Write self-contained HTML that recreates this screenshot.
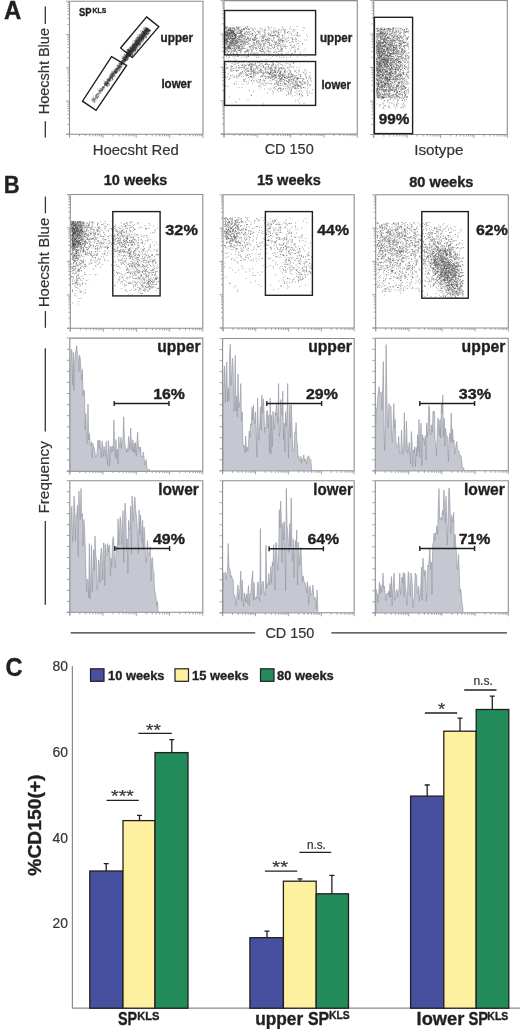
<!DOCTYPE html>
<html><head><meta charset="utf-8"><title>Figure</title>
<style>html,body{margin:0;padding:0;background:#fff;font-family:"Liberation Sans",sans-serif;width:520px;height:1029px;overflow:hidden}svg{display:block;will-change:transform}</style>
</head><body>
<svg width="520" height="1029" viewBox="0 0 520 1029" font-family="'Liberation Sans', sans-serif">
<rect width="520" height="1029" fill="#fff"/>
<defs><filter id="bl" x="-5%" y="-5%" width="110%" height="110%"><feGaussianBlur stdDeviation="0.35"/></filter></defs>
<text x="4" y="19.1" font-size="25" font-weight="bold" textLength="17.3" lengthAdjust="spacingAndGlyphs" fill="#231f20" stroke="#231f20" stroke-width="0.35">A</text>
<line x1="45.3" y1="6.5" x2="45.3" y2="24.1" stroke="#333" stroke-width="1.3"/>
<line x1="45.3" y1="121.3" x2="45.3" y2="137.6" stroke="#333" stroke-width="1.3"/>
<text x="48.7" y="114.3" font-size="15" textLength="86.3" lengthAdjust="spacingAndGlyphs" transform="rotate(-90 48.7 114.3)" fill="#333" stroke="#333" stroke-width="0.2">Hoecsht Blue</text>
<path d="M69.5 1.2H203V134.3" stroke="#8c8c8c" stroke-width="1.1" fill="none"/>
<path d="M69.5 1.2V137.3M66.5 134.3H203" stroke="#8c8c8c" stroke-width="1.1" fill="none"/>
<path d="M69.5 134.3v3.5M79.5 134.3v2M85.4 134.3v2M89.6 134.3v2M92.8 134.3v2M95.5 134.3v2M97.7 134.3v2M99.6 134.3v2M101.3 134.3v2M102.9 134.3v3.5M112.9 134.3v2M118.8 134.3v2M123.0 134.3v2M126.2 134.3v2M128.8 134.3v2M131.1 134.3v2M133.0 134.3v2M134.7 134.3v2M136.2 134.3v3.5M146.3 134.3v2M152.2 134.3v2M156.3 134.3v2M159.6 134.3v2M162.2 134.3v2M164.5 134.3v2M166.4 134.3v2M168.1 134.3v2M169.6 134.3v3.5M179.7 134.3v2M185.5 134.3v2M189.7 134.3v2M193.0 134.3v2M195.6 134.3v2M197.8 134.3v2M199.8 134.3v2M201.5 134.3v2M203.0 134.3v3.5" stroke="#9a9a9a" stroke-width="0.9" fill="none"/>
<path d="M69.5 134.3h-3.5M69.5 124.3h-2M69.5 118.4h-2M69.5 114.3h-2M69.5 111.0h-2M69.5 108.4h-2M69.5 106.2h-2M69.5 104.2h-2M69.5 102.5h-2M69.5 101.0h-3.5M69.5 91.0h-2M69.5 85.1h-2M69.5 81.0h-2M69.5 77.8h-2M69.5 75.1h-2M69.5 72.9h-2M69.5 71.0h-2M69.5 69.3h-2M69.5 67.8h-3.5M69.5 57.7h-2M69.5 51.9h-2M69.5 47.7h-2M69.5 44.5h-2M69.5 41.9h-2M69.5 39.6h-2M69.5 37.7h-2M69.5 36.0h-2M69.5 34.5h-3.5M69.5 24.5h-2M69.5 18.6h-2M69.5 14.4h-2M69.5 11.2h-2M69.5 8.6h-2M69.5 6.4h-2M69.5 4.4h-2M69.5 2.7h-2M69.5 1.2h-3.5" stroke="#9a9a9a" stroke-width="0.9" fill="none"/>
<g filter="url(#bl)">
<path d="M143 37.5h1m3 -3.5h1m-9 5h1m-3 4.5h1m-10 9.5h1m10 -11.5h1m-10.5 13.5h1m1.5 -5h1m3 -2.5h1m2 -12h1m0.5 -2.5h1m1 3h1m-6.5 8.5h1m-12 9h1m17.5 -19h1m-3.5 3.5h1m-6.5 7h1m1.5 -4h1m6 -4.5h1m-0.5 -2.5h1m-15.5 14h1m3.5 -8h1m-11 13.5h1m3 1h1m-1.5 -3h1m13 -17h1m-7 5.5h1m8 -7.5h1m-17.5 17h1m6 -8.5h1m-5 5h1m7 -15h1m-1 -0.5h1m-9 13.5h1m2.5 0.5h1m-1 -4h1m-5.5 10h1m-3 -2.5h1m4.5 -2.5h1m7 -10.5h1m-11 9.5h1m-2 0.5h1m-6.5 9h1m13.5 -14h1m0.5 -5.5h1m-10.5 10h1m-7 10h1m3.5 -7.5h1m12 -15h1m-2.5 0h1m-2.5 2h1m-2 0.5h1m-7.5 9h1m4.5 -5h1m-6.5 5h1m-6.5 10.5h1m7.5 -15h1m5 -5h1m-8 7h1m1.5 -0.5h1m7.5 -9.5h1m-20.5 20h1m9 -14.5h1m-9 14h1m-1.5 0.5h1m9 -12h1m-6 3h1m-7.5 11.5h1m1.5 -2h1m-4.5 1.5h1m11.5 -16h1m5.5 -5h1m-16 17.5h1m-1 0.5h1m-1 2h1m9 -10.5h1m-7 3.5h1m4.5 -4.5h1m-6 3h1m8.5 -10h1m-9 7h1m-7 12.5h1m10 -16.5h1m-5 1.5h1m-5 5.5h1m11 -15.5h1m-7 10.5h1m3.5 -4h1m-5.5 5h1m-11 10.5h1m15 -18.5h1m-17.5 19.5h1m-2 1.5h1m-2 -1.5h1m13 -16.5h1m-14.5 18h1m-1.5 -1h1m6.5 -4h1m3.5 -11h1m-12 14.5h1m12 -17h1m-7 10h1m1 -6.5h1m-5.5 6.5h1m10.5 -9.5h1m-10.5 10h1m5.5 -11h1m3.5 -5.5h1m-10.5 17h1m-3 -1.5h1m-3.5 5h1m15 -18h1m-19 21.5h1m9 -15h1m-7 4h1m-2.5 9h1m12 -19.5h1m-9.5 10h1m-10.5 13h1m13.5 -19h1m-12 14.5h1m-1 1.5h1m14 -21h1m-15 20h1m-5.5 0h1m18 -19h1m-13 13.5h1m2.5 -5h1m-1.5 4h1m4 -8h1m0.5 2.5h1m-10.5 10h1m8 -14.5h1m-8 8h1m-8.5 11h1m-1.5 1.5h1m15.5 -24h1m-18.5 25h1m11.5 -19.5h1m3 0.5h1m-16 19.5h1m1.5 -6h1m-5.5 2.5h1m21.5 -21h1m-15.5 16h1m-1 0h1m7.5 -12h1m-1.5 -2h1m-5 7.5h1m1 -5.5h1m1.5 1.5h1m-5.5 4h1m-7 10h1m10 -17h1m-6.5 5h1m-6 7h1m7.5 -6.5h1m-10.5 10h1m8 -11.5h1m3.5 -2.5h1m-9.5 7h1m-7.5 7.5h1m12 -16.5h1m-12 18h1m-5 3.5h1m3.5 -7h1m-6 6h1m15 -19.5h1m-10 14.5h1m-10.5 6h1m5.5 -8h1m7 -9.5h1m2.5 -2.5h1m2.5 -3h1m-11 12.5h1m-4.5 0h1m-7.5 6h1m4.5 -1h1m12 -15h1m-9 7h1m-3.5 3.5h1m0.5 -0.5h1m-6 2.5h1m13.5 -17.5h1m-9.5 14h1m-12 9.5h1m-0.5 2.5h1m5.5 -13h1m-9 12h1m4 -8h1m12.5 -13.5h1m-11 16h1m-5.5 2.5h1m3 -3.5h1m-4.5 0.5h1m-2.5 7.5h1m6 -11h1m9 -14.5h1m-6 8h1m-11.5 15h1m2.5 -7.5h1m-5 2.5h1m6.5 -7.5h1m-7 7h1m13.5 -18.5h1m-13.5 19h1m2.5 -4.5h1m8.5 -14.5h1m-2 1.5h1m-18.5 23h1m8 -10.5h1m-9.5 11.5h1m5 -12h1m2.5 1.5h1m-6 3h1m6.5 -7h1m0.5 -1.5h1m-8 9.5h1m1 -6h1m-1.5 -1h1m6 -4.5h1m-8.5 13h1m6.5 -13.5h1m-12.5 15.5h1m3 -8h1m8 -14h1m-14 21h1m-5.5 1h1m0 5h1m3 -11h1m-4 10.5h1m7.5 -13.5h1m6.5 -13h1m-16 23h1m13.5 -15h1m-3.5 -0.5h1m4 -5h1m-16.5 21h1m-3.5 -6h1m0.5 3h1m-1.5 -2h1m-1.5 5h1m12 -20h1m-13.5 18.5h1m-1 -4h1m-3.5 7.5h1m17.5 -26h1m-10.5 14.5h1m1.5 0.5h1m-11 9.5h1m11.5 -13.5h1m4 -4.5h1m-7.5 1.5h1m-5.5 8.5h1m-5.5 4.5h1m10.5 -16.5h1m-11.5 11.5h1m2 0h1m3.5 -5.5h1m-15.5 15h1m22 -23.5h1m-1.5 0.5h1m-11.5 11.5h1m-0.5 -2.5h1m7 -11h1m-2.5 1.5h1m-17.5 22h1m7 -12.5h1m-7.5 13.5h1m12 -19.5h1m-2.5 1.5h1m-7 8.5h1m6 -7h1m-8 6h1m1.5 -3.5h1m7 -7.5h1m-9 9h1m4 -4h1m-4 3.5h1m-6.5 9h1m-9.5 2h1m6 -6.5h1m-0.5 6h1m2 -13.5h1m0 1.5h1m-8 13h1m1 -5.5h1m-2 0.5h1m0.5 0.5h1m-5 4h1m-1.5 1h1m14 -17.5h1m-8.5 12.5h1m-4 -0.5h1m13 -18.5h1m-12 13h1m-6.5 6.5h1m5.5 -7.5h1m10 -10.5h1m-7 2h1m-6.5 11h1m11 -12.5h1m-6 6h1m-12.5 18.5h1m6 -20.5h1m-8 16h1m0 0h1m-5 0.5h1m8.5 -12.5h1m2 0h1m-12 12.5h1m0 1h1m-3 2h1m5.5 -10h1m3 -6.5h1m-11.5 14h1m0.5 0.5h1m6.5 -4.5h1m-13 6h1m2 -0.5h1m12 -17.5h1m-2 -1h1m-4 5.5h1m-2.5 3.5h1m8.5 -10h1m-1.5 -4h1m-7 11.5h1m-7 9h1m12.5 -18h1m-12.5 6h1m-6 13.5h1m15 -21h1m-20 21h1m9.5 -14.5h1m7.5 -7h1m-12 14h1m1 0.5h1m2 -7h1m-6 2.5h1m6.5 -10.5h1m0.5 2.5h1m1 -1h1m-10.5 8.5h1m-2.5 4.5h1m1 -3.5h1m-1.5 0.5h1m5.5 -6h1m-9 10.5h1m-6.5 9h1m-1.5 -2h1m5 -12h1m4 -4.5h1m-4.5 6h1m0 -2.5h1m1 4.5h1m-3.5 -0.5h1m6 -7h1m-8 2.5h1m3.5 -7.5h1m1 0h1m-10.5 10h1m1 8.5h1m-8.5 -2.5h1m3.5 -2h1m8 -12.5h1m-12 15.5h1m7 -9h1m6.5 -9h1m-14.5 18.5h1m6 -12h1m0.5 1h1m-2 -1.5h1m-9 10h1m-4 4h1m6 -8.5h1m2.5 -3h1m3.5 -4.5h1m-20.5 17h1m14 -18.5h1m-5.5 10h1m-3 2.5h1m-6.5 5h1m7.5 -8h1m8 -11.5h1m-9 8h1m6.5 -9h1m-12 20h1m-1.5 -2.5h1m-2 2.5h1m8 -18.5h1m-4.5 13.5h1m-5.5 3.5h1m3.5 -7h1m3 -3.5h1m0 -3h1m-0.5 -4h1m-13 19.5h1m-0.5 -9.5h1m5.5 -4.5h1m2 3h1m-16 11.5h1m8.5 -5h1m2.5 -9h1m-12.5 13.5h1m1 -2.5h1m7 -7.5h1m0.5 -1.5h1m1.5 -2h1m-6.5 0.5h1m-5.5 9.5h1m6.5 -9h1m-1.5 6.5h1m0.5 -5.5h1m-4.5 2.5h1m3.5 -7.5h1m4 -1.5h1m-13 12h1m-0.5 -1h1m5 -8h1m-5.5 7h1m4 -5.5h1m-6 5.5h1m-10 8h1m8 -8h1m7 -8.5h1m-1.5 -1.5h1m-7.5 12h1m2.5 -7.5h1m-5.5 3.5h1m2.5 -3.5h1m1 -5.5h1m-10 13h1m-12 15h1m6 -5.5h1m-4 4.5h1m1 -7h1m-4.5 6.5h1m0.5 1.5h1m1.5 -3.5h1m-1 -2h1m-3 -1h1m0 0h1m-4 6h1m1.5 -2.5h1m-2.5 -3.5h1m1.5 -0.5h1m-4 8h1m-3.5 -5.5h1m2.5 -4h1m-1.5 6.5h1m-2.5 -2h1m-0.5 4h1m-1 -3h1m1 -3.5h1m-3.5 6h1m0 -3h1m-1 -0.5h1m2 0h1m-4 1h1m1 -2.5h1m-4 5h1m-3 -0.5h1m0.5 1h1m-1.5 0.5h1m0.5 0h1m3 -7h1m-0.5 0h1m-4.5 3.5h1m0 -3.5h1m-3.5 5h1m1 -3.5h1m-2 3h1m3 -3.5h1m-3 -0.5h1m2 1.5h1m-6.5 0h1m-2 3h1m0 0.5h1m-1 -3h1m2.5 -1h1m-5 3h1m2.5 -3.5h1m-5.5 5h1m4.5 -7h1m-5 5h1m-1.5 -0.5h1m1.5 0.5h1m2 -2.5h1m-5 3h1m3 -4h1m-2 2h1m-2.5 -2h1m-4 2.5h1m1 -1h1m-3 2h1m-1.5 2h1m1 -4.5h1m0.5 1.5h1m-1.5 0h1m1 -1.5h1m-3.5 5.5h1m-3 -3h1m3 -2h1m-0.5 -2.5h1m-4.5 5h1m-1.5 2h1m1.5 -6h1m-0.5 2h1m-2.5 1.5h1m-1 -0.5h1m-1.5 -1h1m-1 1h1m-2 -0.5h1m-1 2h1m-1 2.5h1m-3 -4h1m2.5 1h1m-0.5 -2h1m-3.5 5h1m4.5 -6h1m-6.5 2h1m-3.5 2.5h1m4 -4.5h1m-1.5 -3h1m-4.5 9h1m-17.5 23h1m2 -4.5h1m-3 1h1m-5.5 3.5h1m7 -6h1m12.5 -17.5h1m-14.5 14h1m-1.5 1h1m1.5 0h1m-8 7.5h1m7.5 -11h1m-11 12h1m2.5 0.5h1m7 -14.5h1m-2.5 2h1m5.5 -10.5h1m-2 3h1m-7.5 7.5h1m7.5 -8h1m-7.5 5h1m-11 15h1m10 -14h1m-9 10h1m-4 5h1m13.5 -19h1m-8.5 9.5h1m-1.5 1.5h1m-5 4h1m-3 2h1m-1.5 1h1m4.5 -7h1m-5.5 5.5h1m7 -14h1m-11 16h1m15.5 -19h1m-6 3.5h1m-5.5 8.5h1m3 -5h1m-2.5 -0.5h1m-11 12.5h1m2 -1h1m15.5 -21.5h1m-0.5 -2.5h1m-14 21.5h1m11 -20h1m-18 22h1m2.5 -8h1m-4.5 9h1m17 -25h1m-15 19h1m8.5 -13.5h1m-3.5 1h1m0.5 -2h1m1.5 2.5h1m-17.5 18.5h1m5.5 -13h1m-4.5 9h1m-3.5 1.5h1m0.5 3.5h1m14 -23.5h1m-7 7.5h1m6.5 -11.5h1m-17.5 25.5h1m6.5 -9h1m9 -15h1m-20.5 25.5h1m17 -24h1m-6 8h1m-11.5 14.5h1m0.5 -5h1m9 -12.5h1m0 -2.5h1m-14 19.5h1m13 -19.5h1m-11.5 15.5h1m8 -14.5h1m-5.5 9.5h1m0.5 -6h1m-0.5 0h1m-8.5 12.5h1m-3 1h1m3 -5.5h1m-5.5 11h1m-0.5 -4.5h1m12 -17h1m2.5 -5h1m-4 3.5h1m-3.5 3h1m-9 9.5h1m3 -3.5h1m-1.5 1.5h1m-6 4.5h1m-4 5.5h1m15 -25.5h1m1 3.5h1m-19.5 20h1m13 -17.5h1m1.5 -5h1m-15 20h1m6.5 -6.5h1m7.5 -11.5h1m-6.5 6h1m1.5 -2.5h1m3 -4.5h1m-18 20.5h1m2.5 -6.5h1m-3 5h1m4 -4h1m8.5 -13.5h1m-15.5 18h1m-1 -2h1m11.5 -17h1m-11.5 15.5h1m9 -16h1m-5 5.5h1m-6.5 12.5h1m5.5 -15.5h1m-0.5 5h1m-5.5 3h1m7 -7h1m-8.5 9.5h1m2.5 -5.5h1m-4.5 3.5h1m6.5 -5.5h1m-0.5 -6h1m-4.5 2.5h1m-10.5 16h1m3.5 -7.5h1m8.5 -9h1m-12.5 11h1m7 -8h1m-0.5 -4h1m-14.5 21.5h1m0.5 -3h1m1.5 -2h1m-6.5 6h1m12.5 -13.5h1m-3 -2.5h1m-20 26.5h1m3.5 -6.5h1m-6.5 5.5h1m-3.5 5.5h1m9 -14h1m-4.5 5.5h1m0.5 -1h1m-9.5 12.5h1m8 -14.5h1m-6.5 3.5h1m-5 8.5h1m2 -5h1m8.5 -10h1m-12.5 15h1m3 -8.5h1m-2 6.5h1m4.5 -9h1m-10 11.5h1m5.5 -9.5h1m-7 8.5h1m4 -9h1m-2.5 2h1m-7 8h1m6 -9h1m-0.5 1.5h1m5.5 -5.5h1m-11.5 8.5h1m1.5 -3.5h1m5 -6h1m-11 12h1m6.5 -10.5h1m3.5 -3.5h1m-11 14.5h1" stroke="#111" stroke-opacity="0.33" stroke-width="1.1" fill="none"/>
<path d="M133.5 46.5h1m-1 -0.5h1m-1.5 1.5h1m9 -13.5h1m-6 8.5h1m7.5 -13h1m-9 14h1m-8.5 7h1m7.5 -13h1m-6 12h1m10.5 -15.5h1m-11 10.5h1m-7 9h1m13 -22.5h1m-0.5 4h1m-7.5 4.5h1m4.5 -3.5h1m2 -3h1m-12.5 10.5h1m9 -15h1m-11.5 17h1m-3 6.5h1m9.5 -15.5h1m-5 2h1m7 -10h1m-16 13.5h1m4 1h1m-5 7h1m7 -12.5h1m2.5 -4.5h1m-12.5 12.5h1m-1 6h1m9 -16h1m-17 18.5h1m7 -15h1m13.5 -8.5h1m-19 14.5h1m-2.5 6h1m6.5 -8.5h1m-1 -3h1m-10.5 12.5h1m17.5 -22h1m-18.5 24h1m8 -13h1m-6 5.5h1m9.5 -13h1m3 -4.5h1m-6 8.5h1m-0.5 -4.5h1m0.5 4h1m-12.5 9.5h1m-0.5 0.5h1m4.5 -4.5h1m-6 0.5h1m-3.5 7.5h1m12 -18h1m-15.5 22.5h1m15 -25h1m-8 9h1m-0.5 3.5h1m7.5 -13h1m-13 15h1m0.5 -2.5h1m-9 13.5h1m-2 -4h1m13 -19h1m-12.5 18h1m10 -19h1m3 0h1m-1.5 1h1m-3 3.5h1m-3 1.5h1m-10.5 12h1m15 -18.5h1m-0.5 3h1m-4 -1.5h1m-17.5 22.5h1m3.5 -8.5h1m3.5 -4.5h1m6.5 -7.5h1m-7 4.5h1m-8.5 17h1m3 -12h1m-6.5 4.5h1m5 0.5h1m-5.5 0.5h1m0 -5.5h1m-2.5 3.5h1m-1 5h1m-3.5 0.5h1m12.5 -17h1m-9 11.5h1m-1.5 -1h1m-5 9.5h1m14.5 -21.5h1m-11.5 9.5h1m-5.5 10h1m14.5 -25.5h1m0.5 2h1m-16 17.5h1m6 -10h1m-11 11h1m3.5 1.5h1m0.5 -9.5h1m10.5 -10.5h1m-15.5 14.5h1m-4 10h1m-2.5 -0.5h1m11.5 -16.5h1m3.5 -8h1m-2 3.5h1m-5.5 7.5h1m-7.5 4h1m12.5 -16h1m-9 9.5h1m-2 -0.5h1m-8 14.5h1m4.5 -14.5h1m-5 10.5h1m5.5 -10h1m-7 8h1m13 -15.5h1m-3.5 1.5h1m-9 8.5h1m-0.5 3h1m-2.5 -0.5h1m0.5 -3h1m3.5 -8h1m-1 5.5h1m-5 6.5h1m-9.5 10h1m-2 -1h1m20 -24h1m-14.5 12.5h1m5 -2.5h1m-1 -4h1m-5.5 6.5h1m11 -11.5h1m-1 1h1m-16 16.5h1m3 -6h1m4.5 -10.5h1m-10.5 16.5h1m9 -15.5h1m-1 0h1m-15.5 23.5h1m13 -22.5h1m3.5 -2.5h1m-12.5 12.5h1m-5 7.5h1m6.5 -8h1m-4.5 3.5h1m-8.5 4.5h1m-1.5 0h1m18 -19.5h1m-14.5 16.5h1m-5 5h1m-0.5 -5h1m6 -12h1m-11 16h1m16.5 -19h1m-10.5 15.5h1m-5.5 1.5h1m3 -6.5h1m-9 6h1m11 -9.5h1m3.5 -4.5h1m-14.5 18.5h1m-0.5 0.5h1m9.5 -16.5h1m1 -1.5h1m4 -5.5h1m-3.5 0.5h1m0 -2.5h1m-3 5h1m-5 7h1m-11 10.5h1m13 -17.5h1m-5 6.5h1m3 -4.5h1m-2.5 -0.5h1m-16.5 17h1m2 1.5h1m12.5 -16h1m0 -6.5h1m2 -2.5h1m-20.5 23.5h1m12 -13.5h1m-5.5 8h1m-7 1.5h1m3 0h1m8.5 -10.5h1m-16.5 17h1m12.5 -20h1m-0.5 -0.5h1m-3 1.5h1m5 -6.5h1m-4 5h1m-13 12h1m1.5 -2.5h1m9.5 -9.5h1m-10 9h1m0 -1h1m4.5 -5.5h1m-13 15h1m7.5 -10h1m-1.5 -5.5h1m-9 18h1m16.5 -25.5h1m-9 12h1m-5.5 5.5h1m7.5 -14.5h1m-10 18h1m2.5 -12h1m1 -7h1m-6 13.5h1m-8.5 7h1m6.5 -1.5h1m0 -7h1m5 -5h1m-4.5 4.5h1m1.5 -7h1m2.5 -1.5h1m-14 19h1m3 -8h1m-6 4h1m8 -7.5h1m-3 -2h1m8.5 -10h1m-1.5 2.5h1m-2 -1.5h1m-6.5 8.5h1m-2.5 4h1m8.5 -13h1m-1.5 0.5h1m-17.5 21.5h1m15 -22h1m-5 6h1m0.5 -2h1m-3 0.5h1m-6.5 8h1m4 -5.5h1m-12.5 13.5h1m9 -12.5h1m-10 11.5h1m14 -18h1m-3.5 1h1m0 -3.5h1m-3.5 7.5h1m-15 15h1m14.5 -19.5h1m-5 9.5h1m-1.5 0h1m5 -6.5h1m-11 9h1m-1.5 2h1m2.5 -5h1m-3 4.5h1m-7 7h1m4.5 -5.5h1m-5.5 5.5h1m-4 0.5h1m7 -9h1m6 -8h1m-8.5 10h1m-2 -0.5h1m-4 10.5h1m-2.5 -7.5h1m5.5 -4h1m-4 0.5h1m-3.5 1h1m1 4h1m3 -6.5h1m6 -11.5h1m-16.5 18h1m3 -3.5h1m4.5 -3h1m-3.5 2h1m2 -4h1m2 -10h1m-4.5 10h1m7.5 -11.5h1m-9.5 12.5h1m-2 1.5h1m-7 5.5h1m13 -17h1m-13.5 16.5h1m9 -10.5h1m1 -10.5h1m-11 15h1m-4 4h1m-2 3h1m-3 -0.5h1m-3 5h1m15 -21.5h1m-3 3.5h1m-10.5 11h1m12.5 -16h1m-14.5 18.5h1m0 -1.5h1m9.5 -14h1m-9.5 8h1m7 -4h1m-11.5 9.5h1m4.5 -4.5h1m6 -14.5h1m-6 8h1m1 1.5h1m-10.5 8.5h1m3 -1h1m2.5 -5h1m-1.5 -5h1m-9 16h1m10.5 -16h1m-10 10.5h1m-6.5 3.5h1m9.5 -7.5h1m-8.5 9h1m10 -14.5h1m-9.5 8h1m-5 6.5h1m9 -14.5h1m-6.5 13h1m-2 -3h1m2.5 -7h1m-8 10.5h1m-4 0.5h1m15.5 -18.5h1m-17 20.5h1m15 -19.5h1m0 -0.5h1m-15 21h1m3 -6h1m-1 -1h1m-1.5 3h1m2 -1.5h1m-0.5 -2.5h1m0 -6.5h1m-8.5 14h1m11.5 -18h1m-1 -2.5h1m-0.5 2.5h1m-9.5 9h1m13 -13.5h1m-6.5 1.5h1m-8 14h1m3.5 -12h1m1.5 -1h1m-15 18.5h1m16 -21.5h1m-7 8.5h1m0.5 -2.5h1m3 -6.5h1m-10.5 10h1m-3.5 2.5h1m9.5 -12.5h1m-2.5 8h1m-0.5 -6h1m-9 15h1m6 -11.5h1m1 2.5h1m-6 1.5h1m4 -8.5h1m-4 4h1m-0.5 3.5h1m-5 1.5h1m-3 2h1m-7.5 8h1m12.5 -17h1m-12.5 18.5h1m6.5 -13.5h1m-12.5 11.5h1m4.5 2h1m13.5 -21.5h1m-8 11.5h1m0.5 -2.5h1m-2 0.5h1m4.5 -9h1m-18 25h1m15 -22.5h1m-11.5 13.5h1m-12.5 12.5h1m0.5 -1h1m5.5 -3.5h1m-8 6h1m0 -1.5h1m0 -4h1m-4 4h1m4 -7h1m-2.5 4h1m-3 1.5h1m2.5 -3.5h1m-3.5 1.5h1m2 -2h1m-1.5 1.5h1m-4 0h1m-2 5.5h1m1.5 -5h1m0 1h1m0 -2.5h1m-0.5 0.5h1m-0.5 -1h1m-5 3.5h1m2 -5h1m-2 2h1m-4.5 6h1m2 -3h1m-0.5 -1.5h1m-2.5 -0.5h1m0.5 0.5h1m-3 1h1m0.5 -2.5h1m-2 3h1m-2 2.5h1m-2 -2.5h1m2.5 -3.5h1m-1.5 0.5h1m0 0h1m-1 0h1m-5 3.5h1m-2 -0.5h1m0.5 -1h1m-2.5 3.5h1m2 -3.5h1m-2 4h1m-2 -4.5h1m3.5 -3.5h1m-6 7.5h1m-1 -0.5h1m3.5 -7.5h1m-4 5h1m3.5 -4h1m0 1h1m-3.5 0.5h1m-3.5 0.5h1m-2.5 4h1m-2 0.5h1m5.5 -5h1m-2.5 -1h1m-3.5 4h1m2 -5.5h1m-5.5 8.5h1m1.5 -4h1m2 -1.5h1m-1.5 -1h1m-7 6h1m1.5 -3h1m1 -0.5h1m-2 1.5h1m0 -2.5h1m-0.5 -1h1m-3 3.5h1m0.5 -3h1m2 -1.5h1m-6 6.5h1m1.5 -4.5h1m-0.5 1h1m-6 1h1m-2 3h1m7.5 -5h1m-7.5 3h1m0 -2.5h1m4 -0.5h1m-2.5 -1.5h1m0 0.5h1m-5.5 5.5h1m-5.5 -1.5h1m5 -3.5h1m-2 6h1m3 -6.5h1m-7 7h1m2 -6.5h1m-4.5 0h1m4.5 0h1m-6.5 3h1m2.5 -3.5h1m-2 2h1m0 -2h1m-4.5 6h1m2.5 -2.5h1m-4.5 1h1m0 2h1m-4.5 3.5h1m-15 18.5h1m15 -21.5h1m-13 14.5h1m2.5 -4.5h1m-4.5 7h1m-6 2h1m1.5 -2.5h1m5 -4.5h1m2.5 -6.5h1m-3 5h1m-12 13.5h1m4.5 -7h1m9.5 -13.5h1m-3.5 0.5h1m-10.5 15h1m13.5 -19.5h1m-13 16h1m11 -16.5h1m-16 16.5h1m12.5 -13h1m-4.5 2.5h1m-3.5 3.5h1m-7 6.5h1m11.5 -13.5h1m-12 12h1m-6 7h1m5 -7h1m-3.5 -1.5h1m-2.5 4.5h1m11.5 -14.5h1m-9 9h1m7.5 -8.5h1m-13 11.5h1m-1 2.5h1m-3 5.5h1m1 -3h1m13.5 -21h1m-14 15h1m6 -6.5h1m0.5 -2.5h1m-9.5 9h1m-6.5 12h1m4 -9.5h1m8 -14.5h1m-9 12.5h1m4 -6.5h1m-9 11.5h1m5.5 -9.5h1m2.5 0h1m0 -3h1m-14 16.5h1m-3.5 -0.5h1m13 -14.5h1m-0.5 -2h1m2 -2.5h1m-15.5 15h1m9.5 -12.5h1m0.5 -0.5h1m-13.5 16.5h1m3.5 -9h1m8 -9h1m-15 17h1m4.5 -5h1m2 -5h1m-4.5 5h1m-0.5 -2h1m10 -14.5h1m1 -1.5h1m-6 9.5h1m-7 4h1m1.5 -3.5h1m1 2.5h1m0.5 -6h1m4 -6h1m-1 1.5h1m-20.5 24.5h1m9.5 -12h1m8 -15h1m-14.5 18.5h1m7 -11h1m4 -5h1m-12.5 13.5h1m1 -1h1m5.5 -8.5h1m-12 10h1m-5 7h1m14.5 -21h1m0 0h1m0 1h1m-16.5 19h1m13 -19.5h1m-7.5 8h1m-0.5 1h1m-1 -1.5h1m-6.5 6.5h1m4.5 -5h1m-3 3h1m-1.5 -2h1m2 -1.5h1m0.5 -0.5h1m-2.5 1.5h1m-2.5 -1h1m-3 6h1m2.5 -4.5h1m-11.5 14h1m12 -19h1m-12.5 12.5h1m11 -13.5h1m-8.5 8h1m-4.5 3h1m4 -4h1m4.5 -8.5h1m-1 2h1m-3 3h1m-13 15.5h1m-1.5 -0.5h1m-10.5 12.5h1m9.5 -11.5h1m-2.5 0.5h1m-12 15.5h1m-1.5 -2.5h1m3 0h1m7 -15h1m-12.5 18.5h1m-1 0.5h1m-1 -3h1m-1.5 -3h1m2 1h1m2 -3h1m-3.5 2h1m-3.5 4.5h1m4.5 -8h1m-5.5 4h1m5 -7.5h1m-5 0h1m7 -4h1m-6 6h1m-5.5 4h1m1.5 1.5h1m-3 0.5h1m5 -7.5h1m-7 4.5h1m6 -7h1m-12.5 11h1m7 -7h1m1.5 -0.5h1m-2.5 0h1m5 -4.5h1" stroke="#111" stroke-opacity="0.33" stroke-width="1.1" fill="none"/>
<path d="M145 34.5h1m-13 14.5h1m1 -9h1m-1.5 7.5h1m10 -15h1m-7 6.5h1m-8 9.5h1m-1 -3h1m12.5 -14.5h1m-4 -1.5h1m-10 16h1m11 -16.5h1m-2.5 3.5h1m-14.5 16h1m-4 2.5h1m0.5 0.5h1m16 -22h1m-10.5 10.5h1m-8.5 15h1m2 -7.5h1m-2.5 3h1m-4 4.5h1m12.5 -17h1m3 -8.5h1m-4.5 7.5h1m-11 13.5h1m9.5 -14h1m-8.5 4.5h1m9 -7h1m-7 10.5h1m-1 -8.5h1m-5 8h1m-7.5 9h1m-1 -1h1m1.5 -2h1m-0.5 3h1m-3 2.5h1m11.5 -17.5h1m0.5 -2.5h1m-3 1.5h1m5 -6.5h1m-9.5 10.5h1m6 -10h1m-3.5 3.5h1m-9.5 15h1m9.5 -20.5h1m-12.5 15h1m0.5 5h1m5 -16h1m-5.5 12h1m3 -9h1m-11.5 13h1m14 -16h1m-4 0h1m-12 19.5h1m7 -10h1m4 -8.5h1m-7.5 11h1m-5 -4h1m0.5 5.5h1m8 -11.5h1m-17.5 18h1m0 -2.5h1m10 -11.5h1m-10 15.5h1m17 -24h1m-1 0.5h1m-21 23h1m16 -22.5h1m-11.5 14h1m-1 1.5h1m-10 7h1m15.5 -22.5h1m2 2.5h1m-14.5 15.5h1m11 -16.5h1m-10.5 9.5h1m10.5 -9h1m-1.5 -4.5h1m-14 17h1m-1.5 7h1m0.5 -5.5h1m-2.5 3.5h1m-4.5 4.5h1m6.5 -8.5h1m3.5 -8h1m-3.5 4h1m7 -13h1m-17 23.5h1m2.5 -8.5h1m1 0.5h1m9.5 -16h1m-12.5 17h1m2 -6h1m6 -11h1m-8.5 12h1m6 -10h1m0.5 -0.5h1m-17 20h1m-2 1h1m2.5 -7.5h1m15 -14h1m-3.5 4.5h1m-1 1.5h1m-19 16h1m3.5 -2.5h1m6 -10h1m-9 7h1m11 -12.5h1m-16 19.5h1m6 -9.5h1m6.5 -11h1m-2 -0.5h1m-2 4.5h1m-4.5 4.5h1m7.5 -8.5h1m-0.5 -4h1m-10.5 9.5h1m-6 7h1m16 -16.5h1m-20.5 22.5h1m0 3h1m10.5 -21h1m-3.5 9h1m-3.5 1h1m-7.5 5h1m4.5 -6.5h1m8.5 -11h1m-14 14.5h1m4 -3.5h1m-8 8.5h1m3 -5h1m12 -17h1m-17 22h1m10.5 -19h1m-16 19.5h1m16.5 -21h1m-6.5 6.5h1m-4 0.5h1m9 -7h1m-16 17h1m6.5 -9h1m-8 8h1m-6 6h1m16 -18.5h1m-1.5 -0.5h1m-9.5 13.5h1m1.5 -2h1m5 -9h1m-0.5 -9h1m-9 18.5h1m4.5 -7h1m0 -0.5h1m-2 -3h1m-6.5 6.5h1m7 -11h1m-5 5h1m6 -4h1m-12.5 16h1m5 -14h1m-7 9.5h1m2.5 -2.5h1m-3 0h1m-2 0h1m7 -9.5h1m-6 7h1m-10.5 10.5h1m5 -7h1m7 -6.5h1m0.5 -3h1m1.5 -1h1m-5.5 9h1m-12 10h1m12 -17h1m-8.5 12.5h1m-10 2.5h1m17.5 -18.5h1m-5.5 2.5h1m0.5 0.5h1m-1.5 2.5h1m-3.5 3.5h1m4.5 -8h1m-9 10h1m-7 9.5h1m3.5 -8.5h1m4.5 -7h1m-2.5 6h1m-6.5 3.5h1m-9 6h1m11 -12.5h1m6.5 -5.5h1m-1 -1h1m-5.5 3.5h1m1 -4h1m-15 18h1m14 -14h1m-17 19h1m5.5 -9.5h1m-6 7.5h1m15 -21h1m-20.5 23h1m1.5 1.5h1m7 -20.5h1m2 3h1m-12 17.5h1m1 -6h1m8.5 -13h1m-14 16h1m7 -10h1m-1.5 2.5h1m8.5 -15h1m0 0.5h1m-1 -1h1m-20.5 25.5h1m15 -18h1m-3 0.5h1m-4.5 3h1m-0.5 2.5h1m-10.5 6h1m4 4.5h1m4 -15h1m3 -6.5h1m-11.5 18.5h1m4.5 -11.5h1m4.5 -5.5h1m-8 12.5h1m3.5 -8.5h1m-10 10h1m4 -0.5h1m-9.5 9h1m3 -1.5h1m11.5 -22h1m-2 0.5h1m-12.5 19h1m13.5 -21.5h1m-17.5 18.5h1m10.5 -7.5h1m-12.5 9h1m10 -11.5h1m-7 9h1m-4.5 -4h1m-3 7h1m16.5 -21.5h1m-3.5 5h1m-3 -2.5h1m-17 18h1m6.5 0h1m9.5 -20.5h1m-17 22.5h1m5 -4h1m4.5 -8h1m-12 14h1m14.5 -21h1m0 2h1m-17.5 15h1m6 -10h1m4.5 -3.5h1m2 -3h1m0 -4.5h1m-4 0h1m-8 18.5h1m-1 -3h1m1 -0.5h1m-9 8h1m1.5 -4h1m9 -8.5h1m-12 11.5h1m4.5 -7.5h1m1 2h1m1.5 -5h1m-13 13.5h1m-1 0h1m6.5 -7.5h1m-7 6.5h1m1.5 -4.5h1m11 -13.5h1m3.5 -4h1m-18.5 18.5h1m-1.5 1h1m5 -5.5h1m3 -13h1m-4 7.5h1m-7 8.5h1m13 -16.5h1m-10.5 10h1m5.5 -7.5h1m-9.5 13h1m11 -17h1m-18 23h1m13 -20h1m-13.5 17.5h1m-5.5 2.5h1m10.5 -12h1m1 -7h1m-9.5 15.5h1m11 -16.5h1m-12.5 18.5h1m-3 0h1m14.5 -19.5h1m-15 18.5h1m14.5 -17h1m-4 3.5h1m-12 14.5h1m8.5 -14.5h1m1 -4h1m-18.5 19.5h1m14 -19.5h1m-17 18.5h1m11 -11h1m1 -3h1m-6.5 6.5h1m-1 2h1m-6.5 6h1m-1 -0.5h1m2 -1h1m-1.5 -3h1m10.5 -11.5h1m1 -6h1m-18 21.5h1m8 -11h1m-6.5 8.5h1m-5.5 2.5h1m16 -15h1m-13 12.5h1m9.5 -13.5h1m-0.5 1.5h1m3 -7h1m-14.5 21h1m-3.5 -3.5h1m7.5 -13.5h1m-7 15h1m11 -17h1m-17.5 17.5h1m3 0h1m-3.5 1h1m10.5 -15.5h1m2 -4.5h1m-12 11h1m4.5 -1h1m-5 4.5h1m1.5 -7h1m-3.5 3.5h1m-2 6h1m11.5 -16.5h1m-1.5 -1.5h1m-11.5 17h1m9 -17.5h1m-5 4h1m-3 5h1m1 0h1m-3.5 2h1m-9 11h1m12.5 -20h1m-16 20.5h1m5.5 -8.5h1m5 -6.5h1m-13 13.5h1m-0.5 -2h1m-1.5 0h1m-2.5 7h1m16.5 -25h1m-19 24.5h1m7 -8h1m3.5 -8h1m-5 3h1m-7.5 8h1m6.5 -8.5h1m-12 12h1m0 0.5h1m-2 -1h1m4.5 -4h1m-4 3.5h1m3 -5.5h1m-3 0.5h1m10 -13h1m-14.5 19h1m13 -18.5h1m3.5 -4.5h1m-17 18.5h1m-5 5.5h1m13 -19h1m-15.5 17h1m2 -4.5h1m-3.5 5h1m2 -0.5h1m6 -13.5h1m-2 3h1m-12 15h1m-2.5 4.5h1m-2.5 -2.5h1m0.5 3h1m2.5 -4.5h1m-3 1h1m-2 1h1m1 -5.5h1m0 2.5h1m-0.5 -3.5h1m-3.5 4.5h1m0 -2.5h1m-2 1.5h1m-0.5 -2h1m-3.5 6.5h1m-1.5 -0.5h1m2 -4.5h1m-1 0h1m-3.5 0h1m-0.5 4.5h1m3 -4.5h1m-2 1h1m0 -1h1m-5 3h1m1 -7h1m-2 5.5h1m-1.5 1h1m-3.5 1h1m0 -4.5h1m1 2h1m2 -4h1m-2.5 3.5h1m-2 2h1m1 -3h1m-6.5 3.5h1m0.5 -0.5h1m1 -3h1m0 1.5h1m-5 2.5h1m0 1h1m-2.5 -0.5h1m-2 -1h1m1.5 2.5h1m0 -3h1m2 -4h1m-1 4h1m-5 3.5h1m3 -6h1m-0.5 -2h1m-2 -1h1m-1 3h1m-4.5 4.5h1m-1 -1.5h1m2.5 -1.5h1m-3.5 3h1m1.5 -6.5h1m1 -1h1m-5 2.5h1m2.5 1h1m-2 2h1m0 -5.5h1m-2.5 1.5h1m-2 5h1m-1 -3.5h1m-4 4h1m2.5 -4h1m-2.5 0h1m1 -2h1m-4 5h1m4.5 -5h1m-8 7h1m0 -0.5h1m-1 0h1m1.5 -2.5h1m-4 3.5h1m1 -1.5h1m-3 -0.5h1m2 -5h1m-1 2.5h1m-3.5 3.5h1m-2.5 0h1m1 -2.5h1m3 -4h1m-0.5 -1h1m-0.5 2h1m-2 -0.5h1m-4.5 3h1m-1.5 -1h1m0 -0.5h1m0.5 1h1m-3.5 4h1m2.5 -4h1m1 -2.5h1m-3.5 0.5h1m0.5 1.5h1m-1.5 1h1m-3 0h1m-2 0.5h1m-5 1.5h1m4.5 -5h1m-3 5.5h1m3 -5.5h1m-2 1.5h1m-6 4h1m4 -3.5h1m-4 2.5h1m0 -1.5h1m3.5 -3h1m-7 6.5h1m3.5 -5.5h1m-9 2h1m2.5 2.5h1m1.5 -3h1m-22.5 27.5h1m1.5 0.5h1m11.5 -21.5h1m-11.5 13h1m-6 9.5h1m1.5 -2.5h1m-3 2h1m18.5 -25h1m-15.5 12.5h1m2 -1h1m-2.5 3h1m-4 7h1m5.5 -11.5h1m-7 9h1m-2.5 1.5h1m5.5 -8h1m4 -9h1m-15.5 20h1m-1 1.5h1m3.5 -6.5h1m-4 4h1m-3 2.5h1m12 -16h1m5 -10h1m-3.5 3.5h1m1.5 -1.5h1m-17.5 20h1m11 -15h1m-6.5 5.5h1m-9.5 13h1m0 -1.5h1m8.5 -17h1m3.5 2.5h1m2.5 -10.5h1m-13 21h1m2 -6h1m-10 13h1m9 -14.5h1m-6.5 8.5h1m5 -8h1m-6 6h1m10 -15.5h1m-5 4.5h1m0 -3h1m3 -4h1m-13.5 17.5h1m-3 4h1m0 -3.5h1m13 -17.5h1m-8 5h1m4 -2.5h1m-11 13.5h1m-5.5 3.5h1m5 -6.5h1m-3.5 5h1m3 -9h1m8.5 -10h1m-14.5 18h1m-1 1h1m9 -11.5h1m-5.5 4.5h1m-9.5 11.5h1m3.5 -10.5h1m-8.5 11.5h1m6 -8.5h1m-5 5.5h1m-3.5 3h1m7.5 -8.5h1m0.5 -3.5h1m8 -9h1m-11 9.5h1m-1 -1.5h1m-8 12.5h1m-2 -2.5h1m14.5 -20h1m-5 7.5h1m-2.5 2.5h1m4.5 -7.5h1m-14 16h1m-2 1h1m3 -0.5h1m3 -6.5h1m6 -12h1m-9 9h1m-3 2.5h1m5 -5h1m-3.5 5h1m-5 1h1m7 -10.5h1m-8.5 9.5h1m-1 2.5h1m7.5 -10.5h1m-2.5 0.5h1m-8.5 7h1m-1 1.5h1m0 3h1m0.5 -5.5h1m9.5 -11.5h1m-7 10h1m6 -10.5h1m-6.5 5h1m-2.5 3h1m1 -2.5h1m-13 13.5h1m6 -12h1m-12 16h1m0.5 1.5h1m6.5 -10h1m6.5 -11.5h1m-6 6.5h1m-14 15.5h1m17 -21.5h1m1.5 -0.5h1m-9.5 11.5h1m-4.5 1h1m5 -13h1m-8.5 16.5h1m9.5 -16h1m-11 11h1m-5 7.5h1m13 -17.5h1m-15 17h1m5 -7.5h1m-0.5 1h1m-4 0h1m10 -11h1m-16.5 21.5h1m13.5 -19.5h1m1.5 -3h1m2.5 -2h1m-4 2h1m-15 15h1m6.5 -7.5h1m1.5 -5h1m-6.5 9h1m8 -13.5h1m-15.5 18.5h1m10 -11.5h1m0.5 -6h1m-10 14h1m-18 21h1m5 -8h1m-10.5 13.5h1m6 -9h1m2 -4.5h1m0.5 -0.5h1m-0.5 -1.5h1m-6.5 8h1m-6.5 5.5h1m-1 0.5h1m9.5 -10.5h1m-1 -2.5h1m-9 11h1m6 -10.5h1m-7.5 7.5h1m-4.5 6.5h1m5.5 -10.5h1m6 -7.5h1m-13.5 17.5h1m6 -12h1m-5 11.5h1m4 -12.5h1m-3 4h1m0 -0.5h1m-1 -2h1m0 -1h1m-8.5 14.5h1" stroke="#111" stroke-opacity="0.33" stroke-width="1.1" fill="none"/>
<path d="M141.5 42h1m-2.5 -3h1m-12.5 9.5h1m17.5 -18.5h1m-21 24h1m4 -8h1m7.5 -8h1m0 -4h1m-5 8.5h1m1 -4h1m-1.5 4.5h1m-4 0h1m-8 9.5h1m6.5 -11.5h1m-1 3.5h1m1 -1.5h1m5 -11h1m-13.5 15.5h1m11.5 -13.5h1m-3 6h1m-0.5 -1.5h1m-2.5 -5h1m-13 20.5h1m12 -19.5h1m-11 12.5h1m4.5 -1h1m-4.5 5.5h1m11 -20h1m-8 7.5h1m4 -10.5h1m-6.5 9.5h1m5 -6h1m-2.5 1h1m0 0h1m-6 10h1m-10.5 7h1m17 -20.5h1m-3.5 3.5h1m-9 10.5h1m0.5 0h1m-5.5 2.5h1m-3 3h1m3 -10h1m-9 13h1m13.5 -15h1m-4.5 -2h1m-13 19.5h1m3.5 -5.5h1m6.5 -6.5h1m4 -10h1m-15 19h1m9 -15.5h1m-11.5 13.5h1m9 -12.5h1m5 -5h1m-9 12h1m-6.5 4h1m12.5 -10h1m-0.5 -6.5h1m-8.5 6h1m-2 0.5h1m5 -4h1m-12 14.5h1m2.5 -1h1m-2.5 -4h1m-5.5 7h1m1.5 -3h1m-4 4h1m0 0h1m4.5 -8.5h1m5 -8.5h1m-11.5 16h1m11 -14.5h1m-1 -0.5h1m-9 8h1m10.5 -14.5h1m-17 22.5h1m10 -13.5h1m-3.5 0.5h1m-5.5 7h1m5.5 -7.5h1m-12.5 13h1m12.5 -19h1m-14.5 17.5h1m4 -4.5h1m4.5 -4.5h1m5.5 -11h1m-18.5 19h1m8 -8h1m2.5 -3h1m-3.5 -2.5h1m4 -3h1m-12 11.5h1m2 -1h1m-3 0.5h1m9.5 -11.5h1m-12 12.5h1m9.5 -10.5h1m-17 22h1m17 -26h1m-19.5 22.5h1m6 -12h1m7.5 -8h1m-15.5 19.5h1m9.5 -8h1m-2 -5h1m-10.5 15h1m16 -25.5h1m-3 7h1m-3.5 3.5h1m-8.5 7h1m7 -10.5h1m1 -2.5h1m0.5 5.5h1m-14 9h1m13.5 -16h1m-16 17h1m1 -1h1m8.5 -13h1m-7.5 7.5h1m8 -12h1m-18.5 23h1m9 -12h1m-13.5 11h1m20 -20h1m-12 14h1m3 -3h1m6.5 -13h1m-9.5 9.5h1m-4 3h1m-5.5 4h1m14.5 -13h1m-3.5 0h1m-3 1.5h1m3 -4.5h1m-20.5 24h1m14.5 -17.5h1m0.5 -4h1m1 -0.5h1m-5.5 4.5h1m-8.5 9.5h1m-2 -2h1m14.5 -13.5h1m-6.5 5h1m-9.5 13.5h1m7 -15h1m0.5 -1h1m-12 14.5h1m-3.5 3h1m-2.5 1.5h1m-1 -1h1m1.5 -3h1m5 -9.5h1m9 -6.5h1m-2.5 0h1m-15 12.5h1m11 -10h1m0.5 -5h1m-2.5 5.5h1m-3 -2h1m-1 -0.5h1m-7 6h1m-3 8h1m-5.5 4h1m5 -3.5h1m-5.5 3h1m13.5 -18h1m-13 15.5h1m5.5 -8h1m-12.5 15.5h1m12 -20.5h1m-14.5 21h1m8.5 -16.5h1m5 -9h1m-2.5 6.5h1m3 -7.5h1m-12 14.5h1m9.5 -13.5h1m-11.5 14h1m10 -14h1m-3.5 1h1m-6 8h1m-5.5 7.5h1m-8 8h1m18 -24h1m-3.5 5h1m-7.5 6h1m6 -8.5h1m-9.5 11.5h1m10 -12.5h1m-10.5 10.5h1m0 -1h1m5.5 -9h1m-8 10h1m-8.5 7.5h1m-4 3.5h1m3.5 -5.5h1m14.5 -19.5h1m-8.5 8h1m4.5 -2h1m-12 9h1m0 0h1m-4.5 2h1m0.5 -2h1m10.5 -9h1m-5.5 3h1m-5.5 3.5h1m-9 14h1m12 -16.5h1m-10.5 16h1m9 -21.5h1m0.5 2.5h1m1.5 -7.5h1m-10 17h1m0 -1h1m-7.5 7h1m2.5 -1.5h1m-1 -1h1m8.5 -13h1m-12 14.5h1m2.5 -9.5h1m-4 4.5h1m-3 5.5h1m9 -16h1m-11 13.5h1m10 -14.5h1m-8 8h1m5.5 -10.5h1m-3 7.5h1m-8 10h1m13.5 -19.5h1m-20.5 24h1m1.5 -4h1m0 -0.5h1m4.5 -11.5h1m-8 15.5h1m-1 -1h1m-2.5 0.5h1m2.5 -5h1m9.5 -14h1m6 -3h1m-6.5 0h1m-11.5 16.5h1m0.5 -4.5h1m6 -7h1m-10 12h1m14 -17.5h1m-10 8h1m-8 18h1m10 -16.5h1m-8.5 3h1m6.5 -9.5h1m-2 0.5h1m6.5 -1h1m-10 5h1m-1 0h1m0.5 -1h1m4 -6.5h1m-18.5 21h1m10 -9h1m-2 -6h1m1 -2h1m-2 1.5h1m-0.5 3.5h1m2.5 -8.5h1m0.5 2.5h1m-1 4.5h1m-20.5 17h1m3 -1h1m15.5 -19h1m-13.5 10h1m-0.5 -1.5h1m2.5 -7.5h1m-2 6h1m8.5 -12.5h1m-10.5 15h1m6 -14h1m-1.5 4.5h1m-19.5 17h1m17 -15h1m-0.5 -2.5h1m-9.5 11.5h1m-5 5.5h1m9 -17.5h1m-4 9h1m-1 -4h1m-5 9.5h1m3 -6h1m-12 10h1m1 -1.5h1m3 0.5h1m14.5 -20.5h1m-15 21h1m5 -11.5h1m-9 9.5h1m-4 5.5h1m5.5 -7h1m-0.5 -3.5h1m-6 7.5h1m3 -8.5h1m-4 1.5h1m-6 10.5h1m16.5 -23.5h1m-4 2.5h1m2.5 0h1m-2.5 2h1m-11 8.5h1m0 5.5h1m-4.5 0h1m-2.5 4h1m-1.5 2h1m-4 -1.5h1m8 -11h1m-7.5 8h1m-1 2.5h1m2 -4.5h1m0.5 -3.5h1m7.5 -11.5h1m1 -1h1m-7.5 7.5h1m1 0.5h1m1.5 -1h1m-3.5 -1h1m-9 7.5h1m12 -17.5h1m-11 15h1m9 -11h1m-3 -1.5h1m-1 1h1m-10 13h1m10 -11h1m-7.5 3h1m-2.5 4h1m-5 7h1m-6.5 2.5h1m17 -24h1m-9 15h1m-7 7.5h1m-2 3.5h1m12.5 -15h1m-17.5 11h1m16 -15.5h1m-2 -1h1m-11 13.5h1m0 -0.5h1m-6 4.5h1m2.5 -1.5h1m2.5 -7h1m-3.5 9h1m-7.5 2.5h1m0.5 -3h1m10 -16h1m-4.5 11h1m-1 -4h1m-9.5 9.5h1m3 0h1m-1.5 -1.5h1m14 -18h1m-9 7.5h1m-8.5 10.5h1m5 -9h1m5 -4.5h1m3 -7h1m-6.5 7.5h1m3 -5h1m-1.5 0h1m-15 17.5h1m14.5 -19h1m-2.5 0.5h1m-12 15h1m3 -4h1m-4.5 5.5h1m1.5 -6h1m-8 12h1m2.5 -7h1m-3.5 8h1m0 -8.5h1m-2.5 5h1m10 -13.5h1m-13.5 15.5h1m14 -22h1m-12.5 15h1m1.5 3.5h1m6.5 -17h1m1 -2.5h1m-2 3.5h1m-9 19h1m4 -11h1m4.5 -8.5h1m-10 10.5h1m-14.5 15.5h1m-1.5 -2h1m2.5 -1h1m-1.5 3h1m2 -5h1m-3.5 4h1m-0.5 -2h1m0 -3h1m0 1.5h1m-3 0h1m-3 5.5h1m1.5 -3.5h1m0.5 -3h1m-5 6h1m-1 -0.5h1m-3 1h1m2 -3.5h1m-2.5 4.5h1m4 -6.5h1m-2 1h1m-2 2h1m-0.5 -6.5h1m-2.5 6.5h1m-1 -0.5h1m-0.5 -2h1m-2.5 3.5h1m-1 -0.5h1m-1 -5h1m-3 6h1m3.5 -3h1m0.5 -2h1m-3.5 4h1m-4 2.5h1m4.5 -4.5h1m-3 -2h1m-0.5 1h1m0 1h1m-0.5 -3h1m-5 8h1m-1.5 -2h1m2 -6.5h1m0 2.5h1m-1.5 0h1m-2.5 2.5h1m-2.5 -1h1m1.5 -2.5h1m-3.5 6h1m-1 -2h1m-3.5 0.5h1m5 -4.5h1m-5.5 5.5h1m0.5 -6h1m-0.5 2h1m2 -3h1m-7 6.5h1m0.5 1h1m0.5 -1.5h1m-2.5 1h1m3.5 -5.5h1m-5.5 5h1m3.5 -4.5h1m-2.5 -1h1m1 -1h1m-7 6h1m1 1.5h1m2 -5h1m-3 1.5h1m-4.5 1.5h1m5 -5.5h1m-4.5 5h1m0 0h1m1 -6h1m-3.5 5h1m2.5 0h1m-3 3h1m-3 -2h1m-3 2.5h1m2.5 -1h1m-2 -1h1m-3 -1.5h1m4.5 -3h1m-3 5h1m-4.5 2h1m0 -2h1m-0.5 -0.5h1m-1.5 0h1m-4 0.5h1m5.5 -6.5h1m-4.5 6h1m1 -4.5h1m-1.5 0.5h1m-1.5 1h1m-2 3h1m1 -1h1m-1 -1h1m0 -4h1m-2 3.5h1m-3.5 1.5h1m-1.5 4h1m-2 -4h1m2 0.5h1m-3.5 3h1m-0.5 0h1m2.5 -8.5h1m-4.5 6h1m-0.5 2.5h1m2.5 -7.5h1m-5.5 7h1m1 -1h1m-1 -2h1m-1.5 1h1m-2 1.5h1m-1 -1.5h1m-21.5 25h1m20.5 -22h1m-2 -2.5h1m-17 20.5h1m15 -20h1m-8 11h1m-5.5 6.5h1m7 -12.5h1m-16.5 20.5h1m3 -4h1m-2 -0.5h1m10 -11h1m3.5 -5.5h1m-1 -3.5h1m-0.5 2h1m-17.5 19.5h1m0.5 0h1m11 -17h1m1.5 -3h1m-8 8h1m0.5 1h1m-3 -1.5h1m7 -10.5h1m-9.5 14h1m-5 1h1m2 -0.5h1m4.5 -9h1m-4.5 3h1m5 -5h1m-2.5 0.5h1m-11 15h1m6.5 -10h1m-5.5 4.5h1m-11 10h1m15 -14h1m-5 1h1m-12.5 15h1m16 -21.5h1m-10.5 17.5h1m-7 4.5h1m10.5 -18h1m-14 18h1m0.5 0h1m16.5 -25h1m-13.5 18h1m10 -13.5h1m-11 9h1m8 -9h1m-12.5 13h1m10 -13.5h1m-8 7h1m4 -5h1m3 -7h1m-3 8.5h1m0.5 -4.5h1m-13.5 12.5h1m-5.5 9h1m18.5 -22.5h1m-8.5 9h1m-2.5 2.5h1m-1 -1h1m-1.5 -3h1m-6.5 10.5h1m13.5 -19.5h1m-8 12.5h1m-3.5 -0.5h1m2.5 -5h1m1 -3h1m-13.5 17.5h1m-0.5 4.5h1m8.5 -16.5h1m-3 3.5h1m-2 -2h1m3 -5h1m-15 17h1m1 0.5h1m10.5 -12h1m-7.5 7h1m1.5 -5.5h1m-1.5 0.5h1m-6 11h1m-5 1h1m11 -16h1m-6 6.5h1m-1 1h1m6 -8h1m3.5 -4.5h1m-5 4.5h1m0 -5h1m-11 13h1m12 -19.5h1m-18.5 27h1m8 -10.5h1m0 -2h1m1 -3.5h1m6 -10h1m-9 10h1m0 0.5h1m3.5 -7.5h1m-3.5 5.5h1m-12 9h1m12.5 -13h1m-2.5 1h1m-4.5 6h1m4.5 -10.5h1m-10.5 15.5h1m10.5 -13h1m-11.5 10h1m8.5 -12.5h1m-14 18h1m13 -18h1m-14.5 15.5h1m0.5 -0.5h1m-5.5 6h1m15 -20.5h1m-17.5 20.5h1m7.5 -10.5h1m-11 16h1m1 -6h1m3 -7.5h1m5 -4.5h1m6 -7.5h1m-14.5 15.5h1m7.5 -12h1m-5.5 7.5h1m4 -9.5h1m-12.5 19h1m7.5 -12h1m-6 6h1m0 -4.5h1m3.5 -6.5h1m-4.5 9.5h1m-6 4.5h1m3.5 -7.5h1m-8 9.5h1m-7 11h1m1.5 -5h1m-8.5 12h1m7.5 -14h1m-5.5 7h1m-3.5 4.5h1m-4 3.5h1m1 -4.5h1m6 -10h1m-6.5 9h1m-2 2.5h1m3.5 -7.5h1m-9 11h1m10.5 -16.5h1m-6 9.5h1m2 -4.5h1m-13.5 12h1m10 -9h1m-4 -0.5h1m-8.5 10h1m12.5 -17h1m-8.5 11.5h1m-3.5 1.5h1m-3 6h1m11.5 -18h1m-11 12.5h1m8.5 -13.5h1m-4 6h1m-6.5 9.5h1" stroke="#111" stroke-opacity="0.33" stroke-width="1.1" fill="none"/>
<path d="M138.5 42h1m-11.5 11.5h1m-0.5 -1h1m12 -15.5h1m-1.5 2h1m6.5 -8.5h1m-10 8.5h1m-4 2h1m11.5 -10.5h1m-17.5 19.5h1m5 -9h1m-6 8.5h1m6 -13.5h1m-11 18h1m8.5 -8.5h1m3.5 -12.5h1m-16 14h1m2 -2.5h1m-3 10h1m4 -8h1m-9 5.5h1m10 -9h1m-3.5 1h1m2 -4.5h1m-4 5.5h1m1.5 -2h1m5.5 -8h1m4 -4h1m-8.5 2.5h1m-8 11h1m-1.5 1h1m9.5 -16.5h1m-1 1.5h1m-3.5 2.5h1m-7.5 11.5h1m11 -15h1m-6.5 8.5h1m4 -8h1m-3 -1.5h1m-11.5 13h1m-0.5 4h1m9.5 -12h1m-19 19.5h1m14 -22h1m-11.5 13h1m0.5 5h1m5 -14.5h1m0 0h1m-7.5 8.5h1m0.5 0h1m-4.5 5h1m0.5 -7.5h1m0.5 7.5h1m4.5 -9.5h1m4 -10.5h1m-0.5 5h1m-8.5 3h1m-2.5 8.5h1m6 -11.5h1m-14.5 15.5h1m7 -4.5h1m2 -6h1m-7.5 7h1m7 -15.5h1m-4 11h1m-9.5 13.5h1m2.5 -7h1m6 -13h1m-8 10.5h1m-7.5 3h1m-2.5 5.5h1m6.5 -7.5h1m3 -7.5h1m2 -4.5h1m-4.5 12.5h1m5.5 -11.5h1m2.5 -3h1m-2.5 1.5h1m-15 17.5h1m-4 4h1m14.5 -24.5h1m-14.5 22.5h1m3.5 -14h1m5 -1.5h1m1.5 -5.5h1m-2.5 2h1m-13.5 16.5h1m12.5 -19.5h1m-12 20h1m11 -21.5h1m-9 11h1m-8.5 12h1m11.5 -17h1m-12 15h1m14.5 -16h1m-17 14.5h1m-4 2h1m13 -8h1m-11.5 7h1m11.5 -14.5h1m-6 6h1m1.5 -2h1m-13 14h1m-0.5 -4.5h1m5.5 -5.5h1m-8 9.5h1m8 -13.5h1m4 -5h1m-0.5 -3h1m-12.5 13.5h1m0 4.5h1m-0.5 -3.5h1m6.5 -11.5h1m-10 11h1m5.5 -3.5h1m-1 -2h1m1.5 -0.5h1m0.5 -5.5h1m-3 4h1m-13.5 12h1m16 -21h1m-14.5 23h1m11.5 -17h1m-15 17.5h1m-3.5 -0.5h1m2.5 -2h1m12.5 -19h1m-17 21h1m4.5 -5.5h1m8 -10h1m-2.5 -1.5h1m-6.5 9h1m-9.5 11.5h1m8 -13h1m-8 14.5h1m16 -23.5h1m-14.5 13h1m11 -15.5h1m-17 19h1m12 -15.5h1m4 -3h1m-13.5 16h1m7 -10.5h1m-3.5 2h1m0 -3.5h1m4.5 -4.5h1m-2 0h1m-13 15h1m4 -7h1m-2.5 0.5h1m-5 7h1m14 -14h1m-4 -0.5h1m-7.5 8.5h1m-10 9.5h1m1 -1h1m-5.5 6.5h1m1 -3.5h1m0.5 -5h1m2.5 -5.5h1m-4.5 11h1m2.5 -7h1m3.5 -1.5h1m4 -13h1m-7 6.5h1m-7.5 10h1m-3.5 7.5h1m1 -5h1m15.5 -20h1m-19.5 23h1m6.5 -12h1m9.5 -12h1m-11 13.5h1m-2 0.5h1m-6 7h1m4.5 -7h1m5.5 -5h1m-4 0h1m-10.5 13h1m4 -5h1m0 -4h1m-3 5h1m11 -17h1m-12.5 17.5h1m-4.5 2h1m0.5 1.5h1m-1 -1.5h1m12 -15h1m-11.5 11h1m-9 6h1m4.5 -3h1m6.5 -10.5h1m-8.5 8h1m-2.5 -1h1m15.5 -11h1m-16 17h1m-2.5 -0.5h1m8.5 -14.5h1m-7.5 11.5h1m-1.5 0h1m5 -11.5h1m6 -4.5h1m-2.5 -1h1m-2.5 3h1m-11.5 11h1m2.5 1.5h1m-5 -0.5h1m-2.5 9h1m8 -16h1m-1.5 0h1m1.5 -0.5h1m-17.5 16h1m7.5 -5h1m-0.5 -7h1m9.5 -12h1m-11.5 20h1m6 -16h1m-16.5 16h1m20.5 -18.5h1m-13 9h1m-5.5 9.5h1m-4.5 2.5h1m15 -20h1m-1 1.5h1m-11 12.5h1m0 2h1m5.5 -11h1m-10 12h1m13.5 -18h1m-16 19.5h1m7 -15.5h1m-13.5 18h1m13 -16.5h1m-9 10.5h1m-1.5 -0.5h1m-7 7h1m16.5 -21h1m-1 1h1m-10 10h1m-9 6h1m4 -3.5h1m-1.5 3h1m6 -4.5h1m-5.5 -1h1m-2 2.5h1m-5.5 4h1m-1.5 4.5h1m12.5 -19h1m-5 4.5h1m-10.5 12.5h1m11.5 -16.5h1m1.5 -5.5h1m2 1h1m-3.5 0.5h1m-8 8h1m1 -1h1m-7 8h1m2.5 -5.5h1m5 -2h1m-11 5.5h1m1.5 -0.5h1m7.5 -13.5h1m-15 19h1m14.5 -22.5h1m-2.5 7h1m-0.5 -3h1m0 2h1m-8.5 11h1m-2 1h1m-4 2.5h1m0.5 -4.5h1m-8.5 8.5h1m4.5 -2.5h1m-1.5 -2h1m-0.5 0.5h1m12 -14h1m-9.5 5h1m-10.5 13.5h1m5.5 -2.5h1m2 -9h1m5.5 -7h1m-14 12h1m-3 3.5h1m11 -10h1m1 -5h1m-11.5 14h1m3 -5h1m1 -4.5h1m0.5 -1.5h1m6 -8h1m-1 4.5h1m-16 10h1m1 2.5h1m5 -12h1m-11 19h1m6 -4h1m-12 4.5h1m4 -3.5h1m8.5 -11.5h1m-11 13.5h1m11 -12.5h1m-2 -4.5h1m0 -1.5h1m-9.5 14h1m13 -18h1m-13 15.5h1m4.5 -11.5h1m1 0.5h1m-7 7h1m0.5 -3.5h1m-11 17.5h1m15 -24h1m-16 19h1m6 -7h1m9 -11h1m-4.5 3.5h1m-10.5 5.5h1m9.5 -11.5h1m-15.5 23.5h1m-1.5 -2h1m1 3h1m11 -21h1m-8.5 6h1m-2.5 5.5h1m-5.5 8.5h1m-2.5 2.5h1m10.5 -15.5h1m-7.5 3.5h1m-7.5 11h1m7.5 -13h1m1.5 -1h1m-8.5 7h1m4.5 -6.5h1m6 -10h1m-13.5 18h1m2.5 -7h1m10.5 -11h1m0 -3h1m-8.5 11.5h1m-11 9.5h1m0.5 -2h1m14.5 -18h1m0.5 -0.5h1m-20.5 24h1m13.5 -21h1m-6 13h1m3 -11.5h1m-6 5.5h1m-8 12h1m0.5 -0.5h1m12.5 -19h1m-7 12h1m1.5 -5.5h1m-15 15.5h1m11 -15h1m-7 9.5h1m4 -4h1m-7 8.5h1m1.5 -6h1m7.5 -9.5h1m-2 -4h1m2 -2.5h1m-18.5 21h1m2.5 -1h1m-4 -1.5h1m7.5 -8h1m1.5 -1h1m-13.5 12h1m5.5 -5h1m-4 5h1m15.5 -23.5h1m0.5 2.5h1m-22.5 21h1m10.5 -7.5h1m5.5 -10h1m-2 -5.5h1m-17.5 24h1m13 -12.5h1m5 -11.5h1m-6 7h1m0.5 -3h1m-10 14h1m7 -14h1m-2 6h1m-2 -1.5h1m0 -2h1m-4 4h1m-5 7.5h1m-1.5 -1.5h1m-8 5.5h1m12.5 -10h1m-8.5 5.5h1m1 -5.5h1m-5.5 11h1m13 -19.5h1m-4 1.5h1m-4 3.5h1m-8 10.5h1m3 -3h1m-8.5 10.5h1m15.5 -23h1m-15.5 15h1m5.5 -7h1m5.5 -13h1m-15.5 27.5h1m14.5 -23h1m-3 4.5h1m-12 14.5h1m14 -16.5h1m-1.5 0h1m-22 24.5h1m2 -3.5h1m-4 2.5h1m1 -4h1m-2.5 3h1m4 -4h1m-6.5 5h1m0.5 1h1m1.5 -7.5h1m-1 4.5h1m-3.5 1h1m-1.5 2h1m-1 -1.5h1m1 -1.5h1m-1.5 0.5h1m-2.5 2h1m-2 1h1m-1 -3.5h1m2 -3h1m-4 7.5h1m-1.5 -3.5h1m3.5 -4.5h1m-5.5 7.5h1m3 -7h1m-1.5 2.5h1m0.5 -2.5h1m-2.5 2.5h1m0.5 0h1m-4 -1h1m2 -2.5h1m-2 2.5h1m-4 4h1m1 -4h1m-1.5 -1h1m-0.5 2h1m-6 2.5h1m4 -3h1m1 -2h1m-2 -0.5h1m-0.5 0.5h1m-4 3.5h1m3.5 -3h1m-6 3.5h1m0.5 2h1m1 -6h1m-3.5 3h1m0 -0.5h1m-4 3h1m-1 1h1m0 -3.5h1m0.5 -1.5h1m-2 3.5h1m1.5 -6h1m-1.5 1.5h1m1.5 -0.5h1m-3.5 3h1m-0.5 -1.5h1m-3.5 2h1m-2.5 4h1m-1 0h1m-0.5 -3h1m0 1h1m2.5 -3h1m-6 0.5h1m2 -2h1m-0.5 -0.5h1m-1.5 -1h1m-3.5 4.5h1m1.5 -1h1m1 -2.5h1m-1.5 0h1m0 1.5h1m-4.5 2h1m-0.5 -1.5h1m1 -2.5h1m-2 2h1m-3 0h1m-1.5 4h1m3.5 -6h1m-5 5.5h1m2 -5h1m-2.5 5.5h1m1.5 -7h1m-15 17h1m1.5 -1.5h1m-12 10.5h1m11.5 -13.5h1m-9 12h1m-3.5 3.5h1m-2.5 -0.5h1m12 -18h1m-10 14.5h1m-7 8.5h1m4.5 -10.5h1m0 4h1m-6.5 2h1m10 -12.5h1m-5.5 5h1m-6.5 10.5h1m-5.5 -2h1m5 -3h1m11 -15h1m1 -3.5h1m-7.5 8h1m-0.5 2h1m-5.5 2.5h1m10.5 -12h1m-11 16.5h1m3 -12h1m4.5 -4h1m-5.5 6.5h1m-16 17h1m11.5 -18h1m-12.5 18h1m9 -12h1m-5 6h1m-7 5.5h1m15.5 -22h1m-8 9h1m-1.5 1.5h1m-2 2.5h1m-9 10h1m0 -5.5h1m-2 2.5h1m2 -0.5h1m4 -6.5h1m-3 0h1m8.5 -10.5h1m-9.5 9.5h1m0 3h1m-4 1.5h1m2 -8.5h1m-9 12.5h1m6 -7h1m9.5 -12h1m-7 9h1m6 -11.5h1m-12 14h1m-1.5 -3.5h1m1 -1.5h1m1 2h1m-6.5 5h1m6 -9h1m-8 9h1m-4 7.5h1m3.5 -10.5h1m-4 3.5h1m14.5 -19h1m-14.5 16.5h1m-7 9h1m0.5 -1h1m15.5 -18.5h1m-17.5 17h1m1.5 -1h1m-1.5 0h1m5 -9.5h1m-3.5 4h1m7.5 -10h1m-1.5 -3.5h1m3 -2h1m-2.5 2h1m-18.5 22h1m15 -18.5h1m-1.5 0.5h1m-8.5 9h1m5 -10h1m0.5 1h1m0 -2.5h1m-14 15h1m-1.5 3.5h1m9.5 -15.5h1m-2 0h1m-14.5 19h1m2 -3.5h1m7.5 -11.5h1m-1 1h1m-3.5 1.5h1m9.5 -12h1m-8.5 11h1m7.5 -11h1m-12.5 14h1m7 -10.5h1m-14 21.5h1m-2.5 -3.5h1m14 -20.5h1m-6.5 10.5h1m4.5 -9h1m-7.5 10.5h1m0.5 -1h1m4.5 -9.5h1m-4 3.5h1m0.5 -3h1m-12.5 18.5h1m11.5 -19h1m-15.5 19h1m3.5 -7h1m8 -7.5h1m-15 18.5h1m1 -8.5h1m5.5 -6.5h1m-19 26.5h1m2.5 -6h1m-9.5 7.5h1m8.5 -9h1m-11 11h1m9 -12h1m-1.5 2.5h1m-5.5 6h1m4 -8.5h1m-6 8h1m-2 1h1m3.5 -4h1m2.5 -6.5h1m-5.5 1.5h1m4.5 -4.5h1m-0.5 -1h1m-9.5 12h1m7.5 -10h1m-14 14.5h1m-1.5 1h1m9.5 -13h1m-9 13h1m11 -17h1m-1 1.5h1m-4.5 3h1m-5 4h1m-6 7h1m8 -12.5h1m-3 3h1" stroke="#111" stroke-opacity="0.33" stroke-width="1.1" fill="none"/>
</g>
<polygon points="146.6,16.9 158.8,26.7 132.3,57.6 120.6,48" fill="none" stroke="#231f20" stroke-width="1.4"/>
<polygon points="111.5,56.6 126.6,65.4 96,110.3 82.5,101.2" fill="none" stroke="#231f20" stroke-width="1.4"/>
<text x="79" y="16.2" font-size="10.8" font-weight="bold" textLength="12.5" lengthAdjust="spacingAndGlyphs" fill="#231f20" stroke="#231f20" stroke-width="0.35">SP</text>
<text x="92.6" y="12.5" font-size="7.7" font-weight="bold" textLength="13.6" lengthAdjust="spacingAndGlyphs" fill="#231f20" stroke="#231f20" stroke-width="0.35">KLS</text>
<text x="160.6" y="41.7" font-size="12.2" font-weight="bold" textLength="32.5" lengthAdjust="spacingAndGlyphs" fill="#231f20" stroke="#231f20" stroke-width="0.35">upper</text>
<text x="161.4" y="88.3" font-size="12.2" font-weight="bold" textLength="30.1" lengthAdjust="spacingAndGlyphs" fill="#231f20" stroke="#231f20" stroke-width="0.35">lower</text>
<path d="M224 0.6H357.3V134.1" stroke="#8c8c8c" stroke-width="1.1" fill="none"/>
<path d="M224 0.6V137.1M221 134.1H357.3" stroke="#8c8c8c" stroke-width="1.1" fill="none"/>
<path d="M224.0 134.1v3.5M234.0 134.1v2M239.9 134.1v2M244.1 134.1v2M247.3 134.1v2M249.9 134.1v2M252.2 134.1v2M254.1 134.1v2M255.8 134.1v2M257.3 134.1v3.5M267.4 134.1v2M273.2 134.1v2M277.4 134.1v2M280.6 134.1v2M283.3 134.1v2M285.5 134.1v2M287.4 134.1v2M289.1 134.1v2M290.6 134.1v3.5M300.7 134.1v2M306.6 134.1v2M310.7 134.1v2M313.9 134.1v2M316.6 134.1v2M318.8 134.1v2M320.7 134.1v2M322.5 134.1v2M324.0 134.1v3.5M334.0 134.1v2M339.9 134.1v2M344.0 134.1v2M347.3 134.1v2M349.9 134.1v2M352.1 134.1v2M354.1 134.1v2M355.8 134.1v2M357.3 134.1v3.5" stroke="#9a9a9a" stroke-width="0.9" fill="none"/>
<path d="M224 134.1h-3.5M224 124.1h-2M224 118.2h-2M224 114.0h-2M224 110.8h-2M224 108.1h-2M224 105.9h-2M224 104.0h-2M224 102.3h-2M224 100.7h-3.5M224 90.7h-2M224 84.8h-2M224 80.6h-2M224 77.4h-2M224 74.8h-2M224 72.5h-2M224 70.6h-2M224 68.9h-2M224 67.3h-3.5M224 57.3h-2M224 51.4h-2M224 47.3h-2M224 44.0h-2M224 41.4h-2M224 39.1h-2M224 37.2h-2M224 35.5h-2M224 34.0h-3.5M224 23.9h-2M224 18.1h-2M224 13.9h-2M224 10.6h-2M224 8.0h-2M224 5.8h-2M224 3.8h-2M224 2.1h-2M224 0.6h-3.5" stroke="#9a9a9a" stroke-width="0.9" fill="none"/>
<g filter="url(#bl)">
<path d="M231.5 32h1m-4 23.5h1m-3.5 -21h1m7.5 4.5h1m1.5 -6.5h1m-11 0.5h1m6.5 12h1m-4.5 -6.5h1m1.5 -4h1m-5 11h1m3 -10.5h1m-1 4.5h1m-9 1.5h1m11 9.5h1m3.5 -9.5h1m-15 5.5h1m1.5 1h1m12.5 -5.5h1m-7.5 -8.5h1m-6.5 1.5h1m10 -6.5h1m-6 17h1m-13 -14.5h1m7.5 20.5h1m-6.5 -22.5h1m-3.5 12h1m1.5 -8h1m0 7.5h1m4 -6.5h1m2 6h1m-10 -10h1m1 1h1m-0.5 12.5h1m-4.5 -13h1m-4 9.5h1m3 -1.5h1m-5 -11.5h1m10 3h1m7.5 21.5h1m-18 -9.5h1m14.5 -6.5h1m-4.5 0h1m-12 4h1m-2.5 14.5h1m7 -13.5h1m-1 -4h1m-6.5 11h1m-2 -2.5h1m-1 2.5h1m12.5 -11.5h1m-15.5 -1.5h1m7.5 18.5h1m-2.5 -25.5h1m-10 7h1m-0.5 6.5h1m-0.5 -9h1m-1.5 3h1m14.5 7h1m-6 -5.5h1m7 -1h1m-20.5 -2.5h1m13 5h1m-5 11h1m4 -17.5h1m-15.5 0.5h1m7.5 7h1m-2.5 -6h1m11 -5h1m-13.5 20.5h1m2 -14h1m-2.5 4h1m0.5 -4.5h1m3.5 16.5h1m-2 0h1m-9.5 -10h1m1 2h1m-2.5 -9.5h1m-5.5 12h1m14 -4.5h1m-4.5 -13.5h1m-6 7.5h1m-4 6.5h1m0.5 -9h1m0.5 6h1m-3.5 -2.5h1m7.5 2h1m11.5 -3h1m-26 -0.5h1m0 -6h1m3.5 8.5h1m-7 5.5h1m9.5 9.5h1m5.5 -22h1m-13 5h1m14.5 0h1m1.5 -5h1m-19 11.5h1m-5.5 -7h1m3.5 8.5h1m3.5 -5h1m-5.5 15h1m-5.5 -10h1m6.5 -7h1m-6 -2h1m0 5.5h1m-2 -2.5h1m18 7.5h1m-12 5h1m-2.5 -7.5h1m-3 -8.5h1m-3.5 17h1m-0.5 -11.5h1m-4.5 9.5h1m13.5 -7h1m-5 7.5h1m-5.5 -20h1m-4.5 17h1m-1 -2.5h1m7.5 5h1m-12 -4.5h1m12.5 2.5h1m0 -11h1m-10 18h1m1 -16.5h1m-11 -2.5h1m0.5 11h1m-2 -10.5h1m0 5h1m5.5 -6h1m-3 16h1m2 -16h1m-6.5 -4.5h1m4 14h1m0 -7.5h1m43 0.5h1m-14 15h1m27.5 -6h1m-61.5 9.5h1m9 -6h1m24 -4h1m15 -13.5h1m-41 5.5h1m45.5 11.5h1m-40 -12.5h1m40.5 11.5h1m-2.5 -8h1m-30 -3.5h1m36 6h1m-40 8h1m6 -15h1m9 -2h1m14.5 14h1m-13 3.5h1m-13 5.5h1m-35 -24.5h1m33 14.5h1m-25 -4h1m3.5 5h1m5.5 0.5h1m19.5 -11.5h1m-14 -2.5h1m-6 10.5h1m13.5 4h1m-47.5 -6h1m17 1h1m10 7.5h1m-6 0h1m-6 -21.5h1m17 2h1m25.5 -1h1m-47.5 12.5h1m28 -5.5h1m29.5 14.5h1m-47.5 -10h1m9.5 -4h1m-13.5 8.5h1m-1.5 7.5h1m25 -13.5h1m-40.5 -7.5h1m-12 16.5h1m63.5 -9h1m-44 8h1m0 -2h1m13 5.5h1m-5 3.5h1m-16 -13h1m-19 4h1m17 5.5h1m2.5 -5.5h1m15 -5.5h1m-12.5 8.5h1m3.5 -2h1m14 -2.5h1m-12 -13h1m-13.5 2.5h1m15 -3.5h1m-20 13.5h1m31 -12.5h1m-4.5 24.5h1m-35.5 0.5h1m11.5 -23.5h1m-7.5 14h1m-9.5 -13.5h1m28 5.5h1m8 13h1m-28.5 -17h1m-25 -3.5h1m6 17.5h1m44 -10h1m-39 14.5h1m42.5 -21h1m7.5 15.5h1m11.5 1.5h1m-48 -6.5h1m0.5 8.5h1m-14.5 -10h1m32.5 -8.5h1m-37 14.5h1m11 -11h1m-10 6.5h1m0 -4.5h1m26 -2.5h1m-24 15.5h1m-26.5 -16h1m35.5 2.5h1m38.5 6.5h1m-67.5 10.5h1m46 -26.5h1m-50.5 9.5h1m36.5 20.5h1m-3.5 -15.5h1m1 9.5h1m-31.5 -22h1m14 17.5h1m-2.5 -17.5h1m-29 11h1m34.5 -12h1m-5.5 5.5h1m5 13.5h1m5.5 4h1m-29 -0.5h1m-5 -11h1m6.5 -11h1m8.5 23.5h1m-10.5 -20h1m6 8.5h1m4 1.5h1m41 0.5h1m-38 -4.5h1m35.5 10.5h1m-29 -11h1m-29 -3.5h1m22 13h1m4.5 -2.5h1m-18 -5h1m-3.5 9h1m-10.5 -2.5h1m13 -9.5h1m3.5 7.5h1m-22.5 -14h1m-11.5 13.5h1m58.5 -12h1m-24 3h1m-28 7.5h1m15.5 -3.5h1m-25 -4h1m48.5 6h1m-13 9.5h1m-20.5 -6h1m5 1h1m17 -9.5h1m-41 7h1m15 12h1m39.5 -15h1m-48.5 -3h1m16.5 9.5h1m-32.5 -7.5h1m19.5 3h1m21.5 3h1m-16.5 -5.5h1m-3.5 13h1m31.5 -11.5h1m4 -13h1m-19.5 10.5h1m-13.5 -7.5h1m18.5 -0.5h1m11.5 24h1m-17.5 -3h1m9 4h1m-55 -8h1m-1.5 -18.5h1m-5 18.5h1m1 -16h1m7.5 9h1m34 -5h1m15 4h1m-46 -5.5h1m-14 23h1m67.5 -9h1m-46.5 -1h1m-17 12.5h1m42.5 -3h1m-46.5 -5.5h1m12 -25h1m45.5 3.5h1m-26.5 -3.5h1m-34.5 8.5h1m56.5 3h1m-65.5 15h1m52 -7h1m-1 -7h1m8.5 10h1m5.5 34h1m2 11h1m-23 -11h1m13.5 -6h1m-16.5 1h1m12.5 11h1m-43.5 -14.5h1m42.5 2h1m-2 -9h1m-19 9.5h1m-2.5 -8.5h1m28 13h1m-7.5 -5.5h1m16 8.5h1m-38 -12h1m23 13.5h1m-17.5 -2.5h1m3 -6.5h1m-20.5 8.5h1m33 0.5h1m8 -2.5h1m-29 -5.5h1m12 4.5h1m-21 -6.5h1m26.5 7h1m-17 -11.5h1m16 23h1m-3.5 -3h1m-3 -6.5h1m-12.5 -10h1m13 7.5h1m7 2.5h1m-36.5 -10.5h1m2.5 -9.5h1m-15.5 7.5h1m-8.5 -3.5h1m39.5 6.5h1m2.5 12.5h1m-44.5 -7.5h1m13.5 -15.5h1m-2.5 8h1m16 3h1m6 -2.5h1m-23.5 -7.5h1m18.5 12h1m-9 10h1m7.5 3h1m-33 -10.5h1m23.5 -8.5h1m-10.5 5h1m31 10.5h1m-59.5 -22h1m26 -1h1m25.5 21h1m-28 -15h1m18.5 7h1m-5.5 3.5h1m9 -8.5h1m1 6h1m-19.5 -2h1m-33.5 -2h1m56.5 -0.5h1m-46.5 -8.5h1m20.5 23.5h1m-14.5 -17.5h1m28.5 22h1m-11.5 2h1m-21.5 -19h1m11.5 9h1m9.5 -10.5h1m9.5 -5h1m-29 5.5h1m8.5 -4h1m-8.5 16.5h1m-18.5 -22.5h1m6 8.5h1m22.5 21h1m-21.5 -17h1m25.5 -2h1m-14.5 0.5h1m23.5 -4h1m-10.5 11.5h1m-14 -3h1m9.5 9h1m-1 -10h1m-21.5 -10.5h1m-23 -4h1m44.5 20h1m-39 -18.5h1m42.5 0h1m-16 6h1m-21 2.5h1m19.5 13h1m-35 -11.5h1m36 16h1m-9 -18h1m-0.5 16h1m-7.5 -3.5h1m9 -4.5h1m-3 -7.5h1m-13.5 5h1m16.5 1h1m-13.5 -9.5h1m-2.5 20h1m-6.5 -23.5h1m29 9h1m-25 -10h1m5.5 23h1m-53.5 -23.5h1m9 3.5h1m3.5 -6h1m14 18h1m-7 -15h1m-1 2h1m-25 -1.5h1m29 -6h1m-9.5 15.5h1m-15 -1.5h1m-1 -5.5h1m-5 0.5h1m11.5 -3h1m-3.5 -3h1m-7 -0.5h1m3 10.5h1m1.5 -5.5h1m4.5 6h1m-2.5 -3h1m-12 4.5h1m16 -10.5h1m15 -2.5h1m-11 3.5h1m-19.5 0.5h1m4 13h1m7.5 -2h1m-2.5 -7h1m-23.5 2h1m38.5 -6h1m-17 3h1m10.5 -4.5h1m5.5 6.5h1m-0.5 -5h1m-21 -1h1m31 -1h1m-23.5 3.5h1m-26.5 -8.5h1m19.5 11.5h1m-16.5 -4.5h1m-7 0.5h1m40.5 7h1m-42 8h1m25.5 -12.5h1m17.5 -1h1m-32.5 -8.5h1m29 14.5h1m-49 2.5h1m0.5 -8.5h1m18.5 -0.5h1m-19 5.5h1m15.5 5h1m19 3.5h1m-24.5 -4.5h1m2 4h1m-14.5 -15h1m22.5 3h1m17 10h1m-9 -8h1m-23 8.5h1m-2 -11.5h1m51.5 30.5h1m-63.5 1h1m59 -0.5h1m-25 -39h1m32.5 27h1m-47 -21h1" stroke="#111" stroke-opacity="0.33" stroke-width="1.1" fill="none"/>
<path d="M231.5 29h1m-1 9.5h1m-3.5 6.5h1m-3.5 -9h1m-2.5 11h1m2 -9.5h1m-3.5 11.5h1m7.5 -1h1m9.5 -16h1m-5.5 0.5h1m-13.5 0.5h1m4 -2h1m-5 2.5h1m15.5 -1h1m-14.5 4h1m-5 -1h1m10 1.5h1m8.5 13.5h1m-23 -6h1m7.5 -10h1m-7.5 -4h1m17.5 -1.5h1m-16.5 14h1m2.5 -8h1m3 12.5h1m-4 -4.5h1m2 -0.5h1m-6.5 -10.5h1m0 18h1m-1.5 -4.5h1m-9 -5h1m19.5 10.5h1m-11.5 -18.5h1m3 8.5h1m-4.5 -2h1m-4 -8.5h1m-7.5 19.5h1m2 -16h1m1 5h1m6.5 -11h1m-0.5 18.5h1m-6 -9h1m-7.5 8.5h1m0.5 -13h1m5 2.5h1m-11 5h1m3.5 13.5h1m-1.5 -12h1m7.5 -14h1m5 16h1m-4 4.5h1m-8 -20h1m-9.5 2.5h1m1.5 17h1m-1.5 -14h1m3.5 -4h1m-5 0h1m10 9.5h1m7 -10h1m-7.5 7.5h1m-10 5.5h1m-4 -4.5h1m6 3.5h1m-0.5 0.5h1m-9.5 -6.5h1m5.5 9.5h1m9 -15h1m-5.5 6.5h1m-11 7.5h1m0.5 0.5h1m7 -5.5h1m-0.5 0h1m-3.5 1.5h1m-3.5 -4h1m5.5 5h1m-15.5 -4h1m2.5 -2.5h1m0.5 6.5h1m4 -13h1m-1.5 16.5h1m-3.5 -6h1m-1 -6h1m-8 14.5h1m12 2.5h1m-2.5 -5.5h1m-12.5 -10h1m14.5 3.5h1m-10 -5h1m-2 2.5h1m11.5 -1.5h1m-19.5 5.5h1m8 8h1m-10 -15h1m14.5 10.5h1m-16.5 -14.5h1m29 12.5h1m-27 2.5h1m-5 -7.5h1m6 7h1m-1 -2.5h1m-7 6.5h1m4 -7.5h1m-3 8.5h1m-4.5 -10.5h1m18 -9.5h1m-12.5 22.5h1m-4.5 -18h1m-4.5 3.5h1m7.5 1.5h1m1.5 7.5h1m-9 -14h1m1.5 0.5h1m7 8h1m-11.5 -10h1m5.5 19h1m-7.5 -12.5h1m-5.5 -0.5h1m1 13h1m3.5 -17h1m-7.5 11h1m14 -1h1m-16.5 -3h1m3.5 4h1m5.5 -8h1m4 -5.5h1m3.5 5h1m-7.5 3h1m-14 -1h1m14 -4h1m-16.5 21h1m5 -20.5h1m11.5 -3.5h1m-12 9.5h1m-6.5 -0.5h1m43.5 -2.5h1m-19.5 8.5h1m-2 -5.5h1m-19 18.5h1m35.5 -11h1m3 -3h1m-40 5.5h1m10.5 -9.5h1m-2.5 0.5h1m-16.5 14.5h1m-0.5 -13h1m37 4h1m-40 -7h1m24.5 0.5h1m11 10.5h1m13.5 -14h1m-55.5 13h1m33.5 1.5h1m14.5 -5.5h1m-35.5 0.5h1m7.5 1.5h1m39.5 -7.5h1m4 5h1m-45 3.5h1m-24.5 4h1m7.5 -6h1m9.5 -5h1m56.5 -5.5h1m-44.5 6h1m-18 12h1m11.5 1.5h1m35 -18.5h1m-22 -3h1m-34 12h1m40.5 4.5h1m-40 -1h1m-13 -4h1m62.5 6h1m-8 -17.5h1m-11 11.5h1m9.5 10.5h1m-24 -26.5h1m-2.5 15.5h1m-27 -1h1m-9 -3h1m7 -1h1m2 -7.5h1m19 14.5h1m-10 -9h1m37 6h1m-35 11.5h1m25 -24h1m-49.5 26.5h1m48.5 -16h1m-36 -3.5h1m14.5 1.5h1m12.5 -2h1m-9.5 -3h1m5 18.5h1m-15.5 -21h1m22 11h1m1.5 5h1m-6 -5h1m8 -8h1m-26.5 16.5h1m-9 -13.5h1m-29.5 5h1m37.5 -11.5h1m-15 21.5h1m26.5 -6h1m5 -12.5h1m-42 5h1m33 -2.5h1m-10 12h1m-35.5 -5.5h1m-4 -5.5h1m5 16h1m18 -11h1m-1 6h1m17 -16h1m-29.5 10h1m13.5 8.5h1m-34.5 -0.5h1m20 -8.5h1m15.5 11.5h1m-25 -9h1m13.5 3.5h1m16 -7h1m-24.5 13h1m7 -10.5h1m10.5 -4h1m-10.5 -6h1m12 15.5h1m-35.5 -5h1m4.5 -1.5h1m-16 -4h1m51 5.5h1m-15 -9.5h1m-31 16h1m-7.5 7h1m18 -19h1m20.5 5.5h1m-40 4.5h1m56 6.5h1m-10 -9h1m-2 -8.5h1m3.5 9h1m-12 -10.5h1m-7 8h1m30.5 -2h1m-48.5 -3h1m36.5 -0.5h1m-13 -6.5h1m-5.5 3.5h1m-2 -7.5h1m-36 16.5h1m20.5 5h1m-8 7.5h1m15 -12.5h1m-26.5 -1.5h1m-13 -5h1m49.5 -1h1m-45.5 2h1m26.5 6.5h1m-9 -5h1m23.5 4h1m7 2h1m12.5 3h1m-60.5 -15.5h1m15 7h1m20 12.5h1m-13 -5h1m-31 -9h1m31.5 1.5h1m-20.5 -8.5h1m16 10h1m6 10h1m-21 -23.5h1m43.5 23.5h1m-52 0h1m-2.5 -11.5h1m13.5 -6h1m-5.5 19.5h1m24.5 -21h1m-52 1.5h1m68.5 9.5h1m-20 -4h1m21 13.5h1m-18.5 2h1m-56.5 -29h1m43.5 19h1m-8.5 -15h1m35 5h1m-8 10.5h1m-2.5 -12h1m-28.5 14h1m4 -7h1m13 -3h1m1 -8.5h1m-52.5 2.5h1m20 -4h1m29 7h1m10 6h1m-16.5 3h1m-42.5 2.5h1m-7.5 4.5h1m64.5 6h1m-30.5 -18h1m-22 19h1m17 -28.5h1m16.5 6.5h1m-36 -9h1m23.5 54h1m33.5 -3h1m-23 2h1m14.5 2h1m-30 -9.5h1m-1.5 -5h1m3 3h1m11.5 14.5h1m7 0h1m-13 -10h1m-40 4.5h1m36 10.5h1m11 -8h1m3 -4.5h1m-43.5 -12h1m35.5 9h1m-1.5 -3.5h1m-12 17h1m21.5 -3.5h1m-26 -4h1m25.5 -2h1m-29 -6.5h1m-15 -2.5h1m29.5 19h1m-6 -12h1m0 1h1m-19 -4h1m7 8.5h1m15.5 6.5h1m-1 -2.5h1m-30 -22h1m10 11h1m22.5 11.5h1m-26.5 -3h1m-30 -14h1m42.5 0h1m-20 6.5h1m40 2.5h1m-29 -9.5h1m-8.5 7h1m31.5 11h1m-8 -8.5h1m-12 5h1m-45 -18.5h1m6.5 5.5h1m11 8h1m6.5 1h1m-9 -15h1m18.5 13h1m-2 -2.5h1m-1 13.5h1m-8.5 -21h1m18.5 21h1m-52.5 -27.5h1m25 16h1m27.5 11.5h1m-8.5 -1h1m-8 -3.5h1m-35 -7h1m20.5 1h1m34 -1h1m-41.5 -7h1m-17 -1h1m49.5 14h1m-29 -5.5h1m3 5.5h1m-21.5 -9h1m33.5 11h1m6 -5.5h1m-28.5 -10.5h1m-8.5 1.5h1m18 4.5h1m8.5 17h1m1.5 -12h1m-20.5 -1h1m-6.5 -5h1m12.5 4h1m9.5 5.5h1m-2.5 3.5h1m3 -9h1m-17.5 7h1m32 -4h1m-49 -1h1m14.5 -4.5h1m10 -11h1m2 10h1m6.5 13.5h1m-6.5 4.5h1m-16 -21.5h1m-1 2h1m20.5 10h1m-14.5 5h1m-29.5 -7h1m41 7h1m-32.5 -13.5h1m-14 -7.5h1m24.5 2h1m15 1.5h1m10.5 5.5h1m-40.5 -4h1m-22 -6.5h1m50.5 22h1m-11 7h1m-5 -17.5h1m10.5 1.5h1m-19.5 -4.5h1m16.5 4.5h1m-34 10.5h1m5 -11h1m-17.5 -4.5h1m33.5 13h1m-12.5 -7.5h1m27.5 -4h1m-25 -7h1m14 21h1m12 -3h1m-10 -10h1m-26 1.5h1m33.5 -0.5h1m-22.5 -3.5h1m-36.5 2.5h1m23.5 9h1m-5 -9h1m24 10h1m-36 -19.5h1m-15.5 7h1m-13.5 -2h1m16.5 1h1m-16 -10h1m32.5 3h1m-11.5 0.5h1m-12 11h1m14 -14.5h1m-28 0h1m-2.5 15.5h1m-11.5 -10h1m16.5 -3.5h1m-5.5 -3h1m8.5 2.5h1m-2 4h1m-10 -6.5h1m1.5 4h1m-17.5 7h1m17.5 -10h1m22.5 14h1m-25.5 -11h1m9.5 4.5h1m-13 3h1m30 4.5h1m-47.5 0h1m27 -0.5h1m6 -8h1m11.5 -6h1m-23 5.5h1m-9 8h1m-16 10h1m28 -14h1m-25 -2h1m26.5 13.5h1m-19.5 -16.5h1m0.5 3h1m16.5 -1.5h1m-30 2h1m-2.5 -3.5h1m22 9h1m8 -9.5h1m-14 -2.5h1m17.5 13.5h1m-26.5 -5.5h1m9 -8.5h1m29.5 15.5h1m-21.5 -4.5h1m-31 -6h1m30.5 4h1m-31.5 -10h1m25 22.5h1m-35.5 0h1m21.5 15h1m48 -9.5h1m-44.5 0.5h1m-3.5 3.5h1m20.5 -4h1m7.5 -22.5h1m-39 16h1m60 19h1m-75.5 -6.5h1m69 6h1" stroke="#111" stroke-opacity="0.33" stroke-width="1.1" fill="none"/>
<path d="M235.5 40h1m-2.5 6h1m7 -15h1m-11.5 12h1m10.5 -0.5h1m-11.5 -15h1m1.5 9.5h1m-5 -2.5h1m3 9h1m-10 -2.5h1m3.5 -10h1m-2 -0.5h1m6.5 24.5h1m1 -15h1m-15 -8h1m-0.5 3.5h1m4 -5.5h1m2.5 18.5h1m-9 -13h1m8 8h1m3 -7h1m-5.5 4h1m9 -0.5h1m-17.5 -3.5h1m-2 5h1m3.5 -8h1m-2.5 4.5h1m3.5 8h1m-2 7.5h1m3 -15.5h1m1.5 6.5h1m-6.5 -8h1m-0.5 0.5h1m5.5 -3h1m-17.5 1.5h1m7.5 6h1m-4 7h1m11.5 -5.5h1m-12 -5h1m-7 4h1m5 -11.5h1m2 6h1m0 6h1m-11 -15h1m1.5 3h1m-1.5 0h1m3 18h1m-5.5 -12.5h1m4 0h1m-8 0h1m0.5 10.5h1m3 -14h1m2 1.5h1m-7 17.5h1m7.5 -6h1m-6 -17.5h1m-1.5 3h1m-2.5 -3.5h1m23.5 16.5h1m-19 4h1m11.5 -16.5h1m-16 2.5h1m14.5 2h1m-21 7.5h1m5 0.5h1m4.5 -3.5h1m-14.5 9.5h1m0.5 -20.5h1m0.5 2h1m9.5 18h1m-10 -16.5h1m-6 5.5h1m1 -8h1m12.5 16.5h1m-10 -19h1m-0.5 5.5h1m-2.5 1.5h1m1 2h1m-4.5 15h1m6.5 -2h1m-7 -9h1m-6.5 0h1m3 -8.5h1m-2 13.5h1m-4.5 -6h1m1 -2.5h1m4.5 -5.5h1m-5.5 11.5h1m0 10.5h1m-3.5 -15h1m6.5 10.5h1m7.5 -10h1m-19.5 9.5h1m4 -5.5h1m12.5 -2h1m-15 -14.5h1m-4 24.5h1m7 -17.5h1m-8.5 5h1m4.5 6.5h1m9.5 -16h1m-7.5 -2.5h1m-12 10h1m13.5 -5h1m-6.5 5.5h1m14.5 3h1m-23.5 1.5h1m-1 -11.5h1m0.5 17h1m9.5 -5.5h1m-13.5 -10h1m3 -2.5h1m-5.5 4.5h1m4 11.5h1m-4.5 -12.5h1m5 11h1m5.5 -11h1m-8.5 6.5h1m-4.5 3h1m4.5 -6h1m7.5 7h1m0.5 0.5h1m-0.5 -15.5h1m-12 17h1m64 6.5h1m-37.5 -6.5h1m-36 0h1m-1 6.5h1m61.5 -14h1m-18.5 -0.5h1m-11 -0.5h1m-34 -3h1m22 14.5h1m10.5 0.5h1m-34.5 -13.5h1m15 16h1m-15 -8.5h1m58.5 -3.5h1m-56 7.5h1m6 -4h1m23.5 -2.5h1m0.5 -9.5h1m-38.5 23.5h1m24.5 -10.5h1m-4.5 -8h1m-6.5 8h1m-9.5 -13h1m-10 9.5h1m35.5 0h1m4 -5h1m-42 15.5h1m-3 -12h1m39 -4h1m26 0.5h1m-51 21h1m33 -21h1m-53.5 11h1m24.5 -3.5h1m7 10h1m40 -25h1m-65.5 17.5h1m17.5 -4.5h1m-11.5 -7h1m11 7h1m35 7h1m-55 9.5h1m31.5 -24.5h1m-25 7.5h1m-14.5 -4.5h1m28.5 4h1m-13.5 14.5h1m12.5 -7h1m-35.5 -4h1m28 3h1m-36.5 2h1m12.5 -3h1m10 -1.5h1m7 -12h1m-11 21h1m9.5 -12h1m2.5 7h1m-15 -13.5h1m-6.5 14h1m13.5 -18.5h1m30 22h1m-5 -20.5h1m-47 -4h1m46 19h1m-28 11h1m17.5 -12.5h1m7 -5h1m-60.5 12h1m51 -3.5h1m0 -6h1m-25 -2h1m22 -5h1m-11 3.5h1m-14 4h1m-1 -3h1m20 -9.5h1m-19.5 22h1m7 -16.5h1m-13.5 -2h1m6.5 17h1m20 -11h1m-27.5 3h1m-16 4h1m67 -10.5h1m-63.5 21h1m34.5 -11h1m-27 -15h1m-11.5 4.5h1m-1 9.5h1m18 1h1m32 -12.5h1m-66.5 8.5h1m21.5 -9.5h1m27.5 11.5h1m-47.5 0.5h1m11 4.5h1m6 -8.5h1m4 -9h1m-17.5 14.5h1m-15.5 -5h1m32 10h1m-5 2h1m-20.5 -24h1m45 11h1m-21.5 0h1m21 4h1m-11.5 3h1m1 -5.5h1m-3 5h1m-2 8.5h1m-42 -17.5h1m28.5 11h1m2.5 -10h1m16.5 6h1m-9 -3h1m-22.5 -2.5h1m17.5 -7.5h1m-15 10h1m7 1.5h1m7.5 -10.5h1m-23.5 13h1m6.5 -5h1m11 -8h1m-21.5 5h1m38.5 -11.5h1m-63 11.5h1m30 0h1m-16 0.5h1m-14 -8h1m36 -2h1m-15 26h1m6 -1h1m0 -17h1m-26.5 17.5h1m14.5 -8.5h1m20.5 -17.5h1m-40.5 12.5h1m23.5 16.5h1m-18.5 -8.5h1m-9 -2h1m50.5 -2h1m-6 -4h1m-6 -6h1m-38.5 12h1m17.5 9.5h1m19.5 0.5h1m-18 -12.5h1m3.5 -3h1m-17 -2h1m33 14.5h1m-44.5 -5.5h1m40 -10.5h1m-12.5 5h1m7 -7.5h1m-8.5 -2.5h1m26 18h1m-20.5 -19.5h1m-47.5 19h1m-1.5 -3h1m60.5 -4h1m-43.5 -5.5h1m33 11h1m-48.5 -13h1m-4 7h1m35.5 -2.5h1m-0.5 11h1m-7 -16h1m5.5 4.5h1m-42.5 -0.5h1m28 18.5h1m-7 -4h1m22 -14.5h1m-40.5 -9h1m56 3h1m-1.5 18h1m-65 -16.5h1m69.5 -8h1m-61.5 9.5h1m-8.5 -3h1m23 -3.5h1m43 5.5h1m-67 -2h1m20.5 -4h1m-28 5h1m42.5 -6h1m24 1.5h1m-25 5h1m12 -5h1m13.5 3.5h1m-38 14.5h1m24 6.5h1m-40.5 -26.5h1m45.5 47.5h1m-13 -2h1m-1 -9h1m12 22.5h1m-23.5 -14.5h1m5 -9.5h1m-14.5 11h1m11.5 -4h1m-2.5 -2.5h1m1.5 -0.5h1m6.5 8.5h1m-3 1.5h1m6 3.5h1m-9.5 -5.5h1m-14 -8h1m-16 -1.5h1m7 -1.5h1m-4.5 5.5h1m33 10.5h1m5.5 7h1m-47.5 -20.5h1m25.5 5.5h1m-1.5 19h1m6 -19h1m-10 0h1m14 0.5h1m-2.5 2.5h1m-36.5 7h1m20.5 -6.5h1m2 -10.5h1m22.5 23.5h1m2.5 -4.5h1m0 -0.5h1m-28 -11h1m-4.5 12h1m3 -6.5h1m2.5 -1h1m26.5 3.5h1m-25.5 7h1m1.5 -10h1m6.5 -7h1m-15 5h1m-4.5 8h1m-39 -15.5h1m-4 -6h1m46 21.5h1m18.5 -11h1m2.5 16.5h1m-38 -15.5h1m5 -4.5h1m-2 4h1m29.5 5.5h1m-48.5 1.5h1m18.5 -9h1m-2.5 12h1m3 -10.5h1m13.5 9h1m-31 -11.5h1m11 20.5h1m-7.5 -11.5h1m2 -14.5h1m-1.5 0h1m29.5 23.5h1m-19.5 -21.5h1m13.5 25h1m-11 -13.5h1m-10.5 1.5h1m-20 -12.5h1m24 -3h1m-2 20.5h1m-27.5 2h1m44.5 -6.5h1m-16.5 0h1m-14 9h1m13.5 -8h1m11.5 15h1m-32 -11.5h1m-10.5 -20h1m2 16.5h1m20.5 3h1m8 -1h1m-46 -18.5h1m24.5 6.5h1m-2 0.5h1m21.5 7.5h1m4 2.5h1m4 14h1m-37 -21.5h1m16 9.5h1m-17 -12h1m26.5 14.5h1m-19.5 -4.5h1m-26.5 -8h1m31 4.5h1m6 10h1m-15 -6.5h1m-8 -1h1m37.5 9.5h1m-47.5 -12.5h1m18 -6h1m18 10.5h1m-17 0h1m-19.5 8.5h1m24.5 -6h1m-27 -7h1m-17 1h1m16.5 -5.5h1m6 12h1m24.5 -5h1m-60 -13h1m35 17.5h1m-19 -11h1m23 10.5h1m-17.5 -19h1m26 17.5h1m7 0.5h1m-35 -8h1m11 15h1m-10.5 -16.5h1m25 -1.5h1m-21.5 -0.5h1m-3 11.5h1m-11.5 -11.5h1m34 19.5h1m-12.5 -1.5h1m-39 -21h1m23 7h1m9 2.5h1m-6.5 -4h1m-2.5 1h1m-29 0h1m18 -0.5h1m23 6h1m-18 -3h1m13 1.5h1m19 6.5h1m-67.5 -5h1m21 -16.5h1m-8.5 10h1m-6.5 -8h1m20.5 5.5h1m-2 -6h1m13.5 3h1m-62.5 0.5h1m2.5 9.5h1m23 -9.5h1m3 -6.5h1m-10 9.5h1m0.5 -0.5h1m4 -8h1m-9.5 12.5h1m4.5 8h1m26 -2.5h1m-46 -19.5h1m3.5 6h1m28 5.5h1m-3.5 -1h1m-12.5 3h1m5 8h1m11.5 -20h1m-27.5 10h1m14.5 -2.5h1m-0.5 10.5h1m-32.5 -5.5h1m12 4.5h1m6 -3.5h1m14.5 -9.5h1m-18.5 -1.5h1m25 10h1m-12 -10h1m25.5 -0.5h1m-32 7.5h1m-11.5 5h1m-7 -6h1m-4.5 -6h1m19.5 5h1m15.5 -9h1m-32.5 6.5h1m-5 4.5h1m-13 -11.5h1m12 15.5h1m-8.5 -12h1m11.5 7h1m40.5 -8h1m-21.5 1h1m-18 5h1m-5.5 -4h1m29 8.5h1m-20 -5.5h1m17 0h1m-10 -5h1m1 25.5h1m-17.5 -8h1m-13 18h1m50.5 -6h1m-24.5 0h1" stroke="#111" stroke-opacity="0.33" stroke-width="1.1" fill="none"/>
<path d="M232 36h1m-8 -2h1m3 -4h1m1 15.5h1m-0.5 -0.5h1m-1 -6.5h1m0 -8h1m6.5 15.5h1m6 -13.5h1m-16.5 9.5h1m14 6h1m-8 -21.5h1m-9 10.5h1m5.5 -8.5h1m-13.5 11h1m2.5 -7.5h1m8 -2h1m-8.5 6.5h1m-2.5 2.5h1m-1 9.5h1m1.5 -7.5h1m3 -6.5h1m-11 14.5h1m1 -17h1m13 10h1m-2.5 -9h1m-12.5 0h1m3 -1.5h1m8.5 -0.5h1m-15.5 9h1m11.5 -4.5h1m-14 -0.5h1m-3 5.5h1m-0.5 3h1m-1.5 -3.5h1m6 -0.5h1m-3 1h1m8 -7h1m-4 7h1m7.5 -1.5h1m-18.5 -3h1m16 -2h1m-19.5 16.5h1m-1.5 -6h1m2.5 -8h1m2 3.5h1m5.5 7h1m-1 -11h1m8.5 -4h1m-15 13h1m10 -7.5h1m-18 10.5h1m6 -6h1m-10 -3h1m16 -4h1m-11 4h1m2 4.5h1m-2 -5.5h1m-5.5 -7h1m2.5 0.5h1m-2 8.5h1m-2 -6h1m-7 3h1m-1.5 1.5h1m5.5 5.5h1m10.5 -0.5h1m-11.5 -3h1m5 1h1m-8 -9h1m2 6h1m-8.5 2h1m2 -4h1m-1 -6h1m-3.5 1h1m10.5 12h1m-9.5 1.5h1m-2.5 -10.5h1m7 7.5h1m-2.5 -6.5h1m-11 1h1m2 -8.5h1m15 13h1m-19.5 2.5h1m8 7h1m-6 -12.5h1m3.5 -2.5h1m1.5 -3.5h1m-8 -3.5h1m2.5 21.5h1m2 -2.5h1m5.5 -10.5h1m-12 4.5h1m-6 -8h1m2.5 10.5h1m-1 2.5h1m-4 2.5h1m9 -8h1m-8.5 4h1m2 -2h1m-3 -9h1m-5.5 5h1m3.5 5.5h1m-5.5 -17.5h1m5 13.5h1m-2.5 11.5h1m4 -11.5h1m2.5 -7h1m13.5 4.5h1m-22.5 -6h1m11 16.5h1m-10.5 -18.5h1m-3 3h1m-6 18.5h1m0 -16h1m0 -2h1m10 2h1m-16.5 4.5h1m9.5 -6h1m-8.5 17.5h1m-2 -16.5h1m6.5 7h1m0 -0.5h1m4.5 -6h1m-17.5 -3.5h1m1.5 15.5h1m2 -6h1m2 -7.5h1m-7.5 -3h1m0 6.5h1m12 -4h1m-6.5 6.5h1m-8 7h1m-0.5 -11.5h1m1 8.5h1m-3 0.5h1m-5 -16.5h1m8.5 2.5h1m-2 8h1m7 -3.5h1m13.5 6.5h1m-15.5 -7h1m21.5 2.5h1m-4 14.5h1m7.5 -18h1m-25 3.5h1m26.5 11.5h1m-9 -6.5h1m-4 -1.5h1m40.5 -13h1m-31 25h1m1.5 -10.5h1m-12.5 -9.5h1m12.5 17h1m9 -12h1m-16 -6h1m3.5 12h1m-17.5 1h1m13 -1.5h1m-48 -7h1m38.5 6h1m11.5 0h1m-36.5 -5h1m-13 -0.5h1m13.5 13.5h1m14 0h1m8.5 -5h1m-10.5 -3.5h1m-21.5 6.5h1m9.5 -14.5h1m-20.5 10.5h1m40.5 1.5h1m-45.5 -10h1m49.5 13.5h1m-22 -0.5h1m-3 -10h1m-9 1.5h1m24 -2h1m-30.5 -4.5h1m22 22.5h1m-4.5 -10h1m39 -6h1m-13 1h1m-0.5 -9.5h1m-55.5 2h1m57 6h1m-9.5 -1h1m-48.5 -2h1m33.5 10.5h1m-13.5 3h1m-27 -3h1m45 2h1m-21.5 -5h1m2 -9.5h1m-24 0.5h1m44 18h1m-5.5 -11.5h1m-11 0h1m-4.5 10h1m-29 -17h1m48.5 23h1m-26 -18h1m15.5 1.5h1m-23 1.5h1m-25.5 -4h1m3.5 11h1m20 -12.5h1m-33.5 18.5h1m27.5 -17h1m-9.5 -9h1m4 13h1m36 3h1m-39 2.5h1m8.5 -6h1m-21.5 2.5h1m-4.5 10.5h1m18.5 0.5h1m-14.5 -14.5h1m-6.5 -1.5h1m16 0h1m20.5 -7h1m-20 13h1m-6 -10h1m-20.5 6h1m6 0.5h1m11 -2.5h1m-9 -6h1m27.5 2h1m-12.5 9h1m6 9.5h1m6.5 -11.5h1m-40.5 -2.5h1m2 -9.5h1m51.5 16.5h1m-41 5h1m-19.5 -8.5h1m15 3.5h1m33.5 -10h1m-31.5 7h1m40.5 -13.5h1m-62.5 13.5h1m68.5 -13.5h1m-47 14h1m8.5 -5h1m-27.5 -12.5h1m11.5 11.5h1m-12 -9h1m63 27h1m-10.5 -18h1m-21.5 12.5h1m-38.5 -12.5h1m56.5 -0.5h1m-12.5 8h1m-44.5 6h1m20.5 -11.5h1m-23 8h1m-14.5 8h1m45 -9h1m-19.5 -8.5h1m3 5h1m9.5 3.5h1m-3.5 -11h1m-40.5 12h1m12.5 4h1m40.5 -3.5h1m0 -11h1m-8 -9.5h1m-41.5 14h1m53 -11h1m-45.5 17h1m-9.5 2.5h1m42 -16.5h1m5 -4.5h1m-41 24h1m40 -5.5h1m-45 -12h1m11 18.5h1m-14 -15.5h1m27 -2h1m4.5 3.5h1m-12.5 10.5h1m18 -11h1m14.5 -7.5h1m-58.5 0h1m51 2.5h1m-30.5 2h1m35.5 9h1m-51 3h1m20 -14h1m8 8.5h1m-47 -4.5h1m48.5 12h1m-39.5 -5.5h1m30 -10.5h1m-44 -3.5h1m46.5 19.5h1m-2 3.5h1m-0.5 -0.5h1m-11 -3.5h1m-23.5 0h1m50.5 -10h1m-15 -11h1m-26 24h1m0 -26h1m17.5 2h1m15 23h1m-57.5 3.5h1m60 -10.5h1m-32 8.5h1m24.5 -12h1m-16.5 -1.5h1m-13 18.5h1m21 -27.5h1m-52 -4h1m43.5 29.5h1m-4 -11.5h1m-19.5 -2h1m11 2h1m-8 -0.5h1m9.5 -1h1m-39 -11h1m61 61.5h1m-15.5 -17h1m9 3.5h1m-30.5 -17h1m25 26.5h1m16 -12.5h1m-28 -11h1m7.5 12h1m-35.5 -4.5h1m26.5 -10h1m-4 11h1m-43.5 -14h1m47.5 16h1m-18 0h1m4.5 6.5h1m14.5 -3h1m-12.5 10h1m17.5 -7h1m2 -3h1m5.5 -9.5h1m-21.5 18h1m-12.5 -0.5h1m13.5 -7.5h1m-35.5 -9.5h1m34.5 5h1m-18 -1.5h1m8.5 8h1m9.5 -5h1m-9.5 -10.5h1m4 16.5h1m17.5 10.5h1m-13 -14h1m-17.5 -12.5h1m-11.5 -1.5h1m9 -4h1m3.5 4.5h1m-33 6h1m27.5 14.5h1m20 -13.5h1m-18.5 14h1m9.5 -22h1m-16.5 14.5h1m23 14.5h1m1 -26h1m-20.5 0h1m-34 0h1m15 -0.5h1m40 23.5h1m-47 -18h1m6.5 -2.5h1m3 -3h1m13.5 7h1m3 -9.5h1m-23.5 3.5h1m18.5 9h1m-1.5 -9h1m-13 2h1m8.5 6h1m-9.5 0h1m-1 -3h1m21 10.5h1m-13 -9.5h1m8.5 18h1m-22 -10.5h1m28 -14h1m-45 -6h1m-11 13h1m10.5 -9.5h1m41.5 6h1m-11.5 12h1m0.5 -18h1m-26 8.5h1m35.5 6h1m-11.5 -1h1m-27.5 -13.5h1m6 21h1m13 -1.5h1m-5 7h1m0 -14.5h1m-0.5 -13.5h1m-18.5 4h1m-21.5 -3h1m52 16h1m-34 -16h1m10 9.5h1m-36.5 -8h1m30.5 0.5h1m-5 8h1m-8 5h1m23 1h1m2.5 -6h1m-13 -4h1m1.5 7h1m-6.5 8h1m9.5 -4h1m-19 9.5h1m9.5 -11.5h1m-24 -1h1m36 2.5h1m-8.5 -12.5h1m-0.5 20h1m-3 -11h1m3 16h1m-18.5 -23.5h1m22.5 0.5h1m-17.5 4.5h1m-17 6h1m35 -5h1m-35 -5.5h1m31.5 3.5h1m-14 10h1m14 -6h1m-22.5 -2h1m-20.5 -3h1m30.5 1h1m-19 10h1m-14 -14h1m17 9.5h1m0 -2.5h1m20 5h1m-18.5 -6.5h1m-29.5 -4.5h1m8 9h1m16 3h1m20 -1.5h1m-24 -11h1m15.5 5h1m-11.5 7h1m2 2.5h1m4 -9.5h1m-30.5 3h1m13 -4.5h1m-6 -2.5h1m9 -1h1m11 14h1m-25.5 1.5h1m20 -13h1m-1.5 -9h1m-10 8.5h1m10 12.5h1m-9.5 -15h1m24 0h1m-10.5 2.5h1m-3.5 9.5h1m-19.5 -9.5h1m13 -11.5h1m-39.5 7h1m-0.5 -7h1m-4.5 0h1m0.5 10h1m-23.5 2.5h1m20.5 -9.5h1m-17.5 0.5h1m9.5 0.5h1m-13 -5.5h1m23.5 21h1m-21 -15.5h1m-8.5 -1.5h1m39 2.5h1m-21 -4h1m8 15h1m-7.5 -8h1m7 5h1m-15 -15h1m-22.5 3h1m20.5 7h1m-10.5 4.5h1m2 -2h1m23 -1h1m-8.5 -1h1m7 -3h1m-6.5 2h1m-10.5 -7.5h1m11 12.5h1m-22 -13h1m22 13.5h1m-10.5 -12.5h1m-8 6.5h1m11 -2.5h1m-20.5 5.5h1m47.5 0h1m-9 -9h1m-57 11.5h1m20.5 -6.5h1m20.5 -2.5h1m-16.5 -2.5h1m15.5 9h1m-32 -3h1m20.5 0.5h1m-4 10.5h1m-16.5 -14h1m15 6h1m-22 -5.5h1m21 -2h1m-32 10.5h1m11.5 -0.5h1m18.5 -13.5h1m-26 21.5h1m1 -6.5h1m24 -16.5h1m23.5 17.5h1m-50 -2h1m-7 -8h1m33.5 10h1m-27.5 -3h1m34.5 -5.5h1m-38.5 0h1m40.5 -8h1m-42.5 4h1m8 9h1m16.5 -2h1m-17 -9h1m5.5 12h1m8.5 -4h1m-14 -4h1m58 9h1m-22.5 -9.5h1m-56.5 -1h1m34.5 5.5h1m31.5 2.5h1m-10.5 -11.5h1m-11.5 20.5h1m18 15h1m-61.5 -11h1m11.5 8h1m-3 -31h1m33.5 21.5h1m5.5 -10h1m-59.5 -12.5h1m61 -1h1m-32 20.5h1m4.5 -6.5h1m-33 26h1m26 1.5h1m36.5 -42.5h1" stroke="#111" stroke-opacity="0.33" stroke-width="1.1" fill="none"/>
<path d="M231 32h1m2.5 7h1m-1 -3.5h1m-10.5 16.5h1m14 -21.5h1m-8.5 15h1m-6.5 -10.5h1m19.5 8h1m-23 4.5h1m16 -8.5h1m-12 0.5h1m-5.5 2h1m17.5 -2.5h1m-18.5 -8.5h1m-0.5 24h1m12 -24.5h1m-15 16h1m0.5 -13.5h1m8 22h1m-9.5 -16.5h1m8.5 -2h1m-11 6.5h1m-5 -14.5h1m11.5 18.5h1m0.5 -10.5h1m-3.5 -7.5h1m-1 10h1m2 12h1m-12.5 -13.5h1m20.5 11h1m-24 -4.5h1m-1.5 -11h1m12 14h1m-3 -7.5h1m-5 -0.5h1m-2 -5h1m-5 13h1m-1.5 -17h1m24 13.5h1m-17 -11h1m-9 16.5h1m-1 -6.5h1m6 -7h1m5 9.5h1m-16 -5h1m0 -5h1m8 8.5h1m-11.5 -4h1m2.5 7.5h1m-3.5 4h1m9 -14h1m-9 -3.5h1m1 -1.5h1m3 7h1m-5.5 -7.5h1m9.5 0.5h1m-11 0.5h1m-3.5 1h1m7 19h1m0.5 -14.5h1m-5 -4h1m-8 4.5h1m-2 1.5h1m21.5 -7h1m-8.5 11.5h1m-4 -2h1m-5 -13.5h1m-6.5 14h1m-1 5h1m11.5 -10.5h1m-5.5 7h1m10.5 -15.5h1m-7.5 9h1m-10.5 -5h1m-4.5 3h1m9 13.5h1m3.5 -20h1m-5.5 2.5h1m-7.5 5h1m3 -9.5h1m-11 8.5h1m5.5 -3.5h1m-7.5 15h1m1.5 -18h1m20.5 2.5h1m-17.5 0.5h1m2 6.5h1m-7.5 -10h1m3.5 6h1m-3.5 -6h1m-3.5 20h1m7.5 -19.5h1m-8.5 20h1m14.5 -17.5h1m-10.5 13h1m-7 -17h1m7 12h1m-12 2h1m1.5 -11h1m-4.5 2.5h1m5 8h1m-1 6.5h1m0 -7h1m-8 3.5h1m-2.5 -1h1m57 4h1m-6 -7h1m-2 8h1m6.5 -9h1m-50 3h1m45 -1.5h1m-33 -6.5h1m-18 19.5h1m-1 -2.5h1m3.5 -9h1m0.5 -4.5h1m28 1.5h1m-30 9.5h1m1.5 -10.5h1m42.5 -5.5h1m0.5 25.5h1m-12 -2.5h1m-42 -7.5h1m0 8h1m-3 -6h1m1 -13h1m56 4.5h1m-44.5 -1h1m28.5 13h1m-37.5 -3h1m13 -11h1m42 -3h1m-49.5 10h1m4 -12h1m-10 22h1m39.5 -15h1m-33 -4h1m21 -6.5h1m-43.5 15.5h1m41.5 0.5h1m-47 -8.5h1m44 -7h1m-8 11.5h1m-11 3.5h1m-15 5.5h1m-7 -16h1m24 8h1m16 3.5h1m-1 2.5h1m24.5 -10h1m-43 12h1m-19.5 -7.5h1m-7 -11h1m37.5 3.5h1m-28.5 12h1m10.5 -18h1m-27.5 15h1m13 1h1m26 -1.5h1m-48.5 -11h1m-1 3.5h1m30 -3h1m0 6h1m-7.5 4h1m-5.5 -6.5h1m-2 -5.5h1m-4 11.5h1m17.5 8.5h1m-7.5 -12h1m-13 -1.5h1m12.5 9.5h1m12 -13.5h1m-4 18.5h1m-22 -2.5h1m23.5 -11.5h1m0.5 9.5h1m-2.5 -19h1m-7 16h1m8.5 6h1m-9.5 -18h1m17 7.5h1m-55 3.5h1m50 12h1m-34 -18h1m-24.5 4h1m64.5 10h1m-46 -3h1m1.5 -16.5h1m28.5 6h1m-14 13.5h1m-25.5 -3.5h1m-10 -4h1m47.5 9.5h1m-26.5 -17.5h1m6 13.5h1m-3.5 -19.5h1m-32 4h1m22.5 -5.5h1m-15 17h1m19 -15h1m31 12.5h1m-49.5 0.5h1m16 -11.5h1m-23.5 11.5h1m25.5 -0.5h1m4 -10h1m12.5 4h1m-26 9.5h1m34 -7h1m-55 15h1m14 -7h1m7.5 -13h1m11.5 8h1m-19.5 -15.5h1m17.5 13.5h1m3 -9h1m-45.5 -2.5h1m35 11.5h1m9.5 -2.5h1m-14 1.5h1m-4.5 -2.5h1m4 10h1m-15 -12h1m42 -4.5h1m-19 -3h1m-20 19h1m18 -14h1m-10 -5h1m-15.5 6h1m-22.5 -6h1m13.5 0h1m13.5 7.5h1m25 17.5h1m-25.5 -14.5h1m6 1h1m-0.5 15.5h1m-38 -12.5h1m-10 -14.5h1m53.5 24.5h1m-25 -22.5h1m44.5 12.5h1m-16.5 2.5h1m-35 3.5h1m-4 -16.5h1m18.5 9.5h1m22 -1.5h1m-62.5 -8h1m68.5 21h1m-58 -25.5h1m26 20h1m-37.5 9.5h1m48 -16h1m-50.5 -11.5h1m37 13h1m-25 -5.5h1m32.5 13h1m15 -16h1m-67 2h1m-3 -9.5h1m-3 4h1m4.5 0h1m61.5 19.5h1m-17 -12h1m-8.5 -12h1m-10.5 1.5h1m-31.5 26.5h1m50 -28.5h1m-38 24.5h1m45 2h1m-53.5 -21h1m-1 23h1m36.5 -3.5h1m4 -1h1m0.5 -10h1m-4 9.5h1m-30 -22.5h1m20.5 45.5h1m25.5 1h1m-27 2.5h1m-2.5 -6h1m22 0h1m-20 6.5h1m2 12h1m5.5 -19.5h1m-23.5 14h1m15.5 -15h1m-7 1h1m7 -2.5h1m3 4.5h1m11.5 10h1m-24 -7.5h1m11 6h1m0.5 4.5h1m-4.5 -7.5h1m-5.5 -9.5h1m0 11h1m15 -0.5h1m-17.5 7h1m-21.5 1h1m46.5 -2h1m-13 4h1m13 3.5h1m-19.5 -15.5h1m-0.5 5h1m-17 -6.5h1m20 5h1m-19 -12.5h1m-16 17.5h1m29.5 1h1m-41 -24h1m50 25.5h1m-18 -6h1m-14 -9.5h1m6 5.5h1m-7.5 -10.5h1m15.5 7.5h1m-10 5.5h1m-13 3.5h1m3.5 -2.5h1m5.5 -1.5h1m-33 -5.5h1m20 -8h1m14 10.5h1m-21 -9.5h1m13.5 9.5h1m21 5.5h1m-52 -1.5h1m53.5 -4.5h1m-11.5 -4.5h1m-11.5 12.5h1m2.5 -1.5h1m7.5 2.5h1m-12.5 -0.5h1m25.5 9h1m-18 2h1m-44 -24h1m42 5.5h1m1 2.5h1m-8 13.5h1m-16.5 -14.5h1m14.5 -6h1m-11 6h1m-1.5 -5h1m23.5 10.5h1m-43.5 -12.5h1m-8.5 -0.5h1m27 11h1m-30 -10h1m25 -3.5h1m-4.5 -0.5h1m2 -2.5h1m8 6.5h1m-16 3.5h1m-19.5 -13.5h1m34 32h1m2.5 -15h1m-27.5 -14.5h1m24.5 9h1m3 7.5h1m-30 3h1m-6.5 -12h1m30.5 14.5h1m-31.5 -10h1m10.5 -4.5h1m14.5 8.5h1m8.5 5h1m-17 -11h1m-23 2.5h1m22 -1.5h1m7 14h1m-27 -21h1m33.5 10h1m-4 -3h1m-44 -5.5h1m20 7h1m6 1h1m-2 10.5h1m12.5 -10.5h1m-15.5 7.5h1m2 -17.5h1m-19 0h1m3.5 1h1m13.5 5h1m-0.5 7h1m10.5 -5.5h1m-19.5 -3.5h1m-6.5 -6h1m7 13.5h1m26.5 1h1m-31.5 -7.5h1m23 13h1m-1.5 -9.5h1m-21.5 4h1m21.5 12h1m-16.5 -1h1m-17.5 -20h1m35.5 20.5h1m-12 -8h1m-4 0h1m-22 -15.5h1m28 27.5h1m-8 -16.5h1m-23.5 -14h1m7.5 5h1m6 4.5h1m9.5 11h1m-25.5 -8.5h1m22 10.5h1m10 5.5h1m-36 -23.5h1m20 10.5h1m13 10h1m-21 -1.5h1m-32 -10h1m-10.5 -5h1m-18.5 5.5h1m51.5 -10.5h1m11 -6h1m-50 8.5h1m6.5 -1h1m-6 13.5h1m-2 -15h1m-3.5 5h1m4.5 -11.5h1m6 9h1m-20.5 12.5h1m-4 -7h1m5.5 -3.5h1m34.5 -1.5h1m-29 -1h1m-16.5 -4.5h1m3 -3h1m-0.5 12h1m14.5 -10.5h1m2 -0.5h1m-18 -1h1m21.5 13h1m-17 5h1m-9 -11h1m18 -1.5h1m-17.5 4.5h1m32.5 6h1m-22 -3.5h1m7.5 -11.5h1m-30 6.5h1m43 5h1m-37.5 -10.5h1m8.5 9.5h1m24.5 -2.5h1m-31.5 -6.5h1m13 0h1m-13.5 5.5h1m8 1h1m-8.5 3.5h1m-5 11.5h1m44 -19.5h1m-28 11.5h1m-16 -12.5h1m5 6.5h1m-1.5 3h1m-20.5 -10h1m20.5 5h1m11.5 -3h1m-6.5 -3h1m-18.5 6.5h1m10.5 2.5h1m6.5 13.5h1m19 -16h1m-6 -6h1m-29.5 4.5h1m0.5 20h1m-5.5 -22.5h1m40.5 3h1m-47 3.5h1m15 -6.5h1m-8.5 7.5h1m17 -3h1m-36.5 -3h1m18.5 -3h1m-3 -1.5h1m-1 6h1m2 1h1m-16.5 9.5h1m45 -3h1m24 3h1m-40 -3.5h1m-5 2h1m23.5 -5h1m-63.5 11h1m19 -11.5h1m22 -1.5h1m6.5 13.5h1m22.5 7h1m-27.5 -29h1" stroke="#111" stroke-opacity="0.33" stroke-width="1.1" fill="none"/>
</g>
<rect x="224.6" y="10.5" width="91" height="44.4" fill="none" stroke="#231f20" stroke-width="1.4"/>
<rect x="224.6" y="61.5" width="91" height="43.9" fill="none" stroke="#231f20" stroke-width="1.4"/>
<text x="320" y="41.8" font-size="12.2" font-weight="bold" textLength="32.2" lengthAdjust="spacingAndGlyphs" fill="#231f20" stroke="#231f20" stroke-width="0.35">upper</text>
<text x="321.4" y="88.9" font-size="12.2" font-weight="bold" textLength="29.5" lengthAdjust="spacingAndGlyphs" fill="#231f20" stroke="#231f20" stroke-width="0.35">lower</text>
<path d="M373.7 0.5H507.3V134.5" stroke="#8c8c8c" stroke-width="1.1" fill="none"/>
<path d="M373.7 0.5V137.5M370.7 134.5H507.3" stroke="#8c8c8c" stroke-width="1.1" fill="none"/>
<path d="M373.7 134.5v3.5M383.8 134.5v2M389.6 134.5v2M393.8 134.5v2M397.0 134.5v2M399.7 134.5v2M401.9 134.5v2M403.9 134.5v2M405.6 134.5v2M407.1 134.5v3.5M417.2 134.5v2M423.0 134.5v2M427.2 134.5v2M430.4 134.5v2M433.1 134.5v2M435.3 134.5v2M437.3 134.5v2M439.0 134.5v2M440.5 134.5v3.5M450.6 134.5v2M456.4 134.5v2M460.6 134.5v2M463.8 134.5v2M466.5 134.5v2M468.7 134.5v2M470.7 134.5v2M472.4 134.5v2M473.9 134.5v3.5M484.0 134.5v2M489.8 134.5v2M494.0 134.5v2M497.2 134.5v2M499.9 134.5v2M502.1 134.5v2M504.1 134.5v2M505.8 134.5v2M507.3 134.5v3.5" stroke="#9a9a9a" stroke-width="0.9" fill="none"/>
<path d="M373.7 134.5h-3.5M373.7 124.4h-2M373.7 118.5h-2M373.7 114.3h-2M373.7 111.1h-2M373.7 108.4h-2M373.7 106.2h-2M373.7 104.2h-2M373.7 102.5h-2M373.7 101.0h-3.5M373.7 90.9h-2M373.7 85.0h-2M373.7 80.8h-2M373.7 77.6h-2M373.7 74.9h-2M373.7 72.7h-2M373.7 70.7h-2M373.7 69.0h-2M373.7 67.5h-3.5M373.7 57.4h-2M373.7 51.5h-2M373.7 47.3h-2M373.7 44.1h-2M373.7 41.4h-2M373.7 39.2h-2M373.7 37.2h-2M373.7 35.5h-2M373.7 34.0h-3.5M373.7 23.9h-2M373.7 18.0h-2M373.7 13.8h-2M373.7 10.6h-2M373.7 7.9h-2M373.7 5.7h-2M373.7 3.7h-2M373.7 2.0h-2M373.7 0.5h-3.5" stroke="#9a9a9a" stroke-width="0.9" fill="none"/>
<g filter="url(#bl)">
<path d="M376.5 52.5h1m4.5 23h1m17 0h1m-15 -3.5h1m-9.5 -20.5h1m6 25.5h1m0 -39h1m-5 36.5h1m4.5 -37.5h1m2 51.5h1m-3 -8.5h1m-7.5 -47h1m3 22.5h1m6 6h1m-6.5 24.5h1m-3.5 -44.5h1m0.5 46.5h1m-7.5 -17h1m7 8.5h1m-3 -40h1m1.5 8h1m-10.5 23.5h1m-2.5 -25.5h1m6 18h1m14.5 27.5h1m-17 -22h1m-8 7h1m0.5 -5h1m10.5 7.5h1m-13.5 -10h1m19 11h1m-17.5 -8.5h1m3 -15.5h1m7.5 -5.5h1m-1 3h1m-14 -4h1m-4 15h1m6 19h1m-4 -22.5h1m5 -7.5h1m10.5 -7.5h1m-10 8.5h1m-4 24.5h1m15 -35.5h1m-27.5 33h1m1.5 -22.5h1m8.5 -8.5h1m-13 -1h1m6.5 2h1m-1.5 -6h1m-0.5 6.5h1m5.5 41h1m-15 -22.5h1m6 -6.5h1m-8 3.5h1m15 -1h1m3 4h1m-17.5 -32h1m4.5 39.5h1m-0.5 -29.5h1m-6.5 -1h1m13 8.5h1m-6 19.5h1m-3 -4h1m-8.5 29.5h1m-1.5 -47.5h1m1.5 24.5h1m23.5 -13.5h1m-22.5 30.5h1m10 -37.5h1m-9.5 -18.5h1m1.5 5h1m1.5 2h1m-11.5 19h1m1.5 -20.5h1m13 17.5h1m0 11h1m-23 0.5h1m3 -20.5h1m9 -4.5h1m-15.5 37.5h1m3.5 -9h1m1 -12h1m18.5 29.5h1m-24.5 -55.5h1m-4 28.5h1m13.5 4h1m-14.5 -13h1m19.5 -24.5h1m-11.5 36h1m5.5 -19h1m-1.5 -8.5h1m-15 21.5h1m-2 26h1m12.5 -20.5h1m-10 -9.5h1m5 -10h1m-7.5 31.5h1m0 0h1m2.5 -19h1m-2.5 -24.5h1m-9.5 61h1m12 -21h1m-3.5 -10h1m-6.5 -24.5h1m9 31h1m-0.5 -28.5h1m-10 51h1m4 -7h1m-10 -25.5h1m-3 25h1m11 -30h1m0 6h1m2.5 -24h1m-10 8.5h1m-4.5 12.5h1m-5 6h1m3.5 -7h1m18 20h1m-24 0.5h1m28 17h1m-28.5 -43h1m2.5 -1h1m1.5 17h1m-7 -22.5h1m28 5h1m-26.5 36.5h1m10 -37.5h1m-4.5 -3.5h1m5 32h1m-3 -29h1m-3.5 6h1m-1.5 12.5h1m-7 -30h1m9 23.5h1m-16.5 -12h1m0 39.5h1m0.5 10h1m6 -66h1m-12.5 24.5h1m0 0.5h1m-1.5 19.5h1m3.5 -13.5h1m7.5 3.5h1m-7.5 -25h1m-7 27h1m19 8.5h1m-20.5 -3h1m13.5 -26h1m-7 53h1m-3 -28h1m5 -6h1m4.5 -27.5h1m-13 24.5h1m-0.5 20h1m-1 -3.5h1m-8 -27h1m2.5 41h1m1 -39h1m2 26h1m-11 3.5h1m3 -47.5h1m8 53.5h1m-1 -20.5h1m-1 -8h1m-6.5 -1h1m3 -31.5h1m-1.5 37h1m4 10h1m-3 -6h1m-8 -24.5h1m-5.5 11.5h1m-0.5 -27h1m15 29.5h1m-2.5 -23.5h1m-14.5 44.5h1m18 -1.5h1m-12.5 -2h1m-2.5 -18h1m-1.5 23h1m2 -35.5h1m-12 26.5h1m-3 -34.5h1m-1 2.5h1m18 32h1m-20 -29.5h1m16.5 39h1m-8 -17.5h1m-6 -28.5h1m11.5 2.5h1m-10.5 4.5h1m-7 43.5h1m1 -4h1m-4 0h1m3.5 -24h1m0 26h1m-6.5 -3h1m9 9h1m-12 -23.5h1m13 -4.5h1m-3 -7.5h1m2 -2.5h1m-3.5 -10.5h1m-6.5 4.5h1m11 39h1m-19 -2h1m-2.5 1h1m9.5 -19.5h1m-0.5 18.5h1m-2.5 -45h1m-3.5 22h1m7 -1h1m-0.5 13.5h1m-2 -2h1m-4.5 -11h1m4.5 -4h1m3 20h1m-17.5 -8h1m13.5 -27h1m-4 34.5h1m-9.5 6h1m-2 -12.5h1m20.5 -2.5h1m-15 20h1m-15 -46h1m2.5 53.5h1m0 -20h1m3 11.5h1m-8 -33h1m29 5.5h1m-21.5 -28h1m-0.5 13.5h1m-4.5 28.5h1m-9 -3h1m2.5 -11.5h1m9 31.5h1m14.5 -1.5h1m-28.5 -14h1m0.5 -6.5h1m17 17h1m-8.5 -11h1m-8 15h1m-7 -5.5h1m8.5 -25.5h1m3.5 28.5h1m7 -18.5h1m-4 -18h1m-6.5 -3.5h1m-0.5 -1.5h1m5.5 -6.5h1m-18.5 9h1m4 -10h1m10 31.5h1m-16.5 17.5h1m4.5 -21h1m-4.5 -29h1m-2 54h1m15.5 -29.5h1m-12.5 0h1m9.5 -10h1m-20 -13.5h1m18 21.5h1m-18 16.5h1m6 19h1m-11 -55h1m10.5 53h1m-5 -13.5h1m-3.5 7.5h1m-1 -19.5h1m13.5 18.5h1m3.5 -48h1m-22.5 20h1m4.5 36.5h1m-6.5 -29.5h1m1.5 -32.5h1m1.5 31.5h1m4 -7h1m6 -3.5h1m-6.5 1h1m-11 28h1m11 -49.5h1m-15 29.5h1m16.5 11h1m-6.5 -11.5h1m-11 -12h1m5.5 51h1m-1.5 -20h1m6.5 -20h1m-8.5 10.5h1m3.5 -29.5h1m0.5 0.5h1m11.5 18.5h1m-20.5 -10h1m-1.5 35h1m-9.5 -27h1m3.5 23h1m14 9.5h1m-13 -21h1m2 -4h1m20 6.5h1m-17.5 -0.5h1m7 -5.5h1m3.5 24h1m-22.5 -56.5h1m-3 33.5h1m-2.5 -22h1m17.5 20h1m-12 -3h1m2.5 3h1m1.5 -29.5h1m12.5 64h1m-27 -56.5h1m-3 4.5h1m-1 45.5h1m5.5 -15.5h1m-0.5 -5.5h1m-2 -37h1m6.5 36h1m-8 -1.5h1m4.5 -26.5h1m-9.5 17.5h1m21.5 5.5h1m-5.5 -21h1m-9 44.5h1m-6.5 -43.5h1m16.5 0.5h1m-23 -18.5h1m-2 11.5h1m18.5 50h1m-20 -31.5h1m3.5 31.5h1m12.5 -51h1m-16 48.5h1m-6.5 -46.5h1m3 27.5h1m14 18h1m-8.5 -13h1m11 -7h1m-20 25h1m-1.5 -22.5h1m12.5 13h1m-1.5 -12h1m8.5 9.5h1m-6 0.5h1m0.5 -28.5h1m1.5 46h1m-11.5 -27.5h1m10 -27h1m-7.5 -12h1m-22 58h1m8 4.5h1m16.5 -13h1m-22.5 16.5h1m-4.5 -17.5h1m15.5 -5.5h1m1 11.5h1m1 -31h1m-8 -1.5h1m2.5 -18h1m-19.5 -6h1m8.5 46.5h1m1.5 5.5h1m-1.5 -51h1m-13 4h1m12.5 25h1m-7.5 -24.5h1m12 2h1m-5 30h1m4.5 19.5h1m-2.5 -7.5h1m5.5 -27h1m-23 21.5h1m3.5 4h1m19.5 21h1m-26 -55h1m10.5 -7.5h1m-15 58.5h1m13.5 -28.5h1m-6 -17.5h1m-1.5 14.5h1m-9 1h1m-4 23.5h1m24 -37.5h1m-12.5 -15h1m4 56.5h1m1 -4.5h1m-14 -47h1m10 1.5h1m6 54h1m-13 -20.5h1m-9 -25h1m17 20.5h1m7 18.5h1m-6.5 -44.5h1m-22.5 7.5h1m24 -13h1m-20 -5.5h1m-9 43h1m28.5 -17.5h1m-24.5 -12h1m4 35.5h1m-9.5 -3.5h1m0 11h1m-6.5 -0.5h1m21 -55h1m-1 7h1m-20 -3.5h1m17 48h1m-1 -23.5h1m-7.5 21.5h1m-7.5 -40h1m20 -13.5h1m-7 3.5h1m-22.5 51.5h1m24.5 -54.5h1m-3 30.5h1m-25.5 -11.5h1m22 44.5h1m-15.5 -15.5h1m1 18.5h1m-5.5 -5.5h1m16.5 -6h1m-4.5 -32.5h1m-15 -17.5h1m7.5 47.5h1m-14 -38.5h1m28 47h1m-20 -13.5h1m-6 -48h1m-1 30h1m2.5 -30.5h1m5 37.5h1m2 31.5h1m5.5 -25h1m-16.5 -3.5h1m-10 -7.5h1m-3 -1h1m26.5 -29h1m-17.5 12.5h1m20 27.5h1m-18 14.5h1m15.5 -49.5h1m-0.5 38h1m-3 -46.5h1m-23.5 44.5h1m3 -6.5h1m6 -24.5h1m-2 21h1m-0.5 -24.5h1m-16.5 24.5h1m2.5 13.5h1m17 -41h1m-1 5h1m-8.5 11h1m3 -3h1m-13.5 28h1m13.5 7h1m-3.5 7h1m-6 -22h1m11.5 18.5h1m-29 5h1m21 -54.5h1m-2 8.5h1m0 4.5h1m-13.5 -20.5h1m3.5 15.5h1m-11.5 41.5h1m13 -43h1m-11.5 7h1m-6.5 38h1m0.5 -59.5h1m-0.5 63.5h1m27 -40h1m-30.5 38h1m12.5 -61.5h1m3 65.5h1m-7.5 -61h1m-1.5 51h1m18.5 -17h1m-16.5 -7.5h1m-9 -13.5h1m-5 24h1m18 6.5h1m-23.5 -23h1m5.5 -12h1m20 20h1m-27 27h1m10 4h1m16 -48.5h1m-10 14h1m8 2h1m-15.5 35h1m11.5 -64h1m-17.5 24h1m-11.5 11.5h1m27.5 -7h1m-29 26h1m24 -7.5h1m2.5 0h1m-10.5 -42h1m-4 37.5h1m5 -15.5h1m-3 3.5h1m-21.5 -25h1m16.5 16h1m2.5 -6.5h1m-8 15h1m-9.5 21h1m5 -30.5h1m5 -7h1m-4.5 11h1m-5.5 -20h1m-8 16.5h1m15.5 39.5h1m9 -54h1m-9.5 51h1m-4 -58h1m-18.5 64h1m6.5 -24.5h1m19 -35.5h1m-26.5 61h1m13.5 -64.5h1m-15.5 33h1m2.5 -2h1m3 27.5h1m-9.5 -61.5h1m0 19.5h1m8.5 -1.5h1m12 -17.5h1m-14 38.5h1m3 -38h1m7 13h1m-24 52h1m17 -8h1m-6.5 -11.5h1m-12 2.5h1m-2.5 -21h1m23.5 -2.5h1m-19 29h1m-0.5 -45.5h1m-9.5 2h1m12.5 28.5h1m8 -17.5h1m-20.5 -7.5h1m10 32h1m10.5 20.5h1m-12 -30h1m5 -27h1m10 14h1m-23 -17.5h1m0 12.5h1m13.5 7.5h1m3 41h1m-8.5 -27h1m-10 20.5h1m-4 1h1m-3 -27h1m21.5 -32.5h1m-31.5 -3h1m27 59.5h1m-18.5 -32.5h1m0 18.5h1m-8.5 -28h1m10.5 -3.5h1m8 40h1m3 -37h1m0.5 22.5h1m-14 -17h1m-14.5 17h1m15.5 -23h1m10 0h1m-32 -16h1m13 14.5h1m8.5 20.5h1m-2.5 7h1m-10 -18h1m-13.5 41.5h1m14 1.5h1m5 -13.5h1m2.5 16h1m0 6.5h1m-16 -3h1m5 -1.5h1m-4.5 -1h1m-1.5 -3.5h1m-6.5 5h1m5.5 -2h1m-14 -2.5h1m25 9.5h1m-7 -9.5h1" stroke="#111" stroke-opacity="0.33" stroke-width="1.1" fill="none"/>
<path d="M387 53.5h1m-4.5 17.5h1m-4 -31.5h1m25.5 16h1m-19.5 7.5h1m-8.5 0.5h1m-2 -12.5h1m-4.5 34h1m14.5 -5h1m-8.5 -42h1m3 46h1m0 -44h1m-1.5 54h1m5 -23.5h1m-12.5 -30.5h1m2.5 -1h1m-4 0.5h1m5.5 36.5h1m-13.5 -45.5h1m10 11h1m-5 -7h1m15 2.5h1m-26 -0.5h1m0.5 34h1m13.5 -27.5h1m-6 21.5h1m-4 -35h1m3.5 46h1m-2 8h1m-1 -27h1m9.5 -3.5h1m-5 -10h1m0 28.5h1m-7.5 -3h1m-2.5 3.5h1m-8.5 -12h1m18.5 22.5h1m-0.5 -45h1m-15 14h1m-10 44h1m0 -45h1m1.5 12h1m20 -34h1m-19 25.5h1m-2.5 7h1m5.5 5.5h1m17.5 6.5h1m-15 -22.5h1m-11 1h1m-1 -19.5h1m-7 10.5h1m-0.5 18.5h1m0.5 -15.5h1m5 35.5h1m-4 -31.5h1m20.5 23.5h1m-23.5 -21h1m9.5 -18h1m-13.5 32.5h1m6 -1.5h1m2.5 7.5h1m-13.5 10.5h1m1 -13h1m11 3.5h1m-4 14h1m-4.5 -30.5h1m-2 5.5h1m0 -21h1m0.5 40h1m-5.5 -16h1m8 -2h1m-12.5 1.5h1m14 25.5h1m-4.5 -46h1m-12.5 20.5h1m18.5 -6.5h1m-3.5 -10h1m-18 1h1m8.5 3h1m-5 -1.5h1m-0.5 33.5h1m14.5 -37h1m-24.5 13.5h1m9 -4h1m-7 -22h1m14 13.5h1m-0.5 30.5h1m-3.5 -25.5h1m-2.5 -9.5h1m-4.5 48.5h1m-11.5 -35h1m-1.5 24.5h1m13.5 -13h1m-15.5 -24h1m6 14.5h1m2 -2.5h1m-5.5 4h1m-3 -8.5h1m-4.5 -21h1m-2 30h1m3.5 -32h1m22.5 6h1m-16 29.5h1m2.5 -13.5h1m-5 12.5h1m-3.5 26h1m1.5 -4h1m-3 -5.5h1m-6 -45h1m-4.5 29h1m11.5 7.5h1m10.5 1h1m0 -37.5h1m-20.5 14.5h1m-3.5 19.5h1m10.5 -16.5h1m-13 34h1m14 3h1m-10 -41h1m-0.5 11.5h1m-0.5 -17.5h1m-4.5 16h1m-1 13h1m-4.5 12.5h1m-3 -24.5h1m18.5 -14h1m-10.5 3.5h1m1 18.5h1m2.5 3.5h1m-16 12h1m-2.5 -8h1m10.5 -35.5h1m8 22.5h1m-18.5 26.5h1m-5.5 -39.5h1m5 -15.5h1m18.5 16.5h1m-15 -0.5h1m-5 6h1m-9 23h1m3 -7h1m2 -0.5h1m22 -26h1m-28 44.5h1m3 -17h1m-1.5 1.5h1m12.5 4h1m-1 -8.5h1m-16.5 8.5h1m6.5 -22h1m6.5 -4h1m-18.5 -11.5h1m8 19h1m12.5 15.5h1m-11 -4.5h1m6.5 -20h1m-8.5 15h1m-9 24h1m-7 -10.5h1m13.5 2.5h1m-10 0h1m5 -23.5h1m-6 9.5h1m6.5 -20.5h1m-14 2h1m10 39h1m-7.5 -33h1m14.5 19.5h1m-7.5 -32.5h1m-14 41.5h1m0.5 5h1m1.5 -4h1m-1 3h1m0.5 -60h1m2.5 13.5h1m16.5 -0.5h1m-22.5 56.5h1m0.5 -51.5h1m11 -9h1m-18.5 15h1m10 2.5h1m-1.5 -23h1m3 19h1m2 14.5h1m-12.5 -2h1m11 -7h1m-12.5 18h1m13.5 -8h1m-19.5 16.5h1m-5.5 -23h1m5.5 -11h1m-7.5 18.5h1m12.5 -17.5h1m1.5 -21h1m14 41h1m-30 21h1m5 -52.5h1m7.5 39h1m0 -40h1m-7 21.5h1m-4.5 9h1m-3.5 -22h1m10.5 24h1m-16 -7h1m9.5 20.5h1m4.5 -22h1m6 -24h1m-26.5 10.5h1m22 28h1m-18.5 -27h1m-2 -12.5h1m14.5 25h1m-7 16.5h1m-10.5 -27h1m16 -10h1m-10.5 13h1m-8 22.5h1m7.5 23h1m-7 -34.5h1m6 2.5h1m14 9h1m-25 3h1m9 -33.5h1m-11 -7.5h1m3.5 10.5h1m-6.5 34.5h1m18 -21.5h1m-6 13.5h1m-5 -9h1m-7.5 28.5h1m-6 -58.5h1m15.5 15h1m-20 22h1m15 -13.5h1m-8.5 8h1m0 -6.5h1m4 -11h1m-13 -7.5h1m8 37h1m-0.5 -11.5h1m-10 -26h1m6.5 30.5h1m0 -4.5h1m9 17h1m-13.5 -22.5h1m5.5 -6h1m-15 40.5h1m0 -30h1m-4.5 8.5h1m12.5 3.5h1m-10 -36h1m12.5 7h1m-16 20h1m28 23h1m-24.5 -10h1m-4 -30.5h1m-4 -8.5h1m13.5 31.5h1m5 -32h1m-19.5 -12h1m3 52.5h1m-1.5 -38.5h1m1.5 22.5h1m-1.5 3h1m8.5 -37h1m0.5 20h1m-10.5 30h1m4 -6.5h1m-6 -25h1m14 18h1m-16.5 -24h1m-12 32h1m1.5 -33h1m-2 24.5h1m0 -26h1m10 28h1m-11 -16.5h1m-3.5 31.5h1m10.5 -7.5h1m8 -3.5h1m-16 -20h1m-2.5 -0.5h1m12 18h1m-12 16h1m-7 -26.5h1m13.5 -29.5h1m6 34.5h1m-7 26.5h1m-5 -51.5h1m-12.5 23.5h1m0 -15.5h1m4 38.5h1m-2.5 -38h1m-1.5 8.5h1m9.5 19h1m-14 -3.5h1m24.5 -13.5h1m-11 -18.5h1m-10.5 -4.5h1m-1.5 25.5h1m10 -12.5h1m-15 -13h1m1.5 1.5h1m-2 30h1m1.5 8h1m-8.5 -15h1m10.5 -20h1m-9.5 44.5h1m2.5 -13.5h1m1.5 3.5h1m-5.5 7h1m-1 -15h1m-1.5 -4h1m8 6h1m-5 -22h1m-9 -15.5h1m6 30h1m14.5 -18h1m-17 7.5h1m-8.5 -9h1m1.5 18.5h1m14 -29.5h1m-17.5 4.5h1m6 29h1m15.5 -8.5h1m-23 11h1m6.5 -29h1m10.5 20.5h1m-6 30h1m-12.5 -45h1m3.5 13.5h1m19.5 2h1m-9 29.5h1m1.5 -34h1m-11.5 -26h1m-11 15h1m4 -12h1m8 18h1m-1 29h1m-10.5 -20h1m13 -7h1m-20.5 38h1m0.5 -18h1m-5.5 -23h1m10.5 16h1m4 -20h1m-5 -1h1m15.5 -2.5h1m-8.5 3h1m-6.5 30.5h1m-18.5 -9h1m0.5 27h1m-1 -7h1m15 1h1m-0.5 -22.5h1m-18 5h1m7.5 10h1m11.5 1.5h1m5 -17.5h1m-17 -8h1m2.5 1h1m-14.5 39h1m16.5 -30h1m7 29.5h1m-17.5 -16h1m15 -11h1m0.5 2h1m-15 -1.5h1m16.5 19h1m-10.5 -62h1m-19.5 38.5h1m2.5 -7.5h1m-3.5 31.5h1m-3 -59.5h1m12.5 36h1m10 -24.5h1m-19.5 34h1m10.5 3h1m-3 -10h1m-11 21.5h1m17.5 -17h1m-2.5 9h1m-7.5 6.5h1m-11.5 -27h1m20 33.5h1m-22 -9h1m8.5 -15h1m-14 -11.5h1m20 7.5h1m-9 -31h1m-11 43h1m-0.5 -19.5h1m12.5 14.5h1m0.5 0.5h1m3.5 -24.5h1m-12 28.5h1m-5 17h1m15 -7.5h1m-5 -38.5h1m-4.5 -18h1m-8 43.5h1m-3 20.5h1m-9 -40h1m19.5 6h1m-8 -30h1m13 32.5h1m-30 0h1m3.5 30.5h1m11 -16h1m-20.5 -5h1m21.5 14h1m-8 -45.5h1m4 50h1m-12 -2h1m-6 5h1m1 -52.5h1m-3 -15h1m26 15.5h1m-27 44h1m8.5 -35h1m4 11.5h1m-10.5 -27h1m-8 45.5h1m8.5 -3h1m6.5 12h1m-4 -4.5h1m4.5 -15h1m-10 6.5h1m13 -10.5h1m-4 -23.5h1m-15 34h1m10.5 0.5h1m-18.5 -13.5h1m10 -1.5h1m-12 -16h1m20.5 33.5h1m-16 -53.5h1m17 38h1m-22 -14.5h1m-3.5 0.5h1m14 43.5h1m-11.5 -62h1m15 55.5h1m-4.5 -47.5h1m-20.5 17h1m16 10.5h1m10 14.5h1m-7 8.5h1m-17 -60.5h1m14.5 37.5h1m-9.5 -38.5h1m-9 2.5h1m-1 37.5h1m-1 -17.5h1m-8.5 -22.5h1m26 21h1m-25 14h1m-3.5 -1.5h1m17 7.5h1m-14 22.5h1m-0.5 -18.5h1m21.5 -33.5h1m-27 -9.5h1m10 11.5h1m-14 1.5h1m27.5 10h1m-28 -1.5h1m4.5 26.5h1m-5 -3h1m22.5 -12.5h1m-6 6h1m-10 24.5h1m-14 -6h1m2 -21h1m17.5 -31h1m-17 59.5h1m-4 -63h1m5 30h1m19.5 10h1m-22.5 -9.5h1m1.5 -17h1m3 -7h1m-5.5 30h1m-7.5 -37.5h1m2 42h1m17 -10.5h1m-11 14.5h1m1 -42h1m2.5 12h1m-16.5 27h1m8.5 13.5h1m-9.5 -61h1m-7 53.5h1m21.5 -16h1m6 -10h1m-16.5 6.5h1m5.5 13h1m-17.5 -48h1m-0.5 54h1m26 -51h1m-1 11h1m-21 45h1m-8.5 -49.5h1m13 14.5h1m-1 45h1m-8.5 -42.5h1m-4 -4.5h1m-7.5 -22h1m0 42h1m24.5 22h1m-19 4.5h1m-1.5 -13.5h1m-3 -41h1m-0.5 7.5h1m18 39.5h1m-20.5 -56h1m24.5 34.5h1m-18 -14h1m-4 15.5h1m13.5 -26.5h1m-17.5 26.5h1m-3 -7h1m-1 28.5h1m-4 4h1m6.5 -37.5h1m14.5 17.5h1m-17.5 -36h1m-6.5 4.5h1m0.5 -11.5h1m13 45h1m-21 10h1m10 -41.5h1m-9.5 48h1m5 -43h1m-3.5 -11h1m-5.5 20h1m19.5 3h1m-10 -11.5h1m-2 -7.5h1m-11 27.5h1m15.5 -17h1m-2.5 -6h1m8 38.5h1m-16.5 6.5h1m16.5 -61h1m-13.5 7.5h1m8.5 47h1m-9 2h1m3.5 7h1m-23 -17h1m24.5 -44.5h1m1.5 58.5h1m-29.5 -29h1m4 -7.5h1m4 3h1m-5.5 29h1m12.5 5.5h1m-12 -35.5h1m10 -10.5h1m4 -3h1m-25.5 5h1m22.5 22.5h1m-19 10h1m15 0.5h1m-18.5 -35.5h1m5.5 20.5h1m-11.5 1.5h1m19.5 -12h1m-8 -6.5h1m9 -13.5h1m-20.5 54.5h1m-4.5 -39.5h1m3 -13.5h1m22 63h1m-20.5 4.5h1m2.5 1.5h1m9 -10.5h1m-10.5 10h1m-6 -0.5h1m10.5 2h1m0 -3.5h1m-3.5 0.5h1m-13.5 -7h1m14.5 5h1m-1.5 2h1m7 0h1" stroke="#111" stroke-opacity="0.33" stroke-width="1.1" fill="none"/>
<path d="M379.5 73h1m-1 -25h1m5 -3h1m-7 -3.5h1m0 19.5h1m-2 17h1m11 -27.5h1m-13 16.5h1m-2 -19h1m0.5 11h1m12 8h1m-9 23h1m2.5 -33.5h1m-6.5 21h1m0 -12h1m10 13h1m-6.5 -50h1m-13.5 63.5h1m7 -33h1m1.5 25h1m-6.5 -37h1m-4.5 -6h1m16.5 25h1m-4 3h1m-6.5 -8h1m12 13.5h1m-25.5 -22h1m4.5 26h1m-2 -46.5h1m1.5 66.5h1m-1.5 -59h1m-6.5 19h1m4 4.5h1m-5 -12.5h1m5.5 -6h1m-8.5 -13.5h1m10.5 46h1m-7.5 -1.5h1m-1.5 -17.5h1m-1.5 -12h1m13.5 42.5h1m3.5 -18h1m-2.5 -33.5h1m-22.5 56.5h1m-1.5 -46.5h1m0.5 3.5h1m-2.5 0.5h1m8 26h1m-6.5 -7.5h1m16 -29.5h1m-17 59h1m1.5 -48.5h1m7.5 47.5h1m-3.5 -32h1m-6 4.5h1m-4 -16h1m0.5 3h1m1 -21h1m-2.5 53h1m-7 -36h1m3 12.5h1m-5 9h1m1.5 -3h1m13.5 -7.5h1m-16.5 -0.5h1m18.5 13.5h1m-10 -36.5h1m-6.5 18h1m-7.5 -11.5h1m1 31h1m1 -44h1m2.5 21h1m10 8h1m-16 21.5h1m6 2h1m5.5 -3.5h1m-0.5 -6h1m-17 -11h1m-2.5 3.5h1m1.5 -33.5h1m3 41.5h1m-8.5 -8h1m5 -2.5h1m0 2h1m0 -39.5h1m9 37.5h1m-6.5 27h1m-9.5 1.5h1m-2 -21h1m-1 -24h1m10 4.5h1m-12 27.5h1m10.5 -29h1m1 -14.5h1m-5 30.5h1m10.5 19h1m-6.5 -25.5h1m-10 16.5h1m14 3.5h1m-19.5 -19h1m7 -18h1m-8.5 26h1m-4.5 4h1m7.5 -1.5h1m14 -1h1m-22.5 3.5h1m-3.5 -34.5h1m-4 5h1m9.5 0.5h1m9 11h1m-12.5 -24h1m-5.5 -3h1m12 29.5h1m-15.5 -19.5h1m2.5 43.5h1m-0.5 -32.5h1m1 -14h1m0.5 22.5h1m4 -15.5h1m-15 -1.5h1m9 -7.5h1m-8.5 19h1m15.5 -25.5h1m3.5 31h1m-14.5 -10.5h1m-9 10h1m11 -25h1m-4 17.5h1m-2.5 23.5h1m-10.5 -29.5h1m5.5 43.5h1m8.5 -45.5h1m-6.5 7h1m-10.5 5.5h1m4 14.5h1m3 -17h1m2 -4.5h1m-14 -9.5h1m6.5 2h1m-1.5 7.5h1m0.5 -7h1m-9.5 -7.5h1m11 17h1m0.5 -9.5h1m-0.5 7.5h1m-11 -19h1m9.5 15.5h1m-9.5 -19h1m-7.5 9.5h1m7 27h1m-6 4h1m5.5 -30h1m-6.5 15h1m-3 1h1m7.5 7h1m-0.5 18.5h1m-12 -23h1m11.5 -8h1m-12.5 -19.5h1m10.5 18.5h1m5.5 10h1m2.5 -3h1m-23 24.5h1m2 -6.5h1m-0.5 -23h1m-5.5 22.5h1m7.5 -14h1m-2 -6.5h1m-1 -16.5h1m0 46.5h1m8.5 -11.5h1m-2.5 13.5h1m3 -15h1m-7.5 -13h1m-9 8h1m-1 -10.5h1m2.5 -15h1m2.5 36.5h1m1.5 13.5h1m-2 -15h1m4.5 11.5h1m-21 8h1m10.5 -20.5h1m5.5 10.5h1m0 -32.5h1m-14 -4.5h1m15.5 1h1m-10.5 11.5h1m-9.5 -1.5h1m8 38.5h1m10.5 3h1m-22 -55.5h1m-3 20h1m4 31.5h1m6 -24.5h1m-13 9.5h1m9 -38.5h1m-11 9h1m-2.5 -17.5h1m21.5 34h1m-17 -26.5h1m14.5 50h1m-20 -47h1m3 24.5h1m-2.5 -21.5h1m-4 47h1m7 -26.5h1m-2 8h1m-6 -25.5h1m-2.5 2h1m-5 7h1m5 5h1m-2 -31h1m25 4.5h1m-21 17.5h1m4 -23h1m-11 38.5h1m5 -22.5h1m5.5 28h1m-10 3h1m18 -30.5h1m-12.5 -9.5h1m-15 34h1m8.5 -25h1m-11.5 9.5h1m19.5 3.5h1m-1 21.5h1m-16.5 -53h1m-5.5 50h1m1.5 -21h1m0 24h1m-2.5 4h1m4 -22h1m-10.5 -19.5h1m6 14h1m-4 5.5h1m11.5 -3h1m0.5 -21h1m3.5 -10h1m-6 63.5h1m-8 -23h1m10 -17.5h1m-19.5 23.5h1m5.5 -1h1m-2 8h1m7 -45h1m-15 27.5h1m19 -13h1m-13 24.5h1m-5.5 -33.5h1m15.5 -2h1m-22 10.5h1m16 14.5h1m11 28.5h1m-2.5 -51h1m-19.5 33h1m-6.5 21h1m3 -29h1m-3 -9.5h1m6.5 -1h1m-12 -15h1m-4.5 25.5h1m14.5 6h1m3.5 13h1m-8.5 -8h1m-10.5 -10.5h1m-2.5 1.5h1m30 -15.5h1m-24 7.5h1m5 -6h1m0 4.5h1m-7 -21h1m-4 4.5h1m1.5 -3.5h1m1.5 9.5h1m-5.5 41.5h1m2.5 -38.5h1m-5 25.5h1m1 -6h1m-9 5.5h1m5.5 -19h1m15.5 -8.5h1m-16.5 17h1m-7 -14.5h1m8 6.5h1m-8 -10.5h1m3.5 40h1m1 -1h1m-3 -36h1m8.5 19.5h1m-2.5 11h1m-12.5 0.5h1m-4 -16h1m3 -26.5h1m11.5 12h1m-13.5 -5.5h1m-3 14.5h1m-3 10.5h1m7.5 7.5h1m-5.5 -24.5h1m1.5 9h1m-8.5 16.5h1m9 -2h1m-11.5 -28h1m26.5 -25h1m-19 38.5h1m-11.5 -30.5h1m-1 47h1m7 -22h1m7.5 -11.5h1m4.5 24h1m-10 0h1m13 -27.5h1m-21 7.5h1m18.5 45h1m-19 -52.5h1m1 -3.5h1m-5.5 31.5h1m5.5 -1h1m-9.5 -19.5h1m3 30h1m-5 -9h1m-5 -12h1m10 11.5h1m-11.5 -4.5h1m5 -30.5h1m11.5 9.5h1m-9.5 -14.5h1m19.5 43.5h1m-24 -31.5h1m18.5 50h1m1 -8.5h1m-2 -31.5h1m-10.5 37.5h1m-2 0.5h1m-16 -53.5h1m2 4.5h1m0 27.5h1m9 14.5h1m-5.5 -50h1m3.5 17h1m-7.5 40.5h1m-6 -56.5h1m22 45.5h1m-13.5 -37.5h1m-16.5 28.5h1m25 -42.5h1m-13 57.5h1m15 -50.5h1m-25.5 34h1m2.5 -9.5h1m14.5 -23.5h1m-7 31.5h1m2 -12h1m0 4h1m-2.5 4h1m-16 14h1m2 -23h1m-10.5 2.5h1m10 20.5h1m12.5 -31.5h1m4.5 46.5h1m-11 -51.5h1m-5 -16h1m-15.5 16h1m-0.5 -2h1m15 6h1m6 0h1m-12 0h1m6.5 -17.5h1m-7.5 -2h1m-15 14.5h1m16 2h1m-8.5 17.5h1m-10.5 -27h1m7.5 35h1m15.5 -20.5h1m-15 35.5h1m-2.5 -5h1m18.5 -14.5h1m-13.5 -26.5h1m-11.5 1.5h1m14.5 -2.5h1m8.5 31.5h1m-27 -12h1m-1.5 -6h1m-5.5 -24h1m18.5 66.5h1m-8.5 -8h1m-3 -27h1m10 1h1m-2.5 -10h1m-21.5 13.5h1m1.5 -28h1m-3.5 51h1m4.5 -35.5h1m-4.5 1h1m13 -12h1m0.5 19h1m-2 -13h1m10 -15.5h1m-16 59.5h1m-13 -52h1m21.5 30.5h1m-8 3.5h1m-6 -36h1m14 20h1m-4 -13.5h1m-20.5 26h1m-1 -37.5h1m23.5 49h1m-4 -41h1m0.5 9h1m-11 24h1m-9 17.5h1m13 -46h1m-2.5 29.5h1m-20 -31h1m1 46h1m6.5 6h1m-9 -65h1m25 9.5h1m-14 -2.5h1m-6 22.5h1m14.5 0h1m-10 -32h1m-16.5 42h1m-3 10.5h1m25 -38h1m-1.5 30h1m-3 -8h1m-16.5 12.5h1m12.5 -36.5h1m4.5 42h1m-11.5 -32h1m-12.5 -7h1m11.5 54h1m10 -39h1m-30.5 31h1m3 -24h1m23 26.5h1m-5.5 5.5h1m-9.5 -52h1m-1.5 -5h1m9.5 46.5h1m-25 1.5h1m13.5 8.5h1m7 -44h1m-12 -23.5h1m1.5 55.5h1m8 -23h1m-0.5 -17.5h1m-25 48.5h1m30.5 -46.5h1m-24.5 18.5h1m18.5 26.5h1m-22 5.5h1m1.5 -25.5h1m-10.5 19h1m24 -32h1m-20 36h1m-4 -31.5h1m26.5 4h1m-28 2h1m13 20h1m7 -59h1m1.5 56.5h1m-1 -56.5h1m-18 41h1m5 -30.5h1m-10 45.5h1m-7.5 -2h1m23.5 -29.5h1m0 7h1m-3.5 -10h1m-2.5 23h1m-12.5 -15.5h1m-5 38.5h1m20.5 -2.5h1m-18.5 -1h1m-4 -19.5h1m-9 -3h1m9 -9h1m8 11h1m-12.5 12.5h1m15.5 -42.5h1m2.5 8.5h1m-10.5 27.5h1m0.5 -33h1m-0.5 7h1m-13 8h1m2 17h1m-12 19h1m22 -10.5h1m4 -35.5h1m-13 -17.5h1m15 18.5h1m-29.5 30h1m23 -4.5h1m-2 -31.5h1m-14.5 26h1m0.5 -13.5h1m-1.5 29h1m-15.5 -35h1m31 13.5h1m-22 -5h1m9.5 27h1m-6 7h1m8 -7.5h1m-23.5 -35h1m2 11.5h1m13 -24.5h1m8 -8h1m-3 10.5h1m-26 7h1m4 -13.5h1m20 -1.5h1m-9 1.5h1m-17 1.5h1m7 7h1m15 33.5h1m-9.5 -28h1m-4 -22h1m10.5 17.5h1m-8.5 20h1m-16.5 -25.5h1m13 29.5h1m-6.5 10h1m-14.5 -18h1m23 15h1m-23 9h1m10.5 -15.5h1m4.5 2h1m-18 -20.5h1m-2.5 25h1m4 -33.5h1m10 -13h1m8 37h1m-19.5 -15.5h1m0.5 26.5h1m17.5 -47.5h1m-6.5 26h1m7 -24h1m-9 3h1m-11 15.5h1m7.5 16.5h1m-15 -7.5h1m18.5 29h1m-17.5 -50h1m-8 57.5h1m16 -22h1m-0.5 -20.5h1m2 -19.5h1m-10.5 35.5h1m-9 -27h1m20 52.5h1m-10 0h1m0.5 3h1m-1.5 7.5h1m-6 2h1m7 -3h1m-17 -8.5h1m-3 10h1m-2.5 -9.5h1m5.5 3.5h1m-2.5 2.5h1m21 3.5h1m-8.5 -5h1m-7 1.5h1m-12.5 1.5h1m5 -7h1m-3 -2h1m0 2.5h1" stroke="#111" stroke-opacity="0.33" stroke-width="1.1" fill="none"/>
<path d="M397.5 59.5h1m-19.5 33h1m11 -7.5h1m7.5 -24h1m-20 1h1m5 32h1m-2 -45h1m-9.5 -3h1m-0.5 45h1m8.5 -29.5h1m1.5 22.5h1m2.5 -5.5h1m-12.5 -7h1m9.5 -13h1m-13.5 13.5h1m-4 -17.5h1m-0.5 -10.5h1m4.5 19h1m2 32h1m-2 -43h1m0.5 -8.5h1m-6.5 19h1m-1.5 -17h1m2 33h1m3.5 1h1m-10.5 -33h1m12 49h1m-2.5 -26h1m7 -15.5h1m-19 27.5h1m-2 7h1m17 -57.5h1m-7 33.5h1m-3 5.5h1m1 -22.5h1m-8.5 39h1m9 10.5h1m-11 -54h1m-4 31.5h1m-3 21h1m24 -37.5h1m-25.5 22h1m-3.5 -13.5h1m9 21h1m4.5 -23.5h1m-10 -17h1m2.5 8.5h1m-6.5 -4.5h1m2.5 8.5h1m-4 12.5h1m-2.5 -11h1m-1 26.5h1m9 -41.5h1m-10 -8.5h1m-5.5 51h1m3.5 -41h1m2 18.5h1m16.5 -10h1m-19.5 28.5h1m0 -17h1m-4 0h1m2.5 -9h1m-3.5 26.5h1m4 -1.5h1m-7 -18.5h1m-1 -33h1m-5 59h1m5.5 -10h1m-4.5 -21h1m0 21h1m-1.5 -47h1m4.5 30h1m16 21.5h1m-16.5 -30h1m-6.5 15h1m-5.5 26.5h1m23 -6.5h1m-19 -33h1m4.5 -19.5h1m-7.5 48.5h1m4.5 9h1m-2.5 -47.5h1m0.5 1.5h1m-12.5 18.5h1m8.5 -12h1m-1.5 -14h1m-7 13h1m6 12h1m-5 -8h1m18 -1h1m0 23h1m-14 -11h1m-12 10h1m1.5 -23.5h1m-0.5 -8h1m0 36h1m9.5 -26h1m0 -3.5h1m-4.5 22.5h1m-14.5 -19.5h1m19.5 34.5h1m-7.5 -36h1m-4.5 28.5h1m-9 -34.5h1m2 -17h1m-4 30.5h1m0.5 -16.5h1m10.5 14.5h1m-1.5 6.5h1m-11.5 17.5h1m-6 -17h1m0.5 4h1m10 17h1m6.5 -31.5h1m-9.5 -9.5h1m14.5 37.5h1m-19.5 -9h1m3 -2h1m3.5 11.5h1m-5 -7.5h1m-2 -33.5h1m-9 -13h1m13 57.5h1m7.5 -22.5h1m-18.5 -15.5h1m-1 23h1m-8 -32.5h1m9 8h1m1.5 25.5h1m-2 -26.5h1m-8 -20h1m6.5 10h1m-2.5 17.5h1m-6.5 -6.5h1m-0.5 -10h1m-7.5 15h1m24.5 9h1m-23.5 0h1m0 7.5h1m6.5 -6.5h1m-7 -23.5h1m-3 3h1m-5 9.5h1m2 2h1m-2 -21.5h1m18 14.5h1m-14.5 -8h1m2.5 18h1m-3.5 0h1m-5.5 -30.5h1m13 69.5h1m-11 -58.5h1m-4 14h1m5 2h1m3 28h1m-13 -51h1m-4.5 19.5h1m-1 19h1m6.5 -9.5h1m14 3.5h1m-21.5 0h1m13.5 -18.5h1m-9.5 15.5h1m3.5 11h1m10.5 -9h1m-24 -31h1m17.5 15.5h1m-10.5 5.5h1m-5.5 -25.5h1m-3.5 54.5h1m0 -50h1m-2 36h1m2 -27.5h1m-4 28.5h1m6.5 -6.5h1m-7.5 -2h1m-1.5 -1.5h1m3.5 4h1m-5.5 -19h1m-4.5 0h1m17 2h1m-12.5 41.5h1m4.5 -49h1m2 27h1m10.5 30.5h1m-15 -11h1m-1.5 10.5h1m7.5 -50.5h1m3 9h1m-12 29.5h1m-11.5 -26.5h1m13 0h1m-10 -12.5h1m-4.5 30.5h1m-1.5 -32.5h1m12 52.5h1m-1 -48h1m7 2.5h1m-26 27.5h1m1 -3.5h1m6 -14.5h1m-4 -7h1m-2 2.5h1m1.5 38h1m-6.5 -61.5h1m-1 35.5h1m17 -6.5h1m-7 13.5h1m-8 -35h1m-1 -9.5h1m-4.5 66.5h1m14.5 -28h1m-4.5 -12.5h1m11.5 42.5h1m-14.5 -45h1m3.5 11.5h1m5.5 12h1m-25 -29.5h1m19 12.5h1m-22 -18.5h1m8.5 47h1m-7.5 4.5h1m17 -19h1m-17.5 7.5h1m26 -4.5h1m-27.5 -45.5h1m5 17.5h1m4 29.5h1m-6.5 -1h1m-9.5 6.5h1m13 -41h1m-4.5 -6h1m-2 -9.5h1m-9.5 14h1m9.5 23h1m9.5 13h1m-0.5 -46h1m-23.5 20.5h1m-1 4.5h1m2 25h1m3 -41h1m-0.5 18h1m-8.5 27.5h1m1.5 -7h1m-6 -16.5h1m0 17h1m5 -14.5h1m-1 -10h1m-3 21h1m15.5 22.5h1m-22.5 -40h1m7.5 27.5h1m4 -52h1m-4.5 38.5h1m6.5 19h1m-18 -13h1m13.5 -7h1m-11.5 -23.5h1m7.5 21h1m-12 -3.5h1m19.5 -3.5h1m-12.5 2h1m-9.5 -2h1m3 0.5h1m-7.5 -13h1m10.5 18h1m13.5 11h1m-20 -33.5h1m1 15h1m2 28h1m0.5 -35.5h1m-13 16h1m14.5 -9.5h1m3.5 26.5h1m-16 -34h1m9.5 0h1m-5 22h1m4 4.5h1m-5.5 -49.5h1m-8.5 30h1m-0.5 -24.5h1m2.5 -1h1m-1.5 1.5h1m11 6.5h1m-19 52.5h1m3.5 -35.5h1m-7.5 4h1m-1 21h1m2 -9h1m11 -21h1m2.5 13h1m-11.5 7.5h1m11 -5h1m-6.5 -26.5h1m-9 42h1m0.5 -35h1m-7 -9h1m5.5 38h1m1.5 -13h1m0 -33h1m-8 56.5h1m19 -11.5h1m-27.5 -29h1m15 39.5h1m-4.5 9h1m2.5 -24.5h1m1 -11h1m-13 35.5h1m2.5 -20h1m8 -13h1m-10.5 7h1m-5.5 -6h1m14.5 23.5h1m-17.5 -12.5h1m5 8h1m20 -55.5h1m-12 51h1m11.5 -47h1m-8 25h1m-24 -14.5h1m-0.5 11h1m4.5 12h1m15 -35.5h1m-3 30.5h1m5.5 -11h1m-27.5 -9.5h1m1 19.5h1m18.5 0.5h1m4.5 -18.5h1m-17 49.5h1m-8 -22h1m15 -7.5h1m1.5 -5h1m-23 8h1m18.5 -13.5h1m-5 -15.5h1m-17 36.5h1m21 -16.5h1m-16 15h1m5.5 -26h1m-16 44h1m28 -5.5h1m-10 3h1m-20 9h1m20.5 -39.5h1m-13.5 -16h1m17.5 36h1m-18 -38h1m-8 26h1m-5.5 6h1m27.5 17.5h1m-6 -1h1m4.5 -34h1m-13 28h1m11.5 10h1m-20 -31.5h1m1.5 18h1m-8 -25.5h1m-5 -3.5h1m0.5 33.5h1m12.5 -41.5h1m9.5 6.5h1m0 47.5h1m-15 -46h1m11 5h1m3 -21.5h1m-2 49h1m-16 -48h1m4.5 18h1m-2 45.5h1m4 -24h1m2.5 -13.5h1m2.5 13.5h1m-6.5 8.5h1m-11.5 -7.5h1m7.5 -33h1m-5 -9h1m-15.5 27h1m-2.5 -27.5h1m15 55h1m-6 -52.5h1m2.5 20h1m-13 8h1m-4 32h1m9 -55h1m12 50h1m-11 -38.5h1m4.5 44.5h1m-14.5 -7.5h1m18 -8.5h1m-6 -35h1m-5.5 -2.5h1m9.5 43h1m-5 -27h1m-5.5 37.5h1m11 -47.5h1m-8.5 -2h1m-2 -3.5h1m-8 53h1m-14.5 -37h1m3 40.5h1m-4 -0.5h1m8.5 -34.5h1m15 27.5h1m-9 -7.5h1m6 -18.5h1m-15.5 8.5h1m4 -13.5h1m6 -11h1m-27 43h1m16.5 -30h1m2 29.5h1m-2 -58.5h1m-1 4h1m6 4.5h1m1 21h1m-7.5 -4.5h1m8 18.5h1m-0.5 15.5h1m-28 -63h1m0.5 13.5h1m1 3.5h1m14.5 28.5h1m-12.5 -1.5h1m-11.5 -25h1m9.5 34.5h1m5.5 9.5h1m-19 0.5h1m4 -13h1m0 -4h1m15.5 -7h1m-12.5 -29.5h1m18.5 51h1m-30 -20.5h1m2 0h1m22 23h1m2 -46h1m-8.5 -17h1m-24 22h1m2 27.5h1m-4 1.5h1m30.5 -1.5h1m-4 -11.5h1m-6.5 8.5h1m-23 10.5h1m14.5 -58h1m9 44h1m-1 -14h1m-13.5 16.5h1m5.5 -6h1m9.5 -6h1m-31 11.5h1m25.5 -30.5h1m-10 12h1m-6 0h1m1.5 13.5h1m-10.5 21.5h1m-7.5 -44h1m22.5 20h1m-13 13.5h1m1.5 -44.5h1m6 38.5h1m-3 -31.5h1m8.5 10.5h1m-20 2h1m-1 -20h1m2 20.5h1m7 9.5h1m-9 -13h1m0 29.5h1m13 -1h1m-22.5 -28.5h1m2 -23h1m-2 54.5h1m-7.5 -34.5h1m14.5 47h1m4.5 -60.5h1m-6 22.5h1m5 15.5h1m4.5 -23h1m-4.5 -1h1m-19 36.5h1m5.5 -46h1m10 1.5h1m-8.5 40.5h1m-18 -13.5h1m10.5 22h1m-5.5 -41h1m12 42h1m-10.5 -46.5h1m-5 -5.5h1m2 23h1m7.5 9.5h1m-12 -12h1m2.5 -15.5h1m8.5 24.5h1m-10.5 25.5h1m8 -2.5h1m1.5 1.5h1m2.5 -51h1m-1.5 44.5h1m-4.5 9.5h1m7.5 -14.5h1m-18.5 -33h1m18 34h1m-9.5 -49h1m-19 -4h1m10.5 28.5h1m6 28h1m-4.5 -8h1m1 13.5h1m-11 -18.5h1m0.5 4.5h1m-2 -0.5h1m13 -25h1m-5 34.5h1m-16.5 -53.5h1m16.5 18.5h1m-24.5 20h1m26 -2.5h1m-9 0h1m-20.5 -19.5h1m22 24.5h1m-16 -27.5h1m-10.5 11.5h1m27 35h1m-28 -21h1m26 -4h1m-29 -22h1m5 41.5h1m6.5 -4h1m-3 -0.5h1m-12 -27.5h1m10.5 31h1m-8.5 -9.5h1m2.5 -48.5h1m-7.5 55h1m3 -40.5h1m19.5 39h1m-10 -9.5h1m8 -31.5h1m-2.5 39.5h1m-18.5 -40.5h1m23 28.5h1m-26.5 28h1m7.5 1h1m1.5 5h1m-10.5 1h1m1 2h1m-7.5 -10.5h1m18 8h1m-19 -8.5h1m21 12.5h1m-20 1h1m5.5 -5.5h1m-13.5 1h1m19 -8h1m5 12h1m-1.5 -7.5h1m-21 -2h1m14 1.5h1m-19 -2h1m18 2.5h1" stroke="#111" stroke-opacity="0.33" stroke-width="1.1" fill="none"/>
<path d="M379 80.5h1m8.5 -47.5h1m-11.5 52.5h1m27.5 -10.5h1m0 -30.5h1m-28 27h1m4 -4.5h1m10.5 13h1m-5 -52h1m-9.5 29.5h1m5 3h1m-4 -20h1m16 47.5h1m-26.5 -37h1m-2.5 -21h1m4 61.5h1m10 -50.5h1m-11.5 50.5h1m6.5 -22.5h1m-11 -26h1m18.5 5h1m-21.5 16.5h1m5 19.5h1m0.5 -24.5h1m0 1.5h1m-7 -21.5h1m10 48.5h1m-17 2.5h1m17.5 -43h1m-18.5 18h1m13.5 17.5h1m-5.5 8h1m4 -12.5h1m-4 -38h1m-2.5 4h1m2 18h1m-2 4.5h1m-2.5 -4h1m3.5 -9h1m-15.5 11h1m11.5 -8.5h1m3.5 39.5h1m-18 -31.5h1m6.5 10.5h1m-11 4.5h1m11 0h1m-9.5 -22h1m19 36.5h1m-6 -64h1m4 16h1m-24 43.5h1m-2 -52.5h1m0.5 54.5h1m6.5 -49h1m6.5 36.5h1m-7 -23.5h1m-1 25h1m-3.5 -31h1m17.5 34.5h1m5 -27h1m-27.5 13.5h1m-2 16.5h1m17 11.5h1m-7 -35.5h1m-4 21h1m9 -40.5h1m-22.5 33h1m0.5 -38h1m-4 23h1m11.5 -6h1m-13 4h1m0.5 -6.5h1m-0.5 32h1m-4.5 -43.5h1m29.5 32.5h1m-28.5 -24.5h1m22.5 -11.5h1m-14.5 42h1m-11.5 -10.5h1m-3 -40.5h1m1.5 46.5h1m4 15h1m15.5 -5h1m-5.5 -26h1m-19.5 -6h1m14.5 12.5h1m-2.5 -30.5h1m-3.5 41.5h1m-1.5 -29.5h1m-8 12h1m-2 -3.5h1m-2 -9.5h1m0.5 -3.5h1m2 36.5h1m-8 -15h1m10.5 1h1m1.5 2.5h1m-14 11h1m10 17h1m7.5 -57h1m-11 38.5h1m-6.5 12.5h1m-5.5 -24.5h1m1 12h1m10 12h1m-13 -32h1m3 11.5h1m-5.5 -24.5h1m22.5 14.5h1m-17 -2h1m0 -19.5h1m-10.5 38h1m20.5 -24h1m-14.5 -4.5h1m9 10h1m-4.5 33.5h1m-6.5 -18.5h1m-2.5 7.5h1m5.5 -15.5h1m-7.5 -11.5h1m0 -16.5h1m3.5 23h1m-11 -19h1m1 -7h1m-5.5 38.5h1m16.5 -33h1m2 27h1m-2.5 -25.5h1m-17 -5h1m2 29.5h1m-1.5 -4.5h1m2 -11.5h1m-6 5h1m-5.5 -7h1m10 -8.5h1m-4.5 18h1m1.5 10.5h1m5 4.5h1m-5 22.5h1m-12.5 -19h1m3.5 -20h1m11 -18.5h1m-3 23h1m8.5 -5.5h1m-10.5 33h1m3.5 -8.5h1m-2.5 3.5h1m-19 -20h1m15 -33.5h1m-15 48h1m3 3h1m1 -45.5h1m4.5 20.5h1m-12.5 -10.5h1m-3 34.5h1m16.5 -16h1m-9.5 -18.5h1m-5 54h1m16.5 -36h1m-14.5 33.5h1m-10.5 -31h1m12.5 0.5h1m-6.5 -5.5h1m-3.5 28.5h1m17 -26.5h1m-14.5 -1h1m2.5 15h1m-0.5 -16.5h1m10 33.5h1m-3 2.5h1m-19 -32.5h1m-1.5 -29h1m5.5 15.5h1m6.5 31.5h1m-18 -45.5h1m13 23.5h1m-9 -21h1m2 40.5h1m-0.5 -28.5h1m-4 34.5h1m11.5 3.5h1m-1 -31h1m-19.5 17h1m20.5 -31.5h1m-18.5 21.5h1m-2.5 -1h1m8.5 -3h1m-11 4.5h1m-4.5 -28.5h1m15.5 36h1m8 2.5h1m-15 -14.5h1m-10.5 -4h1m3 14.5h1m5.5 -21.5h1m-12 -5.5h1m9.5 -7.5h1m5 25.5h1m-19.5 7h1m13.5 23h1m-8 -33h1m23 -1.5h1m-30 -15h1m6 18h1m-3 -13.5h1m-7 48.5h1m19 -31h1m-16.5 -19.5h1m-6 12.5h1m30 0h1m-8 18.5h1m-13 12.5h1m-3 -32.5h1m-5 4.5h1m5.5 -20h1m-1.5 6.5h1m-4 -5.5h1m-11 6h1m8.5 50h1m-7 -40h1m7.5 5.5h1m-5.5 -22.5h1m-0.5 14.5h1m12 32h1m-14.5 -31.5h1m12.5 -14.5h1m-20 32h1m20.5 -39h1m-3.5 4h1m-11 35h1m-9.5 -9.5h1m1.5 4h1m-6 -15h1m2.5 14h1m9.5 -34.5h1m-11.5 50h1m5.5 5.5h1m3.5 -2.5h1m-1.5 -4.5h1m-7 -40.5h1m17.5 2.5h1m-23.5 4h1m3.5 45.5h1m12.5 -21.5h1m0 11h1m-23 7.5h1m2 -35.5h1m15 -7h1m-19.5 21h1m3.5 -17.5h1m-3.5 5.5h1m-2.5 4h1m5 -6.5h1m-7.5 19h1m7.5 12.5h1m-5.5 -21.5h1m1.5 -32h1m2 44.5h1m-9.5 -21.5h1m-1.5 40.5h1m16.5 -12.5h1m-9.5 -49h1m-6.5 55.5h1m-2.5 -23h1m3 -0.5h1m-8.5 -2h1m1 22.5h1m6.5 -21h1m-4 12.5h1m10.5 3h1m-19 6h1m13 -22h1m-5.5 4h1m12 -18h1m-11.5 36h1m-9 -17.5h1m-1.5 12.5h1m7 -29.5h1m-11 -15h1m9 1.5h1m-2 42h1m-11 -8.5h1m4.5 -24.5h1m-0.5 4.5h1m4 -2.5h1m-11 44h1m4 -38h1m10 9h1m-15 17.5h1m5.5 -30h1m-6 17.5h1m21.5 -19.5h1m-18.5 49.5h1m11.5 -38.5h1m-3 17h1m-18 -20.5h1m5 30.5h1m-9.5 -9h1m5 -42.5h1m0.5 27.5h1m-3.5 24h1m3 -56h1m-11.5 12.5h1m10.5 32h1m-1.5 -11.5h1m-10.5 -29h1m5 0h1m-6 21h1m13 24.5h1m-11 18h1m-6.5 -4.5h1m0.5 -46h1m3 28.5h1m-5.5 -19.5h1m2.5 1.5h1m-1.5 -28h1m3.5 24.5h1m2.5 25h1m1.5 -34h1m-8.5 48h1m-5 -21.5h1m8.5 5.5h1m-10 -31h1m-1 7.5h1m-3 -17.5h1m11 58h1m-4.5 -22h1m-6 -19h1m15.5 38.5h1m-14.5 -29.5h1m15.5 27h1m-25 -27h1m22.5 32.5h1m-25 -58.5h1m17.5 41h1m-2.5 4.5h1m-9 -31h1m14 31h1m6 -50.5h1m-22.5 48h1m12.5 -16.5h1m-0.5 -8.5h1m-21.5 -5h1m6 10.5h1m8 35.5h1m11 -58h1m-5 56.5h1m-5 -52h1m4 46h1m-1 -31.5h1m-4.5 22.5h1m-20.5 -17h1m6.5 19h1m11.5 -42h1m-1.5 37.5h1m3.5 6h1m-15 -43.5h1m-16 11h1m8 19.5h1m6.5 22.5h1m-4.5 -0.5h1m15 -59.5h1m-16.5 25h1m-1.5 27h1m9.5 -35h1m-0.5 3.5h1m-9 -4.5h1m-5.5 11h1m13 -12h1m-20 7h1m7 -16h1m1.5 16h1m12 -14h1m-28.5 49.5h1m28 -25h1m-18 -25h1m-7.5 -7h1m14.5 44h1m3.5 -39h1m-6 4.5h1m-11.5 29.5h1m-9 -19h1m12 29.5h1m5.5 -29.5h1m-3.5 5h1m-16.5 40.5h1m6 -68.5h1m-1 25h1m-1 1h1m16 29h1m-9 -2h1m3 -42.5h1m-1.5 14.5h1m-16.5 -3h1m1 38h1m-7 -7h1m11 12.5h1m-0.5 -35.5h1m10 4h1m-4 -33.5h1m-21.5 32.5h1m3.5 -9.5h1m7.5 8.5h1m-0.5 -3h1m6.5 10.5h1m-10 -23h1m7.5 0.5h1m-19 31.5h1m18.5 16.5h1m-22 -27h1m0.5 -23.5h1m-8.5 17.5h1m14 -14h1m-9 38h1m-10 -51h1m18 37.5h1m-12.5 -30h1m18 43.5h1m-26 -27.5h1m20.5 21h1m7.5 -35h1m-8.5 -6.5h1m-8.5 3h1m-5 34.5h1m-7 -32h1m13 13.5h1m-3.5 -22h1m5 -5.5h1m1 48h1m-6 -8.5h1m10.5 -5.5h1m-11.5 25h1m-13.5 -59h1m0 20h1m-2.5 -1h1m9.5 -5h1m1.5 27.5h1m-11.5 -22h1m-10 3.5h1m-1 16.5h1m26.5 -14h1m-19 -23.5h1m9.5 49h1m-22.5 17.5h1m27.5 -58h1m-25.5 16.5h1m-0.5 18.5h1m-4.5 -11h1m27.5 34.5h1m-2.5 -39.5h1m-22.5 34h1m4 -56.5h1m2.5 32.5h1m-13.5 -1.5h1m19 -20.5h1m-9 27h1m-9 -40.5h1m1 57h1m-8 -2.5h1m15.5 -18h1m-5.5 5.5h1m11.5 0h1m-6.5 19h1m-18.5 -59.5h1m5 37h1m8.5 -41.5h1m-9.5 22.5h1m4.5 38h1m2.5 -14.5h1m10.5 1h1m-3.5 -39.5h1m-19 46.5h1m16.5 -28.5h1m-12 -6h1m13.5 -12h1m-24 43.5h1m3 -49.5h1m8 54.5h1m-2 -25h1m-14 30h1m14 -7.5h1m-10.5 -22.5h1m5 -32.5h1m-0.5 35h1m-5 -8.5h1m0 -9h1m8.5 38h1m-18.5 -14.5h1m8.5 -36.5h1m-5.5 37h1m5 -30.5h1m-15 -3.5h1m12 12.5h1m-13 -9.5h1m1.5 25h1m5.5 10.5h1m-13.5 -25.5h1m27.5 11.5h1m-17 22.5h1m14.5 -24.5h1m-27 15h1m0 23h1m16.5 -53h1m-14 40h1m1 5.5h1m13.5 4h1m-9 -5h1m-13 9.5h1m-7 -39h1m22 11h1m5.5 28h1m-16 -42.5h1m-6.5 -11.5h1m8.5 4.5h1m-5 40h1m11.5 -54.5h1m-25 48.5h1m-0.5 -49.5h1m2 2h1m16.5 22h1m-16 -8.5h1m1 37.5h1m-4 -24h1m15.5 -8.5h1m-9.5 4.5h1m-9.5 21.5h1m-7.5 19h1m9 -59.5h1m2 -2h1m-8.5 51.5h1m10 -11h1m-3 13h1m-15 0h1m3.5 -15.5h1m3 -45.5h1m15 13.5h1m-26 45h1m24 -12.5h1m-16 11.5h1m11 -4.5h1m0 -16h1m-21.5 -9h1m18 -12.5h1m-7 0h1m-10.5 50h1m-4 -20h1m8.5 23.5h1m8.5 -41h1m-12 7.5h1m-13.5 16h1m20.5 17.5h1m1.5 -59.5h1m-7 30h1m1.5 -1.5h1m9 -29.5h1m-16.5 -6h1m-16.5 0.5h1m26 21h1m-25 -6h1m3 -10h1m0 29.5h1m19 29.5h1m-20 -26.5h1m3 -34.5h1m-6.5 62.5h1m18 -60.5h1m3 35.5h1m0.5 -41h1m-23 0.5h1m19 7h1m-8 59h1m-13 -32.5h1m13.5 -1.5h1m-16 -26h1m16.5 21h1m-28.5 18.5h1m25 9h1m-15.5 -57.5h1m-1.5 63h1m-9 -37h1m4.5 31h1m5 -3.5h1m-4 -22.5h1m1.5 -20.5h1m-0.5 2.5h1m-13 63.5h1m21 -8h1m-15 3.5h1m8 6h1m-14.5 1h1m16.5 0h1m-5 -10.5h1m5.5 6.5h1m-15.5 2.5h1" stroke="#111" stroke-opacity="0.33" stroke-width="1.1" fill="none"/>
</g>
<rect x="374.4" y="17.3" width="38.2" height="116.3" fill="none" stroke="#231f20" stroke-width="1.4"/>
<text x="378.7" y="124.1" font-size="14" font-weight="bold" textLength="30.7" lengthAdjust="spacingAndGlyphs" fill="#231f20" stroke="#231f20" stroke-width="0.35">99%</text>
<text x="92.7" y="154.9" font-size="15" textLength="86.1" lengthAdjust="spacingAndGlyphs" fill="#333" stroke="#333" stroke-width="0.2">Hoecsht Red</text>
<text x="264.7" y="154.2" font-size="15" textLength="49" lengthAdjust="spacingAndGlyphs" fill="#333" stroke="#333" stroke-width="0.2">CD 150</text>
<text x="414.2" y="155" font-size="15" textLength="49.2" lengthAdjust="spacingAndGlyphs" fill="#333" stroke="#333" stroke-width="0.2">Isotype</text>
<text x="3.8" y="193.1" font-size="24.5" font-weight="bold" textLength="15.9" lengthAdjust="spacingAndGlyphs" fill="#231f20" stroke="#231f20" stroke-width="0.35">B</text>
<text x="103.8" y="185" font-size="14.2" font-weight="bold" textLength="63.5" lengthAdjust="spacingAndGlyphs" fill="#231f20" stroke="#231f20" stroke-width="0.35">10 weeks</text>
<text x="256.9" y="184.9" font-size="14.2" font-weight="bold" textLength="63.9" lengthAdjust="spacingAndGlyphs" fill="#231f20" stroke="#231f20" stroke-width="0.35">15 weeks</text>
<text x="409.2" y="186.5" font-size="14.2" font-weight="bold" textLength="64.3" lengthAdjust="spacingAndGlyphs" fill="#231f20" stroke="#231f20" stroke-width="0.35">80 weeks</text>
<line x1="45.4" y1="196.6" x2="45.4" y2="213.3" stroke="#333" stroke-width="1.3"/>
<line x1="45.4" y1="311" x2="45.4" y2="327.8" stroke="#333" stroke-width="1.3"/>
<text x="48.7" y="307.3" font-size="15" textLength="89.6" lengthAdjust="spacingAndGlyphs" transform="rotate(-90 48.7 307.3)" fill="#333" stroke="#333" stroke-width="0.2">Hoecsht Blue</text>
<path d="M70.3 194.5H202.8V328.3" stroke="#8c8c8c" stroke-width="1.1" fill="none"/>
<path d="M70.3 194.5V331.3M67.3 328.3H202.8" stroke="#8c8c8c" stroke-width="1.1" fill="none"/>
<path d="M70.3 328.3v3.5M80.3 328.3v2M86.1 328.3v2M90.2 328.3v2M93.5 328.3v2M96.1 328.3v2M98.3 328.3v2M100.2 328.3v2M101.9 328.3v2M103.4 328.3v3.5M113.4 328.3v2M119.2 328.3v2M123.4 328.3v2M126.6 328.3v2M129.2 328.3v2M131.4 328.3v2M133.3 328.3v2M135.0 328.3v2M136.6 328.3v3.5M146.5 328.3v2M152.4 328.3v2M156.5 328.3v2M159.7 328.3v2M162.3 328.3v2M164.5 328.3v2M166.5 328.3v2M168.2 328.3v2M169.7 328.3v3.5M179.6 328.3v2M185.5 328.3v2M189.6 328.3v2M192.8 328.3v2M195.5 328.3v2M197.7 328.3v2M199.6 328.3v2M201.3 328.3v2M202.8 328.3v3.5" stroke="#9a9a9a" stroke-width="0.9" fill="none"/>
<path d="M70.3 328.3h-3.5M70.3 318.2h-2M70.3 312.3h-2M70.3 308.2h-2M70.3 304.9h-2M70.3 302.3h-2M70.3 300.0h-2M70.3 298.1h-2M70.3 296.4h-2M70.3 294.9h-3.5M70.3 284.8h-2M70.3 278.9h-2M70.3 274.7h-2M70.3 271.5h-2M70.3 268.8h-2M70.3 266.6h-2M70.3 264.6h-2M70.3 262.9h-2M70.3 261.4h-3.5M70.3 251.3h-2M70.3 245.4h-2M70.3 241.3h-2M70.3 238.0h-2M70.3 235.4h-2M70.3 233.1h-2M70.3 231.2h-2M70.3 229.5h-2M70.3 227.9h-3.5M70.3 217.9h-2M70.3 212.0h-2M70.3 207.8h-2M70.3 204.6h-2M70.3 201.9h-2M70.3 199.7h-2M70.3 197.7h-2M70.3 196.0h-2M70.3 194.5h-3.5" stroke="#9a9a9a" stroke-width="0.9" fill="none"/>
<g filter="url(#bl)">
<path d="M80 222h1m-5 41.5h1m-2 -31.5h1m-1.5 -7.5h1m5 13.5h1m-6.5 -9.5h1m5 -3.5h1m-1 21h1m-10 -24h1m4 21h1m-6.5 -19h1m4.5 8h1m-0.5 -6.5h1m-3.5 21h1m-1.5 -6h1m-2.5 8h1m-1 -25.5h1m3.5 18.5h1m-1.5 -14.5h1m-2.5 11h1m3 4.5h1m-2.5 -18h1m-4 11.5h1m-4 -12h1m-0.5 9.5h1m3.5 -11h1m-3.5 37.5h1m3 -27h1m2.5 18h1m-8.5 -6h1m0.5 -11h1m-3 -1h1m3 5h1m5.5 3.5h1m-7.5 3h1m-6 -0.5h1m2 -1h1m-4 -15.5h1m-1.5 14h1m8 -13.5h1m-6.5 24h1m4.5 -29.5h1m1 21h1m-11.5 -8.5h1m-2.5 -6.5h1m-0.5 10h1m-1.5 -14h1m3.5 14.5h1m5 -5.5h1m-9.5 14h1m8.5 3h1m0 -22.5h1m-13 12.5h1m-0.5 -7.5h1m2 1h1m10 -6h1m-11 2.5h1m6 4.5h1m-4.5 8.5h1m-1 -16.5h1m-8.5 19.5h1m13.5 3.5h1m-13 -4.5h1m-2 -21h1m-3.5 -3h1m2.5 18h1m0 2.5h1m5.5 -8.5h1m-12 -11.5h1m1.5 3h1m9 26h1m-2.5 -24h1m-8.5 9h1m5 -5.5h1m-4 39.5h1m-4 -26.5h1m-4.5 -5h1m3.5 -9.5h1m-4.5 5.5h1m10.5 -11.5h1m-4.5 19.5h1m-1.5 -2.5h1m-9.5 3h1m0 -19h1m-1.5 9.5h1m6 -7.5h1m-6 5h1m-1.5 13h1m1.5 -11.5h1m4 -4.5h1m-3 14h1m-3.5 -5h1m3 -12h1m-7.5 0h1m1.5 10h1m-4 -0.5h1m2 -4h1m-5.5 11.5h1m2 -10.5h1m2 -8h1m-5.5 14h1m-2 3.5h1m2.5 -3h1m-5.5 -13.5h1m9 5.5h1m-9.5 16h1m3.5 -20.5h1m2 43h1m-5 -46.5h1m-5 5h1m7 -2h1m-8.5 19.5h1m2.5 -18h1m5 5h1m-10 -3h1m1.5 8.5h1m2 3.5h1m-4.5 -12.5h1m-4.5 5.5h1m-1 2h1m3.5 -5.5h1m-3.5 19.5h1m-4 -25.5h1m9.5 9h1m-7.5 -10h1m5 18h1m-5.5 13.5h1m1 -1h1m-6 -24h1m-2.5 -7h1m12 11.5h1m-10.5 20.5h1m-3.5 -26.5h1m1 8h1m2 -13h1m-1 -1h1m0.5 26h1m-5.5 -26.5h1m-3.5 20h1m0 -0.5h1m9 2.5h1m-12 7h1m-0.5 -22.5h1m-1 -2h1m20.5 1.5h1m-18 2h1m-7.5 -5.5h1m1 5h1m11.5 10.5h1m-3.5 -16h1m-4 20.5h1m-9.5 -21h1m7 14h1m-7.5 20h1m8.5 -18.5h1m-8 -8.5h1m-0.5 1h1m14.5 4h1m-14 -3h1m-4.5 -6.5h1m-1 35.5h1m3 -26h1m7 8.5h1m-16.5 -9h1m14 -4h1m-15 -5.5h1m4 27.5h1m3 9.5h1m-5 -38.5h1m-7 6h1m2.5 32h1m0 -35h1m-6 -5h1m0 29h1m3 -15h1m2 -6.5h1m-4 7h1m-3.5 -14.5h1m4 1h1m1 16.5h1m-3.5 2.5h1m-7 4h1m3.5 -13h1m15.5 13h1m-5 -2h1m6.5 -12.5h1m-19 13h1m38 -3.5h1m-35.5 21h1m15.5 -34h1m-17.5 22.5h1m13.5 -15.5h1m-11 15h1m2.5 -20.5h1m12 30h1m6.5 -11h1m-8 -26.5h1m-24.5 25h1m12.5 -5.5h1m8.5 -1.5h1m-13.5 -17h1m2 11.5h1m0 -1h1m-7 2.5h1m31 6.5h1m-30.5 -3.5h1m-10.5 22.5h1m4.5 -24.5h1m5 -3h1m13 -2.5h1m-4 8.5h1m-19.5 0h1m7.5 -2.5h1m9 -13.5h1m-17.5 4h1m16.5 -1.5h1m-32.5 7h1m19.5 6h1m-4.5 9h1m3.5 -10h1m-16 1.5h1m-6 -15.5h1m24.5 18.5h1m-12 21h1m5.5 -34h1m13 35.5h1m-22 -10h1m12.5 -7.5h1m-15 -15h1m3.5 3h1m3 -12h1m3.5 16h1m-20.5 8.5h1m19.5 -15.5h1m-1.5 4.5h1m-26.5 -1.5h1m29.5 8h1m-16.5 -5h1m10.5 -10h1m-29.5 25.5h1m5.5 8h1m7.5 -33h1m7 2.5h1m-2.5 -7h1m-14.5 1h1m6.5 34.5h1m21 -20.5h1m-17.5 15.5h1m-11.5 -19.5h1m2.5 8.5h1m-16.5 -1h1m24.5 17h1m-4 -6.5h1m-19.5 -18.5h1m12 16.5h1m24.5 -3h1m-20 -15h1m-7.5 6h1m12.5 7.5h1m-10.5 10.5h1m-0.5 -9h1m-1 17h1m16.5 -34.5h1m-26 17.5h1m8 -1h1m-1 1h1m-26 -9h1m24 21h1m-9 -9h1m8 -23.5h1m-19 8.5h1m49.5 24.5h1m-43.5 -19.5h1m-11.5 3.5h1m42.5 -2.5h1m-49.5 13.5h1m6.5 11.5h1m-5 -10.5h1m9 23.5h1m-5.5 -32.5h1m3 18.5h1m-10.5 15h1m-0.5 0.5h1m1.5 -38.5h1m0.5 48.5h1m-8.5 -33.5h1m12 7.5h1m-8 12.5h1m-9 -31.5h1m5.5 28h1m-5.5 -29.5h1m1 14.5h1m-0.5 22.5h1m1.5 -30h1m-0.5 49h1m-5.5 -6h1m0.5 -29h1m-3 -6h1m9 32.5h1m-2.5 -9h1m-2 -23h1m-3.5 3h1m-2.5 7h1m6.5 -5.5h1m-13.5 37.5h1m4 -18h1m-5 -6h1m2 -24.5h1m6 -3h1m-7 8.5h1m-6 24h1m5.5 8h1m-2.5 -32h1m-4 23.5h1m-2.5 -19.5h1m3 -17.5h1m1 52h1m-1 -49h1m1.5 21h1m-6 9.5h1m4.5 -34.5h1m-9.5 -2.5h1m3.5 22.5h1m-5.5 1h1m-1.5 2.5h1m2.5 -17h1m-5 -6.5h1m-1 -1.5h1m1 11.5h1m6 8h1m45 -25.5h1m4.5 29h1m24.5 14.5h1m-24.5 -7.5h1m10.5 11h1m-28 -44h1m23 37h1m8.5 -13h1m-11.5 -22h1m6.5 37h1m-19 -39.5h1m-2.5 14h1m-4.5 -32h1m-4.5 27h1m9.5 6.5h1m-2 3.5h1m-12 -13.5h1m1.5 -21.5h1m-7 9h1m-1.5 17h1m9.5 -5.5h1m-6.5 -14h1m16 49h1m-2.5 -22h1m7 11.5h1m8.5 9.5h1m-34.5 -34.5h1m14.5 -9.5h1m-5 18h1m15.5 -5.5h1m3 21h1m-9.5 9h1m-27.5 -25.5h1m6.5 26h1m16.5 -29.5h1m-23 -12h1m19 16.5h1m-16 -24.5h1m12.5 33h1m8.5 26.5h1m-6 -34h1m-2.5 25h1m-4 9h1m-21 -36.5h1m1.5 -14.5h1m21 33.5h1m0 12.5h1m-21.5 2h1m13.5 -1h1m9 -38.5h1m3 30h1m-30.5 -22.5h1m13 11.5h1m9.5 17h1m3 5.5h1m-30 -45.5h1m20 48h1m-21.5 -42h1m9 8h1m-17 -9.5h1m15.5 39h1m20.5 -34.5h1m-9 36.5h1m-30.5 -42.5h1m34 22h1m-18.5 -8.5h1m-13 22.5h1m27 -10h1m-3.5 13.5h1m-16 -44h1m-2.5 12h1m-20 -6h1m3.5 -18h1m18.5 17.5h1m-11 4.5h1m-4 -13h1m18 54.5h1m-32 -54.5h1m27 48h1m-10 -43h1m-13 0.5h1m24.5 38.5h1m-18 -40.5h1m11.5 40.5h1m-6.5 -26.5h1m19 30h1m-21.5 -5.5h1m-10.5 -37h1m2 14h1m-16 -4.5h1m40 11h1m-27.5 1h1m15.5 23h1m-17 -3h1m5.5 -18.5h1m-15.5 -22h1m7.5 33.5h1m13.5 -18.5h1m-31.5 -8.5h1m0 -5h1m26.5 20.5h1m-6 4.5h1m-15 -28.5h1m7 10h1m-2.5 19h1m3 -32h1m8.5 20.5h1m-19.5 -6h1m-1.5 6h1m7 -18h1m3.5 18.5h1m10 2h1m-0.5 0.5h1m-14.5 11.5h1m-17.5 -11h1m12 4h1m-3 -12.5h1m-1.5 -1.5h1m12.5 41.5h1m8.5 -6.5h1m-31.5 -23h1m11.5 -21.5h1m3.5 -3h1m10.5 5h1m-25 -5.5h1m14 -4h1m-2.5 36h1m-10.5 -16.5h1m21.5 20.5h1m-18 -26.5h1m-15.5 -3h1m13 5.5h1m-2 21h1m-17.5 -18h1m31.5 32.5h1m-7 4h1m-3 3.5h1m3.5 -23h1m-9 -2h1m-14 -8h1m8.5 -11h1m4 29.5h1m-16.5 5h1m0 -41.5h1m26 20h1m-22 -6.5h1m-9.5 21.5h1m5.5 4h1m14.5 -22h1m-32 -16.5h1m14 1.5h1m-9.5 38h1m12.5 -20.5h1m-9.5 -15.5h1m9 11.5h1m16 -25.5h1m-20.5 51.5h1m-11.5 -54h1m6.5 36.5h1m14.5 0h1m6.5 15h1m-7 -2h1m-33 -30h1m39.5 -20h1m-29.5 61.5h1m-2.5 -1.5h1m27.5 -40h1m-37.5 23.5h1m9 -36h1m-12 -6h1m9 13h1m6 -16.5h1m20.5 31h1m-24 14.5h1m-14 7h1m4.5 6h1m16 -59h1m-22.5 15.5h1m34 38.5h1m-39 -34.5h1m31 10h1m-4.5 -28h1m-4.5 61h1m2 -64.5h1m-2.5 65h1m3.5 -51h1m-9.5 16h1m-17.5 -5.5h1m-5 29h1m14.5 -4.5h1m-15 -34.5h1m36 9h1m-23 26.5h1m16 -20h1m-16.5 17.5h1m15 -11.5h1m-34.5 15.5h1m4.5 -53.5h1m16.5 33h1m5 -1.5h1m-1 22.5h1m-17 -45.5h1m7.5 43.5h1m-20.5 -42.5h1m30.5 36.5h1m-16 -26.5h1m-4.5 1h1m-14.5 32h1m32 -26.5h1m-6 -21h1m-18 40h1" stroke="#111" stroke-opacity="0.33" stroke-width="1.1" fill="none"/>
<path d="M73 240h1m-1.5 -10h1m-1.5 -1.5h1m15 -4h1m-14 12h1m2 6h1m-1.5 -13.5h1m-3 6.5h1m6 -11.5h1m-12 0h1m3.5 34.5h1m-2 -5.5h1m-4.5 -20.5h1m5 9h1m0 -7.5h1m-1.5 -10.5h1m8 12.5h1m-15 -10h1m-1.5 20.5h1m0 -11.5h1m0 -12h1m1 8.5h1m-6.5 14h1m7 -17.5h1m1 10.5h1m2 -13h1m-6.5 17.5h1m6.5 6.5h1m-8 -23.5h1m-8.5 24.5h1m4.5 -29h1m2 12h1m1.5 3h1m-8 -9.5h1m-1.5 17h1m0.5 -20.5h1m-3.5 2.5h1m11 -0.5h1m-12.5 29h1m-4 -14.5h1m-1 -18h1m3.5 31.5h1m-0.5 -14.5h1m-2 -11h1m-2.5 10.5h1m3 -7.5h1m-1 -1h1m0.5 -6h1m-2.5 35h1m-1.5 -25.5h1m-0.5 -10h1m-5.5 6h1m-1.5 -7h1m11.5 30.5h1m-14.5 -30h1m0.5 5h1m-2 3.5h1m-0.5 13h1m-1 -20.5h1m2 6.5h1m7.5 3.5h1m-1.5 7.5h1m-13 18h1m2 -15h1m-4.5 -5h1m2.5 -17h1m1 6h1m-5.5 -5h1m2.5 2.5h1m-2 7.5h1m2 9.5h1m-6 11.5h1m-1 -14.5h1m2.5 -10.5h1m7 7h1m-14 16.5h1m8 -26h1m-6 18.5h1m-0.5 4h1m4 -20h1m-10.5 -4.5h1m9.5 3.5h1m-5 6.5h1m-7 -4.5h1m-0.5 4.5h1m-1.5 -13h1m3 28h1m0.5 -20h1m-5.5 14h1m8.5 -17h1m-6.5 10.5h1m3.5 3.5h1m-7.5 0.5h1m2.5 -15h1m-8.5 -2h1m1.5 31h1m-2.5 -17.5h1m2 1.5h1m1 -18h1m3 14.5h1m3 -4h1m-6.5 4h1m-8 12h1m-0.5 0h1m0.5 -24h1m10.5 -1.5h1m-9.5 20h1m-6.5 3.5h1m2.5 -14.5h1m10 -2.5h1m-15.5 -1h1m4.5 7h1m-1.5 6h1m7 -14h1m-10 31.5h1m-5 -7.5h1m-0.5 6h1m-0.5 -16h1m4 -15.5h1m6 11h1m-2 -9.5h1m-11 19.5h1m6 14h1m-3 -28h1m-3 18h1m7.5 -3h1m-12 -12.5h1m6 -8h1m-3 0.5h1m-7 3h1m1.5 1h1m0.5 2h1m0 -1h1m2 1.5h1m-8 -1.5h1m5 -5.5h1m-8 35.5h1m-3.5 -36.5h1m1.5 5h1m8 1h1m-6 -9h1m-3 3h1m2.5 -3.5h1m-3.5 16h1m3 12h1m-6.5 -17.5h1m-2 -3.5h1m5 18.5h1m-0.5 -18h1m-9 8h1m-0.5 12h1m-2 -18h1m2 -7.5h1m0 0.5h1m-4.5 19.5h1m3 -4h1m5 -9h1m-1.5 8h1m-1 4h1m-10.5 -14.5h1m6 7h1m-7.5 -3.5h1m0.5 16h1m-2.5 -15h1m-0.5 6.5h1m6 -13h1m-4 13h1m0 25h1m34.5 -36.5h1m-17 2h1m-0.5 29h1m-10.5 -6.5h1m11 -9h1m0 9.5h1m-17.5 -20h1m7.5 21.5h1m17.5 -27.5h1m-26 8.5h1m-12 29h1m13.5 -39h1m7.5 9.5h1m-12 10.5h1m8 3h1m-9.5 -2.5h1m-1 -4.5h1m-7 10h1m32.5 14.5h1m-32.5 -39h1m-6.5 10.5h1m14 13.5h1m19 -2h1m-21.5 -7h1m0.5 -5h1m-23.5 2h1m23.5 1.5h1m2.5 15.5h1m-2.5 -9.5h1m-7.5 -13.5h1m-3.5 28.5h1m23 -27h1m-26 9.5h1m-10.5 -1.5h1m41 -7h1m-30 10.5h1m-4 8h1m-18.5 -12h1m21 32.5h1m-0.5 -41h1m3 28.5h1m-10 -2.5h1m-4 -22h1m3.5 7h1m-2.5 0.5h1m16 2.5h1m-30.5 -9h1m24 -2.5h1m0 4.5h1m-10.5 -11h1m-7.5 9h1m19.5 12.5h1m10 0.5h1m-42 -6.5h1m4.5 -13h1m0.5 8h1m5.5 -18h1m24 18.5h1m-32.5 14h1m-0.5 -12.5h1m16.5 -18.5h1m0.5 28h1m-13 -22.5h1m17 24.5h1m-23.5 -29.5h1m-11 31h1m22 -31h1m6.5 0.5h1m-12 16h1m-13 1h1m0 5.5h1m7.5 -1h1m11.5 -1.5h1m1.5 -3h1m2 -1.5h1m-22 -16h1m-2 29h1m0 3h1m-5.5 -22.5h1m0.5 5h1m1.5 19h1m1 -26.5h1m-22 20.5h1m39.5 -22h1m-36 0.5h1m13.5 -3.5h1m13.5 22h1m-9 -16h1m-12.5 -9.5h1m-11.5 15h1m21.5 5.5h1m-15 -9.5h1m4.5 21h1m7 -27h1m-20 15h1m26 3.5h1m-28 -21h1m5 -1h1m19.5 21h1m-35 -4.5h1m15 -8.5h1m6 27h1m0 -16.5h1m-4 -6h1m7.5 -13h1m-18 29h1m-7.5 23.5h1m5.5 13h1m-6.5 -33h1m0 14h1m-1 -20h1m-10 16h1m1 3.5h1m3.5 0h1m4.5 -7.5h1m-4.5 -6h1m-2.5 27h1m-4 -1.5h1m0.5 0.5h1m-0.5 -27.5h1m2 29.5h1m-6 -20h1m-2 3.5h1m5 30h1m-0.5 -7h1m3 -27h1m-11.5 4.5h1m1 -8.5h1m5 -13h1m-0.5 1h1m-7 9h1m-1 -10.5h1m8.5 7h1m-11 -4.5h1m-5.5 -1.5h1m5.5 7h1m-7.5 35.5h1m14 -48h1m-13 24.5h1m1 13.5h1m3 -14h1m-3 -11h1m-5.5 31h1m2.5 -29.5h1m5.5 -12h1m-9.5 28.5h1m6 5h1m-8 -14h1m7.5 10h1m-5.5 17.5h1m60.5 -6.5h1m-7.5 -17.5h1m-18 -29.5h1m19 25h1m1.5 -20.5h1m-10.5 2h1m1.5 15.5h1m15.5 20h1m-1.5 6h1m-15 -35.5h1m-3.5 13h1m-2 -6h1m15 4.5h1m-1 18.5h1m-22.5 -58h1m-7 3h1m-3.5 14.5h1m23 32h1m-15 -19h1m8 6.5h1m-16 -1.5h1m22 19.5h1m-26.5 -22h1m2 -4.5h1m28 30h1m-15.5 6h1m1 -21.5h1m-3 -4h1m5 12h1m-7.5 -2.5h1m-4.5 -34.5h1m-13.5 36.5h1m11.5 -9.5h1m7.5 16h1m-11.5 -37.5h1m-3 24h1m14.5 16h1m2 -7h1m-1 15h1m-24 -16.5h1m-12 -35h1m14.5 11h1m14 21.5h1m-16 -31h1m-4 41.5h1m11.5 -22h1m-2.5 12h1m-8 11.5h1m17 0h1m6 -20h1m-21.5 -9.5h1m-3 2.5h1m17 29.5h1m-28.5 -62h1m23 41.5h1m-18.5 -25h1m18 43h1m-20.5 -35h1m8 24.5h1m-12.5 -5.5h1m29 -2.5h1m-29.5 -15.5h1m12 26.5h1m-21.5 -40.5h1m20.5 7.5h1m-24.5 -4h1m9.5 -11h1m25 45h1m-16.5 5h1m-7.5 0.5h1m-16.5 -27h1m26 23h1m-3 -10h1m-15.5 -14h1m4.5 -4.5h1m-9 -20h1m18.5 47h1m-23.5 -16h1m7.5 -9h1m-14.5 -13h1m14 3h1m1.5 48h1m-19.5 -48.5h1m31.5 35h1m-12.5 -17h1m-10 39h1m4.5 -28h1m-4.5 -44.5h1m-8.5 22.5h1m25.5 44.5h1m-19 -22.5h1m-4 -24.5h1m12 40.5h1m-25.5 -47.5h1m9 4h1m-4.5 -9.5h1m2 25.5h1m-2.5 6h1m-4 -14h1m13.5 1.5h1m8.5 7h1m5.5 31h1m-21.5 8.5h1m-14.5 -63h1m-6 21.5h1m14.5 -18.5h1m9.5 40h1m5.5 -5h1m-17.5 -39h1m8 48h1m-3 -36h1m-9 35h1m18 4h1m0 -34h1m-5.5 20.5h1m-1 12.5h1m-20 -38.5h1m13 46h1m-23 -32h1m12 -7h1m7.5 15.5h1m-15.5 -24h1m22 42.5h1m-6.5 -28.5h1m-16 -26.5h1m25 52h1m-26.5 -12h1m13 7h1m6.5 4h1m7.5 -8h1m-11 -19.5h1m-28 -5h1m-7 -4.5h1m13.5 10h1m3.5 34h1m13 -15h1m-9.5 -24h1m-25 4h1m22 6h1m3.5 14h1m8.5 16.5h1m-8.5 -16.5h1m-15.5 -39.5h1m3.5 -7.5h1m-10.5 8.5h1m19.5 54h1m-2.5 -7.5h1m-0.5 3.5h1m-30 -53h1m8.5 13.5h1m30.5 35h1m-1.5 -0.5h1m1.5 10.5h1m-45.5 -27h1m34 -38h1m7 28h1m-1.5 39h1m-9.5 1h1m-25.5 -35.5h1m32 11.5h1m-9.5 -10h1m2.5 21.5h1m-9 -13h1m-29.5 20h1m18.5 -35.5h1m-14.5 -3.5h1m-6.5 15h1m24.5 12h1m-4.5 9h1m-12 -13h1m16 -7.5h1m-4.5 26.5h1m-20 -11h1m23 -42.5h1m-31 30h1m39 7h1m-33.5 4.5h1m16.5 13h1m-9.5 -62.5h1m25.5 60.5h1m-20 -15.5h1m18 -17.5h1m-31.5 17.5h1m29 -44.5h1m-13.5 34.5h1m1.5 5h1m-27.5 -34.5h1m28 27h1m-17 18h1m3.5 -32.5h1m9.5 39.5h1m7.5 -40.5h1m-32 -13.5h1m0 5h1m-5 10.5h1m-6 26.5h1m38.5 9h1m-38.5 -43h1m26.5 28.5h1m-15.5 19h1m15.5 -61.5h1m-20.5 23h1m24.5 7h1m-38 -0.5h1m6 31h1m28.5 -12h1m-29 -48.5h1m-9.5 27.5h1m17.5 -17.5h1m-5 4h1m22.5 49.5h1" stroke="#111" stroke-opacity="0.33" stroke-width="1.1" fill="none"/>
<path d="M74.5 249.5h1m-2 -16h1m-3 -1.5h1m-0.5 38.5h1m0.5 -30.5h1m0 -11.5h1m-0.5 -1h1m-2.5 4.5h1m-1.5 1h1m-3 -6.5h1m1.5 -2.5h1m-1.5 8.5h1m1.5 -4.5h1m1 7h1m-5.5 -9h1m4 5.5h1m1 -1.5h1m-7.5 -7.5h1m11 19.5h1m-10 14h1m5 -18h1m-11.5 0h1m3.5 -8h1m-6 -3h1m0.5 33.5h1m-2 -28.5h1m0 0.5h1m9 -10h1m-12.5 8.5h1m6 2h1m-7 24h1m6 -26h1m-5.5 -2.5h1m-4 13h1m3.5 8.5h1m-3 -11h1m-1 0.5h1m-4.5 -15h1m2.5 4.5h1m1 12h1m3.5 -15.5h1m-8 15h1m-4 14h1m1 -8h1m7 -18h1m11.5 6.5h1m-12 2h1m-8 4h1m1.5 -6.5h1m-4.5 -11h1m-1.5 15.5h1m-1.5 -17.5h1m0 20h1m-2 -16h1m4.5 4.5h1m-4 23.5h1m-2.5 -5.5h1m-3 -1.5h1m-2 -6.5h1m5 -9.5h1m1 -7.5h1m-8 1h1m0.5 10h1m-2 -7.5h1m7 22h1m4.5 -20.5h1m-15.5 12h1m1 -5.5h1m-1 4h1m5.5 -14h1m-2.5 16h1m-2 1h1m4.5 -2.5h1m-10 -9.5h1m-3 -1.5h1m-1 9h1m1.5 -10.5h1m4.5 13h1m-10 4.5h1m1 0h1m7.5 -22h1m-6 6h1m2 3.5h1m-8.5 15.5h1m7 -24h1m-6.5 35h1m6.5 -34.5h1m-5.5 14.5h1m1 -7.5h1m-7 13h1m9 -1.5h1m-9.5 9.5h1m-4 -7.5h1m8.5 -22h1m-9 19.5h1m0.5 16h1m-5 -3h1m4.5 -29.5h1m-5.5 17.5h1m0 -1h1m0.5 -17h1m-2 12.5h1m3 -4h1m-2 -2.5h1m-3.5 9h1m5 1h1m-8 -12h1m9.5 6.5h1m-11.5 6.5h1m-3 26h1m7.5 -35.5h1m6.5 3.5h1m-10 18.5h1m-1.5 -7.5h1m-2.5 -13h1m1.5 5h1m-6.5 -15h1m-2 5h1m1 -2h1m4.5 -4.5h1m-2.5 13.5h1m-8.5 -7h1m2.5 3.5h1m-3 25.5h1m7 -26.5h1m-8.5 -5h1m6.5 0.5h1m-7 -2.5h1m-3 -1h1m-0.5 18.5h1m0.5 -9h1m4.5 7.5h1m-3 -9h1m-5 -5h1m-0.5 27.5h1m-0.5 -21h1m-4.5 21h1m3.5 -13h1m2.5 2.5h1m7.5 -8.5h1m-13.5 -10.5h1m-4 6h1m3.5 4h1m5.5 3h1m-11.5 -1h1m-1 -13h1m2.5 21.5h1m-1 3.5h1m-2.5 -2.5h1m-2 -16.5h1m5.5 -1.5h1m-6.5 5h1m-0.5 7.5h1m2.5 -18.5h1m-8.5 16h1m13 0h1m-8.5 6h1m-1 -8h1m2.5 2h1m-7.5 -4.5h1m-3.5 34h1m2.5 -36h1m-5 8h1m-1.5 -15.5h1m1.5 2.5h1m-2 19h1m0 1h1m-2.5 -22.5h1m-1.5 12.5h1m12 7h1m-8.5 -8.5h1m-5.5 23.5h1m-3 -22h1m8 0h1m-5.5 -14h1m0 20h1m2.5 0.5h1m-3.5 -0.5h1m21.5 25h1m-28 -9h1m37.5 -20h1m2.5 13h1m-13 -7.5h1m-20 21h1m13 -30h1m-7.5 4.5h1m-6 4.5h1m-11.5 -2h1m-4.5 2.5h1m7 -14.5h1m17.5 19h1m-10.5 -26.5h1m-4.5 32.5h1m-1.5 -23.5h1m16.5 26h1m-15 -32h1m20.5 19.5h1m-34.5 5.5h1m12 -22.5h1m17 13h1m-13 5h1m11 -7.5h1m-16.5 -5.5h1m-4 5.5h1m14 12.5h1m3.5 -7.5h1m-14 12.5h1m-6.5 -2.5h1m21.5 -11.5h1m-16 -13.5h1m-1 30h1m1.5 -14.5h1m-21 -13h1m12 5.5h1m0.5 10.5h1m-7.5 1h1m7.5 -22.5h1m2.5 11.5h1m-13.5 -5.5h1m41 0h1m-41 2.5h1m28.5 -2h1m-15.5 15.5h1m-19.5 -21h1m29.5 18h1m-16.5 -14h1m-5 8h1m-3.5 10.5h1m-13.5 -10h1m-5 31h1m20 -38.5h1m-29 -3.5h1m34.5 25.5h1m-10.5 -11.5h1m-14.5 5h1m10.5 28h1m-19.5 -38h1m15.5 -6.5h1m25 3h1m-18.5 13h1m0 -14h1m-6.5 32.5h1m-14 -31.5h1m3.5 31h1m9.5 -5.5h1m-25.5 -13h1m11.5 -18.5h1m12 20h1m-15 -19.5h1m-12.5 0h1m33 13h1m-32.5 -10h1m4.5 20h1m-5.5 5.5h1m14.5 -2.5h1m-15.5 6.5h1m24.5 -33h1m-12.5 15h1m-9.5 19h1m-3.5 -30h1m15 32.5h1m-3 -20h1m6.5 -17.5h1m-8 24h1m-13 -5.5h1m-11.5 -5.5h1m37 4.5h1m-36.5 2h1m18.5 6h1m-20 -9.5h1m4 7.5h1m0.5 -19h1m14 21h1m4 -17h1m8 -7h1m-9.5 26.5h1m-26 9h1m-7 -4h1m10.5 -7h1m-14 40h1m-0.5 -19h1m2 14.5h1m3 -1h1m-0.5 -42h1m14 21.5h1m-24.5 -6.5h1m7.5 1h1m-8.5 8h1m-1 -16h1m9 -5.5h1m-10.5 25.5h1m11.5 11.5h1m-4.5 -1h1m-5.5 -16h1m-0.5 9h1m-3 -24h1m-0.5 25.5h1m-5.5 -4h1m3 4.5h1m-2 -27.5h1m-5 26h1m6 -17.5h1m-4 -14.5h1m-4.5 24h1m8 -13.5h1m-4 20h1m-3 5h1m-2.5 -6h1m4.5 10.5h1m-7 -15h1m2.5 -4.5h1m-3.5 1h1m6.5 0.5h1m1 0h1m-8.5 21h1m-5 -29.5h1m5 16h1m8 6h1m-9.5 -17.5h1m-3 16.5h1m-0.5 25h1m6 -21h1m-11.5 -21h1m3.5 -6h1m-6 -12.5h1m-1 17.5h1m47.5 23h1m4 -31h1m22 25.5h1m-24 -39.5h1m11.5 50h1m1.5 -17h1m-21.5 -37h1m-5 -7.5h1m26 43.5h1m-2 -16.5h1m1 21h1m9 2.5h1m-4.5 -23.5h1m-27 -31h1m7.5 21h1m8.5 35.5h1m-20 -32.5h1m1.5 -5h1m-12 30h1m24 12.5h1m-28.5 -49.5h1m8 -0.5h1m8 9h1m-1.5 15h1m15 23.5h1m-24 -22h1m20 -9.5h1m-14.5 23h1m-3.5 -8.5h1m-0.5 -22.5h1m-1.5 -6.5h1m4.5 17.5h1m10.5 35h1m-24 -49.5h1m7 -17.5h1m-8.5 23.5h1m21.5 -5h1m-3 33h1m7.5 4.5h1m0 -18h1m-6.5 14.5h1m-19 -43.5h1m19 50.5h1m-25.5 -22.5h1m11.5 28.5h1m-5 -51.5h1m-3 3.5h1m9 26h1m6.5 5h1m-21 3.5h1m13 15h1m-19 -50h1m3 14h1m10 13.5h1m-9.5 -1h1m4 -0.5h1m-2.5 5.5h1m-16.5 -18.5h1m22 27h1m-28.5 -40.5h1m-2.5 -1.5h1m2 1.5h1m30.5 50.5h1m-23.5 -55h1m-13 2h1m25 31.5h1m-12.5 -18.5h1m16.5 38h1m-13.5 -21.5h1m-5.5 -22.5h1m-10.5 19.5h1m23 4h1m-11 -26.5h1m11 26.5h1m-14 -15h1m15 17.5h1m-5.5 -12.5h1m-15.5 -33.5h1m-2.5 11.5h1m0.5 23.5h1m-15 6.5h1m37 16.5h1m-11.5 9h1m-1 -7.5h1m-9.5 0h1m5.5 -13h1m-19.5 -6.5h1m11 26.5h1m-0.5 -6.5h1m-6.5 -10h1m-16.5 -33h1m32.5 47h1m-11 -49.5h1m-7 25.5h1m-17.5 -21.5h1m8 3.5h1m7 18h1m9 24h1m-14 -10h1m4.5 1.5h1m-4.5 -23.5h1m3.5 8.5h1m-19.5 -30.5h1m12 12h1m-14 5h1m18.5 12h1m-14.5 -11.5h1m28 11.5h1m-28 5h1m6 -19h1m14.5 33.5h1m-17 -4h1m-4 -24h1m-15 -14.5h1m3.5 12.5h1m32 33h1m-34 -33h1m24.5 18h1m1.5 3h1m-29 -28h1m3.5 7h1m7.5 16h1m-3.5 -11h1m16.5 -15.5h1m-30 25.5h1m4.5 -40h1m-4.5 2h1m17.5 44h1m6 -36.5h1m-19 47h1m11.5 -43.5h1m-23 40h1m36.5 -29h1m-41 -21h1m12 0.5h1m8 21h1m11 32h1m-19.5 -17h1m14.5 -8h1m6.5 29h1m-7.5 -37h1m-21.5 -4h1m-0.5 18.5h1m22.5 -9.5h1m-13 10h1m-15 8h1m10.5 -28h1m-9.5 -11h1m23 27h1m-7.5 14h1m8.5 1h1m-20.5 -18h1m-18 15h1m2 8.5h1m3.5 -2.5h1m24.5 -19h1m-15.5 -36h1m-7.5 10.5h1m13.5 26.5h1m-32.5 14.5h1m10.5 -48.5h1m5 30h1m-15.5 -9h1m6 14h1m12 4.5h1m-4 -2h1m19.5 -34.5h1m-19.5 39h1m11.5 -7.5h1m-36 9h1" stroke="#111" stroke-opacity="0.33" stroke-width="1.1" fill="none"/>
<path d="M73.5 247h1m2 -13h1m0.5 -8.5h1m1.5 19h1m-6 -6h1m-0.5 -3.5h1m6 6h1m-10.5 -19.5h1m3.5 28.5h1m-5 -6h1m-1 -2.5h1m0 -16.5h1m1 7h1m4 -0.5h1m-5 11h1m5.5 -15.5h1m-11 7.5h1m6.5 5h1m0.5 -5.5h1m-10.5 21.5h1m-2.5 -11.5h1m8.5 -3.5h1m-5.5 -9.5h1m-6.5 18h1m0.5 -4.5h1m0 0h1m3.5 -11.5h1m1 -6.5h1m-6 1h1m1 9.5h1m-5.5 0.5h1m4 -10h1m-1.5 0.5h1m0.5 -5.5h1m-3.5 6h1m-6.5 18h1m8.5 -16h1m8.5 3h1m-9.5 1.5h1m-2.5 1h1m8 -7h1m-16 20.5h1m0 13.5h1m5.5 -35h1m-9.5 -5h1m-3 12.5h1m0 6.5h1m3.5 -10.5h1m-6.5 -10h1m3.5 6h1m1 16.5h1m3 8.5h1m-8.5 4h1m1.5 -9.5h1m-6.5 -9.5h1m1.5 8h1m6 -5.5h1m-6 1h1m-4 -5.5h1m1 -7.5h1m-4.5 12.5h1m4 -4.5h1m-4 -5h1m-0.5 0.5h1m-1 2.5h1m4 7h1m3.5 8.5h1m-8 -21h1m-4.5 27h1m5 -26.5h1m4 16.5h1m-3.5 -14.5h1m-8.5 3h1m-2 2h1m1 -5h1m-2 -0.5h1m-4 24h1m12.5 -13.5h1m-14.5 -11h1m4 7h1m-2 2.5h1m-2 -9.5h1m-1.5 -7.5h1m-3 9h1m4 11.5h1m7 8.5h1m-8 -29.5h1m-7 20h1m8.5 -8.5h1m-7.5 1h1m-2 -0.5h1m-1.5 -12.5h1m7 26h1m2.5 -3h1m-13.5 -10.5h1m6 0.5h1m-1.5 -9.5h1m0.5 19.5h1m-1 -16.5h1m-9.5 3h1m3.5 7.5h1m-3 -5.5h1m2.5 -5h1m-5.5 0.5h1m6 0.5h1m-0.5 19h1m0.5 -4.5h1m-6.5 -16.5h1m-6 44.5h1m2 -36.5h1m-3 -1.5h1m0 13h1m-2.5 -11.5h1m0 -3h1m-2 -0.5h1m6 7h1m-1.5 -2.5h1m-6 6h1m3.5 -16h1m1 5h1m-3 9h1m-6.5 9.5h1m6.5 1.5h1m-4.5 -7h1m4 -14.5h1m-8.5 -1h1m4 14.5h1m-5 25h1m7.5 -39h1m-11 -5.5h1m7.5 2h1m-11.5 3.5h1m2 4h1m2 11h1m6 2.5h1m-12.5 -19.5h1m10 15.5h1m-11.5 -6h1m-3.5 -6.5h1m0 13.5h1m0 -10.5h1m9.5 1h1m-8.5 12.5h1m0 -22h1m4.5 15h1m-3 -6.5h1m0.5 11.5h1m-7.5 -7h1m0.5 -4h1m-5.5 19.5h1m3 -8h1m-3.5 -3h1m8 -16.5h1m-11 12.5h1m2.5 13h1m1 -24.5h1m-5 16h1m-1 -13h1m-4.5 -1.5h1m-0.5 8.5h1m1 -9.5h1m11 20.5h1m-8 -22h1m-6 3.5h1m0.5 10.5h1m-1.5 21h1m-3.5 -34.5h1m-1 2h1m0 20h1m-2 -13h1m24 19h1m-6.5 -2h1m19.5 -19h1m-22 22h1m-15 -14.5h1m19 -13.5h1m13 2h1m-10 14h1m-9 -3.5h1m2 -9h1m-1 1h1m11.5 4h1m-38.5 6.5h1m22.5 20.5h1m15 -41h1m-26 26.5h1m20 0h1m-17 -9.5h1m-5.5 -15h1m20 24h1m-9 -1.5h1m-0.5 -5h1m-18 16h1m-9 -10h1m1 22.5h1m4 -46.5h1m7 19.5h1m12.5 11h1m-5 -24h1m7.5 -0.5h1m-15 10h1m11.5 -2.5h1m4 4.5h1m-13 1.5h1m-8.5 -13.5h1m14.5 7.5h1m-15 3.5h1m-3 -16.5h1m6 19.5h1m-24 14.5h1m20 -27.5h1m4 34.5h1m-19.5 -19.5h1m3.5 -18h1m4.5 30.5h1m-4 -26h1m5.5 3.5h1m14 34.5h1m-22 -42h1m18 0.5h1m-17.5 32.5h1m-6 -34.5h1m-11 5.5h1m19 11h1m-28 0h1m39 0h1m-32.5 9h1m9.5 -23h1m1 10.5h1m-8.5 28h1m-6.5 -36.5h1m-3 -1.5h1m0.5 -7.5h1m17.5 19.5h1m-12 -3h1m-4.5 12.5h1m8 -29h1m-16 15.5h1m-5 8h1m18 11h1m4 -6.5h1m8 -6.5h1m-30 15.5h1m15.5 -36h1m-9 14.5h1m-8.5 32h1m-3 -33.5h1m4 20h1m29 -4.5h1m8 9.5h1m-39.5 -26h1m22.5 0.5h1m-7 -8.5h1m-9.5 7.5h1m-1.5 11.5h1m2 23.5h1m13 -44.5h1m-23.5 19h1m14.5 -9h1m5.5 21h1m-9.5 -27.5h1m4.5 14.5h1m-15 -3h1m7.5 1h1m-3 -10.5h1m-18.5 5h1m35.5 -10h1m-42 16h1m3.5 0.5h1m32 -5.5h1m-32.5 27.5h1m-9 -10h1m2.5 5h1m-1.5 -17h1m9 10.5h1m-11.5 9h1m-2.5 2.5h1m4.5 -17h1m0 -2.5h1m-7.5 39.5h1m2.5 -42h1m-5 42.5h1m-2 -7h1m3.5 -1h1m-1 8h1m-4 -13.5h1m6 -2.5h1m-7.5 -13h1m1.5 22h1m4.5 3.5h1m-6.5 -27.5h1m8 39.5h1m-10.5 3.5h1m1 -48.5h1m1 42.5h1m-1.5 -20h1m-0.5 8.5h1m0 -29h1m-9.5 41.5h1m12 -37h1m-14.5 12.5h1m7.5 -20h1m-9 33.5h1m3 -17.5h1m-3 4h1m8 -12h1m0.5 20h1m-7 -3.5h1m-7.5 -15h1m-0.5 21h1m1.5 -5h1m-5 -8h1m4.5 -12.5h1m-4.5 11h1m6 17.5h1m-9 1.5h1m3 -26h1m71 29h1m-29.5 -52h1m4.5 -7h1m29.5 46h1m-18 -43.5h1m-23 3.5h1m32 25h1m-22 -31h1m10.5 67.5h1m10.5 -23h1m-24 -11.5h1m17 2h1m1 26h1m-6.5 -40h1m-21 6h1m29.5 8h1m-12.5 16.5h1m-7 7h1m1 -43.5h1m-1 38h1m-19 -28h1m-2 -7.5h1m17.5 27.5h1m-7 -5h1m18 11h1m-25.5 -36h1m-3.5 -8.5h1m-3.5 2.5h1m31 26h1m-32.5 -10.5h1m13 39h1m8 -28.5h1m-2 -0.5h1m10.5 18.5h1m-17 -18h1m-7 27.5h1m-2.5 -43h1m17 1.5h1m-10 30.5h1m-20.5 -21.5h1m2.5 -4h1m26.5 19h1m-29.5 -19h1m21 20h1m-19 1h1m14 -23h1m-18 6.5h1m-4 5h1m14.5 1h1m4.5 24h1m10 -25h1m-17 9.5h1m-12.5 -34h1m26.5 33.5h1m-28.5 -28.5h1m22 24h1m-17 -22.5h1m-16.5 -2.5h1m26 23.5h1m-22.5 0.5h1m8.5 21h1m12 2h1m5.5 -15.5h1m3 -17.5h1m-32.5 -13.5h1m12 51h1m-25 -7h1m24 -58h1m-23.5 7.5h1m29.5 20.5h1m-13.5 16.5h1m0 -30.5h1m17.5 34h1m-18 -17.5h1m19 9.5h1m-10.5 8.5h1m-6.5 -25h1m-2.5 8.5h1m3.5 17.5h1m-7.5 -21h1m-4 23h1m-23.5 -30h1m9.5 -12.5h1m2.5 0h1m23.5 43.5h1m-35.5 -44h1m21.5 41.5h1m15.5 -8.5h1m-1.5 14.5h1m-39 -39.5h1m16 24h1m-8 -22.5h1m1.5 7h1m0 -25.5h1m2 55.5h1m-12.5 -39.5h1m18.5 34.5h1m-5.5 -22.5h1m14 11h1m-21 -12.5h1m-10 -17.5h1m26 35.5h1m-16 -3h1m9 -5.5h1m-31 -11h1m33 10h1m-23.5 3h1m8.5 21h1m11.5 -27.5h1m-30 -20h1m21.5 22.5h1m0.5 5.5h1m-14 -28.5h1m-16 13h1m13.5 32.5h1m-4.5 -14h1m4 7h1m0 5h1m0.5 -17h1m-5 -22h1m5.5 17.5h1m-7.5 -17.5h1m17 22.5h1m-1.5 7.5h1m-9 -9h1m-21.5 -13.5h1m-1.5 -20.5h1m10 9h1m11 33.5h1m-22.5 10h1m15 -16.5h1m-2 10h1m16 7h1m-32.5 -35.5h1m-1.5 -13h1m0 29.5h1m28.5 24.5h1m-5 -11h1m-6.5 10.5h1m-9 -15h1m-16 -21.5h1m18 40h1m7 -15.5h1m-23.5 -19.5h1m32.5 22.5h1m-24 -48.5h1m3.5 48.5h1m-21 -35.5h1m5.5 4h1m23 39h1m-24 -38h1m16.5 3.5h1m6.5 33.5h1m-32.5 -45.5h1m29.5 -6h1m0 22h1m-3.5 -5h1m-26.5 30h1m-4.5 -12h1m26 -33h1m5 34h1m-11 17h1m-13 -3h1m12 -45.5h1m-18.5 -6h1m19.5 -3h1m-4 55h1m-6.5 -61h1m-17.5 37.5h1m5.5 23.5h1m-8.5 -40.5h1m2 -4h1m28 3h1m-26 28h1m27.5 -27.5h1m-7 -3h1m-36.5 -13.5h1m14.5 37.5h1m22.5 -31h1m-7.5 5h1m-11 -14.5h1m-23 5h1m26 13h1m-3.5 30.5h1m10 -20.5h1m6.5 37.5h1m-21.5 -10.5h1m-10 -21.5h1m-12.5 26h1m28.5 -17h1m-28.5 -5h1m13 -35h1m-17 48h1m5 -41.5h1m10.5 7.5h1m19.5 40h1m-11 -51.5h1m8 51h1m-34 9.5h1m-1.5 -57.5h1m-8 5h1m11 16h1m27.5 -7h1" stroke="#111" stroke-opacity="0.33" stroke-width="1.1" fill="none"/>
<path d="M76.5 258.5h1m0 -29.5h1m-2 -5h1m-5 0.5h1m2.5 27.5h1m4 -19.5h1m-5 1.5h1m-3 8.5h1m-0.5 -10h1m-3.5 -7h1m-2 20.5h1m5 6h1m-4 -13.5h1m8.5 -14.5h1m-9 27h1m-3.5 -21.5h1m-3 -1.5h1m0.5 22h1m1 -5.5h1m-3.5 -6.5h1m12 -8.5h1m-14.5 14h1m1.5 -4h1m1 -17.5h1m2 1.5h1m-4 19.5h1m1 -10.5h1m-8 -1.5h1m16 -9h1m-16 22h1m0 -11h1m-1 -7.5h1m1.5 17.5h1m3 -17h1m-10.5 1.5h1m4.5 9.5h1m-4.5 2h1m7 3h1m-0.5 -2h1m-6 21h1m-6.5 -3h1m0 -22.5h1m1 -2h1m4.5 3.5h1m1 -12.5h1m-4 0h1m-9 1h1m-0.5 6h1m5.5 18.5h1m3.5 -6h1m0 -7.5h1m-12.5 -1.5h1m0 0h1m-3 13.5h1m4 -22h1m-3.5 4.5h1m0.5 -6.5h1m-0.5 18h1m1 -0.5h1m-1.5 8.5h1m2.5 -21h1m-8.5 3h1m8.5 19h1m-3.5 -16.5h1m-9.5 -5h1m10 29.5h1m-9 -15.5h1m5.5 -14h1m-5 -2.5h1m-5 -2h1m5 5h1m-0.5 -5h1m-8 11h1m-1.5 -3h1m1.5 -7h1m-3.5 11.5h1m5.5 -12.5h1m-5 5.5h1m5 13.5h1m-8.5 16h1m8 -25h1m-4.5 -10.5h1m7 24.5h1m-11.5 -23.5h1m-3 7.5h1m5.5 -12h1m1 0.5h1m-6 7h1m2 -5.5h1m-7.5 30h1m3 -8h1m-4.5 -18h1m-1 7h1m-0.5 1h1m-5.5 12h1m2 -16.5h1m1 -8h1m10.5 7.5h1m-9 3h1m-4.5 7h1m1 -9.5h1m-2 -4.5h1m2.5 -2h1m-10 6.5h1m6 0h1m-6.5 7.5h1m-1 -8h1m-3 4.5h1m7 6.5h1m-1.5 -3.5h1m-5.5 -7.5h1m-1 2.5h1m5 -3h1m-1.5 0.5h1m-6 7h1m0.5 -7h1m-4.5 -1h1m5 17.5h1m0 -15.5h1m2 0h1m-5 8.5h1m-8.5 -0.5h1m8 -7h1m-1 -2h1m-9 6h1m4 -5.5h1m2.5 7h1m3.5 3h1m-5 -5h1m-10 -6.5h1m7 -2.5h1m-8.5 1h1m0.5 -2.5h1m-1.5 20h1m2 -20h1m-4.5 -4h1m5 13.5h1m-3 -7.5h1m1.5 4.5h1m-5 -3.5h1m-0.5 19h1m-4.5 12.5h1m0 -22h1m1 -9h1m-4 19h1m1.5 -9.5h1m2 11.5h1m-2.5 -22h1m-5.5 21.5h1m0 -23.5h1m-1 19h1m1.5 -13.5h1m-3.5 5h1m3 -1h1m-0.5 -2h1m1.5 1.5h1m-2 2h1m-8 8.5h1m8.5 -3h1m-6 -13.5h1m2.5 -4h1m-9.5 19h1m-0.5 5.5h1m7.5 -3.5h1m-9 -1.5h1m4 -22.5h1m1.5 13.5h1m-5 11.5h1m-3 0.5h1m-2 -14h1m-0.5 6.5h1m-0.5 -8h1m2 -4.5h1m-3.5 21.5h1m13.5 -25.5h1m-9 8h1m-5.5 22h1m-2 -25h1m2 6h1m-3.5 -9.5h1m7 6.5h1m23 16h1m-30.5 -0.5h1m5.5 -6h1m-14.5 -6h1m25 11h1m2.5 2h1m1.5 -3.5h1m8.5 -6.5h1m-26.5 17.5h1m16.5 -27.5h1m-24 3h1m23.5 16.5h1m-28.5 -3h1m-6.5 -14h1m7.5 1.5h1m-9.5 11.5h1m37 1h1m-32.5 1.5h1m7.5 18h1m7.5 -40h1m-19.5 12.5h1m15.5 15h1m-13.5 -18.5h1m22 7h1m5.5 4h1m-21 -18h1m27 15h1m1 -14h1m-39 8h1m-5.5 10h1m14 10h1m-4 8h1m-5 -23.5h1m-1.5 12.5h1m42 3h1m-33.5 -10h1m14 -16h1m-31 4h1m30.5 -6.5h1m-20.5 35.5h1m-0.5 -12.5h1m-13.5 -6h1m28 0h1m-25.5 -8.5h1m2.5 -5h1m1.5 8.5h1m-4.5 15h1m-13.5 -21.5h1m18.5 23h1m3 -18.5h1m10 7.5h1m-25.5 -5.5h1m-8 -17h1m14 37h1m-3 -3h1m-6 -2h1m-2.5 -27.5h1m-0.5 27.5h1m15.5 1h1m12.5 -12.5h1m-21 -19.5h1m5.5 14h1m-24 -2h1m32 9.5h1m-1.5 -1.5h1m-24.5 32h1m17.5 -43.5h1m-23 0.5h1m8 26.5h1m9.5 -27.5h1m4.5 -1.5h1m-22 13h1m2 3h1m8.5 -6.5h1m-3.5 -17h1m16.5 38.5h1m-30.5 -20.5h1m-0.5 -14.5h1m-9.5 28h1m15 -13.5h1m-3.5 8.5h1m-15.5 -17h1m41 0h1m-48.5 17h1m9 -4h1m23 17h1m-20 -20.5h1m15 20h1m17.5 -20h1m-14 6h1m-20.5 -8h1m3 -6h1m-21.5 24.5h1m43.5 -2h1m-25 -21.5h1m-4.5 -0.5h1m-2.5 14h1m-2.5 -21.5h1m-3 8.5h1m3 0h1m25 -3h1m-22 3h1m-19.5 46h1m-2.5 -32.5h1m-1 21.5h1m0.5 3h1m3 -7h1m-9.5 25h1m-1 -49.5h1m1.5 3h1m2 12h1m4.5 12h1m-12.5 9.5h1m10 -14h1m-8.5 20h1m-2 -2h1m7 2.5h1m1 -15h1m-10 5h1m0 9h1m-5 -33.5h1m6.5 16h1m-7.5 12h1m3.5 -6h1m0.5 -2h1m-5.5 -10.5h1m3 -11.5h1m-4.5 38h1m2 -6.5h1m-6.5 -34.5h1m1 49.5h1m9 -51.5h1m-9.5 21h1m-2 -11h1m1.5 36.5h1m-1 -4.5h1m0.5 -12.5h1m-2.5 -27.5h1m3.5 12.5h1m-7.5 34h1m-1 -34h1m-2.5 -11h1m-1 10.5h1m-0.5 -7h1m7.5 12h1m-8.5 -9.5h1m-3.5 14.5h1m7.5 10h1m1.5 -3.5h1m-2.5 -10.5h1m-8.5 -6.5h1m56.5 7.5h1m18.5 9.5h1m-16.5 -23h1m-3 -15.5h1m-8.5 18.5h1m-8 -16h1m5 26.5h1m8.5 0h1m5 -5h1m0.5 12.5h1m-20.5 5h1m14.5 -19h1m-15.5 -8.5h1m-4 -15h1m7 32h1m15 -9.5h1m-28.5 4h1m17.5 -11.5h1m11 14.5h1m-27.5 -11.5h1m4.5 -2h1m9 28h1m-12 -25.5h1m8 5.5h1m-19 -9.5h1m15.5 26.5h1m-3.5 -38h1m23 48.5h1m-38 -48.5h1m10 -10.5h1m16 62h1m-5 -26h1m-12.5 10.5h1m2.5 -11h1m-9.5 -23.5h1m3.5 16.5h1m-4.5 -11.5h1m-5 20.5h1m31.5 -0.5h1m-15 16h1m9.5 4h1m-17.5 -19h1m10 13h1m-28.5 -39h1m23 12.5h1m-16.5 22.5h1m2.5 -32h1m-6.5 -4.5h1m5.5 46h1m-1 -18h1m2 -8.5h1m-11 -29.5h1m-1 23.5h1m21.5 33h1m-22.5 -50h1m-6.5 20.5h1m11.5 -22.5h1m4 35h1m5.5 -11.5h1m-0.5 -13h1m-16 -13.5h1m-1.5 14.5h1m25.5 37.5h1m-35 -35.5h1m6 21.5h1m-1.5 -9.5h1m13 27.5h1m8 -21.5h1m-4.5 22h1m-2.5 0h1m-5.5 -17.5h1m6 22.5h1m-35.5 -49h1m21 21h1m-8 12h1m-5 -45h1m11.5 20h1m-1 -5h1m-5.5 9.5h1m-11 -11h1m28 42.5h1m-9.5 -40h1m-12 -2.5h1m-18 2.5h1m34 37.5h1m-1.5 -22.5h1m-12.5 23.5h1m15 -4.5h1m-31 -37.5h1m16.5 20.5h1m5 12.5h1m-7.5 -15.5h1m11.5 26.5h1m-7 -3.5h1m-14.5 -51.5h1m-3.5 13h1m17 24h1m-33.5 -31h1m14 18.5h1m7 -11.5h1m-1.5 51h1m-3 -39.5h1m-17.5 -24h1m-0.5 7h1m10.5 20.5h1m13.5 -1h1m4 11.5h1m-6.5 10h1m-20 -23h1m23 17.5h1m-28.5 -14.5h1m8.5 -8h1m-4.5 11.5h1m5 20h1m-10 -30.5h1m-5.5 4.5h1m3.5 16.5h1m4.5 -43h1m-4 35h1m17.5 18.5h1m-24 -13h1m16 -20.5h1m-3 2.5h1m-1.5 23.5h1m6.5 4.5h1m-11.5 -7.5h1m16.5 -0.5h1m-24 0.5h1m3.5 -7.5h1m-5.5 11h1m-12 -44h1m11 38h1m5 -17h1m15.5 1.5h1m-27 -1.5h1m1 -8h1m-3.5 -2h1m-4.5 -1.5h1m-5.5 33.5h1m21.5 -5.5h1m6 5h1m-33.5 -31.5h1m10 -5.5h1m11 35h1m-16 5.5h1m-1.5 -12h1m3.5 -14.5h1m22.5 5.5h1m-16.5 10.5h1m12.5 7.5h1m-2.5 -2h1m-22 -50.5h1m-6.5 22h1m15.5 5h1m-10.5 -7.5h1m-2 16h1m-0.5 -15h1m3.5 24h1m3 -15h1m-8.5 -6.5h1m-5 -6.5h1m-11 -8.5h1m36.5 44.5h1m-17.5 2.5h1m13 6.5h1m4.5 -29h1m-21 0.5h1m-5 35.5h1m19 -58.5h1m-37.5 34h1m8.5 -27.5h1m5 3h1m-10.5 -9h1m16.5 4h1m5.5 27.5h1m-7.5 21h1m3.5 5h1m-3.5 -22.5h1m2 -38.5h1m-26 31h1m15.5 -13h1m-22.5 25h1m27.5 -14h1m-17.5 13h1m-5.5 -25.5h1m-7.5 -13.5h1m7.5 58h1m31 -12h1m-32.5 -39.5h1m10.5 -1h1m4 -1.5h1m0 52h1m-3.5 -3h1m-21 -21h1m7.5 26.5h1m-16.5 -34h1m16 33.5h1m-6 -20h1m9 -35h1m-16.5 -12h1m12 11h1m-5 24.5h1m26 19h1m-16 -37.5h1m10.5 -14h1" stroke="#111" stroke-opacity="0.33" stroke-width="1.1" fill="none"/>
</g>
<rect x="112.8" y="211.6" width="47.3" height="84.3" fill="none" stroke="#231f20" stroke-width="1.4"/>
<text x="165.3" y="235.3" font-size="15" font-weight="bold" textLength="32.6" lengthAdjust="spacingAndGlyphs" fill="#231f20" stroke="#231f20" stroke-width="0.35">32%</text>
<path d="M223 194.8H354.2V328" stroke="#8c8c8c" stroke-width="1.1" fill="none"/>
<path d="M223 194.8V331M220 328H354.2" stroke="#8c8c8c" stroke-width="1.1" fill="none"/>
<path d="M223.0 328v3.5M232.9 328v2M238.6 328v2M242.7 328v2M245.9 328v2M248.5 328v2M250.7 328v2M252.6 328v2M254.3 328v2M255.8 328v3.5M265.7 328v2M271.4 328v2M275.5 328v2M278.7 328v2M281.3 328v2M283.5 328v2M285.4 328v2M287.1 328v2M288.6 328v3.5M298.5 328v2M304.2 328v2M308.3 328v2M311.5 328v2M314.1 328v2M316.3 328v2M318.2 328v2M319.9 328v2M321.4 328v3.5M331.3 328v2M337.0 328v2M341.1 328v2M344.3 328v2M346.9 328v2M349.1 328v2M351.0 328v2M352.7 328v2M354.2 328v3.5" stroke="#9a9a9a" stroke-width="0.9" fill="none"/>
<path d="M223 328.0h-3.5M223 318.0h-2M223 312.1h-2M223 308.0h-2M223 304.7h-2M223 302.1h-2M223 299.9h-2M223 297.9h-2M223 296.2h-2M223 294.7h-3.5M223 284.7h-2M223 278.8h-2M223 274.7h-2M223 271.4h-2M223 268.8h-2M223 266.6h-2M223 264.6h-2M223 262.9h-2M223 261.4h-3.5M223 251.4h-2M223 245.5h-2M223 241.4h-2M223 238.1h-2M223 235.5h-2M223 233.3h-2M223 231.3h-2M223 229.6h-2M223 228.1h-3.5M223 218.1h-2M223 212.2h-2M223 208.1h-2M223 204.8h-2M223 202.2h-2M223 200.0h-2M223 198.0h-2M223 196.3h-2M223 194.8h-3.5" stroke="#9a9a9a" stroke-width="0.9" fill="none"/>
<g filter="url(#bl)">
<path d="M234 225h1m0 17h1m-8 -9h1m11 -2.5h1m-7 1.5h1m-6.5 -9.5h1m9 -4.5h1m-3 30.5h1m-12.5 -22h1m2 -2.5h1m-4.5 7h1m7 -4.5h1m8.5 -4h1m-7.5 26.5h1m14.5 -18h1m-28 0.5h1m2 -12.5h1m10 5.5h1m-11.5 28.5h1m5.5 -21h1m2.5 20h1m-1 -11h1m0 4.5h1m-8.5 -16.5h1m4.5 0h1m-6 17.5h1m-3.5 -23.5h1m-3 7.5h1m-1 7.5h1m3.5 3h1m2.5 -17h1m-2.5 11.5h1m0 -15h1m-7 14h1m-5 -4h1m0 -12h1m4.5 20.5h1m-7.5 -14.5h1m6.5 -3.5h1m11.5 9h1m-17.5 8.5h1m3.5 0.5h1m-9 6h1m2.5 -15.5h1m-3 13.5h1m10 -6.5h1m-12 -4.5h1m10.5 -12.5h1m-0.5 21h1m-2.5 1.5h1m6.5 -8.5h1m-8 -13h1m-1.5 28.5h1m-9 -17h1m4.5 7h1m0.5 -17.5h1m-8.5 9h1m14.5 3.5h1m-12.5 -4h1m4.5 -5h1m-9 6.5h1m-6 15h1m6 -14.5h1m4 9.5h1m-3 -0.5h1m-4.5 -16.5h1m-6.5 12.5h1m10 -10.5h1m-7.5 14.5h1m10.5 -19h1m-18 10.5h1m4 9.5h1m6.5 -13h1m12 15.5h1m25 12h1m-23 -33.5h1m6 4.5h1m8 -0.5h1m-18 22h1m5 -22h1m-13 17h1m-7 12.5h1m6.5 -29.5h1m-18.5 10.5h1m24.5 0h1m-14 -15.5h1m11 4.5h1m-21 12.5h1m13.5 -4.5h1m-1 3h1m18.5 3.5h1m-24 -1.5h1m2 3.5h1m-2.5 -9.5h1m-11.5 30h1m23.5 -21.5h1m-3.5 -22.5h1m-1 23.5h1m-17 -7.5h1m15 18.5h1m-16 6h1m-10.5 -29.5h1m17 1.5h1m18 -11.5h1m-25.5 -3h1m1 28h1m5 8.5h1m-19 -17.5h1m13.5 4.5h1m-17 20.5h1m1.5 -6.5h1m1 -36h1m1.5 9.5h1m17.5 30h1m-33.5 -15.5h1m31.5 -25.5h1m-21 15.5h1m0 8h1m3 1.5h1m25 11h1m22.5 17h1m-10.5 -34h1m1.5 27.5h1m-9.5 -19h1m2 -17h1m-9 -0.5h1m26.5 21.5h1m-12.5 -9h1m-4 38.5h1m-15 -58h1m20 17h1m-12 29h1m3.5 -6h1m-15 -39.5h1m35 36h1m-42 -28.5h1m9 26h1m14 -4h1m-2.5 -0.5h1m-3 -8h1m-7.5 20h1m12.5 -1h1m-13.5 1.5h1m-7 -35.5h1m-2 17h1m-2 -6.5h1m1 11h1m14 11.5h1m-13.5 20h1m-11 -52h1m11 36h1m0 -15h1m20 12.5h1m-18 -8.5h1m4.5 -30h1m7 55.5h1m3.5 -4.5h1m-30.5 -34.5h1m20 9.5h1m-11.5 38h1m-2.5 -18h1m-8 -42h1m-0.5 21h1m-3.5 -17.5h1m-8.5 -6h1m15 22.5h1m7.5 6.5h1m-1 -26.5h1m-21.5 3h1m11.5 17.5h1m-10 -23h1m6.5 36h1m1.5 -7.5h1m-11 -25h1m6 42h1m-2.5 -47.5h1m-14.5 13h1m19.5 9.5h1m-2.5 22.5h1m-3 18h1m-6.5 -33.5h1m3.5 -13h1m-20.5 1.5h1m16 -17.5h1m-2 46h1m-1 -24.5h1m15.5 28h1m1 -16h1m-17.5 14h1m-12.5 -2.5h1m13.5 -16.5h1m3 23h1m7 -11.5h1m-22 -13.5h1m-11 -13h1m33 35h1m0.5 -8h1m1.5 -41h1m1.5 40.5h1m-35 -29h1m26.5 33.5h1m-15.5 -8h1m9 -13h1m0.5 -6h1m-17.5 3h1m13.5 33h1m-15.5 -27h1m-3.5 -21.5h1m-13.5 6h1m17.5 30.5h1m11 -11.5h1m-27.5 -12h1m12 -18h1m-18.5 14h1m36.5 39.5h1m-38.5 -18.5h1m31 -3h1m-9.5 4h1m-3.5 8h1m-7 -11.5h1m24.5 -7.5h1m-18 -11.5h1m3.5 33h1m-10.5 -10.5h1m12 -17.5h1m-6 36.5h1m-6 -27h1m-60.5 32h1m70.5 -55h1m-22 38.5h1m-33 -35.5h1m-4 14.5h1m-1.5 14h1m4 11.5h1m-14.5 -33h1m41 -15.5h1m22 13h1m-48 -14.5h1m-19.5 21h1m64 -5.5h1m-42.5 6.5h1m-13.5 -22h1m7.5 60h1m14 4h1m-8.5 -19.5h1m17.5 20.5h1m-39.5 -27.5h1m51 -15h1m-53 25h1m62.5 1.5h1m-37.5 -4.5h1m11.5 -20h1m26.5 27h1m-22.5 -31.5h1m-59.5 4.5h1m25.5 15.5h1m-9.5 -3h1m45 10.5h1" stroke="#111" stroke-opacity="0.33" stroke-width="1.1" fill="none"/>
<path d="M238 227.5h1m-11 -1.5h1m1.5 10h1m3 -12h1m0 1.5h1m1 4.5h1m0.5 0.5h1m0.5 -9h1m-7 16h1m-6 -4.5h1m0.5 0.5h1m0.5 -2h1m15.5 23h1m-19.5 -22.5h1m5 17h1m-11.5 -17h1m7 3h1m-2 -1h1m-1 -0.5h1m-5 14.5h1m3 -22h1m1.5 16.5h1m-5.5 -8h1m13 -17h1m-20 20h1m0.5 0.5h1m0.5 -7h1m6.5 -5.5h1m0.5 6.5h1m-9 -3h1m-5.5 -1h1m3 -1h1m8 2.5h1m-6.5 0h1m-5.5 -7.5h1m-2 34.5h1m-2.5 -31h1m1 13h1m1.5 5h1m15.5 1.5h1m-18 -14h1m0 -7.5h1m-4.5 -4h1m5.5 9h1m-2 19.5h1m-8 -9.5h1m-0.5 -4.5h1m8 2.5h1m-10.5 -1h1m-2 -12h1m3.5 9.5h1m15.5 -3h1m-14.5 20h1m-1 -10.5h1m2.5 -17h1m0.5 -5h1m-12 17h1m2.5 -6.5h1m9.5 -2.5h1m-7 -1.5h1m-3.5 9.5h1m-2.5 -14.5h1m-1.5 21h1m14.5 -6h1m-11 12.5h1m-11 -28.5h1m-1 29.5h1m13.5 -17h1m-15 2h1m6.5 -1.5h1m-7.5 -6.5h1m8 9.5h1m4 -8.5h1m-0.5 5h1m-10 -8h1m-8 12h1m4.5 15h1m3.5 -26.5h1m2.5 -0.5h1m-8 -3h1m-7 19h1m1 -9.5h1m7.5 4h1m18.5 17h1m-30 -7.5h1m3.5 16h1m26 -26h1m-14.5 39.5h1m-7 -33.5h1m1.5 6.5h1m26.5 -17h1m-12 18.5h1m-6 -10h1m11.5 8h1m-33 16h1m2 -3h1m-2 -8.5h1m22.5 -18.5h1m-19.5 6.5h1m-2 6h1m12 18h1m-7 -26h1m-20.5 2.5h1m42.5 5.5h1m-16 15.5h1m-17 -39.5h1m-8 22.5h1m7 6.5h1m7.5 -9h1m-4 5h1m13 1.5h1m-20.5 -2h1m27.5 -3.5h1m-23 -15.5h1m18.5 42.5h1m-17.5 -33h1m-25 19.5h1m40.5 -13h1m-23 -11.5h1m17.5 -9.5h1m2.5 12.5h1m-39.5 6.5h1m11.5 27.5h1m-7.5 -48.5h1m5 22.5h1m-7 -2h1m4.5 22.5h1m19.5 -17.5h1m-24 12h1m-7 15h1m11 -27h1m-5 14h1m-15.5 -20h1m21.5 11h1m-6 -0.5h1m14 37h1m42.5 -28.5h1m-14.5 -9.5h1m0 22.5h1m8 11h1m-6.5 -22h1m-7.5 -9h1m5 0h1m11 25.5h1m-13 5.5h1m3 -4h1m3.5 -2h1m-33.5 -49.5h1m19 27h1m-0.5 -1h1m7.5 21h1m-14 -32.5h1m2 -7.5h1m-5 9h1m11 -3h1m-21 16.5h1m29.5 17h1m-25.5 -19.5h1m-1.5 -6.5h1m18 7h1m-9 -2h1m-12.5 36h1m19.5 -24.5h1m-13 -38h1m-14.5 40.5h1m7 -25.5h1m2.5 43.5h1m3 -26h1m8.5 21.5h1m1 1.5h1m-18.5 -32.5h1m-1.5 37h1m1 -58.5h1m19 42h1m-25 -0.5h1m22.5 1h1m-21 -21.5h1m-16 -22.5h1m32.5 41.5h1m-20 -44.5h1m-6.5 29.5h1m9.5 19.5h1m20 -5.5h1m-22.5 -41h1m-18.5 10.5h1m6.5 -6.5h1m8 34h1m-18.5 -22.5h1m19 -6h1m-18 -12.5h1m21 13h1m-6.5 32.5h1m-24 -34.5h1m8 7h1m11.5 20.5h1m18.5 -3h1m-1 11h1m-39.5 -18.5h1m41 12h1m-46.5 -6.5h1m7.5 -11.5h1m3.5 -10h1m-11.5 27h1m22 -1.5h1m4 0.5h1m-8.5 21h1m2.5 0.5h1m-9.5 -33h1m12.5 31h1m-12 1h1m8.5 -9.5h1m-12.5 -41.5h1m4 34h1m-7.5 20.5h1m10 -37.5h1m1 11.5h1m-72 21h1m38 -32h1m42 8.5h1m-30 27.5h1m12 -54h1m19.5 43.5h1m-66 -51h1m12.5 30h1m24.5 -26h1m-8 21h1m-45 41.5h1m40 -41h1m-39.5 45h1m-9 -22h1m75.5 1h1m-73.5 18h1m45.5 -32.5h1m-44 37h1m3.5 -25h1m31 -44h1m-16 37h1" stroke="#111" stroke-opacity="0.33" stroke-width="1.1" fill="none"/>
<path d="M230 231.5h1m2 14.5h1m11 -13h1m-17.5 1.5h1m-5 -16.5h1m5.5 10.5h1m13 -6.5h1m-16.5 10h1m-1 -4h1m-4.5 4.5h1m-1.5 -1h1m2 3.5h1m-4 -13.5h1m-2 -3.5h1m2.5 20h1m3 -20h1m8 33.5h1m-8.5 -14.5h1m0.5 -16h1m-1.5 16.5h1m3 0h1m-3 -3.5h1m-10.5 -0.5h1m0.5 -9.5h1m5 0.5h1m-8.5 2h1m12.5 -4.5h1m-11.5 -4h1m-1.5 24h1m2.5 -11.5h1m7 -12h1m-18 15h1m9.5 -5h1m-5 18.5h1m-6 -7.5h1m-1.5 -4h1m14.5 2.5h1m-16.5 -13h1m13.5 9h1m0.5 15h1m-10.5 -30h1m-6.5 10h1m4.5 12h1m-6.5 1.5h1m-1 -17h1m0.5 -3h1m13 9.5h1m-11 6.5h1m6.5 4.5h1m-13 -24h1m-1 17.5h1m9 -9.5h1m3 -8.5h1m-8 26.5h1m0.5 -11.5h1m7.5 9h1m-4 -10h1m-6.5 8h1m-1.5 -10h1m-6.5 -0.5h1m-5 -6h1m10 18.5h1m18.5 -3.5h1m-27 7h1m-3.5 -16.5h1m6.5 2.5h1m2.5 10h1m-9.5 -19h1m13.5 14.5h1m-18 -3.5h1m-2 -0.5h1m-2 4.5h1m7.5 0.5h1m-2.5 -4.5h1m-6.5 -3h1m-3 14.5h1m31 -10.5h1m-23 6.5h1m33.5 -22.5h1m-21 41h1m3 -27.5h1m-23 -4.5h1m-4 -6.5h1m34.5 -4h1m-13 11h1m-10 22h1m-6 -9h1m12.5 -7.5h1m29.5 16h1m-42 10.5h1m3 -13.5h1m3 22h1m-14.5 -37.5h1m29 13h1m-9.5 1.5h1m-15 -11.5h1m7.5 16h1m-5 4h1m8 -28h1m10 14h1m-37.5 19h1m26 -13h1m-0.5 0.5h1m-33.5 -4h1m18.5 12h1m-18.5 -8.5h1m29 -26h1m-11.5 30h1m19.5 -10h1m36 -2h1m-8 43.5h1m0.5 -9h1m-10.5 -39.5h1m-2.5 -2.5h1m-18.5 -6h1m0.5 41.5h1m-6 -37.5h1m20.5 53.5h1m8 -30h1m-5 8h1m-10 -14.5h1m2 14.5h1m-12 -11.5h1m5.5 6.5h1m5 -16h1m-15 -15h1m4 8h1m10 15h1m-24 -22h1m33 15h1m-32.5 9h1m-3 -21h1m26 45h1m-21 -49h1m9.5 31h1m-6.5 -8h1m4 -28h1m20.5 36h1m-24 1.5h1m-9 -19h1m31.5 25.5h1m-41.5 -37.5h1m-3.5 8h1m7 9h1m29.5 19h1m-16 -33h1m-4.5 30.5h1m3 -5h1m12 3h1m-33.5 -33h1m-2.5 7.5h1m36 30h1m-24 -14h1m-17.5 -13.5h1m33.5 45.5h1m-17 -12.5h1m22.5 -8h1m-11 20.5h1m-20 -40.5h1m11.5 28h1m11.5 -22h1m-26 -17.5h1m7 6h1m-2 10h1m-12 -11.5h1m30 39.5h1m-9.5 2.5h1m5 -7.5h1m-35 -35h1m6 3h1m25 -14h1m-6.5 8h1m4 41.5h1m-27.5 -29h1m2.5 -9h1m-7 13h1m20.5 1h1m4 11.5h1m3.5 12h1m-30 -8h1m-4 -1.5h1m16 -42h1m-6 21h1m16 -1.5h1m-18 38h1m-2.5 -21h1m4.5 -7.5h1m-19 -12h1m20 30.5h1m18 7.5h1m-3 -21h1m-14 -23h1m-9 35h1m-1.5 -0.5h1m20.5 7h1m-27.5 2h1m18.5 -4h1m-29.5 -38.5h1m6.5 40.5h1m28 -3h1m-20.5 -18.5h1m-35 -31h1m-5 50.5h1m23 -49.5h1m-15.5 52.5h1m-24 -44h1m17 16.5h1m34.5 -4.5h1m-44.5 -9.5h1m23.5 25h1m9 22h1m-55 6h1m54.5 -19h1m14 22h1m-27 -56.5h1m-33 -1h1m12.5 46.5h1" stroke="#111" stroke-opacity="0.33" stroke-width="1.1" fill="none"/>
<path d="M237.5 226.5h1m-13 7h1m0 -1.5h1m11.5 10.5h1m-5.5 -20.5h1m8.5 17h1m-4.5 11h1m5 -13h1m-11 7h1m-2 -19.5h1m-12 7h1m5 9h1m-2 -13h1m9.5 27.5h1m-7 -7.5h1m6 -27h1m-10 6.5h1m-1.5 17h1m5 -15h1m4 0h1m-6 -7.5h1m3 0h1m-18 -2h1m-1.5 -1h1m9 17h1m-9.5 -18h1m11 15h1m-5.5 -2.5h1m-6.5 3.5h1m17.5 -6h1m-22 6h1m19 6h1m-8.5 3.5h1m-8 -22.5h1m-5 3.5h1m2 1.5h1m-5 -4.5h1m9 7.5h1m-1 9h1m-5 -10h1m-0.5 3h1m2.5 -2h1m-7.5 -6h1m6.5 13.5h1m7 -1h1m-17.5 -7.5h1m14 1.5h1m-12 -5.5h1m-6 -1h1m11.5 11h1m0.5 -4h1m-7.5 8h1m-6 -10.5h1m1.5 4.5h1m-1 -8.5h1m-8.5 1.5h1m2.5 -4.5h1m2.5 1h1m-7 5.5h1m16.5 3h1m-10 7h1m-3.5 -11.5h1m-6 16h1m10 -21h1m-10.5 9.5h1m19 14h1m-20.5 -1.5h1m2 -14.5h1m-8 8.5h1m11.5 -7h1m-6 11.5h1m5 -12h1m-9 -9.5h1m4 8.5h1m4.5 14h1m-7.5 -18h1m11 15h1m-16.5 -2h1m17 -15.5h1m-0.5 16h1m14 2.5h1m-24.5 -1.5h1m23 0h1m-19 -13h1m8.5 17.5h1m7 -19.5h1m-8 3.5h1m-28.5 13.5h1m15 -10h1m-12 15.5h1m-0.5 9h1m1 -9.5h1m-14 -18.5h1m23.5 14.5h1m-4 16.5h1m-2 -25.5h1m19.5 -6.5h1m-28 0.5h1m4.5 20.5h1m27 -24h1m-6.5 11.5h1m-34.5 2.5h1m23.5 -17.5h1m-10 39h1m-4.5 -13h1m6 8.5h1m-3 -21.5h1m-15.5 40.5h1m6 -27h1m-1.5 6h1m9.5 -18.5h1m-28.5 30h1m40 -32.5h1m-40.5 -1.5h1m18 11.5h1m6.5 18.5h1m0 -12h1m14 -23.5h1m-3 22h1m6.5 3.5h1m19 -12h1m4 26.5h1m-8.5 -21h1m-16 -18h1m1.5 13.5h1m31 28h1m-22.5 -18h1m14.5 27h1m-12 -21.5h1m7 -18.5h1m-20 35h1m2 -27h1m-13.5 -11h1m2.5 3h1m-12 13.5h1m29 22h1m-14 -1h1m-9 -27h1m11 45.5h1m2.5 -21h1m4.5 -8.5h1m-14 -14h1m-13 -3.5h1m-3.5 -10h1m38 25h1m-29.5 -4.5h1m10 22h1m0 -37.5h1m-8.5 2.5h1m1.5 9.5h1m-1 -10h1m19 28.5h1m-17 -12.5h1m13.5 6h1m-25 -35.5h1m1 38h1m26.5 10.5h1m-17.5 -28h1m5.5 35h1m-10.5 -39h1m-0.5 6.5h1m-25.5 -21.5h1m2.5 7.5h1m28 27h1m-19.5 -8.5h1m27.5 19.5h1m-13.5 -19h1m5.5 4h1m6 15.5h1m-25 11.5h1m23.5 -17.5h1m-22 -34h1m-20.5 15.5h1m26.5 15.5h1m-22 -28.5h1m19.5 32h1m6.5 -6.5h1m-26 8.5h1m7.5 -35.5h1m12.5 42h1m-32 -26.5h1m32.5 23.5h1m-28.5 -48h1m13 47h1m-21.5 -35.5h1m31 41.5h1m7.5 -9h1m-26 -15h1m11 8h1m-23 -23h1m-6.5 20.5h1m19 4.5h1m4 19h1m-21.5 -39h1m5 8.5h1m-14 -22.5h1m23 41h1m-12 -13h1m24.5 14.5h1m-33.5 -30h1m25.5 37.5h1m-15 -39h1m-17 -13h1m10.5 12.5h1m-7.5 35.5h1m31.5 -20.5h1m-48 32h1m43.5 -1.5h1m-6.5 -47h1m-0.5 26h1m-42 11h1m29.5 -17.5h1m-4.5 -2.5h1m-37 27.5h1m17.5 -61h1m-17 51.5h1m19.5 -49.5h1m27 32h1m-2.5 19h1m-49.5 -14h1m28.5 -10.5h1m15.5 -0.5h1m-12.5 23h1m-8 -15h1m-33.5 -8h1m58.5 -7.5h1" stroke="#111" stroke-opacity="0.33" stroke-width="1.1" fill="none"/>
<path d="M225 220h1m4 18.5h1m19.5 -14h1m-13 28h1m-7.5 -13.5h1m-6.5 0.5h1m9.5 -17h1m12.5 0h1m-18.5 15.5h1m1.5 -17.5h1m-11.5 9h1m14 13.5h1m-14.5 5h1m-3.5 -26.5h1m11.5 17.5h1m-6.5 -17h1m6.5 2h1m1 2h1m-7 11h1m-4.5 7h1m1.5 -7h1m-4.5 -12h1m-1 10h1m-4.5 -3h1m-2 -2.5h1m3.5 6h1m11.5 13.5h1m-13.5 -13h1m-2.5 0h1m8 -2.5h1m-13.5 19.5h1m20.5 -34.5h1m0 30h1m-17 -21h1m7.5 18h1m-8.5 -16h1m0 3.5h1m1 -1.5h1m-12.5 14h1m10 6h1m0.5 -17.5h1m-6.5 -5.5h1m7.5 17h1m-3.5 -18.5h1m-2.5 9.5h1m-4 10.5h1m-7 -11h1m7.5 -13.5h1m-2 12.5h1m3.5 -12.5h1m-2.5 4h1m-10.5 -1h1m1 18h1m6 -17.5h1m-6.5 10.5h1m-7.5 0h1m8.5 -11.5h1m-7.5 14h1m2 7h1m-3 -4.5h1m5 -2h1m-7 -18h1m16.5 3h1m-2 5h1m-16 2.5h1m8 0.5h1m-1.5 1.5h1m7.5 21.5h1m-13.5 -35h1m-8 7.5h1m9 34h1m7 16.5h1m38 -41h1m-40.5 -5h1m-2.5 27.5h1m-15.5 -25h1m3 5.5h1m7.5 10.5h1m-11.5 -5.5h1m18 -11.5h1m11 24.5h1m-1 0h1m-27.5 -16h1m40.5 -12.5h1m-10 10.5h1m-11 14h1m0 2.5h1m-12 -8.5h1m26 8.5h1m-41 -29.5h1m-4.5 11.5h1m12.5 18h1m17 -36.5h1m-38.5 37h1m10 -22h1m-5 0.5h1m16.5 20.5h1m11.5 -23h1m-15.5 3h1m-21.5 -5.5h1m-3.5 -8.5h1m31 50h1m-5 -32.5h1m11 -15.5h1m-12.5 3.5h1m8.5 10.5h1m-40 28.5h1m11 -47h1m7 5.5h1m16 7.5h1m45.5 42h1m-17 -22.5h1m-18 -23.5h1m1 27.5h1m28 6h1m-19 -19.5h1m2.5 -9.5h1m-1 -10h1m-6.5 26h1m2.5 -26h1m-11.5 0.5h1m6.5 25.5h1m20.5 15.5h1m-29.5 -40h1m12 56.5h1m11 -30.5h1m0 5.5h1m-8 24h1m-6 -17.5h1m-21.5 -42h1m24 37.5h1m1 18h1m-1 -28h1m-2.5 3h1m-28.5 -4.5h1m6 -14h1m25 37.5h1m6.5 -2h1m-37.5 -26.5h1m10 4h1m15.5 1h1m-18.5 13.5h1m14.5 -1h1m-5.5 5.5h1m-13.5 -9.5h1m-9.5 -34.5h1m18 28h1m-27.5 -24.5h1m19 54h1m3.5 4.5h1m-9.5 -35.5h1m3 -22.5h1m-1 4.5h1m-15.5 7h1m3.5 16h1m6 29.5h1m14 -26h1m-12.5 1.5h1m-6.5 -3h1m0.5 -12h1m9.5 2h1m4 4h1m-11 -15.5h1m-15.5 -11.5h1m3.5 17.5h1m23 31h1m1 7.5h1m-20 -43h1m11.5 20.5h1m-1.5 22.5h1m-23 -30h1m12.5 24.5h1m-22.5 -32.5h1m11 -9h1m27 29h1m-22.5 -20.5h1m14.5 40.5h1m-29 -27h1m1 -12h1m12 13h1m-4.5 18h1m12 -1.5h1m-23.5 -36h1m16 16.5h1m-6.5 -9h1m-3.5 -14.5h1m-6.5 11h1m21.5 30.5h1m-7.5 -21h1m-17 -18h1m-12.5 15.5h1m23.5 24.5h1m-16.5 -5h1m20 8h1m-0.5 -5h1m1.5 7h1m-62 -48h1m69.5 65.5h1m-61.5 -61h1m44 -5h1m-43 49.5h1m51 -57h1m-53.5 57h1m6.5 -21.5h1m-29 -24.5h1m60.5 38h1m-21 22h1m-7.5 -67h1m-6 9h1m35 5.5h1m-21 52h1m-20.5 -68h1m-30.5 -2.5h1m0.5 35.5h1m80.5 18h1m-79 -13h1m19.5 -38.5h1m21.5 27.5h1m32 -5h1m-38.5 -21.5h1m-5 7h1m30 22h1m-62.5 19.5h1m64 -7h1" stroke="#111" stroke-opacity="0.33" stroke-width="1.1" fill="none"/>
</g>
<rect x="265.4" y="211.6" width="47" height="83.7" fill="none" stroke="#231f20" stroke-width="1.4"/>
<text x="317.3" y="235.3" font-size="15" font-weight="bold" textLength="31.7" lengthAdjust="spacingAndGlyphs" fill="#231f20" stroke="#231f20" stroke-width="0.35">44%</text>
<path d="M375.7 194.8H508.3V328" stroke="#8c8c8c" stroke-width="1.1" fill="none"/>
<path d="M375.7 194.8V331M372.7 328H508.3" stroke="#8c8c8c" stroke-width="1.1" fill="none"/>
<path d="M375.7 328v3.5M385.7 328v2M391.5 328v2M395.7 328v2M398.9 328v2M401.5 328v2M403.7 328v2M405.6 328v2M407.3 328v2M408.9 328v3.5M418.8 328v2M424.7 328v2M428.8 328v2M432.0 328v2M434.6 328v2M436.9 328v2M438.8 328v2M440.5 328v2M442.0 328v3.5M452.0 328v2M457.8 328v2M462.0 328v2M465.2 328v2M467.8 328v2M470.0 328v2M471.9 328v2M473.6 328v2M475.1 328v3.5M485.1 328v2M491.0 328v2M495.1 328v2M498.3 328v2M500.9 328v2M503.2 328v2M505.1 328v2M506.8 328v2M508.3 328v3.5" stroke="#9a9a9a" stroke-width="0.9" fill="none"/>
<path d="M375.7 328.0h-3.5M375.7 318.0h-2M375.7 312.1h-2M375.7 308.0h-2M375.7 304.7h-2M375.7 302.1h-2M375.7 299.9h-2M375.7 297.9h-2M375.7 296.2h-2M375.7 294.7h-3.5M375.7 284.7h-2M375.7 278.8h-2M375.7 274.7h-2M375.7 271.4h-2M375.7 268.8h-2M375.7 266.6h-2M375.7 264.6h-2M375.7 262.9h-2M375.7 261.4h-3.5M375.7 251.4h-2M375.7 245.5h-2M375.7 241.4h-2M375.7 238.1h-2M375.7 235.5h-2M375.7 233.3h-2M375.7 231.3h-2M375.7 229.6h-2M375.7 228.1h-3.5M375.7 218.1h-2M375.7 212.2h-2M375.7 208.1h-2M375.7 204.8h-2M375.7 202.2h-2M375.7 200.0h-2M375.7 198.0h-2M375.7 196.3h-2M375.7 194.8h-3.5" stroke="#9a9a9a" stroke-width="0.9" fill="none"/>
<g filter="url(#bl)">
<path d="M386.5 265h1m-10.5 -42h1m15 25.5h1m15 37.5h1m-1 -42h1m-16.5 -14.5h1m16.5 29.5h1m-5 -31h1m-4 11.5h1m-11 0.5h1m1.5 6.5h1m-13 21.5h1m9 -7.5h1m-3 -19.5h1m1 21.5h1m-15 -3.5h1m8 -24h1m10.5 -7.5h1m-20.5 26.5h1m6.5 -8h1m22 23.5h1m-30.5 -14.5h1m15.5 -8h1m13 -9.5h1m-4 6h1m-31 10.5h1m19 9.5h1m-15 -35.5h1m35 8h1m-36 15h1m-5 -3.5h1m2 -25h1m11 27.5h1m0.5 -12.5h1m11 -12h1m-32 37h1m2.5 -19h1m-2.5 22h1m21 -30.5h1m-14 14h1m0 -4.5h1m-12.5 4h1m2 22h1m25 -33h1m-24 -11h1m13.5 24.5h1m-17 -19h1m-4.5 9h1m12.5 -5h1m17 4.5h1m5 16h1m-17.5 5h1m17.5 -22h1m-15.5 -8.5h1m-25.5 5.5h1m-7 10.5h1m24.5 26.5h1m2.5 -21h1m-6 -16h1m2 -8.5h1m7 38.5h1m-20.5 -10.5h1m21.5 -13.5h1m-9.5 30h1m-18 -26h1m-10 -1.5h1m7 -12h1m15.5 54h1m-25 -59.5h1m11.5 32.5h1m27.5 5.5h1m-39 -16.5h1m10 -0.5h1m11 -5h1m-18.5 0.5h1m6.5 21.5h1m6 -7h1m-2 -8.5h1m-23 17.5h1m19.5 -45h1m4 47.5h1m17.5 -17.5h1m-35.5 -3h1m19.5 19h1m-18 4.5h1m26.5 -40.5h1m-13 11.5h1m-13.5 1.5h1m-11 -13h1m1 20.5h1m4 -29.5h1m5.5 2.5h1m1.5 31.5h1m-23.5 -15.5h1m9 19h1m15 -11.5h1m0 4h1m-31.5 16h1m22.5 -32.5h1m14.5 27.5h1m-28.5 -26h1m14 14h1m-21.5 -19h1m6 25h1m1 -22h1m-3 21.5h1m-1.5 -16.5h1m-6.5 -2.5h1m23 31h1m-25 -13.5h1m19.5 19.5h1m3 -38.5h1m-14.5 7.5h1m3.5 6h1m2.5 6.5h1m-4 5.5h1m-17.5 0h1m-4 -32h1m34.5 16h1m-35 1.5h1m17.5 4.5h1m-20 -16h1m2.5 3h1m27 12h1m4.5 -17h1m-36 37h1m-1.5 -20h1m-5 -6h1m18.5 -21h1m-20.5 44.5h1m20 -18h1m-2 14.5h1m-6.5 -10.5h1m12 -14h1m-19 -9.5h1m3.5 1h1m7 26.5h1m-14 -20h1m1.5 19.5h1m-9 -7.5h1m-4.5 0.5h1m38 -9.5h1m-24 7h1m-13.5 -4h1m-1.5 12.5h1m14 -10.5h1m-7 16h1m-1 -1.5h1m13 -38h1m-8.5 13h1m-20 12h1m34 39h1m-16 -56.5h1m-7 40.5h1m-11 -44.5h1m26 1h1m-19.5 40.5h1m10.5 -7.5h1m-25 24.5h1m1.5 -17.5h1m6 0h1m10 5h1m11.5 8h1m-3 -19.5h1m-5 -18h1m-27.5 38.5h1m36.5 -54h1m-19 25.5h1m-14.5 -25.5h1m35 -1.5h1m-21.5 10.5h1m17.5 30.5h1m-29.5 -34h1m14.5 6h1m4 13.5h1m-20.5 0h1m9.5 22h1m-4 3.5h1m-8 -10.5h1m7 0h1m-19.5 -33h1m4 39.5h1m33.5 -36h1m-1.5 10h1m-6 -7h1m-36.5 -15h1m9.5 60.5h1m-3.5 -17.5h1m-11 -34h1m27.5 46.5h1m8.5 6.5h1m-11 -53h1m-17 26.5h1m-4.5 -33h1m2.5 2.5h1m24.5 24h1m-30.5 35.5h1m28 -61.5h1m2 20.5h1m2.5 28.5h1m-44 -25h1m5.5 37.5h1m24 -48h1m-12.5 -21h1m18.5 23h1m-11.5 -5h1m4 46.5h1m-24.5 -46.5h1m16 -18h1m-24.5 15h1m28.5 51h1m1.5 -43h1m-32.5 38.5h1m-4.5 -57.5h1m35 13.5h1m2 9.5h1m-21.5 13.5h1m1 -30.5h1m20.5 26.5h1m-30 -6h1m0 34h1m27 -51h1m-11 46h1m-27.5 -14h1m15.5 -6h1m11.5 -24h1m-14.5 5h1m-17 3.5h1m-0.5 -21.5h1m36.5 55.5h1m-2 2.5h1m-34 -12.5h1m14 -19.5h1m-19 -27.5h1m1.5 42h1m-1 21.5h1m17 -34.5h1m-28.5 -6h1m28 -22h1m-19.5 67.5h1m1.5 -21h1m4.5 -4.5h1m1.5 8h1m-7.5 11.5h1m12 -38h1m-10 17.5h1m-16 -34.5h1m17.5 49.5h1m11.5 -26.5h1m-21 -4.5h1m-15.5 28h1m16 -47h1m23.5 39h1m28.5 8h1m-18.5 -22.5h1m22 11.5h1m-6 18.5h1m-19 -16.5h1m2 0.5h1m13.5 -9h1m4 28.5h1m-7 -4.5h1m-9 -28h1m13 9.5h1m-19 -6h1m22 28.5h1m-9 -10h1m-10.5 -9.5h1m-14 0.5h1m12.5 5h1m11.5 2h1m-10.5 -25.5h1m-8.5 -8.5h1m-1 1h1m23 46.5h1m-2.5 -22.5h1m-24 21.5h1m5 -23.5h1m-1 4h1m-0.5 -11h1m10 17.5h1m7 -3h1m-30.5 -13.5h1m23 24h1m-27 -23h1m11.5 9h1m-3 -0.5h1m7.5 -6.5h1m-13 0h1m7.5 30h1m12.5 -9h1m-22.5 -31h1m8.5 -4h1m1 49h1m-14 -49h1m19.5 21.5h1m-11.5 4h1m-16 -21.5h1m9.5 23.5h1m-10.5 -24h1m15.5 45.5h1m2.5 -32h1m-4.5 16h1m4.5 11h1m-21 -20h1m21 26h1m2.5 -13h1m-1 0h1m-22 -26h1m0.5 -4.5h1m7.5 30h1m-9.5 -39.5h1m-7 15.5h1m13 7.5h1m2.5 19h1m-1.5 -9.5h1m6.5 -19h1m-3 35h1m2 -20.5h1m-21.5 9.5h1m3 -4h1m1.5 -10.5h1m-13 -2h1m17.5 16.5h1m-24 -23h1m13 6.5h1m-12.5 -26h1m15 35.5h1m-2.5 10h1m3.5 4h1m4.5 -3h1m-21.5 -21h1m2.5 1.5h1m11 5h1m-17.5 -7h1m-3 -6.5h1m21.5 11h1m-21.5 -10.5h1m17.5 16h1m3.5 -3.5h1m-1 17h1m-6.5 -36.5h1m-11.5 44h1m3.5 -16.5h1m1.5 4.5h1m-9 -15.5h1m-11 9.5h1m23 10.5h1m-11 7h1m7 -11.5h1m2 7h1m-7 -15.5h1m-3 10.5h1m6 -20h1m-4 25.5h1m4.5 -15h1m-4 -8.5h1m-24 -18h1m9 30h1m10.5 -12h1m-1 3.5h1m-2.5 10.5h1m-5 -33h1m-4.5 16h1m-5 9.5h1m-6 19h1m-10 -44h1m23 10h1m-3 11.5h1m-8.5 5.5h1m12 5h1m-9 -13h1m-1 17h1m-10 -14h1m10.5 10h1m-15.5 -17h1m5 4.5h1m-1.5 -8.5h1m-5.5 -1.5h1m7 0h1m3.5 22.5h1m1.5 7.5h1m-7 -14h1m-10 -1h1m22.5 15.5h1m-31 -52h1m12.5 44.5h1m-1.5 -11h1m2 2h1m-2 -3.5h1m-3.5 3h1m-7.5 -8h1m5.5 23.5h1m9 -8.5h1m-14.5 -10h1m20 18h1m-6 -17.5h1m-9 7.5h1m12.5 -34.5h1m-7 50.5h1m6 -21h1m-12 17.5h1m-11.5 -30h1m6 10.5h1m8 -0.5h1m1 15h1m0.5 -9.5h1m-19 1h1m15 -4h1m-6.5 -10.5h1m3.5 34.5h1m-22.5 -34h1m22 35h1m-29 -42h1m13 21h1m5.5 13h1m-8.5 -20h1m1.5 9h1m18 2h1m-21 -1.5h1m9.5 10h1m-12.5 -12h1m0 -6h1m13 -4h1m-1 0.5h1m-22 4h1m20.5 -2h1m-11 -5h1m1.5 -21.5h1m-10 24h1m6.5 13.5h1m-4.5 -3.5h1m-10 -15.5h1m11.5 3h1m0 25h1m-4 -28h1m9 2.5h1m-1 -10h1m0.5 39h1m-6 -44h1m-14.5 10.5h1m2.5 -9.5h1m2.5 9.5h1m-10 16h1m11.5 -6h1m-7.5 -16.5h1m-1 9h1m13.5 17h1m-16.5 -3h1m6 -11h1m1 19h1m0 5h1m2 -15h1m-7.5 -2.5h1m6 15h1m-5.5 -9h1m-8 -11h1m-11.5 -13.5h1m27 28h1m-11.5 16.5h1m7.5 -16.5h1m-18 -14h1m-3 16.5h1m13 4h1m-8 2.5h1m-4.5 -36h1m14 12.5h1m-15.5 13h1m1 -17h1m1.5 30.5h1m5.5 -10h1m-13.5 -30.5h1m-9 2.5h1m18 30.5h1m0 -2.5h1m-10.5 -3h1m-2 -21h1m-1.5 -1h1m-7.5 -2.5h1m-2.5 -8h1m13 -4.5h1m-16 8h1m8.5 19h1m11 15.5h1m-23.5 -33h1m-2.5 9.5h1m3.5 -12h1m3.5 24h1m-19 -23h1m28 24h1m-31.5 -28.5h1m21.5 50.5h1m10 -15.5h1m-1 3.5h1m-0.5 -2h1m1 -11.5h1m-17 -6.5h1m15 9h1m-1.5 10.5h1m-29 -29.5h1m6.5 5.5h1m13.5 6.5h1m-3.5 18h1m-18.5 -45h1m21.5 40h1m-4 -31h1m-17 15h1m14 -13h1m-7 29.5h1m7 -14.5h1m-4 11h1m-13.5 -7.5h1m0.5 -5.5h1m6 11h1m-4 -16h1m1 15h1m-5 -18h1m-7.5 -27.5h1m3 46h1m4.5 -8.5h1m-1 -14.5h1m5.5 30.5h1m-13.5 -14h1m8 10h1m4.5 4h1m-20 -6.5h1m6 -25.5h1m9 6h1m-1.5 -0.5h1m-21 10h1m15.5 4h1m-5.5 5.5h1m-2.5 -3.5h1m11.5 -14.5h1m0 8.5h1m0 16h1m-13 -21h1m7 14.5h1m-20.5 -10.5h1m6 -1h1m-6 9.5h1m13.5 -7.5h1m-24 8.5h1m18.5 14.5h1m14.5 2.5h1m-8 -3.5h1m-16.5 -28h1m11.5 29h1m-3.5 0.5h1m7.5 -5h1m1 -19h1m-24.5 -8h1m6 8.5h1m7.5 -13h1m-0.5 -11h1m-11.5 11.5h1m4 11.5h1m-18.5 9.5h1m4 -11h1m-5.5 -26.5h1m15.5 7h1m-10.5 -10h1m10.5 50h1m-20.5 -37h1m18.5 9h1m-19.5 -33h1m18 29.5h1m-14.5 -7.5h1m0.5 6h1m14 -18h1m-11 28h1m7.5 -23h1m-18 -3.5h1m4 12h1m7.5 9h1m0.5 7h1m12.5 -4h1m-37.5 6h1m21.5 -8h1m12.5 -4.5h1m-23 6.5h1m7 5h1m10.5 -14.5h1m-6.5 1h1m-18.5 -11h1m17.5 30.5h1m-9.5 -5.5h1m4 -18h1m-8.5 -6h1m-12 16.5h1m24 -25.5h1m-14.5 45h1m-5 -22h1m-4.5 -25.5h1m-5 29h1m-4 -1h1m17 19h1m5.5 -36h1m-12.5 -2h1m6.5 -1.5h1m-22 23h1m2.5 -1.5h1m9.5 6.5h1m13 -28.5h1m-23 4.5h1m-2.5 21.5h1m15 -11h1m-23 18h1m16 -22.5h1m10.5 10h1m-1.5 20.5h1m-19 -19.5h1m3.5 -3h1m8.5 0.5h1m-24.5 -9h1m17.5 23h1m-19.5 -45.5h1m1 27.5h1m19.5 12h1m10.5 4h1m-6.5 -6.5h1m-10 -21h1m-13 30h1m2.5 -12h1m17 -30h1m-24 26.5h1m-8.5 -16h1m24.5 13h1m-17.5 3.5h1m4.5 31.5h1m-0.5 -9.5h1m12 14.5h1m-9.5 -60.5h1m-9.5 13.5h1m21 35h1m-6.5 -34.5h1m6 27h1m-7.5 -1.5h1m-30 -6h1m10.5 12h1m-0.5 -1.5h1m11 -47.5h1m-13 70.5h1m15.5 -14h1m8 -53h1m-26.5 44h1m23 -11h1m-35.5 5.5h1m14 22.5h1m-13.5 3.5h1m-0.5 -12.5h1m3 -17h1m0.5 -8.5h1m18.5 33.5h1m-29 -26.5h1m22.5 -12h1m9 27.5h1m-0.5 3h1m-15 -41.5h1m12 7.5h1m-16 22.5h1m-7.5 -38h1m19 49.5h1m-7 -53.5h1m-0.5 42h1m-5.5 -23.5h1m-6 35h1m-5 -49.5h1m1 -2.5h1m14.5 64h1" stroke="#111" stroke-opacity="0.33" stroke-width="1.1" fill="none"/>
<path d="M392.5 243.5h1m29 -2h1m-11 32.5h1m-7 -10h1m-14.5 -23.5h1m-13.5 10.5h1m34.5 -14.5h1m-32 29h1m0.5 -28.5h1m9 20h1m-6.5 15h1m10 -36h1m7.5 -7h1m-26 13h1m-4.5 5h1m31.5 -13.5h1m-32.5 -9.5h1m17 35h1m14.5 1.5h1m5.5 0h1m-43 -13h1m11.5 -6.5h1m2.5 -11h1m-6 30.5h1m5 -4.5h1m-13 -30h1m12 7.5h1m1 0.5h1m9.5 3.5h1m-16 -8.5h1m-20.5 9h1m34 35h1m-34 -32h1m34 -3h1m-27.5 -7.5h1m38.5 17h1m-24.5 -11.5h1m3 33.5h1m10.5 -13h1m-37.5 -11.5h1m14.5 -2h1m6 -14h1m3 10h1m4 -9.5h1m-34.5 19h1m21.5 -14.5h1m-17.5 2h1m12 15h1m-11.5 39h1m-10 -58h1m-3 8.5h1m31 24.5h1m-31 -27.5h1m34 -3h1m-17.5 17h1m-14.5 2.5h1m25.5 -4.5h1m-17 3h1m-13.5 26h1m4.5 -45.5h1m19.5 30.5h1m-14.5 -33.5h1m1 5.5h1m-16.5 -10.5h1m16.5 17h1m6.5 -8h1m12 24h1m-44 -3h1m25 2.5h1m9.5 -13.5h1m-31 24.5h1m27.5 5h1m-16 -12.5h1m-19 -10.5h1m31 -19.5h1m-24 11h1m4.5 -6.5h1m26 16.5h1m-40 7h1m5.5 -29.5h1m27 20.5h1m-25.5 -20h1m10.5 17h1m-8 -4.5h1m-15.5 -2.5h1m12.5 33h1m-12 -33h1m14.5 24h1m-19 -29.5h1m17.5 18.5h1m13 14h1m-13.5 -21h1m-5 31.5h1m-5.5 -54h1m-9 27.5h1m0.5 -4h1m3.5 8.5h1m3.5 -25h1m3.5 33h1m12.5 -30h1m8.5 -4h1m-28.5 16.5h1m14.5 8h1m-32 -4h1m37.5 -11.5h1m-2.5 -6.5h1m-33 7.5h1m42.5 18.5h1m-32.5 3h1m-19 -15h1m46 13h1m-46 -23h1m19.5 -6.5h1m-19.5 29.5h1m6.5 -11h1m-10 8h1m7 -6h1m19 2h1m-4.5 14h1m-22.5 -41.5h1m4 26h1m22 -19.5h1m-36 5h1m3 31h1m20 -33h1m-25.5 22.5h1m8.5 -33h1m11 16.5h1m-21.5 30.5h1m25 -37h1m-27 12h1m5 33.5h1m16.5 -27h1m1 25h1m-2.5 -25h1m-25 -24h1m12.5 37h1m2 -27.5h1m-18.5 -6h1m19.5 4h1m12.5 15.5h1m0.5 0.5h1m-13.5 -19h1m18 13.5h1m-21 34.5h1m19.5 -25h1m-27 18h1m11.5 -33.5h1m9 35h1m-29 -12h1m30 -16h1m-32 -20h1m21 32h1m-22 -12.5h1m0 24h1m-9.5 -41.5h1m3 59h1m-1.5 -55h1m23.5 3.5h1m-17 53.5h1m-9 -55h1m4.5 35.5h1m23.5 11.5h1m-20.5 -59h1m23.5 47.5h1m-25 -34h1m-0.5 -10h1m5 42h1m0.5 -20h1m2 26.5h1m-16.5 1.5h1m-13 -7h1m18 -13.5h1m14.5 15.5h1m-20 -37h1m21.5 45h1m-20.5 -8h1m0 -45.5h1m-9 22h1m3.5 -0.5h1m8 3.5h1m-1.5 9h1m1 -4h1m-11 -18h1m4.5 52.5h1m-6 -57h1m14 21.5h1m-10.5 12.5h1m6.5 -43h1m6.5 19.5h1m-20.5 -11.5h1m8.5 25.5h1m6 7.5h1m-0.5 -3.5h1m-30 5.5h1m1.5 -33.5h1m16.5 51.5h1m10 -38h1m-13.5 -17.5h1m12.5 27h1m-40.5 28.5h1m15.5 -43.5h1m-17.5 26h1m22.5 21.5h1m1 -24.5h1m8.5 -41h1m-27.5 51h1m11 11.5h1m3.5 -29h1m-7 32h1m-18.5 -64.5h1m7.5 40.5h1m10.5 -13.5h1m11.5 -2h1m-34 -24h1m33.5 12.5h1m-38.5 48h1m8.5 -61.5h1m33.5 35h1m-14.5 -31h1m-23.5 40h1m33 -44h1m-4.5 47h1m-27 -38h1m-0.5 44.5h1m0.5 -12.5h1m0 -43h1m17.5 3.5h1m-4.5 39h1m12.5 3.5h1m-33.5 21.5h1m27.5 -45.5h1m-6.5 22.5h1m-2 12h1m7.5 4h1m-6 -36h1m-24.5 24h1m-0.5 -12h1m23 13h1m-1 -10h1m-28.5 -4h1m64.5 33h1m-4 -6h1m1.5 -7.5h1m-8 -15.5h1m14 14h1m-14 -11h1m8.5 -2.5h1m-17.5 -30h1m4.5 49.5h1m3 5.5h1m-14.5 -46h1m-2.5 31.5h1m6 -16h1m-16 0h1m22 31h1m-16 -23.5h1m21 11h1m-22 -14.5h1m3.5 3.5h1m11 10.5h1m-1.5 9h1m-4 -4h1m-17 -8.5h1m20.5 6.5h1m-20 -12.5h1m14.5 10h1m-1 -10.5h1m-1.5 -9.5h1m1 31.5h1m-2.5 -17h1m4 23h1m-22 -10.5h1m9.5 -15h1m8.5 3.5h1m-27.5 -20.5h1m19.5 17.5h1m-9 -15h1m-5 18h1m5 -14h1m11 20h1m-21.5 5h1m-8.5 -8.5h1m14.5 -9.5h1m-2.5 -3h1m8 26h1m-7 -23.5h1m-3 -7.5h1m17 30h1m-16 11h1m-7 -40h1m5 11h1m-5 16.5h1m-6.5 -22h1m15 0.5h1m-3.5 24.5h1m-19 -41.5h1m17 2h1m-4.5 -10h1m1 44h1m-9.5 -13h1m-5 -7.5h1m0 -12.5h1m1 14.5h1m0.5 -3.5h1m-12 21.5h1m11 -10h1m6 1h1m-2 -1.5h1m-3 -7.5h1m-4 -4.5h1m12.5 10.5h1m-29 -17h1m5.5 -6h1m6.5 20.5h1m-3 4.5h1m10.5 -1.5h1m-1 24.5h1m-9.5 -22h1m7.5 15h1m-6.5 -17h1m-9.5 5h1m13.5 9.5h1m-15.5 -18h1m-4.5 16.5h1m10 -18h1m-5.5 -3.5h1m11 -13h1m1.5 10h1m-9.5 -5h1m-12 0h1m-6.5 -7h1m1 21h1m21.5 1.5h1m-14.5 3h1m2 7h1m-8 -32.5h1m3 13.5h1m15.5 28h1m-13.5 -28.5h1m5 -3h1m-2.5 7h1m0 13.5h1m10 -8h1m-10 16.5h1m-5.5 3.5h1m-5 -23h1m-14 -0.5h1m16.5 6h1m3 -2h1m-15.5 -16h1m12.5 23.5h1m-19.5 -28.5h1m28 21h1m-32 -4.5h1m22.5 15.5h1m-6.5 -15h1m4.5 8h1m-8.5 6h1m1 -13.5h1m-1.5 1.5h1m13.5 -10h1m-9 -4.5h1m-1 36.5h1m-22.5 -21.5h1m21 26h1m0.5 -26h1m-8.5 -5.5h1m-16 -0.5h1m-2.5 -9.5h1m3 -2.5h1m8 26.5h1m9.5 15.5h1m-6.5 -28.5h1m2 -0.5h1m4 7h1m-14 -3h1m-6.5 9.5h1m-10 -20.5h1m13.5 3h1m-5.5 -18.5h1m8 30.5h1m-1 -12.5h1m-1 13.5h1m-3 -27h1m5.5 51.5h1m0.5 -25h1m-7 20.5h1m0 -27.5h1m-0.5 2.5h1m-15.5 12h1m8.5 0.5h1m-6 -8.5h1m-7.5 -13h1m12 29.5h1m1 -34h1m-10 5h1m-2.5 30.5h1m15 -32h1m-26.5 23.5h1m21 -16h1m-15 -14h1m8.5 24h1m-12 -13.5h1m17 3.5h1m-2.5 -13.5h1m-6.5 7.5h1m-19.5 -16h1m28 45.5h1m-11.5 -3.5h1m0.5 -17.5h1m-2 -5h1m-2 21.5h1m-9 -18.5h1m-4 12.5h1m10 -23.5h1m-4 27.5h1m4 -10h1m-2.5 4h1m-16 -25h1m26 38.5h1m-28 -22h1m-5 -17h1m6 36.5h1m11.5 3.5h1m0 -40h1m5.5 18h1m-11 -5h1m-14.5 -4.5h1m10.5 3h1m-5.5 16.5h1m-1.5 -21h1m-7 -2h1m-11 -15h1m15 3h1m-7.5 15.5h1m7.5 17.5h1m5 -9h1m15.5 7.5h1m-3 7h1m-21.5 8h1m10.5 -4h1m-12 -25h1m16.5 19.5h1m-12 -16.5h1m-7.5 16.5h1m14.5 -23.5h1m-16 1h1m8 20h1m-14.5 -28.5h1m-1 15.5h1m18 16.5h1m-9.5 -10h1m-6 21.5h1m5.5 -10h1m5 -16h1m-12 6.5h1m0 -0.5h1m-22 -23.5h1m30 23.5h1m-12 -2h1m13 2h1m-3 6.5h1m-11 -6.5h1m0 7.5h1m-7.5 -0.5h1m-1.5 -43h1m2 44.5h1m8 -15.5h1m-20 -22.5h1m17.5 47.5h1m-1.5 -3.5h1m-5.5 -29.5h1m-4.5 6.5h1m-4.5 -11h1m-7 4h1m15.5 20h1m-2 -15.5h1m-23 -1h1m13 0.5h1m-5 -11.5h1m11.5 13h1m5 3h1m0.5 19.5h1m-30 -13.5h1m20.5 15.5h1m-14 -23.5h1m-3 -23h1m12 46.5h1m4.5 -20h1m-13.5 -17.5h1m-1.5 10h1m13.5 11.5h1m-19 7.5h1m12.5 -34h1m-4.5 15h1m15.5 33.5h1m-14 1h1m2 -24.5h1m-1.5 -2h1m-5 2.5h1m-2 26h1m-14.5 -37.5h1m22.5 36h1m-4 -27.5h1m-14.5 24.5h1m12.5 -20.5h1m-19 -29h1m6 51h1m17.5 -10h1m-22.5 -23.5h1m12 16h1m-19 -27.5h1m4 34h1m-2 -31.5h1m-8.5 8h1m1 2h1m8.5 -10h1m-12 19h1m20 -3.5h1m-17 -14h1m22 8.5h1m-22 16.5h1m-11.5 -16h1m14 5.5h1m12.5 24h1m-6.5 -14.5h1m-28 -17.5h1m22 15.5h1m0.5 -7h1m-8 5h1m-10 -9.5h1m7.5 9.5h1m9.5 -36h1m-15 21h1m5 15h1m-7 -30h1m8.5 11.5h1m-8 -24h1m-1.5 10h1m-7.5 8.5h1m11 4.5h1m-4.5 15.5h1m-13.5 -36h1m5.5 -1.5h1m-2 2.5h1m2 17.5h1m-15 1h1m12.5 -16.5h1m3.5 -11h1m-6 2h1m9.5 32.5h1m13.5 -2h1m-28.5 -11.5h1m2.5 6h1m1.5 -11h1m-14 7h1m19.5 21h1m-10 -18.5h1m-2.5 -16.5h1m-4 26.5h1m13 -24.5h1m-3.5 3h1m-14.5 17.5h1m-3.5 -29.5h1m1 30.5h1m22 -9.5h1m-11.5 2h1m-23.5 1h1m10.5 -11h1m-12 -6.5h1m16 1h1m-13 -1.5h1m5.5 41h1m17 -26.5h1m-19.5 22h1m5.5 -12.5h1m-16 24.5h1m4.5 -22h1m-3.5 -21.5h1m11 19.5h1m-3.5 -14h1m-6 25h1m10 7h1m-11.5 -46.5h1m10 36h1m-22 -1h1m15 -33.5h1m9.5 14h1m3.5 14h1m-22 2h1m-11 -19h1m7 -0.5h1m16 0.5h1m-15 14.5h1m9 -13h1m3 24.5h1m0.5 6h1m-1 -20h1m-3 -23.5h1m1.5 63h1m-13 -68h1m-14.5 36.5h1m17 -25.5h1m-16 25h1m25.5 -6.5h1m-12.5 7h1m-3 -4.5h1m-1 4.5h1m5 -18.5h1m0 50.5h1m-18 -33.5h1m23 6.5h1m-23.5 -36h1m-0.5 30h1m4.5 -20.5h1m2.5 -8h1m14 33.5h1m-16.5 19.5h1m13 -44.5h1m-7 44h1m0 -45.5h1m4.5 28.5h1m2.5 25h1m-31.5 -57.5h1m-1.5 -2h1m-0.5 20.5h1m29 35.5h1m-21 -24.5h1m11.5 19.5h1m-4.5 -22.5h1m-24.5 4h1m7 19h1m-3 -34.5h1m22 22h1m-6.5 -36.5h1m-11 -3.5h1m-14 7.5h1" stroke="#111" stroke-opacity="0.33" stroke-width="1.1" fill="none"/>
<path d="M388 244h1m-5 14h1m16.5 -20h1m5 50h1m-17 -60h1m16 31h1m-17.5 -18h1m-8.5 54h1m24 -66h1m-8.5 29h1m-0.5 -3h1m-10.5 -12h1m17 -2.5h1m-34 3h1m10 -3.5h1m12.5 -8h1m-27 42h1m2.5 -36.5h1m15 17.5h1m-13.5 -18h1m41 8h1m-31.5 19.5h1m-10.5 -40.5h1m15 26.5h1m-12.5 3h1m1.5 17h1m0.5 -28.5h1m-17.5 22.5h1m4.5 -19.5h1m12.5 -15.5h1m-12.5 8h1m32 10.5h1m-3 16h1m-10.5 -18h1m4.5 3.5h1m-26.5 0h1m28 6h1m-39 4h1m18 4.5h1m1.5 -7h1m1.5 -1h1m-8.5 -1.5h1m9.5 -15.5h1m-22 6h1m10 8.5h1m-5.5 -4.5h1m-3.5 8h1m27 -11.5h1m-23 22h1m-10.5 -23.5h1m28.5 -8h1m11 9h1m-42.5 -7.5h1m34 18.5h1m-12.5 -6.5h1m-3 25h1m-6.5 19h1m-7 -43h1m-7.5 -19h1m13 5.5h1m7.5 4h1m8.5 -1h1m-19 6h1m3 -13.5h1m17.5 -8h1m-13 19.5h1m-32.5 5h1m25 -2.5h1m-26.5 -11h1m10 8.5h1m-12 22h1m7 -16h1m11.5 -14.5h1m-3.5 16.5h1m14.5 2h1m0 -12h1m-22 41h1m-17.5 -34.5h1m25.5 -13h1m-4 13h1m12 12h1m-17.5 -31h1m-19 19h1m13 -24h1m13.5 38h1m7.5 -31h1m-23.5 11h1m-9.5 -17.5h1m9.5 32h1m26.5 28.5h1m-15.5 -39.5h1m-12.5 -12.5h1m-1.5 -4.5h1m-8.5 49.5h1m-12 -53h1m30 15h1m-27 -2h1m36 1h1m-30.5 11h1m-11 -4.5h1m15.5 -4h1m-14 -1.5h1m-1 15h1m-8.5 12h1m18 10.5h1m2 -7.5h1m14.5 -20.5h1m-17 -3.5h1m-22.5 18h1m9.5 -28.5h1m28.5 12h1m-7 -21.5h1m-16.5 30.5h1m-2.5 -2h1m-1.5 -5h1m19.5 -4h1m-16 19h1m-16.5 -23.5h1m9.5 9h1m-16 0h1m7 -9.5h1m25.5 -5.5h1m13.5 28h1m-31 -15h1m-13.5 23h1m-3 -22.5h1m19 -17h1m-1.5 6.5h1m-12.5 10h1m34 -10h1m-31.5 5h1m-0.5 -15h1m6 2h1m-28.5 1h1m27 -2.5h1m-6 27.5h1m-3 -20h1m-13.5 15h1m15.5 4.5h1m22 -9.5h1m-28.5 9.5h1m6.5 -30h1m-26.5 50.5h1m16.5 -25.5h1m18.5 -6h1m10 9h1m-50.5 9h1m15 -18h1m-12 7.5h1m20.5 26h1m13.5 -35.5h1m-34.5 -15.5h1m-1 18.5h1m13.5 -7.5h1m-3 1.5h1m-9 3.5h1m-3 7h1m23 -5h1m-25.5 -4h1m33 5.5h1m-38.5 9h1m45.5 -24h1m-20.5 4.5h1m-8.5 13.5h1m-10 15.5h1m5.5 10.5h1m-14.5 -44h1m19 5.5h1m1.5 30h1m-22.5 15.5h1m10.5 -17h1m21 -40h1m-3.5 64.5h1m1 -31.5h1m-43 17.5h1m19.5 9h1m7 -36h1m-19.5 29.5h1m16.5 9.5h1m-28.5 -1h1m32 -9.5h1m-30.5 -37h1m35 50.5h1m-30 -32.5h1m-10.5 -27.5h1m15 53.5h1m5.5 -12h1m1 5.5h1m-29 6h1m15 -38.5h1m-11 4.5h1m-1.5 40.5h1m14 -13h1m16.5 -23.5h1m-2 -31.5h1m-31 28.5h1m26 -24h1m7 61.5h1m-5 -55h1m-20 -10.5h1m-3 16.5h1m23 48h1m1.5 -47.5h1m-7.5 -8h1m3 9.5h1m-41 16.5h1m37 18.5h1m-10.5 -32h1m4 -2.5h1m-31.5 -14h1m35 24.5h1m-26.5 -19h1m10 -2h1m9.5 45.5h1m-18 -23.5h1m7 -24h1m-20 60h1m4.5 -57h1m-1 5h1m16 41.5h1m-13.5 -38h1m6.5 2.5h1m-7.5 -12.5h1m-1 46.5h1m18 5h1m-34 0h1m12.5 -48h1m-4.5 36h1m-5 -47.5h1m-4 31.5h1m11 -1.5h1m-9.5 4.5h1m27.5 -16.5h1m-38.5 15h1m10 -25h1m-5.5 58h1m22.5 -24h1m-33.5 -37.5h1m27.5 48h1m-20 -10h1m23 18h1m7 -43h1m-28.5 3.5h1m-4.5 16.5h1m23 -5.5h1m-23 -18h1m-10.5 14h1m7.5 37.5h1m-8.5 -26.5h1m7.5 -28.5h1m28.5 44h1m-12.5 -51h1m0.5 41.5h1m-10.5 -9.5h1m1 -7.5h1m-13 32h1m-6.5 2h1m-2 -48.5h1m13.5 24h1m21.5 -26h1m-35 5.5h1m29.5 -12.5h1m-7.5 1h1m-26 56.5h1m20 -39h1m41 22h1m11 23.5h1m-16 -7h1m4 -12.5h1m6.5 -2h1m-13 26h1m3.5 -32.5h1m4 -10.5h1m-6.5 19.5h1m-6 3.5h1m15 10h1m-17 -10.5h1m-2.5 0h1m18.5 17.5h1m-4.5 -36h1m-19 26.5h1m-6 -14h1m22.5 6h1m-25 -14h1m17.5 27h1m-15 -31h1m-7.5 -5.5h1m20 23.5h1m-26 -2h1m25.5 -8.5h1m-22.5 -4h1m5 -6h1m11 11h1m-6.5 2h1m0 -4h1m0.5 28.5h1m-1 -10.5h1m2 -5.5h1m-25.5 -40h1m19.5 53.5h1m5 0.5h1m-5.5 -37h1m0 17.5h1m-6 -14h1m0 20h1m10 1.5h1m-6 -6h1m-6 -11h1m-16.5 -28.5h1m20 49.5h1m-4 -8.5h1m9 11h1m-4 -29.5h1m-18 11.5h1m-15.5 -3h1m32.5 11.5h1m2 4.5h1m-25.5 -20.5h1m-1.5 17.5h1m13 -15h1m-11 7.5h1m17 -15h1m-16.5 25.5h1m4 -39.5h1m5 13h1m-15 10.5h1m7.5 -9h1m6 16.5h1m-27.5 -37h1m9 39.5h1m21.5 19.5h1m-7.5 -11h1m-29.5 -34h1m15 8h1m-3 11.5h1m-0.5 8h1m-4.5 -4.5h1m-1.5 -25.5h1m5 26.5h1m-3 18.5h1m4 -27h1m3 2h1m-4 -6h1m-14 10h1m7.5 -15h1m9.5 13h1m4 -3.5h1m-14 0h1m-2 8h1m0.5 -14h1m-7.5 24h1m20.5 3h1m-11 -17h1m5.5 18h1m-14.5 -14.5h1m0 -21h1m-0.5 21.5h1m9 3.5h1m-30 -38h1m23 47.5h1m-3 -0.5h1m-13.5 -39h1m8.5 44h1m0 -20.5h1m14 5.5h1m-16.5 0h1m-16.5 -12h1m9.5 6h1m7 15.5h1m-5 1h1m-14.5 -31.5h1m11.5 4h1m8 36h1m-2 -2.5h1m-2.5 -17.5h1m-13.5 -6h1m7.5 -6h1m10 26h1m-6 -13.5h1m-7.5 -29h1m2.5 6.5h1m-4 40.5h1m-13 -19.5h1m24.5 3.5h1m-22.5 6.5h1m-6.5 -21h1m10.5 0.5h1m10.5 0h1m-22.5 3h1m-5.5 -9.5h1m5.5 6h1m21 15h1m-4 15h1m-3.5 -12.5h1m-9 -6.5h1m-9 -6.5h1m11.5 13.5h1m-7 -13.5h1m3.5 -3.5h1m5.5 9.5h1m-8.5 -20h1m-7.5 7.5h1m6 1h1m-3.5 -12.5h1m5 5.5h1m-17 13h1m13.5 -20.5h1m5 -1.5h1m-14.5 14.5h1m6.5 13h1m-15 -18h1m12.5 11.5h1m1 18.5h1m4 -26h1m-18.5 24h1m1 -36h1m13 32h1m-6 -17.5h1m-6 17.5h1m-3.5 -14h1m12.5 17.5h1m-10 -8h1m-5 -11.5h1m14 1h1m-5.5 23h1m-0.5 -6.5h1m-8 -17h1m-0.5 -1h1m-14.5 -3h1m20.5 18h1m-15 0.5h1m4 -7.5h1m-7 26h1m5 -33h1m4.5 15.5h1m3.5 -4h1m-15.5 -2.5h1m-7 -5h1m5 -5h1m-0.5 9.5h1m2 8h1m-7 -17h1m22.5 28.5h1m-10 4h1m3.5 -30.5h1m-37 -14h1m11.5 4.5h1m12 22.5h1m7.5 13h1m-17.5 -21.5h1m6 -15h1m1.5 30.5h1m-8 -14.5h1m9 8.5h1m-0.5 -7.5h1m-11 -6h1m4 28h1m-13.5 -28.5h1m-6 -8.5h1m18 22h1m-14.5 -16h1m8.5 -14h1m-14.5 -9h1m30 55.5h1m-17.5 -43.5h1m-20 26h1m28.5 4h1m-27 -40.5h1m2.5 34h1m4 20h1m22.5 -19.5h1m-17.5 -3.5h1m-6 0h1m3 0.5h1m-12.5 -10.5h1m12 8.5h1m-2.5 -8.5h1m2.5 -5h1m0.5 8.5h1m-13.5 -1h1m18.5 22h1m0 8.5h1m-26.5 -32h1m13.5 -5h1m-6.5 11.5h1m8.5 -3h1m-8 10.5h1m-2.5 -21.5h1m7.5 17h1m-12 3h1m3.5 5h1m-1 -5h1m-7 -25h1m12 19h1m-5.5 16h1m9.5 -3h1m-17.5 -5.5h1m2 3h1m7.5 -3h1m1 -15h1m-19 6.5h1m8 24h1m-16.5 -26h1m1.5 13h1m15.5 8h1m2 7h1m-28.5 -31h1m28.5 31.5h1m-6 -9.5h1m-10 -36h1m5.5 4.5h1m-3 13h1m16.5 29h1m-5 -20h1m-14.5 5h1m16.5 11h1m-10.5 -17h1m-20 -24h1m9 26.5h1m-0.5 -9h1m4.5 26h1m-1.5 -30h1m-0.5 7.5h1m-13.5 -1h1m-9 9.5h1m3 -38h1m18.5 33h1m-7 -5.5h1m-5 -8.5h1m14 32.5h1m-16 -23.5h1m2 13.5h1m2 1.5h1m-26 -26.5h1m21.5 10.5h1m1 20.5h1m-6.5 -15.5h1m-1.5 -26.5h1m9 48h1m-11 -50h1m13 32.5h1m5 -14h1m-12 7h1m-22.5 -1h1m29 13.5h1m-23 -16h1m8.5 0.5h1m-10 -24.5h1m-2.5 16h1m11 11h1m-15 -5h1m23.5 24.5h1m1 -21.5h1m-29.5 -16.5h1m4 10h1m14 32h1m-10 -30h1m-3 24h1m19.5 -8h1m-22.5 -6.5h1m-9.5 -2h1m20.5 -3h1m-1 16.5h1m-19.5 -11.5h1m-3.5 -20.5h1m9 -6.5h1m-1.5 -16h1m4.5 48.5h1m-5.5 17h1m0 -26h1m-9.5 1h1m-3 -26.5h1m8 16h1m0 5.5h1m-2 12.5h1m10 -2.5h1m-7.5 2h1m-19.5 -13.5h1m1.5 -35.5h1m30 61h1m-18 -31.5h1m0 18.5h1m-1.5 10.5h1m-11 -15.5h1m6 3.5h1m17.5 16.5h1m-13 -53h1m7 45h1m-20 -8h1m22 5h1m-14.5 -9.5h1m-17 5h1m23 -21h1m-21 1.5h1m6 -12h1m-17.5 -15h1m20.5 40h1m-13 -3.5h1m6 -5.5h1m-16.5 -27h1m20 11.5h1m-14 11.5h1m-0.5 9h1m19.5 0h1m-28 -32h1m9 7h1m3.5 -18h1m-5.5 38h1m-3.5 -22h1m10 -3.5h1m-23.5 11.5h1m2.5 8h1m2.5 -18.5h1m21 26h1m-19.5 1h1m3 -13h1m-2 4h1m-4 4.5h1m16.5 4h1m3 -25.5h1m-1.5 6h1m-18 22h1m18 -33.5h1m-4.5 41.5h1m-3.5 -18h1m-24.5 -27.5h1m16 14.5h1m-11 -15h1m-2 0h1m14 51.5h1m-6 -28.5h1m4.5 -18.5h1m-26.5 11.5h1m23.5 13.5h1m-16 -24h1m2 10h1m5 18h1m3.5 -21.5h1m-21.5 -6h1m16.5 3.5h1m-22 7h1m24 12.5h1m8 -12.5h1m-1.5 -8h1m-23.5 5.5h1m1.5 0h1m18 20h1m-14 -13.5h1m-4 8h1m0.5 5h1m-11 -5.5h1m-8.5 5.5h1m0.5 8.5h1m8 -21.5h1m2 8h1m-0.5 -2h1m0.5 -11.5h1m-4.5 13.5h1m4 4.5h1m4 11.5h1m-18.5 -24.5h1m-1 -6.5h1m19.5 8.5h1m-24.5 1.5h1m26 5.5h1m-1 -26.5h1m1 27.5h1m-20.5 23.5h1m-14 14.5h1m28 -54.5h1m-23.5 -19h1m22 50h1m-5.5 4h1m-23 -8.5h1m14 6h1m13.5 -39.5h1m-11 -6.5h1m8.5 24h1m-9.5 -25.5h1m-9.5 37.5h1m23.5 9h1m-9 0h1m-33 18.5h1m18 -33h1m-11 -26h1m17 12h1m-19 18.5h1m-5.5 -5.5h1m26 15.5h1m3 -2.5h1m-36 20.5h1m21 -17h1m5.5 -42h1m-22.5 13h1m24 36h1" stroke="#111" stroke-opacity="0.33" stroke-width="1.1" fill="none"/>
<path d="M415.5 239h1m-14.5 -5h1m2 23h1m2.5 -10.5h1m-32 18h1m25.5 -13.5h1m0.5 -15h1m-23 11.5h1m18 20.5h1m14 -26.5h1m-29 -1.5h1m-4.5 -11.5h1m40.5 -3h1m-24 15.5h1m13 7.5h1m-22.5 4.5h1m6.5 -27.5h1m5 23.5h1m-22 12h1m4.5 -16h1m6 3h1m21 5h1m-45.5 -3h1m37.5 1h1m-23 11.5h1m6 -18.5h1m10.5 11h1m-8.5 -21.5h1m-10 26.5h1m-19 -12.5h1m33 4h1m-9 -14.5h1m-10.5 18.5h1m-18.5 -17h1m13.5 20.5h1m26.5 -11h1m-38 -19.5h1m6 7h1m-15 8.5h1m4.5 9.5h1m28.5 -8.5h1m-31 11.5h1m-3.5 -26h1m20 24h1m-4.5 -2h1m3.5 -23.5h1m-9.5 34h1m5.5 -13h1m3 -19h1m-11.5 39.5h1m-1 10h1m-12.5 -35h1m8 -3h1m7.5 4.5h1m7.5 19h1m18.5 -9.5h1m-50.5 3h1m25 -12h1m-10 2h1m27.5 -6.5h1m-33.5 4h1m7.5 -19h1m10 27h1m1 -12.5h1m-9 8.5h1m-3 -15h1m-6 -9h1m29.5 25.5h1m-24 -17.5h1m-6.5 3.5h1m-10 -8.5h1m23.5 15h1m-27 1h1m-0.5 -2.5h1m-0.5 -14.5h1m-4.5 13h1m25 27h1m-14.5 -3h1m11 -35.5h1m-1 40h1m-28.5 -4h1m-5.5 -24h1m35.5 -6h1m-23.5 -1.5h1m-12 -8.5h1m2.5 33.5h1m15 -9h1m-9.5 -21h1m-11 9h1m8 -12h1m-2 27.5h1m-0.5 -24h1m3.5 32h1m3 14h1m22.5 -16.5h1m-14.5 -22.5h1m-30 6h1m4 7h1m6.5 -17.5h1m-1 9h1m20.5 4.5h1m-15.5 1.5h1m-24.5 -3h1m27.5 6.5h1m0 7h1m-7 -7.5h1m-14.5 16h1m19.5 -39h1m-28.5 50h1m7 -48h1m-4.5 32h1m16 -6.5h1m7 -10.5h1m18.5 25h1m-14.5 -37.5h1m-20.5 18h1m8.5 -19.5h1m-5 -4h1m3.5 50.5h1m2 -43.5h1m-32.5 -11.5h1m5 58.5h1m17.5 -29.5h1m14.5 -25h1m-33 29.5h1m-6.5 -29h1m7.5 25.5h1m-4.5 -2h1m11 -6h1m-9 -6.5h1m17.5 9.5h1m-14.5 18.5h1m-2.5 -12h1m-7.5 -21.5h1m3.5 2.5h1m-4.5 13h1m-9 4.5h1m8 -0.5h1m4 6.5h1m4.5 9.5h1m-14 -13.5h1m7 -0.5h1m-1 -31h1m-17.5 0.5h1m18 18h1m30 -12h1m-27.5 38.5h1m-13 -20h1m2.5 -23.5h1m-2 16h1m-0.5 11h1m5 -0.5h1m2.5 -4h1m-9.5 -16h1m11 -1.5h1m18.5 25.5h1m-10.5 -25.5h1m-8.5 -2.5h1m-26.5 18h1m13.5 -4h1m33.5 44h1m-37.5 -26h1m-11 -32h1m30 31h1m-27.5 14.5h1m31 -20h1m-22.5 -18h1m-10 -3h1m10 20.5h1m-11 -0.5h1m-3 -15.5h1m9.5 18.5h1m-22 18h1m2.5 -42.5h1m7 -0.5h1m22.5 6h1m-34 5.5h1m19.5 50h1m-13 -50.5h1m0.5 51h1m17 -28.5h1m-30.5 -18.5h1m14 -7h1m6 40h1m-0.5 -27.5h1m-21 -25h1m22 50h1m-28 -29h1m22.5 38.5h1m-11 -8h1m23 -24.5h1m-9 -9h1m-19.5 18h1m8.5 -10h1m3 9h1m3.5 8.5h1m1 -24h1m-4 2h1m-2 9h1m-8.5 -15.5h1m5 18.5h1m1.5 13.5h1m-16.5 14.5h1m2 -16h1m-6 -3.5h1m-7 -5h1m22.5 -30h1m-11.5 6h1m-12 36h1m3 -15h1m-7.5 28h1m17.5 -34.5h1m-11.5 -18.5h1m-3 -1h1m3 56.5h1m29.5 -64h1m-14 0.5h1m-31 43.5h1m35 -16.5h1m-4 21.5h1m-12.5 -26h1m-8 -25h1m6 54.5h1m-21 -2.5h1m9.5 -13h1m6 -8.5h1m-21.5 28h1m35 -53h1m6 11.5h1m-35.5 48h1m-6.5 -25.5h1m-4 -27.5h1m14.5 25h1m4 27h1m-17.5 -29h1m-5 29h1m30.5 -49.5h1m5 -6h1m-30.5 48h1m19.5 -30.5h1m-29.5 -17h1m5.5 49.5h1m34.5 -12h1m-5 -40h1m-36 35.5h1m8.5 -6h1m5.5 15h1m17.5 -38h1m-10.5 -4.5h1m6 44.5h1m4.5 -14h1m-1.5 14h1m-18 -43h1m2 54.5h1m4.5 -40.5h1m-13 -15h1m11.5 50.5h1m12 -9.5h1m-24 -2h1m3.5 -9.5h1m16.5 -38h1m-33.5 24h1m23 29.5h1m-16.5 -14h1m52.5 12h1m-14.5 -4h1m15.5 -13h1m-26 -14.5h1m5.5 18.5h1m15 20.5h1m8 0.5h1m-7 -12.5h1m-7.5 5.5h1m-17.5 -26.5h1m11 36.5h1m3 -31.5h1m-2.5 23h1m3 1h1m-1 8h1m-19.5 -40h1m22 40h1m2.5 -13.5h1m-11 -15.5h1m-5.5 11.5h1m1 -11h1m-3.5 28.5h1m8 3.5h1m-3.5 -10h1m2.5 10h1m-6.5 -24h1m-3.5 -1h1m12.5 3.5h1m-11.5 3.5h1m3.5 -11.5h1m-5.5 25.5h1m12 4h1m-15.5 -4h1m-13.5 -3h1m3 -34.5h1m-1 21h1m10 -3h1m2.5 9h1m-13 -1.5h1m4.5 -18h1m-4.5 28h1m-3.5 -21h1m8 15h1m-3 0h1m-6 -26h1m2 16h1m1 -16.5h1m-14 33h1m-1 -5h1m6.5 -4h1m-1 -1.5h1m5 -2h1m-12.5 -17.5h1m18 33.5h1m-6 -32h1m-16 -7.5h1m6 37.5h1m9.5 -8.5h1m-3.5 -25h1m-1 -5h1m-22.5 9h1m-4.5 23.5h1m25.5 10h1m-6.5 -22h1m-7 -18.5h1m2.5 9.5h1m7.5 14.5h1m-16 -20.5h1m4 -3.5h1m4.5 44.5h1m2.5 -19.5h1m-2.5 12.5h1m-5.5 -16h1m-0.5 -20.5h1m10 33.5h1m-8 2.5h1m-16 -26.5h1m13 24.5h1m-16 -15.5h1m26.5 21h1m-2 3.5h1m-22.5 -7.5h1m22.5 -14h1m-6.5 13h1m-23.5 -22.5h1m26 27.5h1m-16 -22h1m0.5 6h1m-14 -9h1m15.5 2h1m-14.5 13.5h1m17 -5h1m-10.5 15h1m-13 -27.5h1m10.5 19.5h1m-4.5 -21h1m-5 15.5h1m3 -5.5h1m9 14h1m-18.5 -2h1m20.5 -18h1m-3.5 7.5h1m5.5 14.5h1m-36.5 -38h1m29.5 22h1m-7 6h1m0.5 -11h1m-9.5 -4.5h1m17 31h1m-16 -6.5h1m1 -11.5h1m-5 4.5h1m4 -2.5h1m-6 -14.5h1m-13.5 2.5h1m17.5 10.5h1m-13 -2.5h1m5 -11.5h1m0.5 1.5h1m7.5 2.5h1m6.5 18h1m-19 -9h1m13 17h1m-15 -34h1m1 5h1m8.5 4.5h1m-9 22.5h1m-0.5 -36.5h1m7 27.5h1m4.5 -8.5h1m-21.5 3.5h1m4 11h1m-9 -24h1m2 15.5h1m-0.5 5.5h1m11 -19h1m-17.5 14.5h1m5 -4.5h1m-1 -12.5h1m3 11h1m4.5 11h1m4 -13h1m-2 5h1m-2.5 3h1m-14 8.5h1m14 -33h1m-14 -4h1m2.5 23.5h1m-2.5 5.5h1m9 13h1m-20.5 -31.5h1m19 4.5h1m1.5 -4h1m-28.5 -25h1m7 15.5h1m7.5 3h1m14 17h1m-20.5 -1h1m-7 -12.5h1m25 16.5h1m-14.5 8h1m-12.5 -14.5h1m8 1h1m-11 3h1m11.5 -26h1m-15.5 16h1m25.5 27h1m-7.5 -16.5h1m-17 -17h1m3 13h1m-1.5 4h1m-9.5 -25.5h1m11.5 4.5h1m14 24h1m-17 3.5h1m-2.5 -11.5h1m2 -9h1m-2 24h1m9 -9.5h1m-13 -20.5h1m13.5 5h1m-3.5 16.5h1m3 -20.5h1m-14 -0.5h1m-11.5 4.5h1m10 27h1m-4 -15h1m15 20h1m-25.5 -26.5h1m-2 21h1m20 -15h1m-15.5 -27h1m2.5 31.5h1m18 -9.5h1m-10.5 19.5h1m1.5 -5.5h1m-5.5 -14h1m0.5 19.5h1m8 1h1m-14.5 -14.5h1m-10.5 -16.5h1m6.5 14h1m1.5 0h1m-11.5 -21h1m-6 10.5h1m4.5 0.5h1m0.5 2h1m14 15.5h1m-8 1.5h1m-5 -30.5h1m-1.5 19.5h1m11.5 25h1m2.5 -25h1m-12 19.5h1m-5.5 -26.5h1m-6 18h1m15.5 8.5h1m-8.5 -14.5h1m5.5 -20.5h1m-6.5 26.5h1m-1.5 14.5h1m-10.5 -40h1m-11 -4h1m-4.5 4h1m25 14.5h1m-14 -18h1m1.5 40h1m17.5 -1.5h1m-13 -15h1m-6.5 -22.5h1m15 17h1m-9.5 20.5h1m-16 -8h1m27 4.5h1m-20 -32.5h1m-7 22h1m8.5 -4.5h1m-3 3.5h1m-2 -10h1m3.5 6h1m12.5 18h1m-22.5 -27h1m18 15h1m-29.5 5h1m10 -21.5h1m-8 5.5h1m-4 -25.5h1m5 27.5h1m7 1h1m-7 -9.5h1m-4.5 -20h1m11 38h1m-4 -1.5h1m13 7h1m-7 -39.5h1m-11.5 35h1m12 19h1m-5.5 -14.5h1m4.5 14h1m-1 -22h1m-13.5 -6h1m14.5 0h1m-4.5 3.5h1m-8 0h1m3.5 19h1m-19 -29h1m6.5 -1.5h1m-3.5 8h1m-2 20h1m14.5 -20h1m-1.5 -11.5h1m4.5 39.5h1m-21 -34h1m-5 4.5h1m2 8h1m0 -7h1m-6 -9h1m11 23.5h1m-10.5 -12.5h1m1.5 17h1m2.5 -3.5h1m-7.5 -17.5h1m17 30h1m-9 -18h1m-18 -34.5h1m18 39h1m3.5 0.5h1m-5 -15h1m6 15h1m-7 -10.5h1m-14.5 -13.5h1m-8.5 6.5h1m0 18h1m26.5 -5h1m-9 -3.5h1m4 12h1m4.5 1.5h1m-37.5 -26h1m20.5 15.5h1m11.5 -15.5h1m-10.5 -10.5h1m-15.5 -4.5h1m-7.5 39h1m8 -25.5h1m7.5 -2h1m0.5 -13.5h1m-1 39.5h1m-16.5 -48.5h1m5 2h1m9 31.5h1m-25 -20h1m21.5 20.5h1m-21 -44.5h1m22 28h1m-22.5 -26h1m-6.5 19h1m21.5 3h1m-9 0h1m11 21.5h1m-13 -23h1m1 11h1m-7 11h1m16.5 -6.5h1m1 -14.5h1m-13 -20.5h1m21 17.5h1m-18.5 8h1m-8.5 -15h1m-1.5 10h1m-15.5 -13.5h1m30.5 30.5h1m-31 -4.5h1m15.5 -5.5h1m-17 -2.5h1m21 -12h1m9 5.5h1m-27 -8h1m2.5 6.5h1m1 21.5h1m-10.5 -40.5h1m13 33h1m5.5 8h1m-15 21h1m0.5 -29.5h1m7 -3h1m11 11h1m-29.5 -36.5h1m10.5 30.5h1m11 -26h1m3.5 14.5h1m0 5.5h1m-5.5 11h1m-17 -0.5h1m28 -16h1m-28 -11.5h1m7 14.5h1m-13 -4.5h1m-2.5 12.5h1m27 8h1m-19 -33h1m7.5 12h1m-10.5 14.5h1m-12.5 -4h1m11.5 -0.5h1m0 9.5h1m9.5 -17.5h1m-22.5 4.5h1m1.5 -3h1m12.5 1h1m-8.5 -12h1m1.5 10.5h1m-18 8h1m14.5 -27.5h1m-3 0.5h1m-6.5 24.5h1m23.5 0h1m-8 19h1m-12 -17.5h1m-14.5 -29h1m16.5 53h1m0.5 -29.5h1m-7.5 14.5h1m12 -10.5h1m-2.5 -1.5h1m-1.5 2.5h1m1 -7h1m-10.5 2h1m-18.5 6h1m6.5 -20h1m22 15h1m-4.5 2h1m-16 -24h1m-8.5 33h1m2.5 8h1m12 -21.5h1m1.5 1.5h1m9 8h1m-34 28h1m36 -4h1m-32.5 5h1m-0.5 9.5h1m12 -1h1m-1.5 -8.5h1m-8 -40.5h1m18 16.5h1m-31.5 33.5h1m7 -18h1m-2.5 -28.5h1m27.5 -1h1m-15.5 -12h1m2.5 28.5h1m-13.5 -14h1m17.5 8h1m-12 36.5h1m1.5 -17.5h1m-20.5 19.5h1m0 -26h1m6.5 -27h1m3.5 15.5h1m-12 -28h1m-4.5 -8.5h1m7 54.5h1m26.5 -47.5h1" stroke="#111" stroke-opacity="0.33" stroke-width="1.1" fill="none"/>
<path d="M401 261h1m-1.5 -33.5h1m-20.5 6.5h1m-5 24.5h1m9 -26.5h1m1 35h1m-5.5 -31h1m-3 3.5h1m-5.5 -16h1m14.5 16h1m-7 3.5h1m25.5 28h1m-19 -11.5h1m-8 1.5h1m-12.5 -1h1m28.5 -9.5h1m-9 2h1m-23.5 10h1m7.5 -13h1m1 -9.5h1m-9.5 23h1m15 -32h1m2.5 -7.5h1m-13.5 37.5h1m38.5 -27.5h1m-25.5 31.5h1m-2.5 -29h1m14 2.5h1m-31.5 42h1m-6 -34h1m29 22h1m-22 -14h1m24 -3h1m-11 -8.5h1m0.5 -6.5h1m-21 -10h1m-4.5 8.5h1m19.5 45h1m3.5 -28.5h1m-27.5 -18.5h1m6 29.5h1m16 -24h1m-15.5 -7.5h1m-7.5 -2.5h1m18.5 32h1m-15 -21.5h1m-10.5 4h1m13.5 -1.5h1m0 -7h1m1 -9.5h1m-2.5 8h1m-13.5 9h1m34.5 -7h1m-8.5 31h1m2.5 -2.5h1m-18 -38h1m-18.5 15h1m0 14.5h1m18.5 -20.5h1m-4.5 -5.5h1m-19 36h1m15.5 -25h1m2.5 4h1m6 1.5h1m-19 0h1m1.5 7h1m16.5 -12h1m-22 -2h1m-5.5 16h1m26.5 -2h1m-13 -1h1m-2 -11.5h1m5.5 8.5h1m1.5 -13h1m-19 12h1m30 -18.5h1m-26.5 31.5h1m-7.5 -6.5h1m32 -14.5h1m-8 -0.5h1m-33.5 23h1m23.5 -38.5h1m11 38.5h1m-21 -34.5h1m-8 14h1m15.5 -1.5h1m0.5 16.5h1m-11.5 -24h1m25 3h1m-39.5 34.5h1m18 -12h1m-4 20.5h1m-22.5 -22h1m5.5 4.5h1m-1 0h1m20 15.5h1m-5 -35h1m-14 17.5h1m30.5 -19h1m-23.5 2h1m-7 6.5h1m-0.5 23h1m-16 -42.5h1m32.5 26.5h1m3 3h1m-23.5 -20h1m-12 19.5h1m9 -19h1m5 3.5h1m-4.5 19h1m9 -13.5h1m-25 21.5h1m27.5 -28.5h1m-30 12h1m38 -13.5h1m-23 4.5h1m8 -8h1m-4 -13.5h1m-7 46.5h1m-11 -31.5h1m11 5h1m1.5 0h1m-18.5 -12h1m-7 14.5h1m14.5 1.5h1m13.5 22.5h1m-28 -34h1m1.5 -2.5h1m43.5 63h1m-45.5 -38h1m1.5 -8h1m18.5 -11h1m6.5 27h1m9.5 3h1m-33.5 -24h1m7 5h1m-22 -5h1m17 28h1m21 -11.5h1m-28.5 -10.5h1m-9.5 -18h1m15 0.5h1m-6.5 15h1m-2.5 -15.5h1m-1 5.5h1m11 44.5h1m-1 -11h1m-24 -9h1m12 2h1m-16 -27.5h1m39.5 16h1m-14.5 -23h1m-8.5 4h1m-5 8.5h1m-13 4.5h1m29 -6.5h1m-21.5 33h1m-1.5 -32h1m17 15.5h1m13.5 -25h1m-20.5 30h1m-26 -21.5h1m16 -3.5h1m31 15.5h1m-49 13h1m6.5 -6h1m42 -15h1m-35 41h1m-3.5 1.5h1m22 -45h1m-11.5 13h1m-4.5 30.5h1m-5.5 -7h1m4 -9h1m11.5 -24.5h1m-16 2h1m9.5 -1h1m0.5 -3h1m3.5 21h1m-21.5 -19.5h1m-10.5 30h1m29 -14.5h1m-20 27.5h1m-16 -59.5h1m11.5 20h1m-14.5 -3.5h1m15.5 46.5h1m23 -41h1m-37 28.5h1m21 -10.5h1m-27.5 -17.5h1m-3 34h1m32.5 -31h1m8 4.5h1m-33.5 -12h1m23.5 21.5h1m-5 -44.5h1m-9 54h1m-1.5 11h1m19 -54.5h1m-22 55.5h1m-9 -21.5h1m-1 -31.5h1m3.5 -11.5h1m14.5 43.5h1m-13.5 -41h1m-19 16.5h1m15.5 44h1m2 -55.5h1m-12 38h1m16.5 -17.5h1m-23.5 -14h1m9 -9h1m2.5 -2.5h1m-17 29h1m-6 -27h1m5.5 0.5h1m32.5 29.5h1m-17.5 -32.5h1m-22.5 16h1m8.5 0h1m-8.5 20h1m11 -18.5h1m17.5 28h1m-22.5 -5.5h1m17.5 -34h1m-28 18.5h1m-1 41h1m-1 -65h1m11 24.5h1m3 9h1m-5.5 16.5h1m-8 -17h1m13.5 23h1m-7.5 -56h1m24 20h1m-30.5 9.5h1m-4.5 -20h1m-7.5 3.5h1m-4 -5h1m5.5 55h1m26 -13.5h1m-32.5 4h1m33 -58h1m-4 49.5h1m-33 -15.5h1m17.5 15.5h1m4 -47.5h1m13 55.5h1m-30.5 -34.5h1m19 -2.5h1m-22.5 45.5h1m4.5 -24h1m25 -29.5h1m-37 -1.5h1m39 2.5h1m-13 38h1m-10 -38h1m14.5 20.5h1m-17.5 29h1m12.5 -24h1m5.5 19.5h1m-37 -40.5h1m15 35h1m21 6h1m-10.5 -57h1m-15.5 26h1m3.5 22h1m6 -6h1m9 -43.5h1m-1.5 28h1m-21.5 26.5h1m54.5 -17h1m-26.5 -12.5h1m12.5 19h1m5.5 -3h1m-4.5 -10.5h1m-9.5 -14.5h1m21.5 44h1m-17.5 -31h1m3.5 9.5h1m-7 4h1m-4.5 2h1m-1.5 -6.5h1m14.5 19h1m-21 -25.5h1m21 15.5h1m-8.5 -16.5h1m-1 11.5h1m-16 -1.5h1m17 -1.5h1m0.5 19.5h1m4.5 -6h1m-4.5 -1h1m2.5 -2.5h1m-11.5 -19.5h1m-7 22h1m-2 -10h1m-5 7h1m-2 -4h1m0.5 -23.5h1m-4 4h1m5.5 43h1m17.5 -15.5h1m-17 -3.5h1m2.5 0.5h1m3 4h1m-6.5 -14.5h1m-7 18.5h1m9 -25.5h1m3.5 36h1m-0.5 -14h1m0 8.5h1m-15 -3h1m8 5h1m-6.5 -29h1m-5.5 -9.5h1m2.5 31.5h1m7.5 9h1m-10.5 -30.5h1m12 16h1m6.5 4.5h1m-28 0.5h1m14 -34.5h1m12 24h1m-19.5 3.5h1m-0.5 3.5h1m1.5 -37.5h1m3 28.5h1m-3.5 11h1m-9.5 -26.5h1m-8.5 -12h1m12 37h1m1 -5h1m4 12.5h1m-6.5 5h1m0.5 -40h1m3 39.5h1m4 -3h1m-21 -8h1m-10 -12h1m22 -14h1m-6.5 21h1m-12.5 -7.5h1m-4 -13.5h1m14.5 28h1m5 -22.5h1m-10 -4h1m-0.5 30.5h1m11.5 -10h1m-8 7.5h1m-4 -7.5h1m-9 -8h1m20.5 10.5h1m-22 -19h1m16.5 -2.5h1m-27 12.5h1m28.5 1.5h1m-13 11h1m12.5 -19h1m-12.5 3.5h1m0.5 -7.5h1m-7 21.5h1m3.5 -16h1m5 16.5h1m-15 -17h1m-8.5 0h1m3.5 -7.5h1m15.5 20.5h1m-14 6h1m-2 -32h1m7 23.5h1m1.5 11h1m6.5 -9.5h1m-17.5 -17.5h1m14 10.5h1m-12 11h1m2 -4.5h1m-4 -6.5h1m4.5 14h1m-4 -3.5h1m7.5 -30h1m-25.5 28h1m17 -5.5h1m-9.5 -11.5h1m1 7.5h1m17 -4.5h1m-23 9h1m-7 -10.5h1m11 12h1m-13.5 -27.5h1m5.5 20.5h1m3 -8.5h1m-16.5 17h1m26.5 -7h1m-6 7.5h1m-5.5 -7h1m0.5 6.5h1m-2.5 1.5h1m-18.5 -30.5h1m11.5 16.5h1m-2.5 14h1m5.5 -16.5h1m-7 21h1m-7 -24h1m6.5 17.5h1m4 -7.5h1m-19.5 13.5h1m15 -13h1m1.5 22h1m-13 -5.5h1m4 -9h1m-4 -15.5h1m14 35h1m-13.5 -11.5h1m11.5 6h1m-21.5 -33.5h1m19.5 40h1m-4.5 -11.5h1m-1.5 -5.5h1m-24 -5.5h1m30 19.5h1m-14.5 -27h1m14.5 -4.5h1m-22 21.5h1m17 0.5h1m-19 -15h1m1 12.5h1m6.5 -25h1m-10.5 18.5h1m6 -4.5h1m7 0.5h1m4 1.5h1m-4 -10h1m-3.5 24.5h1m-11 -27.5h1m-2.5 -6.5h1m18 33h1m-18 -16.5h1m8 2h1m-6 -13.5h1m-5 -5.5h1m2 20h1m-8.5 6.5h1m4.5 -15h1m8 9h1m5.5 9.5h1m-19 -9.5h1m2 10h1m10.5 8h1m6 -48h1m-14.5 29h1m-15.5 -2h1m4.5 -23h1m-7.5 7h1m18.5 20.5h1m-7 -21.5h1m-6.5 2.5h1m8.5 28h1m-7.5 -0.5h1m17.5 11.5h1m-10.5 0h1m-8.5 -9.5h1m8 1.5h1m-9.5 -12.5h1m11 -7.5h1m-2 8.5h1m-12 -6.5h1m-5.5 -11h1m14 8.5h1m-3 -6.5h1m-5.5 18h1m-0.5 -2h1m0 -2.5h1m0 -5.5h1m1 4h1m-4 4.5h1m-20.5 -33.5h1m24 52h1m-1 -37h1m-21.5 29h1m1.5 -17h1m0 6.5h1m15.5 12h1m-4 -17h1m-6.5 -5.5h1m3 21.5h1m-15 -23h1m-4 8h1m-1.5 -8.5h1m-9.5 -4h1m27 32h1m-4 -28.5h1m-11.5 8h1m1 22.5h1m-5.5 -43.5h1m8.5 27.5h1m-3.5 7.5h1m-2.5 -53.5h1m-5 41.5h1m-1 -3h1m2.5 1h1m8 11h1m7.5 8h1m-21 -15h1m15.5 15.5h1m-12.5 -16.5h1m-16.5 -32h1m14 29.5h1m4 25h1m0.5 -26h1m-0.5 13h1m-5.5 -20.5h1m9 29h1m-5 -12h1m7.5 5.5h1m-7.5 -7.5h1m-9 14.5h1m7 -15.5h1m-8.5 -3.5h1m-19 -9h1m16.5 4h1m-2 1h1m-9.5 -1.5h1m-0.5 -16.5h1m-2.5 16.5h1m-12 11.5h1m11 2.5h1m14.5 5.5h1m4.5 -1.5h1m-6 -13.5h1m-20 -4h1m-3 19.5h1m15 -15.5h1m5 27h1m-18 -32h1m-0.5 6.5h1m19 21h1m-5 -1h1m-10.5 -14.5h1m16.5 14.5h1m-10.5 -26.5h1m-19.5 -4h1m-6 -31h1m14 36h1m8 -2h1m-7 3h1m4.5 -9h1m-11.5 13.5h1m12 13h1m-18 -15.5h1m10.5 24.5h1m-2.5 -12h1m-3 -0.5h1m-8 -3h1m-4.5 -24.5h1m-0.5 -22.5h1m-5.5 1.5h1m13.5 10.5h1m-22 5h1m19.5 24.5h1m-17.5 -34.5h1m19.5 13.5h1m-8 3h1m16.5 22h1m-25.5 -38h1m0 -9.5h1m9 25.5h1m2 -18h1m-12.5 2.5h1m18.5 27h1m-36.5 -42.5h1m7 44h1m-3.5 -8h1m9.5 -9.5h1m6.5 -5h1m0.5 5h1m5.5 10h1m-25.5 -14h1m6 17h1m12 -19h1m1 6.5h1m-30.5 -24h1m3 24.5h1m2.5 2.5h1m20 10.5h1m-11.5 14.5h1m3.5 -2h1m-3.5 -38h1m0 21.5h1m6 -15h1m-5.5 9.5h1m9.5 2.5h1m-26.5 -11h1m2.5 -5h1m-3.5 18.5h1m-1 4.5h1m15.5 -35h1m0.5 23.5h1m-23 4h1m16.5 -4.5h1m-2.5 -2h1m-11 -11h1m12 38h1m-5 13.5h1m10 -49.5h1m-10.5 8.5h1m-9.5 4.5h1m25 5h1m-18.5 -13h1m0 20h1m-3 -27.5h1m-1 13h1m-10 -24h1m8.5 52h1m-12 -37.5h1m-0.5 27h1m6.5 -18h1m-18.5 -0.5h1m36.5 16h1m-32.5 -16h1m-7.5 -8.5h1m18 14h1m9 -8.5h1m-1 9h1m0.5 12h1m-4.5 -19h1m-26.5 -5h1m35.5 44h1m-17.5 -37.5h1m-8.5 29.5h1m12 -0.5h1m5.5 -17.5h1m0.5 32.5h1m-32 -69.5h1m19 51h1m-23 10h1m19.5 -24h1m-6.5 -35h1m10.5 1.5h1m5.5 6h1m1 8.5h1m-18 -7h1m18 11h1m-24.5 24h1m21.5 -23h1m-37.5 13h1m-1 -25h1m26 3h1m-6.5 -8h1m4.5 39h1m2 5.5h1m-3 -15h1m-12.5 -14.5h1m-14.5 49h1" stroke="#111" stroke-opacity="0.33" stroke-width="1.1" fill="none"/>
</g>
<rect x="421.8" y="211.6" width="46.5" height="86.6" fill="none" stroke="#231f20" stroke-width="1.4"/>
<text x="476" y="235.3" font-size="15" font-weight="bold" textLength="31.8" lengthAdjust="spacingAndGlyphs" fill="#231f20" stroke="#231f20" stroke-width="0.35">62%</text>
<path d="M69.8 338.1H202.8V471.1" stroke="#8c8c8c" stroke-width="1.1" fill="none"/>
<path d="M69.8 338.1V474.1M66.8 471.1H202.8" stroke="#8c8c8c" stroke-width="1.1" fill="none"/>
<path d="M69.8 471.1v3.5M79.8 471.1v2M85.7 471.1v2M89.8 471.1v2M93.0 471.1v2M95.7 471.1v2M97.9 471.1v2M99.8 471.1v2M101.5 471.1v2M103.0 471.1v3.5M113.1 471.1v2M118.9 471.1v2M123.1 471.1v2M126.3 471.1v2M128.9 471.1v2M131.1 471.1v2M133.1 471.1v2M134.8 471.1v2M136.3 471.1v3.5M146.3 471.1v2M152.2 471.1v2M156.3 471.1v2M159.5 471.1v2M162.2 471.1v2M164.4 471.1v2M166.3 471.1v2M168.0 471.1v2M169.6 471.1v3.5M179.6 471.1v2M185.4 471.1v2M189.6 471.1v2M192.8 471.1v2M195.4 471.1v2M197.6 471.1v2M199.6 471.1v2M201.3 471.1v2M202.8 471.1v3.5" stroke="#9a9a9a" stroke-width="0.9" fill="none"/>
<path d="M69.8 471.1h-3M69.8 460.0h-3M69.8 448.9h-3M69.8 437.9h-3M69.8 426.8h-3M69.8 415.7h-3M69.8 404.6h-3M69.8 393.5h-3M69.8 382.4h-3M69.8 371.4h-3M69.8 360.3h-3M69.8 349.2h-3M69.8 338.1h-3" stroke="#9a9a9a" stroke-width="0.9" fill="none"/>
<path d="M70.5 471.1 L70.5 372.2 L71.2 349.1 L71.9 349.9 L72.6 384.6 L73.3 352.3 L74.0 390.5 L74.7 361.8 L75.4 353.1 L76.1 349.6 L76.8 345.5 L77.5 355.4 L78.2 356.9 L78.9 371.5 L79.6 355.2 L80.3 359.0 L81.0 370.2 L81.7 380.3 L82.4 369.4 L83.1 395.6 L83.8 390.0 L84.5 391.6 L85.2 429.7 L85.9 413.6 L86.6 441.0 L87.3 443.3 L88.0 404.0 L88.7 440.0 L89.4 433.4 L90.1 443.9 L90.8 445.8 L91.5 441.7 L92.2 458.1 L92.9 443.2 L93.6 448.2 L94.3 447.6 L95.0 453.1 L95.7 457.6 L96.4 455.3 L97.1 453.6 L97.8 440.6 L98.5 440.2 L99.2 448.6 L99.9 440.0 L100.6 450.5 L101.3 457.9 L102.0 441.2 L102.7 446.0 L103.4 456.6 L104.1 446.5 L104.8 450.5 L105.5 456.7 L106.2 441.3 L106.9 453.9 L107.6 465.4 L108.3 440.6 L109.0 447.2 L109.7 466.4 L110.4 446.2 L111.1 452.4 L111.8 446.4 L112.5 446.4 L113.2 451.5 L113.9 420.0 L114.6 449.7 L115.3 457.0 L116.0 439.6 L116.7 459.2 L117.4 449.3 L118.1 464.1 L118.8 436.7 L119.5 447.7 L120.2 447.1 L120.9 437.3 L121.6 448.5 L122.3 440.4 L123.0 438.8 L123.7 416.7 L124.4 438.0 L125.1 445.7 L125.8 449.8 L126.5 452.6 L127.2 448.4 L127.9 451.4 L128.6 436.4 L129.3 441.8 L130.0 449.4 L130.7 428.0 L131.4 443.6 L132.1 451.1 L132.8 439.8 L133.5 452.2 L134.2 443.3 L134.9 453.0 L135.6 442.3 L136.3 456.2 L137.0 440.7 L137.7 432.0 L138.4 448.5 L139.1 446.7 L139.8 452.1 L140.5 447.0 L141.2 456.9 L141.9 456.2 L142.6 457.0 L143.3 452.1 L144.0 457.3 L144.7 465.3 L145.4 462.8 L146.1 459.5 L146.8 467.3 L147.5 469.4 L148.2 469.5 L148.9 469.9 L149.6 469.5 L150.0 471.1Z" fill="#c5c8d1" stroke="#8e929c" stroke-width="0.6" stroke-linejoin="bevel"/>
<path d="M222.6 338.5H354.2V470.8" stroke="#8c8c8c" stroke-width="1.1" fill="none"/>
<path d="M222.6 338.5V473.8M219.6 470.8H354.2" stroke="#8c8c8c" stroke-width="1.1" fill="none"/>
<path d="M222.6 470.8v3.5M232.5 470.8v2M238.3 470.8v2M242.4 470.8v2M245.6 470.8v2M248.2 470.8v2M250.4 470.8v2M252.3 470.8v2M254.0 470.8v2M255.5 470.8v3.5M265.4 470.8v2M271.2 470.8v2M275.3 470.8v2M278.5 470.8v2M281.1 470.8v2M283.3 470.8v2M285.2 470.8v2M286.9 470.8v2M288.4 470.8v3.5M298.3 470.8v2M304.1 470.8v2M308.2 470.8v2M311.4 470.8v2M314.0 470.8v2M316.2 470.8v2M318.1 470.8v2M319.8 470.8v2M321.3 470.8v3.5M331.2 470.8v2M337.0 470.8v2M341.1 470.8v2M344.3 470.8v2M346.9 470.8v2M349.1 470.8v2M351.0 470.8v2M352.7 470.8v2M354.2 470.8v3.5" stroke="#9a9a9a" stroke-width="0.9" fill="none"/>
<path d="M222.6 470.8h-3M222.6 459.8h-3M222.6 448.8h-3M222.6 437.7h-3M222.6 426.7h-3M222.6 415.7h-3M222.6 404.6h-3M222.6 393.6h-3M222.6 382.6h-3M222.6 371.6h-3M222.6 360.6h-3M222.6 349.5h-3M222.6 338.5h-3" stroke="#9a9a9a" stroke-width="0.9" fill="none"/>
<path d="M223.3 470.8 L223.3 404.1 L224.0 370.7 L224.7 366.0 L225.4 402.9 L226.1 376.0 L226.8 361.9 L227.5 401.9 L228.2 388.1 L228.9 400.7 L229.6 353.2 L230.3 344.3 L231.0 385.7 L231.7 374.9 L232.4 358.0 L233.1 366.7 L233.8 411.2 L234.5 405.0 L235.2 355.4 L235.9 410.8 L236.6 396.2 L237.3 416.9 L238.0 373.8 L238.7 408.1 L239.4 403.3 L240.1 400.7 L240.8 383.5 L241.5 421.2 L242.2 411.8 L242.9 443.7 L243.6 446.9 L244.3 445.4 L245.0 453.0 L245.7 436.0 L246.4 451.2 L247.1 446.9 L247.8 450.9 L248.5 444.8 L249.2 431.0 L249.9 437.9 L250.6 423.8 L251.3 425.2 L252.0 407.2 L252.7 420.2 L253.4 405.1 L254.1 419.9 L254.8 423.7 L255.5 411.8 L256.2 431.5 L256.9 457.0 L257.6 397.9 L258.3 431.8 L259.0 440.6 L259.7 425.3 L260.4 406.8 L261.1 430.6 L261.8 395.0 L262.5 413.0 L263.2 398.6 L263.9 407.8 L264.6 432.7 L265.3 427.2 L266.0 428.4 L266.7 411.0 L267.4 410.5 L268.1 427.7 L268.8 414.9 L269.5 452.8 L270.2 398.0 L270.9 454.0 L271.6 415.3 L272.3 447.0 L273.0 411.2 L273.7 425.0 L274.4 429.8 L275.1 412.3 L275.8 415.4 L276.5 403.2 L277.2 415.1 L277.9 423.2 L278.6 383.5 L279.3 436.3 L280.0 431.1 L280.7 399.5 L281.4 409.0 L282.1 415.1 L282.8 391.0 L283.5 439.5 L284.2 423.0 L284.9 452.2 L285.6 411.8 L286.3 427.0 L287.0 415.2 L287.7 383.5 L288.4 458.0 L289.1 424.4 L289.8 405.1 L290.5 437.9 L291.2 404.6 L291.9 421.4 L292.6 446.1 L293.3 452.0 L294.0 450.6 L294.7 432.5 L295.4 433.2 L296.1 422.7 L296.8 441.5 L297.5 445.0 L298.2 457.5 L298.9 456.6 L299.6 461.2 L300.3 460.5 L301.0 456.4 L301.7 463.5 L302.4 459.1 L303.1 458.5 L303.8 454.9 L304.5 460.8 L305.2 459.1 L305.9 460.2 L306.6 464.2 L307.3 457.1 L308.0 457.4 L308.7 455.8 L309.4 458.5 L310.1 458.8 L310.8 459.7 L311.5 468.9 L312.0 470.8Z" fill="#c5c8d1" stroke="#8e929c" stroke-width="0.6" stroke-linejoin="bevel"/>
<path d="M375.3 338.3H508.3V470.8" stroke="#8c8c8c" stroke-width="1.1" fill="none"/>
<path d="M375.3 338.3V473.8M372.3 470.8H508.3" stroke="#8c8c8c" stroke-width="1.1" fill="none"/>
<path d="M375.3 470.8v3.5M385.3 470.8v2M391.2 470.8v2M395.3 470.8v2M398.5 470.8v2M401.2 470.8v2M403.4 470.8v2M405.3 470.8v2M407.0 470.8v2M408.6 470.8v3.5M418.6 470.8v2M424.4 470.8v2M428.6 470.8v2M431.8 470.8v2M434.4 470.8v2M436.6 470.8v2M438.6 470.8v2M440.3 470.8v2M441.8 470.8v3.5M451.8 470.8v2M457.7 470.8v2M461.8 470.8v2M465.0 470.8v2M467.7 470.8v2M469.9 470.8v2M471.8 470.8v2M473.5 470.8v2M475.1 470.8v3.5M485.1 470.8v2M490.9 470.8v2M495.1 470.8v2M498.3 470.8v2M500.9 470.8v2M503.1 470.8v2M505.1 470.8v2M506.8 470.8v2M508.3 470.8v3.5" stroke="#9a9a9a" stroke-width="0.9" fill="none"/>
<path d="M375.3 470.8h-3M375.3 459.8h-3M375.3 448.7h-3M375.3 437.7h-3M375.3 426.6h-3M375.3 415.6h-3M375.3 404.6h-3M375.3 393.5h-3M375.3 382.5h-3M375.3 371.4h-3M375.3 360.4h-3M375.3 349.3h-3M375.3 338.3h-3" stroke="#9a9a9a" stroke-width="0.9" fill="none"/>
<path d="M375.6 470.8 L375.6 429.1 L376.3 408.8 L377.0 408.9 L377.7 398.2 L378.4 391.7 L379.1 386.7 L379.8 393.8 L380.5 393.6 L381.2 391.9 L381.9 410.0 L382.6 390.1 L383.3 361.6 L384.0 427.7 L384.7 450.8 L385.4 412.9 L386.1 344.6 L386.8 396.5 L387.5 417.6 L388.2 427.8 L388.9 403.6 L389.6 406.3 L390.3 406.6 L391.0 406.3 L391.7 439.3 L392.4 442.2 L393.1 425.0 L393.8 403.6 L394.5 428.1 L395.2 419.4 L395.9 442.7 L396.6 444.3 L397.3 446.8 L398.0 447.5 L398.7 436.4 L399.4 449.8 L400.1 454.0 L400.8 452.7 L401.5 430.1 L402.2 447.3 L402.9 454.5 L403.6 449.8 L404.3 412.8 L405.0 448.9 L405.7 451.5 L406.4 421.0 L407.1 442.2 L407.8 453.5 L408.5 449.2 L409.2 442.4 L409.9 450.5 L410.6 464.1 L411.3 431.5 L412.0 440.6 L412.7 466.8 L413.4 449.9 L414.1 452.5 L414.8 446.7 L415.5 466.4 L416.2 447.3 L416.9 456.1 L417.6 434.8 L418.3 451.7 L419.0 419.4 L419.7 457.2 L420.4 434.4 L421.1 423.1 L421.8 466.1 L422.5 434.6 L423.2 439.6 L423.9 438.3 L424.6 444.9 L425.3 435.7 L426.0 460.1 L426.7 422.9 L427.4 437.1 L428.1 425.9 L428.8 405.6 L429.5 408.1 L430.2 435.2 L430.9 433.9 L431.6 424.9 L432.3 432.4 L433.0 411.1 L433.7 412.0 L434.4 411.2 L435.1 441.0 L435.8 442.6 L436.5 455.4 L437.2 437.3 L437.9 418.2 L438.6 421.8 L439.3 435.5 L440.0 419.5 L440.7 437.7 L441.4 403.5 L442.1 412.9 L442.8 395.0 L443.5 436.6 L444.2 418.4 L444.9 446.2 L445.6 428.5 L446.3 435.3 L447.0 436.0 L447.7 436.8 L448.4 462.0 L449.1 441.4 L449.8 432.9 L450.5 441.3 L451.2 413.2 L451.9 443.0 L452.6 429.0 L453.3 441.5 L454.0 440.1 L454.7 454.1 L455.4 449.9 L456.1 444.5 L456.8 441.5 L457.5 449.1 L458.2 450.4 L458.9 451.2 L459.6 454.9 L460.3 455.0 L461.0 455.8 L461.7 460.8 L462.4 467.3 L463.1 468.2 L463.8 467.8 L464.0 470.8Z" fill="#c5c8d1" stroke="#8e929c" stroke-width="0.6" stroke-linejoin="bevel"/>
<text x="157.2" y="351.5" font-size="16.8" font-weight="bold" textLength="43.4" lengthAdjust="spacingAndGlyphs" fill="#231f20" stroke="#231f20" stroke-width="0.35">upper</text>
<text x="308.2" y="351.5" font-size="16.8" font-weight="bold" textLength="43.6" lengthAdjust="spacingAndGlyphs" fill="#231f20" stroke="#231f20" stroke-width="0.35">upper</text>
<text x="461.6" y="351.5" font-size="16.8" font-weight="bold" textLength="43.9" lengthAdjust="spacingAndGlyphs" fill="#231f20" stroke="#231f20" stroke-width="0.35">upper</text>
<path d="M114.2 403.5H169M114.2 401.0v5M169 401.0v5" stroke="#231f20" stroke-width="1.4" fill="none"/>
<path d="M266.8 403.5H321.6M266.8 401.0v5M321.6 401.0v5" stroke="#231f20" stroke-width="1.4" fill="none"/>
<path d="M419.8 403.5H474.6M419.8 401.0v5M474.6 401.0v5" stroke="#231f20" stroke-width="1.4" fill="none"/>
<text x="153.2" y="398.6" font-size="14.5" font-weight="bold" textLength="31.7" lengthAdjust="spacingAndGlyphs" fill="#231f20" stroke="#231f20" stroke-width="0.35">16%</text>
<text x="306" y="398.6" font-size="14.5" font-weight="bold" textLength="31.8" lengthAdjust="spacingAndGlyphs" fill="#231f20" stroke="#231f20" stroke-width="0.35">29%</text>
<text x="458.7" y="398.6" font-size="14.5" font-weight="bold" textLength="32.3" lengthAdjust="spacingAndGlyphs" fill="#231f20" stroke="#231f20" stroke-width="0.35">33%</text>
<path d="M69.8 480.7H202.8V612.3" stroke="#8c8c8c" stroke-width="1.1" fill="none"/>
<path d="M69.8 480.7V615.3M66.8 612.3H202.8" stroke="#8c8c8c" stroke-width="1.1" fill="none"/>
<path d="M69.8 612.3v3.5M79.8 612.3v2M85.7 612.3v2M89.8 612.3v2M93.0 612.3v2M95.7 612.3v2M97.9 612.3v2M99.8 612.3v2M101.5 612.3v2M103.0 612.3v3.5M113.1 612.3v2M118.9 612.3v2M123.1 612.3v2M126.3 612.3v2M128.9 612.3v2M131.1 612.3v2M133.1 612.3v2M134.8 612.3v2M136.3 612.3v3.5M146.3 612.3v2M152.2 612.3v2M156.3 612.3v2M159.5 612.3v2M162.2 612.3v2M164.4 612.3v2M166.3 612.3v2M168.0 612.3v2M169.6 612.3v3.5M179.6 612.3v2M185.4 612.3v2M189.6 612.3v2M192.8 612.3v2M195.4 612.3v2M197.6 612.3v2M199.6 612.3v2M201.3 612.3v2M202.8 612.3v3.5" stroke="#9a9a9a" stroke-width="0.9" fill="none"/>
<path d="M69.8 612.3h-3M69.8 601.3h-3M69.8 590.4h-3M69.8 579.4h-3M69.8 568.4h-3M69.8 557.5h-3M69.8 546.5h-3M69.8 535.5h-3M69.8 524.6h-3M69.8 513.6h-3M69.8 502.6h-3M69.8 491.7h-3M69.8 480.7h-3" stroke="#9a9a9a" stroke-width="0.9" fill="none"/>
<path d="M70.5 612.3 L70.5 540.7 L71.2 508.1 L71.9 506.2 L72.6 541.7 L73.3 532.3 L74.0 496.0 L74.7 507.5 L75.4 540.6 L76.1 514.6 L76.8 515.4 L77.5 505.2 L78.2 556.6 L78.9 491.0 L79.6 510.7 L80.3 519.4 L81.0 488.5 L81.7 516.4 L82.4 513.8 L83.1 545.9 L83.8 519.3 L84.5 527.9 L85.2 545.2 L85.9 573.2 L86.6 592.3 L87.3 579.2 L88.0 580.0 L88.7 597.5 L89.4 543.6 L90.1 599.0 L90.8 581.7 L91.5 545.4 L92.2 591.7 L92.9 572.1 L93.6 549.6 L94.3 570.6 L95.0 536.0 L95.7 554.6 L96.4 559.6 L97.1 589.8 L97.8 585.3 L98.5 559.9 L99.2 562.2 L99.9 582.4 L100.6 555.9 L101.3 548.2 L102.0 555.0 L102.7 579.7 L103.4 543.0 L104.1 543.0 L104.8 585.5 L105.5 544.4 L106.2 555.7 L106.9 555.6 L107.6 543.5 L108.3 552.2 L109.0 545.4 L109.7 545.1 L110.4 576.3 L111.1 558.2 L111.8 567.0 L112.5 542.0 L113.2 536.5 L113.9 542.6 L114.6 560.7 L115.3 567.6 L116.0 554.0 L116.7 546.4 L117.4 550.6 L118.1 518.9 L118.8 545.2 L119.5 533.9 L120.2 516.8 L120.9 521.9 L121.6 544.5 L122.3 532.7 L123.0 510.4 L123.7 562.6 L124.4 522.2 L125.1 503.0 L125.8 515.4 L126.5 548.4 L127.2 538.8 L127.9 573.5 L128.6 520.4 L129.3 530.0 L130.0 530.0 L130.7 506.1 L131.4 554.2 L132.1 496.0 L132.8 518.7 L133.5 520.7 L134.2 501.9 L134.9 497.0 L135.6 509.6 L136.3 515.4 L137.0 524.2 L137.7 536.4 L138.4 553.5 L139.1 510.1 L139.8 535.0 L140.5 515.1 L141.2 528.4 L141.9 542.9 L142.6 520.2 L143.3 549.9 L144.0 527.1 L144.7 534.4 L145.4 554.6 L146.1 562.8 L146.8 555.0 L147.5 540.7 L148.2 554.1 L148.9 553.6 L149.6 553.8 L150.3 546.8 L151.0 581.0 L151.7 559.4 L152.4 557.5 L153.1 570.4 L153.8 571.3 L154.5 590.0 L155.2 593.0 L155.9 596.2 L156.6 605.6 L157.3 601.4 L158.0 605.7 L158.0 612.3Z" fill="#c5c8d1" stroke="#8e929c" stroke-width="0.6" stroke-linejoin="bevel"/>
<path d="M222.6 480.7H354.2V612.8" stroke="#8c8c8c" stroke-width="1.1" fill="none"/>
<path d="M222.6 480.7V615.8M219.6 612.8H354.2" stroke="#8c8c8c" stroke-width="1.1" fill="none"/>
<path d="M222.6 612.8v3.5M232.5 612.8v2M238.3 612.8v2M242.4 612.8v2M245.6 612.8v2M248.2 612.8v2M250.4 612.8v2M252.3 612.8v2M254.0 612.8v2M255.5 612.8v3.5M265.4 612.8v2M271.2 612.8v2M275.3 612.8v2M278.5 612.8v2M281.1 612.8v2M283.3 612.8v2M285.2 612.8v2M286.9 612.8v2M288.4 612.8v3.5M298.3 612.8v2M304.1 612.8v2M308.2 612.8v2M311.4 612.8v2M314.0 612.8v2M316.2 612.8v2M318.1 612.8v2M319.8 612.8v2M321.3 612.8v3.5M331.2 612.8v2M337.0 612.8v2M341.1 612.8v2M344.3 612.8v2M346.9 612.8v2M349.1 612.8v2M351.0 612.8v2M352.7 612.8v2M354.2 612.8v3.5" stroke="#9a9a9a" stroke-width="0.9" fill="none"/>
<path d="M222.6 612.8h-3M222.6 601.8h-3M222.6 590.8h-3M222.6 579.8h-3M222.6 568.8h-3M222.6 557.8h-3M222.6 546.8h-3M222.6 535.7h-3M222.6 524.7h-3M222.6 513.7h-3M222.6 502.7h-3M222.6 491.7h-3M222.6 480.7h-3" stroke="#9a9a9a" stroke-width="0.9" fill="none"/>
<path d="M223.3 612.8 L223.3 572.9 L224.0 573.5 L224.7 573.5 L225.4 572.2 L226.1 579.3 L226.8 574.4 L227.5 571.6 L228.2 543.5 L228.9 566.3 L229.6 568.5 L230.3 570.6 L231.0 577.0 L231.7 575.7 L232.4 579.7 L233.1 579.2 L233.8 596.0 L234.5 595.3 L235.2 597.7 L235.9 605.9 L236.6 599.4 L237.3 591.1 L238.0 584.9 L238.7 599.9 L239.4 591.8 L240.1 587.2 L240.8 571.0 L241.5 601.3 L242.2 580.3 L242.9 595.0 L243.6 607.0 L244.3 592.8 L245.0 597.0 L245.7 601.6 L246.4 594.0 L247.1 603.2 L247.8 593.3 L248.5 585.7 L249.2 605.9 L249.9 594.0 L250.6 595.1 L251.3 586.9 L252.0 578.0 L252.7 571.0 L253.4 600.3 L254.1 582.7 L254.8 599.5 L255.5 598.2 L256.2 596.8 L256.9 598.8 L257.6 582.3 L258.3 582.2 L259.0 596.6 L259.7 601.6 L260.4 528.6 L261.1 594.5 L261.8 586.3 L262.5 582.1 L263.2 581.1 L263.9 590.0 L264.6 595.5 L265.3 594.9 L266.0 545.0 L266.7 588.1 L267.4 583.8 L268.1 584.1 L268.8 573.6 L269.5 585.0 L270.2 579.0 L270.9 566.4 L271.6 583.4 L272.3 562.1 L273.0 566.3 L273.7 544.7 L274.4 559.2 L275.1 590.3 L275.8 542.5 L276.5 543.0 L277.2 562.7 L277.9 570.2 L278.6 555.9 L279.3 509.7 L280.0 527.9 L280.7 501.0 L281.4 523.3 L282.1 562.4 L282.8 523.3 L283.5 540.1 L284.2 521.5 L284.9 540.4 L285.6 590.8 L286.3 488.5 L287.0 526.8 L287.7 530.6 L288.4 546.1 L289.1 552.4 L289.8 523.6 L290.5 546.2 L291.2 498.0 L291.9 546.4 L292.6 560.8 L293.3 539.1 L294.0 577.7 L294.7 550.6 L295.4 540.5 L296.1 547.0 L296.8 529.9 L297.5 585.0 L298.2 542.3 L298.9 555.2 L299.6 566.0 L300.3 547.7 L301.0 547.2 L301.7 569.0 L302.4 582.0 L303.1 575.8 L303.8 580.6 L304.5 582.6 L305.2 583.1 L305.9 585.9 L306.6 592.9 L307.3 581.7 L308.0 585.7 L308.7 604.5 L309.4 587.6 L310.1 586.3 L310.8 594.5 L311.5 594.6 L312.2 592.4 L312.9 585.0 L313.6 594.0 L314.3 599.1 L315.0 597.7 L315.7 599.2 L316.4 609.3 L317.1 590.0 L317.8 608.6 L318.0 612.8Z" fill="#c5c8d1" stroke="#8e929c" stroke-width="0.6" stroke-linejoin="bevel"/>
<path d="M375.3 480.7H508.3V612.8" stroke="#8c8c8c" stroke-width="1.1" fill="none"/>
<path d="M375.3 480.7V615.8M372.3 612.8H508.3" stroke="#8c8c8c" stroke-width="1.1" fill="none"/>
<path d="M375.3 612.8v3.5M385.3 612.8v2M391.2 612.8v2M395.3 612.8v2M398.5 612.8v2M401.2 612.8v2M403.4 612.8v2M405.3 612.8v2M407.0 612.8v2M408.6 612.8v3.5M418.6 612.8v2M424.4 612.8v2M428.6 612.8v2M431.8 612.8v2M434.4 612.8v2M436.6 612.8v2M438.6 612.8v2M440.3 612.8v2M441.8 612.8v3.5M451.8 612.8v2M457.7 612.8v2M461.8 612.8v2M465.0 612.8v2M467.7 612.8v2M469.9 612.8v2M471.8 612.8v2M473.5 612.8v2M475.1 612.8v3.5M485.1 612.8v2M490.9 612.8v2M495.1 612.8v2M498.3 612.8v2M500.9 612.8v2M503.1 612.8v2M505.1 612.8v2M506.8 612.8v2M508.3 612.8v3.5" stroke="#9a9a9a" stroke-width="0.9" fill="none"/>
<path d="M375.3 612.8h-3M375.3 601.8h-3M375.3 590.8h-3M375.3 579.8h-3M375.3 568.8h-3M375.3 557.8h-3M375.3 546.8h-3M375.3 535.7h-3M375.3 524.7h-3M375.3 513.7h-3M375.3 502.7h-3M375.3 491.7h-3M375.3 480.7h-3" stroke="#9a9a9a" stroke-width="0.9" fill="none"/>
<path d="M376.0 612.8 L376.0 589.3 L376.7 593.5 L377.4 594.0 L378.1 602.3 L378.8 591.6 L379.5 582.4 L380.2 593.7 L380.9 584.9 L381.6 592.2 L382.3 591.3 L383.0 573.0 L383.7 588.7 L384.4 586.1 L385.1 593.6 L385.8 600.7 L386.5 594.8 L387.2 593.2 L387.9 595.1 L388.6 591.2 L389.3 597.6 L390.0 583.4 L390.7 597.1 L391.4 576.4 L392.1 605.6 L392.8 589.4 L393.5 577.6 L394.2 573.0 L394.9 600.4 L395.6 596.9 L396.3 590.2 L397.0 589.5 L397.7 596.9 L398.4 591.6 L399.1 588.2 L399.8 573.0 L400.5 594.5 L401.2 592.0 L401.9 577.1 L402.6 583.0 L403.3 572.5 L404.0 596.7 L404.7 573.2 L405.4 586.2 L406.1 591.8 L406.8 605.1 L407.5 594.6 L408.2 571.8 L408.9 573.5 L409.6 591.4 L410.3 596.0 L411.0 573.0 L411.7 577.6 L412.4 586.9 L413.1 607.4 L413.8 600.0 L414.5 596.5 L415.2 573.0 L415.9 574.4 L416.6 575.4 L417.3 593.1 L418.0 591.5 L418.7 586.2 L419.4 601.3 L420.1 592.8 L420.8 587.8 L421.5 567.1 L422.2 599.9 L422.9 558.0 L423.6 567.0 L424.3 576.6 L425.0 570.0 L425.7 571.0 L426.4 601.2 L427.1 591.5 L427.8 565.2 L428.5 566.7 L429.2 557.3 L429.9 548.3 L430.6 569.4 L431.3 562.0 L432.0 594.2 L432.7 545.2 L433.4 542.1 L434.1 533.0 L434.8 540.6 L435.5 533.1 L436.2 533.9 L436.9 525.8 L437.6 534.3 L438.3 504.3 L439.0 488.5 L439.7 519.0 L440.4 518.2 L441.1 517.6 L441.8 520.2 L442.5 510.5 L443.2 515.1 L443.9 490.0 L444.6 510.0 L445.3 522.7 L446.0 496.3 L446.7 518.2 L447.4 545.0 L448.1 518.9 L448.8 488.5 L449.5 488.3 L450.2 511.1 L450.9 533.9 L451.6 515.3 L452.3 518.2 L453.0 522.9 L453.7 512.2 L454.4 549.0 L455.1 534.3 L455.8 547.0 L456.5 553.5 L457.2 569.3 L457.9 565.9 L458.6 554.4 L459.3 574.0 L460.0 592.9 L460.7 589.2 L461.4 595.8 L462.1 603.9 L462.8 607.7 L463.0 612.8Z" fill="#c5c8d1" stroke="#8e929c" stroke-width="0.6" stroke-linejoin="bevel"/>
<text x="158.3" y="494.6" font-size="16.8" font-weight="bold" textLength="40.6" lengthAdjust="spacingAndGlyphs" fill="#231f20" stroke="#231f20" stroke-width="0.35">lower</text>
<text x="313.3" y="494.6" font-size="16.8" font-weight="bold" textLength="39.5" lengthAdjust="spacingAndGlyphs" fill="#231f20" stroke="#231f20" stroke-width="0.35">lower</text>
<text x="464" y="494.6" font-size="16.8" font-weight="bold" textLength="40.9" lengthAdjust="spacingAndGlyphs" fill="#231f20" stroke="#231f20" stroke-width="0.35">lower</text>
<path d="M114.8 548.5H169.6M114.8 546.0v5M169.6 546.0v5" stroke="#231f20" stroke-width="1.4" fill="none"/>
<path d="M269.1 548.7H323.4M269.1 546.2v5M323.4 546.2v5" stroke="#231f20" stroke-width="1.4" fill="none"/>
<path d="M419.8 548.5H474.6M419.8 546.0v5M474.6 546.0v5" stroke="#231f20" stroke-width="1.4" fill="none"/>
<text x="152.9" y="544.1" font-size="14.5" font-weight="bold" textLength="32" lengthAdjust="spacingAndGlyphs" fill="#231f20" stroke="#231f20" stroke-width="0.35">49%</text>
<text x="307.5" y="544.1" font-size="14.5" font-weight="bold" textLength="31.7" lengthAdjust="spacingAndGlyphs" fill="#231f20" stroke="#231f20" stroke-width="0.35">64%</text>
<text x="458.7" y="544.1" font-size="14.5" font-weight="bold" textLength="31.8" lengthAdjust="spacingAndGlyphs" fill="#231f20" stroke="#231f20" stroke-width="0.35">71%</text>
<line x1="45.3" y1="348.3" x2="45.3" y2="431.4" stroke="#333" stroke-width="1.3"/>
<line x1="45.3" y1="521" x2="45.3" y2="604.8" stroke="#333" stroke-width="1.3"/>
<text x="48.9" y="513.6" font-size="15" textLength="72.5" lengthAdjust="spacingAndGlyphs" transform="rotate(-90 48.9 513.6)" fill="#333" stroke="#333" stroke-width="0.2">Frequency</text>
<line x1="70.6" y1="632.9" x2="255.2" y2="632.9" stroke="#333" stroke-width="1.3"/>
<line x1="331.4" y1="632.9" x2="507" y2="632.9" stroke="#333" stroke-width="1.3"/>
<text x="265.4" y="638.3" font-size="15" textLength="49" lengthAdjust="spacingAndGlyphs" fill="#333" stroke="#333" stroke-width="0.2">CD 150</text>
<text x="5.5" y="675.5" font-size="25" font-weight="bold" textLength="17" lengthAdjust="spacingAndGlyphs" fill="#231f20" stroke="#231f20" stroke-width="0.35">C</text>
<text x="52.4" y="671.3" font-size="14" textLength="15.5" lengthAdjust="spacingAndGlyphs" fill="#333" stroke="#333" stroke-width="0.2">80</text>
<text x="52.4" y="757.4" font-size="14" textLength="15.5" lengthAdjust="spacingAndGlyphs" fill="#333" stroke="#333" stroke-width="0.2">60</text>
<text x="52.4" y="843.4" font-size="14" textLength="15.5" lengthAdjust="spacingAndGlyphs" fill="#333" stroke="#333" stroke-width="0.2">40</text>
<text x="52.4" y="928.2" font-size="14" textLength="15.5" lengthAdjust="spacingAndGlyphs" fill="#333" stroke="#333" stroke-width="0.2">20</text>
<text x="41.3" y="875.7" font-size="18" font-weight="bold" textLength="101.2" lengthAdjust="spacingAndGlyphs" transform="rotate(-90 41.3 875.7)" fill="#231f20" stroke="#231f20" stroke-width="0.35">%CD150(+)</text>
<path d="M72.4 666V1008.2H520" stroke="#8c8c8c" stroke-width="1.2" fill="none"/>
<rect x="89.8" y="871" width="33.2" height="137.20000000000005" fill="#46509e" stroke="#231f20" stroke-width="1.3"/>
<rect x="123" y="820.6" width="32" height="187.60000000000002" fill="#fdf1a0" stroke="#231f20" stroke-width="1.3"/>
<rect x="155" y="752.6" width="33" height="255.60000000000002" fill="#238a5a" stroke="#231f20" stroke-width="1.3"/>
<path d="M106.2 871V863.7M103.7 863.7h5" stroke="#231f20" stroke-width="1.3" fill="none"/>
<path d="M139.5 820.6V815.3M137.0 815.3h5" stroke="#231f20" stroke-width="1.3" fill="none"/>
<path d="M171.8 752.6V739.6M169.3 739.6h5" stroke="#231f20" stroke-width="1.3" fill="none"/>
<rect x="249.9" y="937.7" width="33.49999999999997" height="70.5" fill="#46509e" stroke="#231f20" stroke-width="1.3"/>
<rect x="283.4" y="881.2" width="32.80000000000001" height="127.0" fill="#fdf1a0" stroke="#231f20" stroke-width="1.3"/>
<rect x="316.2" y="893.8" width="32.30000000000001" height="114.40000000000009" fill="#238a5a" stroke="#231f20" stroke-width="1.3"/>
<path d="M267 937.7V931.2M264.5 931.2h5" stroke="#231f20" stroke-width="1.3" fill="none"/>
<path d="M300 881.2V878.8M297.5 878.8h5" stroke="#231f20" stroke-width="1.3" fill="none"/>
<path d="M331.9 893.8V875.4M329.4 875.4h5" stroke="#231f20" stroke-width="1.3" fill="none"/>
<rect x="410.6" y="796.1" width="33.19999999999999" height="212.10000000000002" fill="#46509e" stroke="#231f20" stroke-width="1.3"/>
<rect x="443.8" y="731.2" width="32.39999999999998" height="277.0" fill="#fdf1a0" stroke="#231f20" stroke-width="1.3"/>
<rect x="476.2" y="709.5" width="32.60000000000002" height="298.70000000000005" fill="#238a5a" stroke="#231f20" stroke-width="1.3"/>
<path d="M427.2 796.1V785M424.7 785h5" stroke="#231f20" stroke-width="1.3" fill="none"/>
<path d="M460 731.2V718.1M457.5 718.1h5" stroke="#231f20" stroke-width="1.3" fill="none"/>
<path d="M492.3 709.5V696.2M489.8 696.2h5" stroke="#231f20" stroke-width="1.3" fill="none"/>
<line x1="106.5" y1="800.3" x2="138.8" y2="800.3" stroke="#231f20" stroke-width="1.3"/>
<text x="122.5" y="802.4" font-size="16.5" textLength="22.8" lengthAdjust="spacingAndGlyphs" text-anchor="middle" fill="#333" stroke="#333" stroke-width="0.2">***</text>
<line x1="138.4" y1="733.4" x2="171.8" y2="733.4" stroke="#231f20" stroke-width="1.3"/>
<text x="153.5" y="735.5" font-size="16.5" textLength="14.8" lengthAdjust="spacingAndGlyphs" text-anchor="middle" fill="#333" stroke="#333" stroke-width="0.2">**</text>
<line x1="264.9" y1="871.2" x2="297.2" y2="871.2" stroke="#231f20" stroke-width="1.3"/>
<text x="280.2" y="873.3" font-size="16.5" textLength="15.7" lengthAdjust="spacingAndGlyphs" text-anchor="middle" fill="#333" stroke="#333" stroke-width="0.2">**</text>
<line x1="299.5" y1="852.3" x2="331.2" y2="852.3" stroke="#231f20" stroke-width="1.3"/>
<text x="316.4" y="848.8" font-size="12" textLength="19" lengthAdjust="spacingAndGlyphs" text-anchor="middle" fill="#333" stroke="#333" stroke-width="0.2">n.s.</text>
<line x1="424.9" y1="713" x2="457.2" y2="713" stroke="#231f20" stroke-width="1.3"/>
<text x="441.5" y="715.4" font-size="16.5" textLength="7.2" lengthAdjust="spacingAndGlyphs" text-anchor="middle" fill="#333" stroke="#333" stroke-width="0.2">*</text>
<line x1="464.2" y1="690" x2="496.5" y2="690" stroke="#231f20" stroke-width="1.3"/>
<text x="483.1" y="684.9" font-size="12" textLength="19.4" lengthAdjust="spacingAndGlyphs" text-anchor="middle" fill="#333" stroke="#333" stroke-width="0.2">n.s.</text>
<rect x="90.5" y="668.8" width="13.5" height="12.5" fill="#46509e" stroke="#231f20" stroke-width="1.2"/>
<text x="108" y="679.5" font-size="13" font-weight="bold" textLength="56.5" lengthAdjust="spacingAndGlyphs" fill="#231f20" stroke="#231f20" stroke-width="0.35">10 weeks</text>
<rect x="175" y="668.8" width="13.5" height="12.5" fill="#fdf1a0" stroke="#231f20" stroke-width="1.2"/>
<text x="192" y="679.5" font-size="13" font-weight="bold" textLength="56.75" lengthAdjust="spacingAndGlyphs" fill="#231f20" stroke="#231f20" stroke-width="0.35">15 weeks</text>
<rect x="260.5" y="668.8" width="13.5" height="12.5" fill="#238a5a" stroke="#231f20" stroke-width="1.2"/>
<text x="277" y="679.5" font-size="13" font-weight="bold" textLength="56.75" lengthAdjust="spacingAndGlyphs" fill="#231f20" stroke="#231f20" stroke-width="0.35">80 weeks</text>
<text x="118" y="1024.9" font-size="17.8" font-weight="bold" textLength="19.2" lengthAdjust="spacingAndGlyphs" fill="#231f20" stroke="#231f20" stroke-width="0.35">SP</text>
<text x="137.3" y="1019.8" font-size="10.7" font-weight="bold" textLength="22.2" lengthAdjust="spacingAndGlyphs" fill="#231f20" stroke="#231f20" stroke-width="0.35">KLS</text>
<text x="255.2" y="1024.8" font-size="17.8" font-weight="bold" textLength="48" lengthAdjust="spacingAndGlyphs" fill="#231f20" stroke="#231f20" stroke-width="0.35">upper</text>
<text x="308" y="1024.8" font-size="17.8" font-weight="bold" textLength="21.2" lengthAdjust="spacingAndGlyphs" fill="#231f20" stroke="#231f20" stroke-width="0.35">SP</text>
<text x="329" y="1019.2" font-size="10.7" font-weight="bold" textLength="20.8" lengthAdjust="spacingAndGlyphs" fill="#231f20" stroke="#231f20" stroke-width="0.35">KLS</text>
<text x="416.6" y="1024.8" font-size="17.8" font-weight="bold" textLength="47.8" lengthAdjust="spacingAndGlyphs" fill="#231f20" stroke="#231f20" stroke-width="0.35">lower</text>
<text x="468.5" y="1024.8" font-size="17.8" font-weight="bold" textLength="19.7" lengthAdjust="spacingAndGlyphs" fill="#231f20" stroke="#231f20" stroke-width="0.35">SP</text>
<text x="487.3" y="1019.5" font-size="10.7" font-weight="bold" textLength="21" lengthAdjust="spacingAndGlyphs" fill="#231f20" stroke="#231f20" stroke-width="0.35">KLS</text>
</svg>
</body></html>
